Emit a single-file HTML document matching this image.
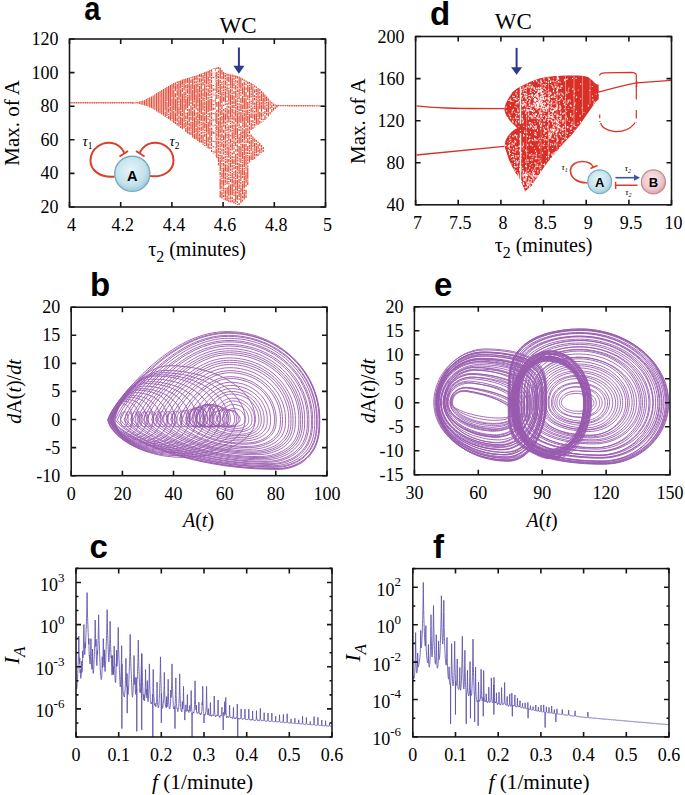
<!DOCTYPE html>
<html><head><meta charset="utf-8"><style>
html,body{margin:0;padding:0;background:#fff;}
body{width:685px;height:795px;overflow:hidden;}
svg{display:block;}
</style></head><body>
<svg width="685" height="795" viewBox="0 0 685 795">
<path d="M70.5 102.7 L134 102.7 M276 105.6 L324.5 105.9" stroke="#e0523e" stroke-width="1.4" fill="none" stroke-dasharray="1.3 0.5"/>
<path d="M132.50 102.1V103.4M134.22 102.5V103.5M135.94 102.0V103.5M137.66 102.0V103.5M139.38 101.5V104.0M141.10 101.0V104.5M142.82 100.5V105.0M144.54 100.0V105.5M146.26 99.0V106.0M147.98 98.0V106.5M149.70 97.5V107.5M151.42 96.5V108.0M153.14 95.5V109.0M154.86 94.5V110.0M156.58 93.0V111.5M158.30 92.0V112.5M160.02 91.0V113.5M161.74 90.0V114.5M163.46 89.0V115.5" stroke="#e0523e" stroke-width="1.15" fill="none"/>
<path d="M165.18 88.0V110.4M165.18 111.6V117.0M166.90 87.0V101.1M166.90 101.8V116.0M166.90 117.2V118.0M168.62 86.0V107.6M168.62 108.2V112.8M168.62 114.0V115.3M168.62 116.1V119.0M170.34 85.0V106.2M170.34 106.9V111.4M170.34 112.3V120.5M172.06 84.0V97.4M172.06 98.6V119.4M172.06 120.2V121.5M173.78 83.0V88.8M173.78 89.6V110.1M173.78 110.8V123.0M175.50 82.5V84.7M175.50 85.3V91.0M175.50 93.2V97.5M175.50 98.7V111.6M175.50 112.4V121.0M175.50 121.6V124.0M177.22 81.5V83.0M177.22 83.8V89.4M177.22 90.2V95.8M177.22 96.7V116.4M177.22 117.6V121.8M177.22 123.0V125.5M178.94 81.0V100.3M178.94 101.1V103.3M178.94 104.1V105.6M178.94 106.4V114.6M178.94 115.4V119.6M178.94 120.2V126.5M180.66 80.5V88.6M180.66 89.3V97.4M180.66 98.2V110.3M180.66 110.9V116.3M180.66 117.0V125.1M180.66 125.8V128.0M182.38 79.5V84.8M182.38 85.5V87.0M182.38 87.9V91.9M182.38 93.4V111.9M182.38 112.7V116.6M182.38 117.4V129.3M184.10 79.0V90.6M184.10 91.8V103.5M184.10 104.1V122.2M184.10 123.1V128.3M184.10 130.5V130.5M185.82 78.5V83.6M185.82 84.8V88.6M185.82 89.2V90.7M185.82 91.6V95.4M185.82 96.0V97.8M185.82 98.4V109.8M185.82 112.8V114.3M185.82 115.5V119.3M185.82 120.0V121.3M185.82 122.1V127.1M185.82 127.7V132.0M187.54 78.0V83.0M187.54 84.2V87.9M187.54 88.5V93.4M187.54 94.9V96.2M187.54 96.8V108.0M187.54 108.8V111.0M187.54 112.2V119.6M187.54 120.4V125.4M187.54 126.3V133.5M189.26 77.5V94.5M189.26 95.1V106.0M189.26 109.0V116.2M189.26 117.1V122.0M189.26 122.8V126.4M189.26 127.1V130.8M189.26 131.6V134.5M190.98 77.0V78.3M190.98 79.5V83.1M190.98 84.3V100.8M190.98 101.7V103.9M190.98 105.4V116.1M190.98 116.7V120.2M190.98 121.7V128.9M190.98 129.5V131.0M190.98 131.6V135.1M192.70 76.5V77.8M192.70 78.5V88.9M192.70 89.8V106.0M192.70 106.8V110.3M192.70 111.0V121.4M192.70 122.1V137.5M194.42 76.0V80.5M194.42 81.2V83.4M194.42 84.6V100.4M194.42 101.1V102.6M194.42 103.8V108.3M194.42 109.5V116.3M194.42 117.2V133.0M194.42 133.8V139.0M196.14 75.5V79.9M196.14 80.7V82.9M196.14 83.6V93.5M196.14 94.2V109.6M196.14 112.6V114.8M196.14 115.4V119.9M196.14 120.5V127.1M196.14 127.8V132.2M196.14 132.8V139.4M196.14 140.0V140.0M197.86 75.0V76.8M197.86 77.6V79.8M197.86 80.6V82.4M197.86 83.3V87.6M197.86 88.5V103.5M197.86 104.3V106.5M197.86 107.7V111.0M197.86 111.8V118.2M197.86 119.0V125.4M197.86 126.2V141.0M199.58 74.0V77.1M199.58 78.3V82.5M199.58 83.4V84.9M199.58 86.1V92.4M199.58 93.3V97.5M199.58 98.1V112.7M199.58 113.6V119.9M199.58 120.5V123.7M199.58 124.5V126.3M199.58 127.2V130.3M199.58 130.9V132.2M199.58 133.4V136.5M199.58 137.2V142.5M201.30 73.5V77.6M201.30 78.3V82.4M201.30 83.1V89.2M201.30 89.8V98.9M201.30 99.8V114.1M201.30 115.0V121.1M201.30 122.0V123.5M201.30 124.1V125.6M201.30 126.8V130.9M201.30 132.1V134.3M201.30 135.1V139.2M201.30 139.8V142.8M203.02 73.0V74.3M203.02 74.9V80.9M203.02 81.7V85.6M203.02 88.6V91.6M203.02 92.4V96.4M203.02 97.1V101.0M203.02 101.6V110.6M203.02 112.1V121.0M203.02 121.6V130.5M203.02 131.4V133.6M203.02 134.5V143.4M203.02 144.2V145.0M204.74 72.0V75.9M204.74 76.6V78.4M204.74 79.3V83.1M204.74 83.8V97.3M204.74 97.9V99.4M204.74 100.1V101.4M204.74 102.2V105.1M204.74 105.7V108.6M204.74 109.3V111.5M204.74 112.2V115.1M204.74 115.7V121.5M204.74 122.4V128.2M204.74 129.4V131.2M204.74 132.0V133.3M204.74 133.9V136.8M204.74 139.8V141.3M204.74 142.2V144.0M204.74 144.9V146.0M206.46 71.5V84.6M206.46 85.5V87.3M206.46 88.2V90.4M206.46 91.6V100.0M206.46 100.9V114.1M206.46 114.8V123.2M206.46 124.1V132.5M206.46 133.2V146.3M206.46 147.2V147.5M208.18 71.0V73.7M208.18 74.3V75.6M208.18 76.2V81.7M208.18 82.3V84.5M208.18 85.1V86.9M208.18 88.4V92.0M208.18 92.6V96.3M208.18 96.9V98.7M208.18 99.4V112.1M208.18 113.3V114.8M208.18 116.0V117.3M208.18 117.9V119.7M208.18 121.9V134.6M208.18 136.8V142.3M208.18 143.2V148.5M209.90 70.0V77.9M209.90 79.1V80.9M209.90 81.5V83.0M209.90 83.6V88.9M209.90 89.5V93.1M209.90 93.7V95.9M209.90 96.7V98.2M209.90 98.9V111.2M209.90 112.4V117.7M209.90 118.9V126.8M209.90 127.7V140.1M209.90 140.9V143.5M209.90 144.1V145.6M209.90 146.8V149.0M211.62 69.5V71.7M211.62 72.5V75.9M211.62 76.7V78.9M211.62 79.8V83.2M211.62 84.0V89.2M211.62 90.1V92.3M211.62 93.5V95.3M211.62 96.2V98.0M211.62 98.8V110.7M211.62 112.2V115.6M211.62 116.3V118.9M211.62 119.8V121.6M211.62 122.2V125.6M211.62 127.8V130.4M211.62 131.0V136.1M211.62 137.0V142.1M211.62 142.7V146.1M211.62 147.3V148.8M211.62 149.7V152.0M213.34 68.5V69.8M213.34 72.8V75.0M213.34 76.2V81.2M213.34 81.9V83.2M213.34 84.4V86.2M213.34 87.0V94.4M213.34 95.6V97.4M213.34 98.9V102.2M213.34 103.4V105.9M213.34 107.1V114.5M213.34 117.5V122.5M213.34 125.5V126.8M213.34 127.7V129.5M213.34 130.4V137.8M213.34 138.6V139.9M213.34 140.7V152.3M213.34 153.0V154.0M215.06 68.0V71.2M215.06 72.4V73.7M215.06 74.3V76.7M215.06 77.6V82.4M215.06 83.0V85.2M215.06 85.9V87.4M215.06 88.3V90.7M215.06 92.2V93.7M215.06 94.4V96.8M215.06 97.5V104.7M215.06 105.6V106.9M215.06 107.6V109.4M215.06 111.6V122.8M215.06 124.3V126.1M215.06 127.0V128.8M215.06 129.7V131.5M215.06 132.3V139.5M215.06 140.4V145.2M215.06 146.4V153.6M215.06 154.8V156.0M216.78 67.5V69.0M216.78 72.0V79.2M216.78 79.9V81.2M216.78 81.8V93.0M216.78 94.2V99.0M216.78 102.0V106.8M216.78 109.8V112.0M216.78 112.8V124.0M216.78 125.2V130.0M216.78 130.8V132.6M216.78 133.2V136.4M216.78 137.2V140.4M216.78 141.2V148.4M216.78 149.1V158.0M218.50 67.0V69.2M218.50 70.4V72.8M218.50 73.7V75.0M218.50 75.7V77.9M218.50 78.8V86.0M218.50 86.8V88.6M218.50 89.5V91.9M218.50 92.6V93.9M218.50 95.1V96.4M218.50 97.3V98.6M218.50 101.6V112.8M218.50 113.6V116.8M218.50 118.0V120.2M218.50 120.9V125.7M218.50 126.3V137.5M218.50 138.4V140.2M218.50 141.1V144.3M218.50 145.0V147.2M218.50 148.0V150.4M218.50 151.0V152.8M218.50 154.3V156.5M218.50 157.1V161.9M218.50 163.1V164.9M218.50 165.8V166.0M220.22 67.5V78.7M220.22 79.9V83.1M220.22 84.0V95.2M220.22 96.0V107.2M220.22 108.4V109.9M220.22 110.7V115.5M220.22 116.7V127.9M220.22 128.5V133.3M220.22 134.2V137.4M220.22 138.0V140.4M220.22 141.6V143.1M220.22 143.7V145.2M220.22 145.8V147.6M220.22 148.3V150.1M220.22 150.9V154.1M220.22 155.0V156.5M220.22 157.2V159.0M220.22 159.7V170.9M220.22 172.1V175.3M220.22 176.2V177.5M220.22 178.4V189.6M220.22 190.8V197.5M221.94 70.0V74.8M221.94 76.0V79.2M221.94 81.4V82.9M221.94 83.5V85.0M221.94 85.9V89.1M221.94 90.0V91.3M221.94 92.0V103.2M221.94 104.4V109.2M221.94 110.1V114.9M221.94 115.8V120.6M221.94 121.4V124.6M221.94 125.3V132.5M221.94 133.3V138.1M221.94 139.0V141.2M221.94 142.1V146.9M221.94 148.4V151.6M221.94 152.3V153.6M221.94 154.8V162.0M221.94 162.9V164.7M221.94 165.5V166.8M221.94 167.7V169.5M221.94 170.2V171.7M221.94 172.4V177.2M221.94 177.8V179.3M221.94 180.0V184.8M221.94 185.6V188.8M221.94 189.7V191.2M221.94 192.1V198.5M223.66 72.0V79.2M223.66 80.4V82.6M223.66 83.2V84.5M223.66 85.2V88.4M223.66 89.2V91.0M223.66 91.7V93.0M223.66 93.8V95.6M223.66 96.8V101.6M223.66 104.6V106.1M223.66 109.1V111.3M223.66 112.5V123.7M223.66 124.4V126.8M223.66 129.8V133.0M223.66 135.2V140.0M223.66 140.8V142.3M223.66 143.5V148.3M223.66 149.2V151.6M223.66 152.3V154.5M223.66 156.7V159.1M223.66 160.3V161.6M223.66 163.1V166.3M223.66 167.5V178.7M223.66 179.4V186.6M223.66 187.2V189.4M223.66 190.0V191.5M223.66 192.2V193.7M223.66 194.9V197.3M223.66 198.8V199.5M225.38 73.0V74.3M225.38 74.9V77.1M225.38 77.7V79.5M225.38 80.4V85.2M225.38 86.0V88.4M225.38 89.0V90.5M225.38 91.2V102.4M225.38 103.6V105.1M225.38 108.1V109.4M225.38 110.2V112.6M225.38 113.4V120.6M225.38 121.4V123.8M225.38 124.7V129.5M225.38 130.3V131.6M225.38 132.5V139.7M225.38 140.5V143.7M225.38 144.3V147.5M225.38 148.3V149.8M225.38 150.7V152.9M225.38 153.7V155.0M225.38 155.9V158.1M225.38 158.8V160.3M225.38 160.9V163.3M225.38 164.2V171.4M225.38 172.6V175.8M225.38 176.4V179.6M225.38 180.3V182.7M225.38 183.4V184.7M225.38 187.7V189.5M225.38 190.2V197.4M225.38 198.1V200.3M227.10 73.5V75.9M227.10 76.5V81.3M227.10 82.2V83.5M227.10 84.1V86.3M227.10 87.0V91.8M227.10 92.4V94.2M227.10 95.4V97.6M227.10 100.6V102.1M227.10 102.9V105.3M227.10 106.1V107.6M227.10 108.3V119.5M227.10 120.4V122.8M227.10 123.7V125.5M227.10 126.7V128.2M227.10 128.8V131.0M227.10 132.2V133.5M227.10 134.1V135.9M227.10 136.6V137.9M227.10 140.1V142.5M227.10 143.3V145.7M227.10 146.6V149.8M227.10 150.4V155.2M227.10 156.1V157.6M227.10 158.5V163.3M227.10 164.5V166.7M227.10 167.3V172.1M227.10 173.3V174.8M227.10 175.6V177.4M227.10 178.1V180.5M227.10 181.1V184.3M227.10 187.3V194.5M227.10 195.4V201.0M228.82 74.0V76.4M228.82 77.1V81.9M228.82 84.1V85.6M228.82 87.8V89.3M228.82 90.2V101.4M228.82 102.2V104.6M228.82 105.8V108.2M228.82 109.4V114.2M228.82 115.4V122.6M228.82 125.6V130.4M228.82 131.2V132.7M228.82 133.5V140.7M228.82 141.9V143.7M228.82 144.4V145.7M228.82 146.6V157.8M228.82 159.0V162.2M228.82 163.0V164.8M228.82 165.4V172.6M228.82 173.8V176.0M228.82 176.9V180.1M228.82 180.9V182.2M228.82 183.1V184.6M228.82 185.4V196.6M228.82 197.4V198.9M228.82 199.6V202.0M230.54 74.5V85.7M230.54 86.3V88.1M230.54 88.7V93.5M230.54 94.2V105.4M230.54 106.2V117.4M230.54 118.1V119.4M230.54 120.6V121.9M230.54 122.8V124.1M230.54 124.9V128.1M230.54 129.3V131.7M230.54 134.7V136.5M230.54 138.7V143.5M230.54 144.3V147.5M230.54 148.4V150.6M230.54 151.8V153.6M230.54 154.4V155.9M230.54 156.5V158.9M230.54 159.8V162.2M230.54 162.8V167.6M230.54 168.4V170.8M230.54 172.0V173.5M230.54 174.4V176.2M230.54 176.9V178.2M230.54 178.9V182.1M230.54 184.3V195.5M230.54 196.4V199.6M230.54 200.5V202.5M232.26 74.5V76.7M232.26 77.4V88.6M232.26 89.4V91.6M232.26 92.5V94.3M232.26 95.1V99.9M232.26 100.7V103.9M232.26 104.8V108.0M232.26 108.7V113.5M232.26 114.3V116.7M232.26 117.3V119.7M232.26 120.9V123.3M232.26 124.5V129.3M232.26 130.1V131.6M232.26 132.3V139.5M232.26 140.4V141.9M232.26 143.1V150.3M232.26 152.5V154.7M232.26 155.9V158.3M232.26 159.1V163.9M232.26 165.1V167.5M232.26 168.2V170.0M232.26 170.6V171.9M232.26 173.1V177.9M232.26 178.6V183.4M232.26 184.0V195.2M232.26 196.7V199.1M232.26 199.8V202.2M233.98 75.0V77.4M233.98 78.1V80.3M233.98 80.9V82.2M233.98 83.0V86.2M233.98 86.9V88.7M233.98 90.9V94.1M233.98 95.6V100.4M233.98 101.0V104.2M233.98 105.0V108.2M233.98 109.4V110.7M233.98 111.4V114.6M233.98 115.8V120.6M233.98 121.8V124.2M233.98 125.1V127.3M233.98 128.2V139.4M233.98 140.6V143.8M233.98 145.0V146.5M233.98 147.4V149.6M233.98 151.1V154.3M233.98 156.5V158.0M233.98 159.2V164.0M233.98 164.9V166.2M233.98 167.0V169.4M233.98 171.6V172.9M233.98 173.5V175.3M233.98 176.5V178.9M233.98 179.8V187.0M233.98 189.2V191.0M233.98 191.6V193.4M233.98 194.3V196.1M233.98 199.1V200.4M233.98 201.0V203.5M235.70 75.5V78.7M235.70 79.9V81.7M235.70 82.4V83.7M235.70 84.9V89.7M235.70 90.6V97.8M235.70 99.0V106.2M235.70 107.0V108.8M235.70 109.4V116.6M235.70 117.4V122.2M235.70 123.7V134.9M235.70 135.8V137.1M235.70 138.0V140.2M235.70 141.4V146.2M235.70 149.2V151.6M235.70 153.8V165.0M235.70 165.9V169.1M235.70 170.0V177.2M235.70 177.9V179.4M235.70 180.0V184.8M235.70 185.6V190.4M235.70 191.0V202.2M235.70 203.0V204.0M237.42 76.0V78.4M237.42 80.6V83.0M237.42 83.9V85.2M237.42 86.4V88.6M237.42 89.5V91.9M237.42 93.4V94.7M237.42 95.5V96.8M237.42 97.4V99.6M237.42 100.3V102.1M237.42 102.9V104.7M237.42 105.4V110.2M237.42 111.0V112.5M237.42 113.3V124.5M237.42 125.1V126.6M237.42 128.1V139.3M237.42 140.1V143.3M237.42 144.5V147.7M237.42 148.5V151.7M237.42 153.2V155.6M237.42 156.4V158.8M237.42 159.6V161.4M237.42 162.6V165.0M237.42 165.7V170.5M237.42 171.4V173.6M237.42 174.3V179.1M237.42 180.0V191.2M237.42 191.9V193.4M237.42 194.9V199.7M237.42 201.2V203.0M237.42 203.9V205.0M239.14 76.5V87.7M239.14 88.5V95.7M239.14 96.3V99.5M239.14 100.7V102.0M239.14 103.2V105.4M239.14 106.2V108.0M239.14 108.6V111.0M239.14 111.6V114.8M239.14 115.5V122.7M239.14 123.5V125.9M239.14 126.5V128.3M239.14 129.1V130.9M239.14 133.9V135.4M239.14 136.6V143.8M239.14 146.0V157.2M239.14 157.9V159.7M239.14 160.3V161.8M239.14 163.0V174.2M239.14 175.4V177.8M239.14 178.7V183.5M239.14 184.3V189.1M239.14 189.9V197.1M239.14 198.3V200.1M239.14 203.1V205.0M240.86 77.5V88.7M240.86 89.3V91.1M240.86 91.9V93.4M240.86 94.6V95.9M240.86 98.1V102.9M240.86 103.8V111.0M240.86 111.9V123.1M240.86 126.1V128.5M240.86 129.2V131.0M240.86 131.7V142.9M240.86 143.8V145.6M240.86 146.2V157.4M240.86 158.2V163.0M240.86 163.9V167.1M240.86 167.7V169.0M240.86 169.7V180.9M240.86 182.1V184.3M240.86 185.2V186.7M240.86 187.5V192.3M240.86 193.1V203.0M242.58 78.5V80.3M242.58 83.3V86.5M242.58 87.3V94.5M242.58 96.0V103.2M242.58 104.4V109.2M242.58 110.1V111.9M242.58 112.5V113.8M242.58 114.6V121.8M242.58 122.6V123.9M242.58 124.6V126.8M242.58 128.0V129.8M242.58 130.6V133.8M242.58 134.7V137.9M242.58 139.1V142.3M242.58 143.8V148.6M242.58 149.5V151.0M242.58 151.9V159.1M242.58 160.0V161.3M242.58 162.1V163.6M242.58 164.2V167.4M242.58 168.0V175.2M242.58 176.1V177.9M242.58 180.9V182.7M242.58 183.4V194.6M242.58 195.8V198.2M242.58 199.4V201.5M244.30 79.5V81.3M244.30 82.1V85.3M244.30 86.1V97.3M244.30 98.0V109.2M244.30 110.4V112.2M244.30 113.0V116.2M244.30 116.8V128.0M244.30 129.2V140.4M244.30 141.6V143.1M244.30 144.0V155.2M244.30 155.9V167.1M244.30 168.0V169.5M244.30 170.2V175.0M244.30 175.6V180.4M244.30 181.1V188.3M244.30 189.5V191.3M244.30 192.2V199.5M246.02 80.5V82.3M246.02 83.5V85.3M246.02 87.5V89.9M246.02 92.1V96.9M246.02 97.7V108.9M246.02 109.8V121.0M246.02 122.2V127.0M246.02 127.9V139.1M246.02 140.6V142.8M246.02 143.7V146.9M246.02 147.7V150.9M246.02 151.7V153.9M246.02 154.5V165.7M246.02 166.5V168.7M246.02 169.3V170.8M246.02 172.0V183.2M246.02 184.4V186.8M246.02 189.8V194.6M246.02 195.2V198.0M247.74 81.5V83.9M247.74 85.1V92.3M247.74 95.3V97.7M247.74 98.3V99.8M247.74 102.0V109.2M247.74 110.1V114.9M247.74 115.7V122.9M247.74 125.1V127.5M247.74 128.3V130.7M247.74 131.4V133.2M247.74 133.9V137.1M247.74 138.3V143.1M247.74 146.1V150.9M247.74 152.1V153.9M247.74 155.1V156.4M247.74 157.1V158.4M247.74 159.3V161.1M247.74 162.3V164.1M247.74 165.6V166.9M247.74 167.6V178.8M247.74 179.4V180.9M247.74 181.6V185.0M249.46 82.0V83.8M249.46 84.7V86.0M249.46 86.7V97.9M249.46 98.8V100.6M249.46 101.2V103.6M249.46 104.2V105.5M249.46 106.2V108.0M249.46 109.5V111.0M249.46 111.9V113.2M249.46 114.1V125.3M249.46 126.5V129.7M249.46 130.6V133.8M249.46 135.0V136.5M249.46 137.2V139.6M249.46 140.8V144.0M249.46 144.7V146.9M249.46 147.6V149.1M249.46 149.9V151.7M249.46 152.5V154.3M249.46 155.5V162.5M251.18 83.0V90.2M251.18 90.9V92.4M251.18 93.2V95.4M251.18 96.0V97.5M251.18 100.5V102.0M251.18 102.8V104.3M251.18 105.2V107.0M251.18 107.7V112.5M251.18 113.2V118.0M251.18 120.2V122.0M251.18 122.9V130.1M251.18 134.5V136.9M251.18 137.7V139.0M251.18 139.9V151.1M251.18 152.6V154.4M251.18 155.2V160.0M251.18 161.2V161.5M252.90 84.0V85.5M252.90 86.3V97.5M252.90 98.1V105.3M252.90 106.5V108.9M252.90 109.5V112.7M252.90 113.6V118.4M252.90 119.9V123.1M252.90 123.9V126.1M252.90 126.9V129.0M252.90 136.5V143.7M252.90 144.6V147.0M252.90 148.2V149.5M252.90 150.4V160.0M254.62 85.5V87.3M254.62 89.5V92.7M254.62 94.9V97.3M254.62 98.0V100.2M254.62 102.4V104.8M254.62 105.5V107.0M254.62 107.6V108.9M254.62 111.1V112.6M254.62 113.4V120.6M254.62 121.8V123.3M254.62 123.9V126.3M254.62 127.0V127.5M254.62 138.5V141.7M254.62 142.9V147.7M254.62 148.3V150.7M254.62 151.4V153.2M254.62 153.8V156.2M254.62 157.1V159.0M256.34 86.5V88.0M256.34 88.9V92.1M256.34 92.7V95.1M256.34 95.9V97.7M256.34 98.6V100.4M256.34 101.3V112.5M256.34 113.4V124.6M256.34 125.8V126.0M256.34 140.0V141.8M256.34 142.7V144.9M256.34 145.7V152.9M256.34 153.8V156.2M258.06 88.0V99.2M258.06 99.8V103.0M258.06 103.6V105.4M258.06 106.0V117.2M258.06 117.9V125.0M258.06 141.5V143.0M258.06 144.2V149.0M258.06 149.6V152.0M258.06 153.5V156.0M259.78 89.0V91.2M259.78 92.0V94.2M259.78 95.7V98.1M259.78 98.8V101.2M259.78 101.8V109.0M259.78 112.0V119.2M259.78 120.7V123.5M259.78 143.0V146.2M259.78 148.4V153.2M259.78 154.0V154.5M261.50 91.0V93.4M261.50 94.1V101.3M261.50 102.2V104.0M261.50 104.6V111.8M261.50 112.6V117.4M261.50 118.2V120.0M261.50 121.5V122.5M261.50 145.0V147.4M261.50 148.1V150.5M261.50 151.4V152.7M263.22 92.5V97.3M263.22 98.1V109.3M263.22 112.3V113.6M263.22 114.3V115.8M263.22 118.8V120.1M263.22 120.7V121.5M263.22 147.0V149.2M263.22 149.9V152.0M264.94 94.5V101.7M264.94 102.4V104.6M264.94 105.2V110.0M264.94 110.9V114.1M264.94 115.3V120.0M266.66 96.5V101.3M266.66 102.0V103.5M266.66 104.4V106.2M266.66 107.4V112.2M266.66 112.9V115.3M266.66 117.5V118.5M268.38 98.5V100.7M268.38 101.4V112.6M268.38 113.2V116.4M270.10 100.5V102.7M270.10 103.3V105.5M270.10 106.7V108.9M270.10 111.9V114.3M271.82 102.0V103.8M271.82 104.7V107.9M271.82 109.1V112.3M273.54 103.5V105.9M273.54 107.4V110.5M275.26 104.5V105.8M275.26 106.5V109.0M276.98 105.0V107.5" stroke="#e0523e" stroke-width="1.25" fill="none"/>
<path d="M212.6 69.0h2.4v2.5h-2.4zM212.6 72.7h2.4v4h-2.4zM212.2 77.9h3.2v7h-3.2zM212.4 86.1h2.8v2.5h-2.8zM212.6 90.8h2.4v3h-2.4zM212.6 95.4h2.4v5h-2.4zM212.6 101.6h2.4v2.5h-2.4zM212.4 105.3h2.8v2.5h-2.8zM212.4 110.0h2.8v3h-2.8zM212.4 114.2h2.8v5h-2.8zM212.6 120.4h2.4v4h-2.4zM212.6 126.6h2.4v5h-2.4zM212.2 133.8h3.2v7h-3.2zM212.2 142.0h3.2v4h-3.2zM212.2 147.2h3.2v4h-3.2zM212.2 153.4h3.2v2.5h-3.2zM212.6 157.5h2.4v3h-2.4z" fill="#fff" opacity="0.95"/>
<path d="M238.9 47.5V68" stroke="#2b3990" stroke-width="2" fill="none"/><path d="M233.4 65.8L244.4 65.8L238.9 73.8Z" fill="#2b3990"/>
<defs><radialGradient id="ga" cx="0.45" cy="0.4" r="0.6"><stop offset="0" stop-color="#e6f4f8"/><stop offset="0.7" stop-color="#c4e2ec"/><stop offset="1" stop-color="#9ccbdb"/></radialGradient>
<radialGradient id="gb" cx="0.45" cy="0.4" r="0.6"><stop offset="0" stop-color="#f8e8ea"/><stop offset="0.7" stop-color="#ecc8cc"/><stop offset="1" stop-color="#d8a2a8"/></radialGradient></defs>
<path d="M115 176.5 C100 178 90 170 90.5 160 C91 148 102 141.5 112 143 C118 144 122 148 124.5 153" stroke="#d9402b" stroke-width="2" fill="none"/>
<path d="M119.5 156.5 L128 151" stroke="#d9402b" stroke-width="2" fill="none"/>
<path d="M150 176 C164 178 174 170 173.5 160 C173 148 162 141.5 152 143 C146 144 142 148 139.5 153" stroke="#d9402b" stroke-width="2" fill="none"/>
<path d="M144.5 156.5 L136 151" stroke="#d9402b" stroke-width="2" fill="none"/>
<circle cx="132.3" cy="173.8" r="17.6" fill="url(#ga)" stroke="#78aebe" stroke-width="1.4"/>
<text x="132.3" y="180.6" font-family="Liberation Sans, sans-serif" font-weight="bold" font-size="14.5" text-anchor="middle">A</text>
<text x="82.5" y="145.5" font-family="Liberation Serif, serif" font-style="italic" font-size="14.5">τ<tspan dy="3" font-size="9.5" font-style="normal">1</tspan></text>
<text x="169.5" y="145.5" font-family="Liberation Serif, serif" font-style="italic" font-size="14.5">τ<tspan dy="3" font-size="9.5" font-style="normal">2</tspan></text>
<path d="M416.6 105.8 C430 107.5 445 108.2 470 108.5 L504 108.6" stroke="#da2f27" stroke-width="1.3" fill="none"/>
<path d="M416.6 155 L504 146.3" stroke="#da2f27" stroke-width="1.3" fill="none"/>
<path d="M598.5 92.2 C610 89 625 85 636.5 82.9 L671 80.4" stroke="#da2f27" stroke-width="1.3" fill="none"/>
<path d="M636.5 81 V87" stroke="#da2f27" stroke-width="1.6" fill="none"/>
<path d="M599.5 75.5 C600 73.5 602 73 605 72.9 L632 72.4 C635 72.6 636.5 74 636.4 76" stroke="#da2f27" stroke-width="1.2" fill="none"/>
<path d="M636.3 76 V81 M636.3 86 V99.5 M636.3 110 V118.5 M636.3 122 V122.5" stroke="#da2f27" stroke-width="1.2" fill="none"/>
<path d="M599.7 114.6 V118.3 M599.9 121 V122" stroke="#da2f27" stroke-width="1.2" fill="none"/>
<path d="M600.5 123 C602 128 606 130.5 614.8 131.6 C623 132 630 129 634.2 123.9 L635 122.5" stroke="#da2f27" stroke-width="1.2" fill="none"/>
<path d="M504.2 108.8 L506.0 103.0 L509.0 97.5 L512.6 92.0 L517.0 88.5 L523.6 84.9 L531.0 81.5 L539.3 78.6 L547.0 77.0 L555.0 76.0 L567.0 75.6 L578.6 75.5 L584.0 76.0 L588.0 77.0 L592.0 80.0 L594.3 82.6 L596.5 84.2 L598.6 84.5 L598.8 93.0 L598.6 99.5 L596.0 101.4 L588.0 113.0 L580.0 124.5 L572.0 134.5 L562.9 143.9 L555.0 153.5 L547.2 162.8 L539.0 174.5 L531.4 186.4 L525.2 191.5 L520.4 180.0 L516.0 174.0 L512.6 167.5 L509.0 160.0 L506.3 151.8 L504.5 146.5 L505.5 140.5 L507.9 136.0 L511.0 132.5 L514.2 129.7 L517.3 128.2 L514.0 125.0 L511.0 121.9 L508.5 119.0 L506.3 115.6 L505.0 112.5Z" fill="#da2f27"/>
<path d="M519.2 169.1h1.2v1.8h-1.2zM532.4 117.6h0.9v1.3h-0.9zM538.8 143.3h0.9v1h-0.9zM537.8 144.3h1v1.3h-1zM535.0 107.3h1.2v1.3h-1.2zM527.3 106.6h1v1.3h-1zM576.0 110.8h1v1.3h-1zM544.4 138.9h1.2v1h-1.2zM529.4 85.1h0.9v1.3h-0.9zM540.0 83.5h1.2v0.9h-1.2zM537.1 120.5h1v1.3h-1zM541.6 86.4h0.9v1h-0.9zM544.7 129.9h0.9v1h-0.9zM521.5 117.7h1.2v1.8h-1.2zM553.3 116.3h0.9v1h-0.9zM533.1 81.1h0.9v1h-0.9zM540.1 165.8h1v1h-1zM556.9 78.2h0.9v1.3h-0.9zM549.0 133.0h0.9v1.8h-0.9zM569.1 99.5h1.2v1h-1.2zM541.3 100.4h0.9v1.3h-0.9zM541.0 112.4h1v1.8h-1zM523.6 108.8h1v1.8h-1zM530.1 159.5h0.9v1.3h-0.9zM555.7 121.4h1v1.8h-1zM526.6 153.6h1v0.9h-1zM556.6 126.0h1v1h-1zM564.4 79.3h1.2v1.8h-1.2zM522.1 173.4h1v1h-1zM541.4 97.5h1v1.3h-1zM511.3 156.1h1v1h-1zM520.8 91.2h1.2v1.3h-1.2zM557.3 76.1h1.2v1.8h-1.2zM562.1 129.0h0.9v1.8h-0.9zM522.7 183.0h1.2v1.8h-1.2zM524.6 103.3h1.2v1.3h-1.2zM513.8 165.7h1.2v0.9h-1.2zM516.7 94.8h1v1.3h-1zM519.5 157.5h1.2v1.3h-1.2zM548.2 119.0h0.9v1.8h-0.9zM523.5 102.8h1.2v1.3h-1.2zM546.2 156.0h1v0.9h-1zM549.3 136.6h1.2v1.8h-1.2zM512.5 101.0h1v0.9h-1zM546.1 97.5h1v0.9h-1zM538.4 92.0h0.9v1h-0.9zM537.3 165.8h1.2v0.9h-1.2zM554.0 135.6h1.2v1.8h-1.2zM546.7 106.2h1.2v1.8h-1.2zM534.0 98.0h1.2v1.8h-1.2zM537.0 174.9h0.9v1.8h-0.9zM533.6 88.3h1.2v1h-1.2zM540.0 170.4h1v1.8h-1zM548.5 151.8h1.2v1h-1.2zM521.4 89.1h1v1.3h-1zM534.3 134.0h0.9v1.3h-0.9zM535.2 105.6h0.9v1.3h-0.9zM537.7 104.5h1.2v1.8h-1.2zM553.9 121.2h0.9v0.9h-0.9zM552.2 121.0h1.2v1.8h-1.2zM553.5 118.3h0.9v0.9h-0.9zM515.5 122.8h1.2v1.8h-1.2zM536.0 102.6h1v1.3h-1zM531.7 159.1h1v0.9h-1zM523.9 102.7h1.2v1.8h-1.2zM536.8 95.2h1.2v1.8h-1.2zM522.5 100.9h0.9v1.8h-0.9zM534.6 106.3h1v1.8h-1zM528.9 84.0h1.2v0.9h-1.2zM568.8 120.7h0.9v1.3h-0.9zM550.8 128.4h1v1h-1zM528.9 115.5h1v1.3h-1zM531.6 105.0h0.9v1.8h-0.9zM526.2 95.7h1.2v1.3h-1.2zM536.3 101.9h0.9v1.8h-0.9zM566.1 135.2h1v0.9h-1zM523.5 187.1h1v1h-1zM529.3 123.0h0.9v1h-0.9zM509.3 139.0h1v1.3h-1zM533.9 88.9h1v1h-1zM522.6 92.8h1.2v1h-1.2zM522.0 104.9h0.9v1.8h-0.9zM538.7 101.8h1.2v1.8h-1.2zM573.4 94.8h1.2v1h-1.2zM556.0 136.5h0.9v1h-0.9zM557.5 121.2h0.9v1h-0.9zM524.8 175.5h1v1.3h-1zM549.3 98.6h0.9v1.3h-0.9zM516.5 147.2h1v0.9h-1zM518.2 100.8h0.9v1.8h-0.9zM523.7 179.1h1.2v1.8h-1.2zM540.9 163.2h1v1.3h-1zM529.2 138.9h1v1.8h-1zM537.4 94.0h0.9v1h-0.9zM546.3 97.7h1v1h-1zM532.6 156.5h1v0.9h-1zM538.0 118.0h1.2v1.3h-1.2zM510.2 138.7h1.2v1h-1.2zM528.9 122.2h1.2v1.3h-1.2zM535.1 150.3h1v1.8h-1zM526.9 99.0h1.2v1.3h-1.2zM579.9 120.9h1.2v1.8h-1.2zM548.7 136.1h1.2v0.9h-1.2zM520.7 89.3h0.9v1h-0.9zM520.8 180.8h1.2v1.3h-1.2zM563.4 119.4h1v1h-1zM510.0 153.0h0.9v0.9h-0.9zM527.1 184.0h1v1.8h-1zM514.7 170.6h0.9v1.8h-0.9zM569.7 127.6h1.2v1h-1.2zM515.5 146.7h0.9v1.8h-0.9zM528.6 97.6h0.9v1.3h-0.9zM513.9 166.3h1.2v1h-1.2zM545.8 130.2h0.9v1.3h-0.9zM551.4 113.7h1v1.3h-1zM520.1 139.6h1v1h-1zM535.8 113.2h1.2v1.8h-1.2zM520.2 166.2h1v1.3h-1zM532.3 117.1h0.9v1h-0.9zM544.9 89.0h0.9v0.9h-0.9zM527.6 181.3h0.9v1.8h-0.9zM533.4 115.5h1v0.9h-1zM523.4 174.1h0.9v1.8h-0.9zM516.7 162.8h0.9v1.8h-0.9zM532.9 173.7h1.2v1.3h-1.2zM540.1 80.2h1.2v1.3h-1.2zM531.0 182.2h0.9v0.9h-0.9zM552.4 96.9h0.9v0.9h-0.9zM536.5 93.5h0.9v1.3h-0.9zM529.1 100.3h1.2v0.9h-1.2zM540.4 107.0h1v1.8h-1zM512.3 153.9h1.2v1h-1.2zM523.6 177.9h1v1.8h-1zM574.2 103.8h0.9v1.8h-0.9zM514.2 166.3h0.9v1h-0.9zM543.7 99.3h1v1.3h-1zM539.2 137.7h0.9v1h-0.9zM561.2 142.4h1.2v0.9h-1.2zM550.6 101.9h1.2v1.8h-1.2zM524.3 95.3h1.2v1.8h-1.2zM529.6 122.0h1.2v1.3h-1.2zM516.5 149.2h1v1h-1zM543.0 127.0h0.9v1.3h-0.9zM534.8 104.4h1.2v1h-1.2zM540.6 90.1h1.2v1.8h-1.2zM530.1 89.4h1.2v1.8h-1.2zM533.3 180.4h1v1h-1zM549.4 132.1h1.2v0.9h-1.2zM557.7 120.8h0.9v0.9h-0.9zM555.4 152.5h1.2v1h-1.2zM555.6 107.1h1v1.3h-1zM522.0 115.0h0.9v1.8h-0.9zM562.3 132.2h1v0.9h-1zM516.2 98.4h1.2v1.8h-1.2zM524.3 87.8h1.2v1.3h-1.2zM527.9 188.5h0.9v1.3h-0.9zM509.0 147.8h0.9v0.9h-0.9zM538.4 82.8h0.9v1h-0.9zM552.6 128.9h1.2v1.8h-1.2zM553.9 108.6h0.9v1.8h-0.9zM520.6 96.3h1.2v1.3h-1.2zM533.8 88.1h1.2v1.8h-1.2zM528.6 97.3h1.2v1.3h-1.2zM532.7 176.4h1v1h-1zM532.5 174.6h1.2v1.3h-1.2zM536.6 157.8h0.9v0.9h-0.9zM532.7 127.9h1v1h-1zM558.9 102.6h0.9v0.9h-0.9zM537.6 94.6h1v1.3h-1zM523.5 187.2h0.9v1h-0.9zM546.1 138.9h1.2v1.3h-1.2zM539.4 111.9h1.2v1h-1.2zM566.2 110.8h0.9v1.3h-0.9zM557.9 78.4h0.9v1.3h-0.9zM521.7 145.8h1.2v1.8h-1.2zM541.5 92.9h1.2v0.9h-1.2zM528.1 178.6h1v0.9h-1zM521.4 94.9h1.2v0.9h-1.2zM530.2 98.1h0.9v1h-0.9zM527.8 169.6h0.9v1.3h-0.9zM542.6 138.0h1.2v0.9h-1.2zM515.2 156.4h0.9v1.3h-0.9zM527.5 170.3h1v0.9h-1zM545.7 80.9h1.2v1.8h-1.2zM532.3 176.9h1v1.8h-1zM534.1 87.3h0.9v1.3h-0.9zM524.1 92.9h1v1.8h-1zM528.4 177.4h1v1.8h-1zM566.6 92.8h0.9v1.3h-0.9zM538.4 110.5h1v1h-1zM544.1 105.6h1.2v1h-1.2zM513.1 155.6h0.9v1.8h-0.9zM545.9 116.8h1.2v1.3h-1.2zM540.7 89.1h0.9v1.3h-0.9zM524.5 174.9h0.9v1.3h-0.9zM518.0 175.3h1.2v1h-1.2zM521.2 152.2h1v1.3h-1zM559.6 106.8h0.9v1.8h-0.9zM553.0 138.8h1.2v0.9h-1.2zM525.6 87.2h1v1.8h-1zM550.5 92.5h1v1h-1zM534.8 170.2h1.2v0.9h-1.2zM516.8 165.4h1v1.8h-1zM542.3 94.5h1v1h-1zM559.1 147.0h1v0.9h-1zM535.1 139.3h1v0.9h-1zM515.9 119.7h1v1h-1zM570.7 105.1h0.9v1.8h-0.9zM591.7 86.2h1.2v0.9h-1.2zM532.5 173.0h0.9v1.8h-0.9zM550.9 133.4h1.2v1.3h-1.2zM557.7 123.0h1v0.9h-1zM552.2 110.8h1.2v1.8h-1.2zM559.3 109.0h1.2v1.3h-1.2zM558.0 126.2h1v1.8h-1zM530.6 115.9h1v1h-1zM529.3 136.0h1v1.8h-1zM540.2 114.9h1.2v0.9h-1.2zM548.8 96.9h0.9v1h-0.9zM543.3 132.3h1.2v1.3h-1.2zM526.4 174.1h1.2v1.8h-1.2zM534.4 94.8h1.2v1.3h-1.2zM536.2 106.8h1.2v1.3h-1.2zM521.7 103.7h0.9v1.3h-0.9zM554.7 86.2h1v1.8h-1zM515.1 149.8h1.2v1h-1.2zM552.2 107.5h1.2v1h-1.2zM523.9 135.0h0.9v1.3h-0.9zM557.7 129.6h1.2v1h-1.2zM548.7 101.2h0.9v0.9h-0.9zM533.9 126.1h1.2v1.3h-1.2zM535.0 127.9h1v1.3h-1zM550.5 119.1h1v1.3h-1zM515.4 92.8h1v1.8h-1zM570.0 127.8h0.9v1.8h-0.9zM550.1 137.3h0.9v1.3h-0.9zM548.1 105.6h1.2v1.3h-1.2zM570.4 115.1h0.9v1.8h-0.9zM559.4 108.3h1.2v0.9h-1.2zM530.7 173.6h0.9v1h-0.9zM547.5 97.7h1.2v1.8h-1.2zM540.7 112.8h1.2v1h-1.2zM530.9 125.4h1v1.3h-1zM559.7 81.8h0.9v1.3h-0.9zM561.5 85.3h1v1.8h-1zM535.4 126.9h1v1.8h-1zM550.7 116.1h0.9v1.3h-0.9zM560.3 110.7h1.2v0.9h-1.2zM524.2 180.0h0.9v0.9h-0.9zM522.8 176.3h1v1.3h-1zM513.3 143.9h0.9v0.9h-0.9zM520.1 171.5h1v0.9h-1zM529.8 126.5h0.9v0.9h-0.9zM512.3 135.6h0.9v1.3h-0.9zM530.1 109.5h0.9v1h-0.9zM548.7 115.9h1.2v1.3h-1.2zM520.6 166.3h1.2v1h-1.2zM552.2 115.4h1.2v1h-1.2zM523.4 101.1h0.9v1.3h-0.9zM553.2 77.7h0.9v1h-0.9zM536.8 102.0h1.2v1.8h-1.2zM536.0 93.4h1v1.3h-1zM525.0 165.0h1v1.8h-1zM534.8 98.2h1.2v1.8h-1.2zM550.4 135.6h0.9v1h-0.9zM559.6 127.3h1.2v1.3h-1.2zM531.8 124.0h1v0.9h-1zM544.5 149.0h1v1.3h-1zM557.3 91.8h0.9v0.9h-0.9zM539.7 160.3h0.9v1.3h-0.9zM520.7 154.9h0.9v1.3h-0.9zM544.7 98.4h1v1.3h-1zM525.2 104.0h0.9v1.3h-0.9zM512.8 117.9h0.9v1.3h-0.9zM513.1 151.4h1v1h-1zM546.0 160.3h0.9v0.9h-0.9zM534.0 97.9h0.9v1.3h-0.9zM524.3 173.8h1v1h-1zM548.9 78.8h1.2v1.3h-1.2zM545.9 134.6h1v0.9h-1zM515.4 157.4h1.2v0.9h-1.2zM527.2 110.0h1.2v1h-1.2zM558.6 93.9h1v1.3h-1zM552.6 121.2h0.9v0.9h-0.9zM528.8 97.3h1.2v0.9h-1.2zM537.1 96.1h1.2v1.8h-1.2zM545.1 115.4h1.2v1.3h-1.2zM551.6 120.5h1v1h-1zM522.6 86.1h0.9v1.3h-0.9zM515.0 116.6h1.2v1.8h-1.2zM529.0 186.0h1v1h-1zM521.9 175.4h0.9v0.9h-0.9zM537.7 118.5h0.9v1h-0.9zM557.2 107.4h0.9v1.3h-0.9zM534.1 103.3h0.9v1.3h-0.9zM536.3 80.5h0.9v1.3h-0.9zM527.0 186.6h0.9v0.9h-0.9zM533.8 180.7h1v1h-1zM552.3 128.5h1v1.3h-1zM528.2 140.4h1.2v1.3h-1.2zM531.3 115.7h1v1.8h-1zM524.3 108.7h1v1.8h-1zM528.4 95.0h1.2v0.9h-1.2zM526.8 183.8h0.9v1.8h-0.9zM516.3 135.0h1.2v1.3h-1.2zM523.5 183.8h0.9v1h-0.9zM527.3 159.3h1.2v1.8h-1.2zM566.0 79.0h0.9v0.9h-0.9zM531.7 176.9h1v0.9h-1zM543.3 84.2h1.2v0.9h-1.2zM546.5 140.2h0.9v0.9h-0.9zM514.9 155.0h0.9v1.3h-0.9zM527.1 86.0h1v1.3h-1zM575.7 77.8h0.9v1.3h-0.9zM535.2 154.8h0.9v1h-0.9zM562.5 121.9h0.9v1.8h-0.9zM531.0 153.3h0.9v0.9h-0.9zM522.6 88.3h1v0.9h-1zM507.5 146.3h1.2v0.9h-1.2zM522.9 90.4h0.9v1.3h-0.9zM515.4 112.8h1.2v1.3h-1.2zM534.9 103.5h1.2v1.8h-1.2zM513.0 147.8h0.9v1.3h-0.9zM514.7 98.0h0.9v1.3h-0.9zM533.8 175.3h1v1.3h-1zM530.4 144.0h0.9v0.9h-0.9zM548.3 152.7h1.2v1.8h-1.2zM557.2 138.1h1v1h-1zM540.5 91.6h1.2v1h-1.2zM554.0 97.1h0.9v0.9h-0.9zM560.4 136.3h1.2v1h-1.2zM528.4 173.5h1.2v0.9h-1.2zM530.3 143.8h1.2v1.8h-1.2zM547.5 97.2h0.9v1.8h-0.9zM534.0 147.8h0.9v1h-0.9zM553.5 152.0h1.2v1.8h-1.2zM569.7 104.5h1v1.8h-1zM525.2 149.6h1.2v1.3h-1.2zM519.8 159.3h1v1.3h-1zM548.3 111.9h1.2v1.3h-1.2zM562.2 113.4h1.2v1h-1.2zM557.2 139.3h1.2v1.8h-1.2zM546.7 107.2h1v0.9h-1zM537.1 170.0h1v1.8h-1zM542.2 84.6h1v1h-1zM548.6 114.8h0.9v1.8h-0.9zM522.7 86.9h0.9v0.9h-0.9zM519.0 150.1h0.9v1.3h-0.9zM530.4 107.2h1.2v1.8h-1.2zM530.6 175.3h1.2v1.8h-1.2zM529.7 164.1h1v1.3h-1zM528.8 187.2h1v1.8h-1zM527.0 185.0h0.9v0.9h-0.9zM515.5 169.7h0.9v1h-0.9zM518.0 113.4h0.9v1.8h-0.9zM545.2 98.9h1v0.9h-1zM523.3 155.7h1.2v0.9h-1.2zM527.2 144.3h1v1.8h-1zM556.9 89.1h1.2v1.8h-1.2zM566.9 78.6h0.9v0.9h-0.9zM531.3 105.1h1v1.8h-1zM523.2 125.7h1.2v1h-1.2zM512.0 150.7h0.9v1.3h-0.9zM558.2 125.1h1v1.8h-1zM544.1 163.2h1v1.8h-1zM528.7 104.8h0.9v1.3h-0.9zM569.5 133.9h1v1h-1zM539.6 119.5h1.2v1h-1.2zM563.9 80.2h1.2v1h-1.2zM559.9 133.9h1v1.8h-1zM556.7 93.2h1.2v1.3h-1.2zM518.4 176.6h0.9v1.8h-0.9zM530.1 125.1h1.2v1.8h-1.2zM548.8 115.1h1.2v1h-1.2zM544.6 137.0h0.9v1.8h-0.9zM525.8 174.4h1.2v1.3h-1.2zM516.8 149.6h1v1h-1zM540.2 96.4h1v1h-1zM519.3 99.8h1.2v1.3h-1.2zM541.7 98.1h1v0.9h-1zM531.7 122.8h0.9v1.3h-0.9zM538.8 100.3h1.2v1h-1.2zM534.7 113.5h0.9v1.3h-0.9zM554.5 95.1h1v1h-1zM528.9 105.0h1v1h-1zM549.8 128.4h1v1.8h-1zM522.8 148.6h0.9v1h-0.9zM540.1 172.8h1.2v1.3h-1.2zM529.3 94.7h1v1.3h-1zM550.8 96.3h0.9v0.9h-0.9zM556.8 114.4h1.2v1.3h-1.2zM559.4 115.4h0.9v1.8h-0.9zM558.1 78.1h1v1.3h-1zM537.1 92.5h0.9v1.8h-0.9zM546.9 118.9h1v0.9h-1zM536.4 139.8h1.2v1.3h-1.2zM543.6 105.8h1v1.3h-1zM548.4 123.3h1.2v1.3h-1.2zM566.1 115.5h0.9v0.9h-0.9zM527.8 125.8h1.2v1.8h-1.2zM538.5 87.8h1.2v1.3h-1.2zM556.1 99.5h1.2v0.9h-1.2zM506.0 110.2h1.2v1.3h-1.2zM534.7 134.0h1v1.3h-1zM551.6 101.1h0.9v1.3h-0.9zM533.8 172.3h1v1.8h-1zM514.4 135.3h0.9v0.9h-0.9zM532.2 145.3h0.9v1h-0.9zM553.7 126.9h0.9v1.3h-0.9zM522.8 181.7h1.2v1.8h-1.2zM541.3 89.8h0.9v1.3h-0.9zM534.5 168.6h1v0.9h-1zM537.5 169.7h0.9v1.8h-0.9zM543.7 91.4h0.9v1.3h-0.9zM564.5 138.7h1v0.9h-1zM541.0 105.8h0.9v1.8h-0.9zM560.3 130.8h0.9v1.3h-0.9zM548.9 103.3h1.2v0.9h-1.2zM529.7 186.5h1.2v0.9h-1.2zM547.6 117.3h1v1h-1zM530.8 117.7h1.2v0.9h-1.2zM539.3 112.3h1.2v1.8h-1.2zM584.4 118.0h1v1h-1zM517.5 103.3h1v1h-1zM533.0 111.3h0.9v1h-0.9zM529.1 109.7h0.9v0.9h-0.9zM529.2 100.6h1v1.8h-1zM529.3 127.6h0.9v1h-0.9zM537.1 106.1h1.2v1.3h-1.2zM580.2 98.3h1v1.3h-1zM509.2 150.1h0.9v1.3h-0.9zM538.4 101.5h1v1h-1zM545.7 84.1h1.2v0.9h-1.2zM566.6 102.4h1.2v1h-1.2zM522.8 175.2h0.9v1.3h-0.9zM510.3 141.0h1v1h-1zM543.3 108.0h1v1h-1zM524.4 93.1h0.9v0.9h-0.9zM537.6 172.6h1v1h-1zM537.1 103.5h1.2v1.3h-1.2zM573.7 124.5h0.9v1.8h-0.9zM572.0 116.6h1v1h-1zM529.1 182.8h1.2v0.9h-1.2zM535.5 96.3h1.2v1h-1.2zM559.9 95.8h0.9v1h-0.9zM515.1 134.0h1v1.8h-1zM589.4 90.0h1v0.9h-1zM555.5 100.9h0.9v1.8h-0.9zM513.1 148.5h1v0.9h-1zM535.2 100.5h1v1.3h-1zM535.1 89.5h0.9v1.8h-0.9zM587.9 104.8h1.2v1.8h-1.2zM534.5 100.0h1v1.8h-1zM553.3 126.4h0.9v1h-0.9zM529.7 98.4h1.2v1h-1.2zM541.2 125.3h0.9v1h-0.9zM554.9 151.3h1v1.3h-1zM533.6 99.1h1.2v1.8h-1.2zM543.8 80.4h0.9v1h-0.9zM575.9 96.6h1.2v1.3h-1.2zM562.8 132.7h0.9v1h-0.9zM519.1 138.0h1v1.8h-1zM525.1 96.3h1v1h-1zM549.7 134.8h1.2v1.8h-1.2zM521.7 109.4h1v1.8h-1zM533.4 154.4h0.9v1.3h-0.9zM529.1 167.3h1.2v1.3h-1.2zM516.4 174.6h0.9v1.8h-0.9zM516.6 161.5h0.9v1.3h-0.9zM508.7 145.7h1v1.8h-1zM560.1 87.6h1.2v1.3h-1.2zM547.5 101.6h0.9v1.8h-0.9zM538.5 103.2h1.2v1h-1.2zM553.3 116.3h0.9v0.9h-0.9zM544.2 103.7h1v1.3h-1zM534.9 174.8h1v0.9h-1zM520.1 102.4h0.9v1.8h-0.9zM531.7 93.4h0.9v1.8h-0.9zM540.9 163.2h1.2v1h-1.2zM547.0 120.7h1v1.3h-1zM543.8 139.6h1.2v1h-1.2zM564.3 137.4h0.9v1.3h-0.9zM524.1 132.0h0.9v0.9h-0.9zM551.9 148.0h0.9v0.9h-0.9zM550.8 102.9h1v1h-1zM561.7 92.9h0.9v1.8h-0.9zM525.9 176.7h1.2v1h-1.2zM543.7 87.4h1.2v1.3h-1.2zM545.9 101.3h1.2v1h-1.2zM535.8 95.5h1v1.8h-1zM524.9 180.6h1.2v0.9h-1.2zM556.3 80.1h1v0.9h-1zM535.6 127.4h1.2v1.3h-1.2zM552.9 130.5h0.9v1.8h-0.9zM550.1 116.5h1.2v1h-1.2zM537.9 90.8h0.9v0.9h-0.9zM534.0 138.0h1v1.8h-1zM529.3 122.2h0.9v1.8h-0.9zM528.2 102.0h1v1.3h-1zM567.8 89.5h0.9v1h-0.9zM542.5 105.0h1.2v1h-1.2zM556.7 118.5h1.2v1h-1.2zM537.1 107.9h1v1.3h-1zM553.4 99.9h1.2v0.9h-1.2zM511.4 163.3h1v0.9h-1zM522.3 122.2h1v1.3h-1zM527.5 161.8h1.2v1h-1.2zM541.7 95.2h1.2v1.8h-1.2zM525.1 171.7h0.9v1.8h-0.9zM562.5 140.1h1.2v0.9h-1.2zM551.4 133.2h0.9v0.9h-0.9zM505.7 106.4h1.2v1.3h-1.2zM560.1 105.5h0.9v1.8h-0.9zM509.0 152.3h0.9v1.3h-0.9zM551.6 138.2h1.2v1.8h-1.2zM542.3 94.5h1v1.3h-1zM542.4 92.8h1.2v1.3h-1.2zM550.2 114.1h0.9v0.9h-0.9zM537.6 90.7h1v1h-1zM527.6 188.8h1.2v1.3h-1.2zM540.7 112.7h0.9v1h-0.9zM508.9 153.4h0.9v1.8h-0.9zM525.7 151.3h1.2v1h-1.2zM518.2 98.0h1v1h-1zM550.1 80.5h0.9v1.8h-0.9zM528.8 87.3h1v0.9h-1zM513.8 134.4h1v1h-1zM519.9 133.4h0.9v1.3h-0.9zM556.5 123.9h1v1.3h-1zM554.8 81.2h1.2v0.9h-1.2zM550.5 135.2h1.2v1.3h-1.2zM532.9 125.4h1.2v0.9h-1.2zM537.3 164.2h0.9v0.9h-0.9zM544.3 165.3h1v1.3h-1zM535.1 138.7h1.2v1.3h-1.2zM551.0 107.8h0.9v1h-0.9zM540.9 80.7h0.9v1.8h-0.9zM544.1 130.6h1v1h-1zM548.0 137.9h1.2v0.9h-1.2zM544.9 97.1h1v1.3h-1zM566.1 91.4h1v1.3h-1zM533.6 171.8h1v1h-1zM531.6 159.6h1v1.3h-1zM535.7 93.3h0.9v1.3h-0.9zM534.3 101.4h1v1h-1zM548.5 160.9h1v1.8h-1zM543.8 129.2h1.2v1.3h-1.2zM543.7 109.5h1v0.9h-1zM551.3 100.0h0.9v1.3h-0.9zM539.1 123.1h0.9v1.3h-0.9zM558.1 122.4h1v1.8h-1zM554.0 93.8h1.2v1.3h-1.2zM526.7 99.4h1v1.3h-1zM509.3 113.7h1v0.9h-1zM526.4 110.4h1v1.3h-1zM541.7 100.6h1v1.8h-1zM572.4 88.3h1v1.8h-1zM534.1 110.4h0.9v1.3h-0.9zM562.3 128.5h1.2v0.9h-1.2zM517.4 102.1h1v1h-1zM566.8 126.1h0.9v1.3h-0.9zM595.7 93.7h0.9v1h-0.9zM547.4 105.1h1.2v1.8h-1.2zM517.9 173.4h0.9v1.8h-0.9zM563.7 112.2h1v1.8h-1zM541.2 101.4h1v1h-1zM543.3 78.3h1.2v1.3h-1.2zM519.0 168.2h1v1h-1zM527.9 118.6h1.2v0.9h-1.2zM550.6 84.2h1v0.9h-1zM551.4 85.0h1.2v1h-1.2zM513.4 158.8h0.9v1h-0.9zM533.7 116.1h0.9v0.9h-0.9zM533.9 103.0h1v1.3h-1zM534.5 174.9h1v1h-1zM552.2 155.4h0.9v1.8h-0.9zM526.3 108.7h1.2v1.3h-1.2zM592.1 95.4h0.9v1.3h-0.9zM511.9 142.5h0.9v1.8h-0.9zM553.9 113.4h1.2v1.3h-1.2zM530.7 109.4h1v1.8h-1zM543.3 95.3h1v1.3h-1zM563.0 101.6h1v1.3h-1zM511.5 143.6h0.9v1h-0.9zM510.2 100.5h1.2v1.3h-1.2zM583.5 112.2h0.9v0.9h-0.9zM592.5 98.9h0.9v1.8h-0.9zM510.1 148.4h1.2v1h-1.2zM560.5 85.5h0.9v1.3h-0.9zM556.0 107.6h1v1.8h-1zM566.6 132.3h1.2v1.8h-1.2zM526.1 165.7h1v1.3h-1zM593.8 101.4h1.2v1.3h-1.2zM532.9 102.4h0.9v1.8h-0.9zM533.1 104.7h1v1.3h-1zM525.3 161.4h0.9v1.3h-0.9zM517.3 108.6h1v1.3h-1zM544.6 85.0h0.9v1.8h-0.9zM524.1 130.5h1v1.3h-1zM532.9 97.0h1.2v0.9h-1.2zM560.0 118.8h1.2v1h-1.2zM531.5 185.7h1.2v1h-1.2zM526.4 182.8h1v1.8h-1zM551.2 116.8h1.2v1.3h-1.2zM516.4 96.7h1v0.9h-1zM568.2 87.7h1.2v1h-1.2zM532.6 86.4h1v1.8h-1zM514.3 141.5h0.9v1.3h-0.9zM536.3 105.7h1.2v0.9h-1.2zM524.9 93.3h1.2v1.3h-1.2zM537.3 95.0h1.2v0.9h-1.2zM509.0 136.7h0.9v1.3h-0.9zM512.4 120.9h1.2v1.8h-1.2zM558.0 81.1h1.2v1.3h-1.2zM573.5 129.7h1.2v1h-1.2zM525.6 186.1h1v1.8h-1zM543.7 132.9h1v0.9h-1zM529.3 154.1h1.2v1.8h-1.2zM531.7 110.1h1v0.9h-1zM549.1 116.6h1v1h-1zM540.0 125.8h1.2v0.9h-1.2zM560.2 112.0h1v1.3h-1zM557.8 86.8h1.2v1.8h-1.2zM543.6 102.2h1.2v1.8h-1.2zM533.1 182.4h0.9v1.8h-0.9zM535.3 165.6h1v1.8h-1zM531.1 183.0h1v1h-1zM547.1 147.5h1v1.3h-1zM532.1 171.3h0.9v1.3h-0.9zM516.2 106.7h1.2v0.9h-1.2zM539.9 128.2h1.2v1.3h-1.2zM530.4 83.7h1v1h-1zM537.5 115.7h0.9v0.9h-0.9zM515.9 160.0h1v0.9h-1zM535.4 98.8h0.9v0.9h-0.9zM523.1 179.6h1.2v1h-1.2zM535.9 125.5h1v0.9h-1zM541.2 114.9h0.9v1.8h-0.9zM550.9 119.9h1.2v1.3h-1.2zM531.8 139.3h1v1h-1zM529.2 101.1h1.2v1h-1.2zM555.1 107.7h0.9v0.9h-0.9zM554.8 109.3h0.9v1.8h-0.9zM558.8 109.0h0.9v1h-0.9zM542.9 106.6h1v0.9h-1zM538.3 91.9h1v1h-1zM555.2 113.2h0.9v1.3h-0.9zM553.1 111.1h0.9v1.3h-0.9zM534.8 115.7h1.2v1.3h-1.2zM541.7 117.8h1.2v1.3h-1.2zM570.0 113.0h1.2v1.8h-1.2zM535.4 125.6h1v1.3h-1zM542.3 107.9h1.2v1.8h-1.2zM534.2 121.2h0.9v0.9h-0.9zM543.3 119.5h0.9v1.8h-0.9zM519.9 97.2h0.9v1h-0.9zM566.9 127.4h0.9v0.9h-0.9zM542.8 115.9h1v1h-1zM549.9 109.4h1.2v1.3h-1.2zM577.8 89.7h0.9v0.9h-0.9zM532.6 105.7h1v1h-1zM543.2 87.8h1v0.9h-1zM507.9 149.5h1v1.8h-1zM530.0 131.8h0.9v1.3h-0.9zM564.1 79.0h1v1.3h-1zM530.2 124.5h0.9v1h-0.9zM537.0 129.4h1v1.8h-1zM509.3 144.3h1v1.8h-1zM554.0 121.0h1v1.3h-1zM525.3 177.3h1.2v1h-1.2zM540.9 92.7h1.2v0.9h-1.2zM574.4 102.5h1.2v1h-1.2zM519.8 110.2h1.2v0.9h-1.2zM530.5 98.4h0.9v0.9h-0.9zM561.7 127.5h1v1.8h-1zM553.2 130.5h1.2v1.8h-1.2zM540.4 104.6h1.2v0.9h-1.2zM532.2 140.0h1.2v0.9h-1.2zM571.2 124.0h1.2v0.9h-1.2zM525.6 173.8h0.9v1.8h-0.9zM526.2 174.4h1.2v1.8h-1.2zM514.7 151.2h1v1.8h-1zM547.9 133.6h0.9v1.8h-0.9zM507.2 117.0h1v1.8h-1zM537.2 95.3h1.2v1h-1.2zM520.9 94.9h1.2v0.9h-1.2zM510.7 100.4h1.2v1.3h-1.2zM581.6 107.0h0.9v1.3h-0.9zM519.1 145.2h0.9v1.8h-0.9zM539.6 168.2h1.2v0.9h-1.2zM513.5 168.4h0.9v1.3h-0.9zM509.9 117.1h1.2v1h-1.2zM561.9 133.7h1.2v1.3h-1.2zM551.2 153.7h0.9v1.8h-0.9zM550.0 144.7h0.9v1h-0.9zM566.7 119.6h1v0.9h-1zM525.2 187.0h1.2v1.3h-1.2zM531.0 86.4h1.2v1.3h-1.2zM560.6 107.7h1v0.9h-1zM551.1 116.0h1.2v1.8h-1.2zM571.4 125.8h1v1h-1zM525.1 178.6h1.2v1.3h-1.2zM553.6 125.6h0.9v1h-0.9zM535.5 157.5h1.2v1.8h-1.2zM542.3 112.6h1.2v0.9h-1.2zM548.3 106.5h0.9v1.3h-0.9zM534.3 140.4h1.2v0.9h-1.2zM529.5 109.3h1.2v1.8h-1.2zM510.7 156.5h1.2v1.3h-1.2zM537.7 116.0h1v0.9h-1zM539.4 121.5h0.9v1.8h-0.9zM539.2 165.8h0.9v1.8h-0.9zM541.1 102.5h1v0.9h-1zM540.0 87.0h1.2v1.8h-1.2zM526.1 132.0h1.2v0.9h-1.2zM535.9 87.6h0.9v1.3h-0.9zM537.7 161.6h1v1h-1zM530.6 86.6h0.9v1.3h-0.9zM537.7 81.7h0.9v1h-0.9zM549.6 131.2h0.9v1.8h-0.9zM523.1 144.4h1v1.8h-1zM555.9 124.9h1v1.3h-1zM564.6 78.8h1v1.3h-1zM538.0 114.4h1v1h-1zM535.0 179.8h1v1h-1zM534.8 176.7h1.2v0.9h-1.2zM528.0 110.0h0.9v1.8h-0.9zM505.2 144.5h0.9v1.8h-0.9zM511.7 159.6h0.9v0.9h-0.9zM551.0 132.7h0.9v1.8h-0.9zM546.1 156.2h0.9v1.3h-0.9zM551.3 129.7h1v1.8h-1zM525.0 159.8h0.9v1h-0.9zM557.1 130.8h1.2v1.3h-1.2zM523.8 89.6h1v0.9h-1zM509.7 134.8h0.9v1h-0.9zM511.8 155.9h1.2v0.9h-1.2zM549.9 106.8h1.2v0.9h-1.2zM549.7 133.6h1.2v0.9h-1.2zM579.6 114.9h1v1.8h-1zM526.2 94.0h1.2v0.9h-1.2zM553.4 107.7h1.2v1.3h-1.2zM557.3 129.3h0.9v1.8h-0.9zM545.8 109.0h1.2v1h-1.2zM508.9 141.9h1.2v1.3h-1.2zM529.5 179.1h1v0.9h-1zM540.1 103.5h1v1.8h-1zM554.5 142.5h1v1.3h-1zM557.8 114.8h0.9v1.8h-0.9zM518.4 125.9h0.9v1h-0.9zM517.6 161.2h1v1.8h-1zM547.4 107.5h1v1.8h-1zM541.2 123.0h1v1.8h-1zM554.3 102.9h1.2v1.3h-1.2zM535.8 134.5h1v1.3h-1zM540.3 116.4h1v1h-1zM561.6 140.2h1.2v1.8h-1.2zM554.5 119.6h1v1.3h-1zM555.6 133.6h1.2v1.3h-1.2zM570.4 123.7h1.2v1h-1.2zM512.6 109.1h1.2v1.3h-1.2zM539.0 90.4h1.2v0.9h-1.2zM555.9 144.7h0.9v1h-0.9zM547.3 125.4h1v1h-1zM539.5 110.6h0.9v1.8h-0.9zM523.2 103.9h1.2v1.8h-1.2zM536.0 99.0h1v1.3h-1zM554.9 131.7h1v0.9h-1zM529.0 101.6h1.2v0.9h-1.2zM552.2 131.9h1v0.9h-1zM539.5 140.3h1v1.3h-1zM525.6 131.8h1.2v0.9h-1.2zM546.7 92.7h0.9v1h-0.9zM550.0 157.9h1.2v1h-1.2zM564.7 116.4h1.2v0.9h-1.2zM554.2 118.2h0.9v0.9h-0.9zM522.1 121.4h0.9v1.3h-0.9zM544.0 94.8h1.2v1h-1.2zM553.7 124.0h1v1.8h-1zM567.6 99.8h1.2v1.8h-1.2zM519.3 165.5h1.2v1.3h-1.2zM548.5 78.3h0.9v1.3h-0.9zM557.0 122.0h1v1h-1zM515.6 103.2h1.2v1.3h-1.2zM525.8 174.3h1v0.9h-1zM530.6 180.5h0.9v0.9h-0.9zM538.8 154.3h1v1h-1zM538.4 158.3h1.2v1.3h-1.2zM528.3 112.4h1v1.3h-1zM564.7 125.1h1.2v1.8h-1.2zM543.6 123.3h1.2v1.8h-1.2zM552.4 86.3h1v1.8h-1zM528.0 109.6h0.9v1.8h-0.9zM520.0 118.4h0.9v0.9h-0.9zM548.4 98.2h1.2v1.3h-1.2zM520.5 168.7h1.2v1h-1.2zM529.4 184.5h1.2v1.3h-1.2zM559.0 105.3h0.9v1.3h-0.9zM543.2 109.8h0.9v1.8h-0.9zM542.4 90.0h1v1h-1zM539.3 112.8h1v1.8h-1zM567.7 101.0h0.9v1.8h-0.9zM570.1 115.3h1.2v0.9h-1.2zM512.7 136.2h1v1h-1zM554.0 144.2h1v1h-1zM509.6 115.1h0.9v1.3h-0.9zM567.8 108.1h0.9v1h-0.9zM523.2 135.5h0.9v1.3h-0.9zM546.9 127.5h0.9v0.9h-0.9zM526.1 115.2h0.9v1.8h-0.9zM567.0 117.8h1v1.3h-1zM528.2 181.2h0.9v1.8h-0.9zM519.9 130.0h1.2v1h-1.2zM543.0 98.3h0.9v1.3h-0.9zM552.1 143.9h1.2v1.3h-1.2zM546.3 109.6h1v1.8h-1zM528.8 122.4h1v1.3h-1zM524.7 97.4h0.9v0.9h-0.9zM515.1 146.1h1v1.8h-1zM510.0 117.9h1.2v0.9h-1.2zM559.9 116.4h1.2v1h-1.2zM517.8 155.3h1.2v1.3h-1.2zM565.5 131.6h0.9v1h-0.9zM521.5 170.3h1v0.9h-1zM571.6 108.7h1v0.9h-1zM554.6 84.6h1v0.9h-1zM552.1 148.0h1v1h-1zM549.6 137.6h1.2v1h-1.2zM530.1 92.1h1.2v1h-1.2zM522.4 175.3h1.2v1h-1.2zM531.2 163.1h1v1h-1zM544.8 107.4h1.2v1.8h-1.2zM555.5 107.4h0.9v1.8h-0.9zM564.9 97.2h1.2v0.9h-1.2zM553.6 109.2h0.9v1.8h-0.9zM522.8 142.6h0.9v1.8h-0.9zM542.3 104.9h1.2v1.3h-1.2zM527.2 173.2h1.2v0.9h-1.2zM513.7 143.3h1v1h-1zM527.7 184.8h0.9v1.3h-0.9zM559.6 88.0h0.9v1h-0.9zM523.1 172.3h1v1h-1zM537.5 90.6h1.2v1.8h-1.2zM558.7 100.1h1v0.9h-1zM547.3 101.4h1v1.8h-1zM550.2 93.7h1v1h-1zM540.8 115.9h0.9v0.9h-0.9zM552.6 126.0h1v1.8h-1zM527.3 150.7h1v0.9h-1zM552.7 110.1h1.2v1.3h-1.2zM526.9 135.6h1v1.3h-1zM516.1 174.0h0.9v1.3h-0.9zM554.8 153.4h1.2v0.9h-1.2zM528.3 179.9h1v0.9h-1zM552.8 80.2h1.2v1.3h-1.2zM531.8 165.7h0.9v0.9h-0.9zM512.3 96.2h1.2v0.9h-1.2zM544.5 107.9h0.9v0.9h-0.9zM534.7 158.3h0.9v1h-0.9zM551.2 111.2h1.2v0.9h-1.2zM540.3 116.3h1v1.3h-1zM537.5 96.8h0.9v0.9h-0.9zM544.2 144.9h0.9v0.9h-0.9zM525.2 173.5h0.9v0.9h-0.9zM562.6 94.2h1.2v1.3h-1.2zM570.6 127.6h1v1.8h-1zM538.5 99.1h1v1h-1zM580.2 83.3h0.9v1.8h-0.9zM527.7 181.7h0.9v1.3h-0.9zM515.0 140.7h1.2v1.8h-1.2zM558.2 99.9h0.9v0.9h-0.9zM569.9 100.8h1v0.9h-1zM513.9 111.7h0.9v0.9h-0.9zM522.8 170.8h1.2v1.8h-1.2zM528.9 178.1h0.9v1.3h-0.9zM564.4 129.0h1.2v0.9h-1.2zM559.4 123.8h1.2v1.3h-1.2zM534.3 101.0h1.2v1.3h-1.2zM532.9 109.0h0.9v0.9h-0.9zM529.1 103.5h1.2v1.3h-1.2zM525.5 190.4h0.9v1h-0.9zM562.8 125.9h1.2v1.8h-1.2zM540.0 109.4h0.9v1h-0.9zM555.0 129.5h0.9v1h-0.9zM577.5 122.7h1v1.3h-1zM538.3 175.2h0.9v1.3h-0.9zM535.5 100.1h0.9v1.3h-0.9zM520.0 157.9h0.9v1.3h-0.9zM532.8 109.4h0.9v1h-0.9zM516.3 90.4h1v1.8h-1zM553.0 90.0h1v1.8h-1zM513.7 168.9h0.9v1.3h-0.9zM549.1 118.7h1v1h-1zM536.9 104.1h0.9v1.8h-0.9zM507.4 140.9h1v0.9h-1zM521.8 98.3h1v1.3h-1zM519.7 106.9h1.2v1.3h-1.2zM529.8 91.8h1.2v1h-1.2zM525.1 89.9h1.2v1.3h-1.2zM531.1 182.8h1.2v1.3h-1.2zM541.1 95.5h1v1h-1zM540.4 98.3h1.2v1.3h-1.2zM561.1 96.8h1.2v1.8h-1.2zM535.4 132.8h1v1h-1zM536.0 87.5h1.2v1.3h-1.2zM521.4 103.7h0.9v1.3h-0.9zM514.1 140.2h0.9v0.9h-0.9zM535.0 113.4h1v0.9h-1zM527.5 188.6h1.2v1h-1.2zM552.8 154.5h1v1h-1zM548.4 113.3h0.9v1.8h-0.9zM556.7 140.8h0.9v1.3h-0.9zM552.2 144.0h1v0.9h-1zM527.8 117.4h0.9v1h-0.9zM505.5 144.7h0.9v1.3h-0.9zM542.0 92.6h0.9v1.8h-0.9zM556.5 103.8h1v1.8h-1zM537.9 97.8h0.9v1h-0.9zM546.5 90.0h0.9v1h-0.9zM540.4 101.7h0.9v1.8h-0.9zM516.1 136.1h0.9v1.3h-0.9zM532.2 94.6h1v1.8h-1zM540.1 125.1h1v1.3h-1zM528.5 182.5h1.2v1.3h-1.2zM508.0 145.1h0.9v1h-0.9zM547.6 128.9h0.9v1.8h-0.9zM526.0 94.0h1v1h-1zM536.1 155.5h0.9v0.9h-0.9zM531.6 157.3h0.9v1h-0.9zM550.8 110.7h0.9v1h-0.9zM543.6 128.5h1v1.3h-1zM534.0 95.5h0.9v1.3h-0.9zM555.7 98.7h1.2v1.3h-1.2zM557.0 116.2h1v1h-1zM564.0 103.4h1v1.8h-1zM528.4 184.0h0.9v1h-0.9zM547.9 81.9h1v1h-1zM511.6 145.0h1v1.3h-1zM534.5 117.8h0.9v0.9h-0.9zM520.2 145.1h0.9v1h-0.9zM540.4 92.8h1.2v1.8h-1.2zM564.7 124.0h0.9v1.8h-0.9zM534.3 104.5h1v0.9h-1zM523.0 170.4h0.9v1.3h-0.9zM539.2 122.2h0.9v1h-0.9zM539.3 104.6h1v1h-1zM522.2 119.3h1v0.9h-1zM537.7 98.3h0.9v1.3h-0.9zM545.0 102.6h0.9v1.3h-0.9zM518.0 120.6h1.2v1.8h-1.2zM537.5 95.0h0.9v1h-0.9zM508.5 100.1h1.2v1h-1.2zM527.8 113.5h1.2v1.8h-1.2zM528.8 115.6h1v1.3h-1zM555.7 108.8h1v1.3h-1zM513.2 159.2h1.2v0.9h-1.2zM525.4 101.0h1v1h-1zM551.6 143.4h1v0.9h-1zM526.3 171.7h1v0.9h-1zM557.8 118.9h0.9v0.9h-0.9zM517.7 146.1h0.9v1h-0.9zM546.3 106.9h1v1.8h-1zM527.0 83.5h1v0.9h-1zM541.5 82.1h1v0.9h-1zM514.1 163.9h0.9v1h-0.9zM543.6 119.9h1v1.8h-1zM542.1 151.9h0.9v1.8h-0.9zM520.1 179.6h1.2v1.8h-1.2zM551.7 114.6h1.2v0.9h-1.2zM537.9 107.5h1v1h-1zM562.6 137.0h1v0.9h-1zM593.1 103.6h0.9v1h-0.9zM567.3 126.2h1.2v1.8h-1.2zM561.8 98.7h0.9v1h-0.9zM535.7 103.3h0.9v0.9h-0.9zM558.2 120.1h1.2v0.9h-1.2zM517.2 109.9h0.9v0.9h-0.9zM543.9 142.8h1v1.3h-1zM570.7 131.1h1v1h-1zM542.0 135.7h1v0.9h-1zM543.6 84.1h1v0.9h-1zM538.6 101.4h1.2v0.9h-1.2zM531.1 179.2h0.9v0.9h-0.9zM542.6 103.2h1.2v0.9h-1.2zM520.7 152.6h1.2v0.9h-1.2zM540.3 128.1h0.9v0.9h-0.9zM533.9 167.6h1v1h-1zM554.6 144.2h0.9v0.9h-0.9zM531.7 154.7h0.9v1h-0.9zM555.9 131.1h1.2v1.8h-1.2zM532.0 110.1h1v1.8h-1zM511.5 112.3h1.2v1h-1.2zM538.0 89.4h1v1h-1zM547.5 115.6h1v1h-1zM571.6 121.6h0.9v1.8h-0.9zM552.2 96.4h1.2v1.3h-1.2zM525.7 110.8h1.2v1h-1.2zM533.0 169.8h1v0.9h-1zM516.5 137.6h1v0.9h-1zM524.2 173.7h1.2v1.3h-1.2zM544.8 118.9h0.9v1.8h-0.9zM527.7 86.4h1v1h-1zM538.1 117.8h1v1.3h-1zM556.8 121.8h1.2v1h-1.2zM534.3 162.3h1.2v1.3h-1.2zM535.6 176.8h0.9v1h-0.9zM515.3 166.0h1v1.8h-1zM552.1 123.1h1v0.9h-1zM545.0 94.6h1v0.9h-1zM542.8 99.0h1v0.9h-1zM522.8 120.5h1v1.8h-1zM550.5 93.0h1v1.3h-1zM551.9 112.5h1v0.9h-1zM537.8 90.8h1.2v1.8h-1.2zM527.4 182.4h1v0.9h-1zM549.5 133.4h0.9v1.3h-0.9zM598.1 93.0h1.2v0.9h-1.2zM533.2 128.1h1.2v1.3h-1.2zM552.1 86.6h1.2v1.3h-1.2zM541.5 104.0h0.9v1.8h-0.9zM574.2 90.5h0.9v1.8h-0.9zM540.0 99.5h1v1.3h-1zM552.3 153.8h1.2v1.8h-1.2zM542.8 96.8h1.2v1.8h-1.2zM541.4 106.5h0.9v1.8h-0.9zM560.2 120.6h1v0.9h-1zM551.1 120.9h1v0.9h-1zM522.1 167.7h1.2v1.3h-1.2zM513.6 95.9h1.2v1.3h-1.2zM545.3 126.4h1v1.3h-1zM544.1 110.5h1.2v1h-1.2zM512.2 120.3h0.9v1.8h-0.9zM539.7 89.7h1.2v1.8h-1.2zM548.7 94.5h1.2v1.8h-1.2zM550.5 110.3h0.9v1.8h-0.9zM548.3 88.9h0.9v1.3h-0.9zM512.4 95.5h0.9v0.9h-0.9zM515.5 161.2h0.9v1.3h-0.9zM532.0 95.5h1v1h-1zM531.3 179.2h1v0.9h-1zM528.9 107.1h1v0.9h-1zM550.8 104.8h1v1.8h-1zM525.6 96.5h0.9v1.8h-0.9zM551.2 110.7h1.2v1.3h-1.2zM538.2 96.7h1.2v0.9h-1.2zM551.8 107.1h0.9v0.9h-0.9zM538.2 87.8h0.9v0.9h-0.9zM563.6 100.2h1.2v1.3h-1.2zM539.1 100.5h1.2v1h-1.2zM552.9 90.4h1.2v1.8h-1.2zM515.4 121.6h1v0.9h-1zM511.8 155.7h0.9v0.9h-0.9zM523.0 134.1h1v1.3h-1zM535.5 89.7h1.2v1.3h-1.2zM538.0 117.5h0.9v1.8h-0.9zM545.2 91.6h1.2v1h-1.2zM553.4 88.2h0.9v1.3h-0.9zM535.5 175.0h1.2v1.8h-1.2zM529.4 182.6h1v1h-1zM539.0 101.0h1.2v1.8h-1.2zM513.4 143.2h1.2v1.8h-1.2zM559.0 99.5h1.2v1.3h-1.2zM553.6 95.6h1v1.3h-1zM513.7 159.1h1.2v1.3h-1.2zM558.9 133.2h0.9v1.8h-0.9zM563.2 119.9h1.2v1.8h-1.2zM551.7 116.8h1v1.8h-1zM520.5 158.2h1.2v1h-1.2zM539.0 146.5h1.2v1.8h-1.2zM535.7 99.5h0.9v0.9h-0.9zM532.1 127.2h1v1.3h-1zM531.5 96.5h1v0.9h-1zM539.0 117.8h1v1h-1zM566.3 138.3h1v0.9h-1zM511.7 110.3h1.2v1.3h-1.2zM547.0 126.3h1.2v0.9h-1.2zM537.9 138.4h0.9v1h-0.9zM572.5 115.4h1v1h-1zM544.9 84.7h1v0.9h-1zM552.5 103.6h1.2v0.9h-1.2zM530.3 115.0h1.2v1.8h-1.2zM517.8 118.0h1v0.9h-1zM517.5 109.9h1.2v1.8h-1.2zM532.6 171.5h0.9v1.8h-0.9zM556.3 150.8h1.2v1.3h-1.2zM532.5 91.0h1v1h-1zM527.5 85.7h1v1h-1zM550.9 108.0h1v1h-1zM556.5 105.1h1.2v1.8h-1.2zM545.0 117.8h1v1h-1zM550.0 129.7h1.2v0.9h-1.2zM532.1 113.1h0.9v1h-0.9zM552.0 128.7h1.2v1.8h-1.2zM513.4 97.9h1v1.3h-1zM516.6 113.3h0.9v1.3h-0.9zM534.5 175.5h1.2v0.9h-1.2zM516.2 102.1h1.2v1h-1.2zM520.0 91.3h0.9v1h-0.9zM542.3 109.1h0.9v1.3h-0.9zM531.3 180.3h0.9v1h-0.9zM560.3 145.7h0.9v0.9h-0.9zM545.7 111.0h0.9v1h-0.9zM509.0 151.7h0.9v1h-0.9zM543.2 144.4h0.9v1.8h-0.9zM560.5 128.4h0.9v1.8h-0.9zM534.6 114.8h1v1.3h-1zM551.8 95.8h0.9v0.9h-0.9zM554.6 81.3h0.9v0.9h-0.9zM540.2 109.6h0.9v1h-0.9zM552.9 133.3h0.9v1h-0.9zM528.4 140.3h0.9v1.3h-0.9zM571.0 127.3h0.9v0.9h-0.9zM535.9 152.6h1v1.8h-1zM576.4 126.4h0.9v0.9h-0.9zM559.1 118.1h1.2v0.9h-1.2zM535.5 162.9h0.9v1.8h-0.9zM553.8 128.7h1.2v1.8h-1.2zM544.2 113.1h0.9v0.9h-0.9zM539.4 97.3h1v1.8h-1zM527.1 175.2h1.2v0.9h-1.2zM562.6 121.9h0.9v1.3h-0.9zM548.5 92.2h0.9v1.8h-0.9zM529.5 139.2h1v0.9h-1zM531.4 169.0h1v1.3h-1zM555.3 86.1h1v0.9h-1zM532.0 176.3h1.2v1.3h-1.2zM549.9 81.3h1.2v1.8h-1.2zM565.5 117.3h1.2v0.9h-1.2zM551.4 80.7h1v1h-1zM540.1 95.9h1v0.9h-1zM526.3 189.9h1.2v0.9h-1.2zM541.7 88.8h0.9v0.9h-0.9zM532.8 114.3h1.2v1.3h-1.2zM529.4 174.6h0.9v1.3h-0.9zM518.9 149.6h0.9v1h-0.9zM534.9 94.7h1.2v1h-1.2zM537.3 100.1h0.9v0.9h-0.9zM516.4 117.7h1.2v1.3h-1.2zM534.4 132.6h1.2v0.9h-1.2zM514.0 161.8h1.2v1.3h-1.2zM515.0 98.1h0.9v1.8h-0.9zM508.3 113.7h1v0.9h-1zM543.6 115.1h1v1h-1zM560.1 112.6h1.2v1.3h-1.2zM522.5 176.5h0.9v0.9h-0.9zM562.6 129.5h1v1.3h-1zM532.0 182.9h1.2v1.8h-1.2zM574.7 126.0h1.2v1h-1.2zM518.2 159.9h1.2v0.9h-1.2zM525.2 112.0h0.9v1.8h-0.9zM509.4 115.0h0.9v1h-0.9zM562.4 112.9h1v1.8h-1zM530.5 182.4h1v1h-1zM560.6 92.3h1v1.3h-1zM525.6 97.1h0.9v1.8h-0.9zM560.6 115.5h0.9v1.3h-0.9zM522.9 104.4h0.9v1.8h-0.9zM556.0 90.3h1v1h-1zM533.4 178.3h1v1.8h-1zM542.2 105.7h0.9v0.9h-0.9zM561.2 117.4h0.9v0.9h-0.9zM514.4 106.2h1.2v0.9h-1.2zM563.9 108.3h0.9v0.9h-0.9zM530.8 104.6h1v1.3h-1zM509.8 98.6h1v1.8h-1zM534.0 92.2h1v0.9h-1zM527.5 188.6h0.9v1.3h-0.9zM558.7 93.1h1v1.8h-1zM516.4 155.4h1.2v1h-1.2zM557.2 127.5h1.2v1h-1.2zM550.4 103.7h1v0.9h-1zM549.7 91.7h1.2v1.8h-1.2zM538.3 106.4h1.2v1.8h-1.2zM541.6 92.5h1v1.8h-1zM546.3 107.1h1v1.8h-1zM541.4 98.9h1.2v1h-1.2zM530.8 94.5h0.9v1.8h-0.9zM544.6 130.5h1.2v1.8h-1.2zM556.2 136.8h1.2v0.9h-1.2zM548.9 98.9h1v1.8h-1zM529.5 181.2h1v1h-1zM509.8 104.7h1.2v1.3h-1.2zM516.1 115.0h1v0.9h-1zM522.1 101.9h1v0.9h-1zM561.9 120.3h0.9v1.8h-0.9zM550.8 97.1h1.2v1h-1.2zM559.7 98.3h1.2v0.9h-1.2zM547.9 155.8h1.2v1.3h-1.2zM542.7 163.9h1.2v1h-1.2zM546.6 145.2h0.9v0.9h-0.9zM537.9 87.1h1.2v1.3h-1.2zM529.4 172.0h1v1.3h-1zM555.2 125.3h1.2v1h-1.2zM536.7 88.0h1v1.3h-1zM541.6 144.6h1v0.9h-1zM552.3 117.2h1v1.8h-1zM573.6 107.3h1v1.3h-1zM544.9 135.1h1v1h-1zM536.4 108.5h0.9v0.9h-0.9zM519.1 113.3h1.2v1h-1.2zM539.2 90.5h1v1.8h-1zM535.8 80.1h1.2v0.9h-1.2zM554.3 83.3h0.9v1.3h-0.9zM517.5 175.7h1.2v1.8h-1.2zM565.8 137.8h1v1.3h-1zM560.4 117.8h1v0.9h-1zM542.0 103.2h1v1.8h-1zM538.0 100.8h1v0.9h-1zM541.1 137.5h1v1h-1zM556.1 115.7h1.2v0.9h-1.2zM523.1 96.7h0.9v0.9h-0.9zM538.6 107.3h1.2v1h-1.2zM534.6 132.0h1.2v0.9h-1.2zM547.8 143.3h1.2v1h-1.2zM527.4 182.1h0.9v0.9h-0.9zM531.9 139.5h1v1.3h-1zM521.9 163.2h1.2v0.9h-1.2zM559.0 126.4h0.9v1.8h-0.9zM534.8 123.2h0.9v1h-0.9zM527.3 109.6h0.9v1.8h-0.9zM537.7 102.8h1.2v1.8h-1.2zM531.7 85.6h1.2v1h-1.2zM535.3 94.0h0.9v0.9h-0.9zM523.8 102.9h1.2v1.3h-1.2zM530.4 105.6h1.2v1h-1.2zM526.0 127.0h1v1h-1zM536.7 165.3h0.9v1.8h-0.9zM534.4 100.6h1v1h-1zM530.7 87.0h1v1.8h-1zM559.5 144.0h0.9v0.9h-0.9zM522.9 183.2h0.9v1.8h-0.9zM557.3 87.6h1.2v1.3h-1.2zM552.1 123.7h1v0.9h-1zM525.0 105.5h1v1.3h-1zM563.7 104.1h0.9v0.9h-0.9zM545.3 106.7h0.9v0.9h-0.9zM548.4 152.4h1.2v0.9h-1.2zM556.8 76.8h1.2v1.8h-1.2zM553.8 123.9h0.9v1h-0.9zM565.9 105.1h0.9v1h-0.9zM547.0 77.4h0.9v0.9h-0.9zM550.2 143.1h0.9v1.3h-0.9zM536.0 108.8h1v1h-1zM572.1 77.9h0.9v1h-0.9zM545.0 88.4h0.9v1.3h-0.9zM536.5 117.1h1.2v1.8h-1.2zM555.8 120.1h1v1.8h-1zM548.3 141.8h0.9v1h-0.9zM554.2 120.6h1v1h-1zM555.2 96.9h1v0.9h-1zM568.3 91.8h1v0.9h-1zM517.0 172.3h1v0.9h-1z" fill="#fff" opacity="0.95"/>
<path d="M520.5 87V124" stroke="#fff" stroke-width="1.4" opacity="0.95"/><path d="M520.5 133V189" stroke="#fff" stroke-width="1.4" opacity="0.95"/><path d="M526.5 84V185" stroke="#fff" stroke-width="0.8" opacity="0.35"/><path d="M541 79V172" stroke="#fff" stroke-width="0.8" opacity="0.4"/><path d="M548.5 77V160" stroke="#fff" stroke-width="0.8" opacity="0.45"/><path d="M557 76V150" stroke="#fff" stroke-width="0.8" opacity="0.5"/><path d="M565.5 76V138" stroke="#fff" stroke-width="0.8" opacity="0.55"/><path d="M574 76V127" stroke="#fff" stroke-width="0.8" opacity="0.55"/><path d="M582.5 76V115" stroke="#fff" stroke-width="0.8" opacity="0.5"/><path d="M590 79V104" stroke="#fff" stroke-width="0.8" opacity="0.45"/>
<path d="M516.6 47.9V68.5" stroke="#2b3990" stroke-width="2" fill="none"/><path d="M511.1 67.2L522.1 67.2L516.6 74.7Z" fill="#2b3990"/>
<path d="M588 182.7 C578 183.5 570.5 178 570.5 171 C570.5 165 576 161.5 582 161.5 C588 161.5 592 164 593.5 167.5" stroke="#d9402b" stroke-width="1.6" fill="none"/>
<path d="M590.5 168.5 L597.5 165.5" stroke="#d9402b" stroke-width="1.6" fill="none"/>
<circle cx="599.7" cy="181.7" r="11.9" fill="url(#ga)" stroke="#78aebe" stroke-width="1.2"/>
<circle cx="653.4" cy="181.9" r="12" fill="url(#gb)" stroke="#c08a90" stroke-width="1.2"/>
<text x="599.7" y="186.7" font-family="Liberation Sans, sans-serif" font-weight="bold" font-size="13" text-anchor="middle">A</text>
<text x="653.4" y="186.9" font-family="Liberation Sans, sans-serif" font-weight="bold" font-size="13" text-anchor="middle">B</text>
<path d="M615.4 177.7 H635" stroke="#3a55b0" stroke-width="1.6"/><path d="M634 174.6 L640 177.7 L634 180.8Z" fill="#3a55b0"/>
<path d="M637.5 185.2 H616 M615.6 181.7 V189" stroke="#d9402b" stroke-width="1.5"/>
<text x="561.5" y="170" font-family="Liberation Serif, serif" font-style="italic" font-size="9">τ<tspan dy="2" font-size="6">1</tspan></text>
<text x="624.7" y="170.5" font-family="Liberation Serif, serif" font-style="italic" font-size="9">τ<tspan dy="2" font-size="6">2</tspan></text>
<text x="625.3" y="194.5" font-family="Liberation Serif, serif" font-style="italic" font-size="9">τ<tspan dy="2" font-size="6">2</tspan></text>
<path d="M108.0 419.5 113.0 409.6 118.0 402.3 123.0 395.7 127.9 389.7 132.9 384.0 137.9 378.7 142.8 373.7 147.8 369.0 152.8 364.6 157.7 360.4 162.7 356.5 167.7 352.9 172.7 349.5 177.6 346.4 182.6 343.6 187.6 341.1 192.5 338.9 197.5 337.0 202.5 335.3 207.4 334.0 212.4 332.9 217.4 332.2 222.3 331.7 227.3 331.6 233.4 331.7 239.4 332.3 245.4 333.2 251.3 334.6 257.1 336.2 262.7 338.3 268.2 340.6 273.6 343.3 278.7 346.4 283.6 349.7 288.3 353.4 292.7 357.3 296.9 361.5 300.7 366.0 304.2 370.7 307.4 375.5 310.3 380.6 312.8 385.9 314.9 391.3 316.7 396.8 318.0 402.4 319.0 408.1 319.6 413.8 319.8 419.5 319.7 426.0 319.5 430.4 319.0 434.2 318.4 437.6 317.6 440.8 316.6 443.8 315.5 446.6 314.2 449.2 312.7 451.6 311.1 453.9 309.4 456.0 307.5 458.0 305.5 459.8 303.4 461.5 301.1 463.0 298.8 464.3 296.4 465.5 293.9 466.5 291.3 467.4 288.7 468.1 286.0 468.7 283.3 469.1 280.5 469.3 277.8 469.4 266.7 469.2 255.6 468.8 244.7 468.0 233.8 466.9 223.2 465.5 212.8 463.8 202.7 461.9 192.9 459.7 183.5 457.3 174.5 454.8 165.9 452.0 157.8 449.2 150.2 446.2 143.1 443.2 136.7 440.2 130.8 437.2 125.6 434.2 121.0 431.3 117.1 428.6 113.8 426.1 111.3 423.8 109.5 421.9 108.4 420.4 108.0 419.5 M110.3 419.5 115.2 409.7 120.1 402.4 125.0 396.0 129.9 390.0 134.8 384.4 139.7 379.2 144.6 374.2 149.5 369.6 154.4 365.2 159.3 361.1 164.2 357.2 169.1 353.6 174.0 350.3 178.9 347.3 183.8 344.5 188.7 342.0 193.6 339.8 198.5 337.9 203.4 336.3 208.3 335.0 213.2 333.9 218.1 333.2 223.0 332.7 227.9 332.6 233.8 332.8 239.8 333.3 245.7 334.3 251.5 335.6 257.3 337.2 262.9 339.2 268.3 341.6 273.6 344.2 278.7 347.2 283.5 350.6 288.2 354.2 292.5 358.1 296.6 362.2 300.4 366.6 303.9 371.2 307.1 376.1 309.9 381.1 312.4 386.3 314.5 391.6 316.2 397.0 317.6 402.6 318.6 408.2 319.1 413.8 319.3 419.5 319.2 425.9 319.0 430.2 318.5 434.0 317.9 437.4 317.1 440.6 316.1 443.5 315.0 446.3 313.7 448.8 312.3 451.3 310.7 453.5 308.9 455.6 307.0 457.5 305.0 459.3 302.9 461.0 300.7 462.5 298.3 463.8 295.9 465.0 293.4 466.0 290.8 466.9 288.2 467.6 285.5 468.1 282.8 468.5 280.1 468.8 277.3 468.8 266.4 468.7 255.5 468.2 244.7 467.4 234.1 466.3 223.6 465.0 213.4 463.3 203.4 461.4 193.8 459.3 184.5 456.9 175.6 454.4 167.2 451.7 159.2 448.8 151.7 445.9 144.8 442.9 138.4 439.9 132.7 437.0 127.5 434.0 123.0 431.2 119.1 428.5 116.0 426.0 113.5 423.8 111.7 421.9 110.6 420.4 110.3 419.5 M111.9 419.5 116.7 409.7 121.6 402.5 126.4 396.1 131.3 390.1 136.1 384.6 141.0 379.4 145.8 374.5 150.7 369.9 155.5 365.5 160.4 361.4 165.2 357.6 170.1 354.1 174.9 350.8 179.8 347.8 184.6 345.0 189.5 342.6 194.3 340.4 199.2 338.5 204.0 336.9 208.9 335.6 213.7 334.6 218.6 333.8 223.4 333.4 228.3 333.2 234.2 333.4 240.2 334.0 246.0 334.9 251.8 336.2 257.5 337.8 263.1 339.8 268.5 342.1 273.8 344.8 278.8 347.8 283.7 351.1 288.3 354.6 292.6 358.5 296.7 362.6 300.5 367.0 303.9 371.6 307.1 376.4 309.9 381.4 312.3 386.5 314.4 391.8 316.2 397.2 317.5 402.7 318.5 408.3 319.1 413.9 319.3 419.5 319.2 425.9 318.9 430.2 318.5 433.9 317.8 437.3 317.0 440.4 316.0 443.3 314.9 446.1 313.6 448.6 312.1 451.0 310.5 453.3 308.8 455.3 306.9 457.3 304.8 459.1 302.7 460.7 300.4 462.2 298.1 463.5 295.6 464.6 293.1 465.7 290.5 466.5 287.9 467.2 285.2 467.8 282.4 468.2 279.7 468.4 276.9 468.5 266.1 468.3 255.4 467.9 244.7 467.1 234.2 466.0 223.8 464.6 213.7 463.0 203.9 461.1 194.4 459.0 185.2 456.6 176.4 454.1 168.1 451.4 160.2 448.6 152.8 445.7 146.0 442.8 139.7 439.8 134.0 436.8 128.9 433.9 124.4 431.1 120.6 428.5 117.5 426.0 115.0 423.8 113.3 421.8 112.2 420.4 111.9 419.5 M115.3 419.5 120.0 409.9 124.8 402.9 129.5 396.6 134.2 390.8 138.9 385.4 143.6 380.3 148.3 375.5 153.0 371.0 157.7 366.8 162.5 362.8 167.2 359.1 171.9 355.6 176.6 352.4 181.3 349.5 186.0 346.8 190.7 344.4 195.4 342.3 200.2 340.5 204.9 338.9 209.6 337.6 214.3 336.6 219.0 335.9 223.7 335.5 228.4 335.3 234.2 335.5 240.0 336.1 245.8 337.0 251.4 338.2 257.0 339.8 262.4 341.7 267.7 344.0 272.8 346.6 277.8 349.5 282.5 352.7 287.0 356.2 291.2 360.0 295.2 364.0 298.9 368.3 302.3 372.8 305.3 377.4 308.1 382.3 310.5 387.3 312.5 392.5 314.2 397.7 315.5 403.1 316.5 408.5 317.1 414.0 317.2 419.5 317.2 425.7 316.9 429.9 316.4 433.6 315.8 436.9 315.0 439.9 314.0 442.8 312.9 445.4 311.6 447.9 310.2 450.3 308.6 452.5 306.8 454.5 304.9 456.4 302.9 458.1 300.8 459.7 298.6 461.1 296.2 462.4 293.8 463.6 291.3 464.6 288.7 465.4 286.1 466.1 283.4 466.6 280.7 467.0 277.9 467.2 275.2 467.3 264.7 467.2 254.3 466.7 244.0 465.9 233.8 464.9 223.8 463.6 214.0 462.0 204.5 460.1 195.3 458.0 186.4 455.8 177.9 453.3 169.8 450.7 162.2 447.9 155.0 445.1 148.4 442.2 142.3 439.3 136.8 436.4 131.8 433.6 127.5 430.8 123.8 428.2 120.8 425.8 118.4 423.7 116.7 421.8 115.7 420.3 115.3 419.5 M117.4 419.5 122.0 410.0 126.7 403.0 131.3 396.8 135.9 391.1 140.6 385.7 145.2 380.7 149.9 376.0 154.5 371.5 159.1 367.4 163.8 363.4 168.4 359.8 173.0 356.4 177.7 353.2 182.3 350.3 187.0 347.7 191.6 345.3 196.2 343.2 200.9 341.4 205.5 339.9 210.1 338.6 214.8 337.6 219.4 336.9 224.1 336.5 228.7 336.4 234.4 336.5 240.2 337.1 245.8 338.0 251.4 339.2 257.0 340.8 262.3 342.7 267.6 344.9 272.6 347.5 277.5 350.4 282.2 353.6 286.7 357.0 290.9 360.7 294.8 364.7 298.4 368.9 301.8 373.3 304.8 378.0 307.5 382.8 309.9 387.7 311.9 392.8 313.6 398.0 314.9 403.3 315.8 408.7 316.4 414.1 316.6 419.5 316.5 425.6 316.2 429.8 315.8 433.4 315.2 436.7 314.3 439.7 313.4 442.5 312.2 445.1 310.9 447.6 309.5 449.9 307.8 452.1 306.1 454.1 304.2 455.9 302.2 457.6 300.0 459.2 297.8 460.6 295.4 461.9 293.0 463.0 290.5 464.0 287.9 464.8 285.2 465.5 282.5 466.1 279.8 466.4 277.0 466.7 274.2 466.7 264.0 466.6 253.8 466.1 243.6 465.4 233.6 464.3 223.8 463.0 214.2 461.5 204.9 459.6 195.8 457.6 187.1 455.3 178.8 452.9 170.8 450.3 163.3 447.6 156.3 444.8 149.8 442.0 143.8 439.1 138.4 436.2 133.6 433.4 129.3 430.7 125.7 428.1 122.7 425.7 120.4 423.6 118.7 421.8 117.7 420.3 117.4 419.5 M120.6 419.5 125.1 410.1 129.6 403.3 134.1 397.2 138.6 391.6 143.1 386.4 147.6 381.5 152.1 376.9 156.6 372.6 161.2 368.5 165.7 364.7 170.2 361.1 174.7 357.8 179.2 354.7 183.7 351.9 188.2 349.3 192.7 347.0 197.2 345.0 201.7 343.2 206.3 341.7 210.8 340.5 215.3 339.5 219.8 338.8 224.3 338.4 228.8 338.3 234.4 338.5 240.0 339.0 245.6 339.8 251.1 341.1 256.4 342.6 261.7 344.5 266.8 346.7 271.8 349.2 276.6 352.0 281.2 355.1 285.5 358.4 289.6 362.1 293.5 366.0 297.0 370.1 300.3 374.4 303.3 378.9 305.9 383.6 308.3 388.4 310.2 393.4 311.9 398.5 313.1 403.7 314.1 408.9 314.6 414.2 314.8 419.5 314.7 425.5 314.4 429.6 314.0 433.1 313.4 436.3 312.6 439.2 311.6 442.0 310.4 444.6 309.1 447.0 307.7 449.2 306.1 451.3 304.3 453.3 302.4 455.1 300.4 456.8 298.3 458.3 296.0 459.7 293.7 461.0 291.3 462.1 288.7 463.0 286.2 463.8 283.5 464.5 280.8 465.0 278.1 465.4 275.3 465.6 272.6 465.7 262.6 465.5 252.7 465.1 242.9 464.4 233.2 463.3 223.7 462.1 214.4 460.5 205.3 458.7 196.6 456.7 188.1 454.5 180.0 452.1 172.3 449.6 165.1 447.0 158.3 444.2 152.0 441.4 146.2 438.6 140.9 435.8 136.2 433.1 132.1 430.5 128.6 427.9 125.7 425.6 123.5 423.5 121.9 421.7 120.9 420.3 120.6 419.5 M124.1 419.5 128.4 410.3 132.8 403.6 137.2 397.7 141.5 392.3 145.9 387.2 150.3 382.4 154.6 378.0 159.0 373.7 163.4 369.8 167.7 366.1 172.1 362.6 176.5 359.4 180.8 356.4 185.2 353.7 189.6 351.2 193.9 348.9 198.3 347.0 202.7 345.2 207.0 343.8 211.4 342.6 215.8 341.7 220.1 341.0 224.5 340.6 228.9 340.5 234.3 340.6 239.8 341.1 245.2 342.0 250.5 343.2 255.8 344.7 260.9 346.5 265.9 348.6 270.8 351.1 275.4 353.8 279.9 356.8 284.1 360.1 288.1 363.6 291.9 367.4 295.3 371.4 298.5 375.6 301.4 380.0 304.0 384.6 306.3 389.3 308.2 394.1 309.8 399.1 311.0 404.1 311.9 409.2 312.5 414.4 312.6 419.5 312.6 425.3 312.3 429.3 311.8 432.7 311.2 435.8 310.4 438.7 309.4 441.4 308.3 443.9 307.0 446.2 305.6 448.4 304.0 450.5 302.2 452.4 300.4 454.2 298.4 455.8 296.2 457.3 294.0 458.7 291.7 459.9 289.3 460.9 286.8 461.9 284.2 462.7 281.6 463.3 278.9 463.8 276.2 464.2 273.5 464.4 270.7 464.5 261.1 464.3 251.6 463.9 242.1 463.2 232.8 462.2 223.6 460.9 214.6 459.4 205.9 457.7 197.4 455.7 189.2 453.6 181.4 451.3 174.0 448.8 167.0 446.2 160.5 443.6 154.4 440.9 148.8 438.1 143.7 435.4 139.2 432.7 135.2 430.2 131.9 427.7 129.1 425.4 126.9 423.4 125.3 421.7 124.4 420.3 124.1 419.5 M126.5 419.5 130.8 410.4 135.1 403.8 139.3 398.0 143.6 392.7 147.9 387.7 152.2 383.0 156.4 378.6 160.7 374.5 165.0 370.6 169.2 366.9 173.5 363.5 177.8 360.4 182.0 357.4 186.3 354.8 190.6 352.3 194.9 350.2 199.1 348.2 203.4 346.5 207.7 345.1 211.9 343.9 216.2 343.0 220.5 342.4 224.7 342.0 229.0 341.9 234.4 342.0 239.8 342.5 245.1 343.3 250.4 344.5 255.5 346.0 260.6 347.8 265.5 349.9 270.3 352.3 274.9 354.9 279.2 357.9 283.4 361.1 287.4 364.6 291.0 368.3 294.5 372.2 297.6 376.4 300.5 380.7 303.0 385.2 305.2 389.8 307.1 394.6 308.7 399.4 309.9 404.4 310.8 409.4 311.3 414.5 311.5 419.5 311.4 425.2 311.2 429.1 310.7 432.5 310.1 435.6 309.3 438.4 308.3 441.0 307.2 443.5 305.9 445.8 304.4 447.9 302.8 450.0 301.1 451.8 299.2 453.6 297.2 455.2 295.0 456.7 292.8 458.0 290.5 459.2 288.0 460.2 285.5 461.1 282.9 461.9 280.3 462.6 277.6 463.1 274.9 463.4 272.2 463.6 269.4 463.7 260.1 463.5 250.8 463.1 241.5 462.4 232.4 461.5 223.5 460.2 214.7 458.7 206.2 457.0 198.0 455.1 190.0 453.0 182.4 450.7 175.2 448.3 168.4 445.8 162.0 443.2 156.1 440.5 150.6 437.8 145.7 435.1 141.3 432.5 137.4 430.0 134.1 427.6 131.4 425.3 129.3 423.3 127.8 421.6 126.8 420.3 126.5 419.5 M130.5 419.5 134.6 410.6 138.7 404.3 142.8 398.6 146.9 393.5 151.0 388.6 155.1 384.1 159.2 379.9 163.3 375.9 167.4 372.1 171.5 368.6 175.7 365.3 179.8 362.3 183.9 359.4 188.0 356.9 192.1 354.5 196.2 352.4 200.3 350.6 204.4 348.9 208.5 347.6 212.6 346.4 216.7 345.5 220.8 344.9 224.9 344.5 229.0 344.4 234.2 344.6 239.4 345.1 244.6 345.9 249.7 347.0 254.7 348.4 259.6 350.1 264.3 352.2 268.9 354.5 273.4 357.1 277.6 359.9 281.7 363.1 285.5 366.4 289.0 370.0 292.4 373.8 295.4 377.8 298.2 382.0 300.6 386.3 302.8 390.8 304.6 395.4 306.1 400.1 307.3 404.9 308.2 409.7 308.7 414.6 308.9 419.5 308.8 425.1 308.5 428.8 308.1 432.1 307.4 435.0 306.6 437.8 305.7 440.3 304.6 442.7 303.3 444.9 301.8 447.0 300.3 449.0 298.5 450.8 296.7 452.5 294.7 454.0 292.6 455.5 290.4 456.7 288.1 457.9 285.7 458.9 283.2 459.8 280.6 460.6 278.0 461.2 275.4 461.6 272.7 462.0 270.0 462.2 267.3 462.3 258.3 462.1 249.4 461.7 240.6 461.0 231.9 460.1 223.3 458.9 214.9 457.5 206.8 455.8 198.9 454.0 191.3 451.9 184.0 449.7 177.1 447.4 170.6 444.9 164.4 442.4 158.8 439.8 153.5 437.2 148.8 434.6 144.6 432.1 140.9 429.6 137.8 427.3 135.2 425.2 133.1 423.2 131.7 421.5 130.8 420.2 130.5 419.5 M133.2 419.5 137.2 410.8 141.2 404.5 145.2 399.0 149.2 393.9 153.2 389.2 157.2 384.8 161.2 380.6 165.2 376.7 169.2 373.1 173.2 369.6 177.2 366.4 181.2 363.4 185.2 360.7 189.2 358.2 193.2 355.9 197.2 353.8 201.2 352.0 205.2 350.4 209.2 349.1 213.1 348.0 217.1 347.1 221.1 346.5 225.1 346.2 229.1 346.0 234.2 346.2 239.3 346.7 244.4 347.4 249.4 348.5 254.3 349.9 259.1 351.6 263.8 353.6 268.3 355.9 272.6 358.4 276.8 361.2 280.8 364.3 284.5 367.6 288.0 371.1 291.2 374.8 294.2 378.7 296.9 382.8 299.3 387.0 301.5 391.4 303.3 395.9 304.8 400.5 305.9 405.2 306.8 409.9 307.3 414.7 307.4 419.5 307.3 424.9 307.1 428.6 306.6 431.8 306.0 434.7 305.2 437.4 304.3 439.9 303.1 442.2 301.8 444.4 300.4 446.5 298.8 448.4 297.1 450.1 295.2 451.8 293.2 453.3 291.1 454.7 288.9 456.0 286.6 457.1 284.2 458.1 281.7 459.0 279.2 459.7 276.6 460.3 273.9 460.8 271.2 461.1 268.5 461.3 265.8 461.4 257.1 461.2 248.5 460.8 239.9 460.2 231.5 459.2 223.2 458.1 215.1 456.7 207.2 455.1 199.5 453.2 192.2 451.2 185.1 449.1 178.4 446.8 172.1 444.4 166.1 441.9 160.6 439.4 155.6 436.9 151.0 434.3 146.9 431.8 143.3 429.4 140.3 427.2 137.8 425.0 135.8 423.1 134.4 421.5 133.5 420.2 133.2 419.5 M137.2 419.5 141.0 411.0 144.9 405.0 148.7 399.6 152.5 394.7 156.4 390.2 160.2 385.9 164.0 381.9 167.9 378.2 171.7 374.6 175.5 371.3 179.3 368.2 183.2 365.4 187.0 362.7 190.8 360.3 194.7 358.1 198.5 356.1 202.3 354.4 206.1 352.9 210.0 351.6 213.8 350.5 217.6 349.7 221.5 349.1 225.3 348.7 229.1 348.6 234.1 348.8 239.0 349.2 243.9 350.0 248.7 351.0 253.4 352.4 258.1 354.0 262.6 355.9 266.9 358.1 271.1 360.6 275.1 363.3 279.0 366.2 282.6 369.4 286.0 372.8 289.1 376.4 292.0 380.1 294.6 384.1 296.9 388.2 299.0 392.4 300.7 396.7 302.1 401.2 303.3 405.7 304.1 410.3 304.6 414.9 304.7 419.5 304.6 424.8 304.4 428.3 303.9 431.4 303.3 434.2 302.5 436.8 301.6 439.2 300.5 441.4 299.2 443.5 297.8 445.5 296.2 447.4 294.5 449.1 292.7 450.7 290.8 452.1 288.7 453.5 286.5 454.7 284.2 455.8 281.9 456.8 279.4 457.6 276.9 458.3 274.3 458.9 271.7 459.3 269.1 459.7 266.4 459.9 263.7 459.9 255.4 459.8 247.2 459.4 239.0 458.8 231.0 457.9 223.1 456.7 215.3 455.4 207.8 453.8 200.5 452.1 193.4 450.2 186.7 448.1 180.3 445.9 174.3 443.5 168.6 441.2 163.4 438.7 158.5 436.3 154.2 433.8 150.3 431.4 146.8 429.1 143.9 426.9 141.5 424.9 139.6 423.0 138.3 421.4 137.5 420.2 137.2 419.5 M140.7 419.5 144.4 411.2 148.1 405.3 151.8 400.1 155.4 395.4 159.1 391.0 162.8 386.9 166.5 383.0 170.2 379.4 173.9 375.9 177.6 372.8 181.2 369.8 184.9 367.0 188.6 364.4 192.3 362.1 196.0 360.0 199.7 358.1 203.4 356.4 207.1 354.9 210.7 353.7 214.4 352.7 218.1 351.9 221.8 351.3 225.5 351.0 229.2 350.8 234.0 351.0 238.7 351.4 243.5 352.2 248.2 353.2 252.8 354.5 257.2 356.1 261.6 357.9 265.8 360.0 269.9 362.4 273.8 365.0 277.5 367.9 281.0 371.0 284.3 374.2 287.4 377.7 290.2 381.4 292.7 385.2 295.0 389.2 296.9 393.2 298.6 397.5 300.0 401.8 301.1 406.1 301.9 410.6 302.4 415.0 302.5 419.5 302.4 424.6 302.2 428.0 301.7 431.0 301.1 433.7 300.4 436.2 299.4 438.6 298.3 440.8 297.1 442.8 295.7 444.7 294.1 446.5 292.4 448.2 290.6 449.7 288.7 451.1 286.6 452.4 284.5 453.6 282.2 454.7 279.9 455.6 277.5 456.4 275.0 457.1 272.4 457.7 269.8 458.1 267.2 458.4 264.6 458.6 261.9 458.7 254.0 458.6 246.1 458.2 238.3 457.6 230.5 456.7 222.9 455.6 215.5 454.3 208.3 452.8 201.3 451.1 194.6 449.2 188.1 447.2 182.0 445.1 176.2 442.8 170.8 440.5 165.7 438.1 161.1 435.7 156.9 433.4 153.2 431.0 149.9 428.8 147.1 426.7 144.8 424.7 143.0 422.9 141.7 421.4 141.0 420.2 140.7 419.5 M143.8 419.5 147.3 411.4 150.9 405.6 154.4 400.6 158.0 396.0 161.6 391.7 165.1 387.7 168.7 383.9 172.3 380.4 175.8 377.1 179.4 374.0 183.0 371.1 186.5 368.4 190.1 365.9 193.6 363.7 197.2 361.6 200.8 359.8 204.3 358.1 207.9 356.7 211.5 355.5 215.0 354.5 218.6 353.7 222.1 353.2 225.7 352.9 229.3 352.7 233.9 352.9 238.6 353.3 243.2 354.0 247.8 355.0 252.2 356.3 256.6 357.8 260.9 359.6 265.0 361.7 269.0 364.0 272.8 366.5 276.4 369.3 279.8 372.3 283.0 375.5 286.0 378.9 288.7 382.4 291.1 386.1 293.4 390.0 295.3 394.0 296.9 398.1 298.3 402.2 299.3 406.5 300.1 410.8 300.6 415.2 300.7 419.5 300.6 424.5 300.4 427.8 299.9 430.7 299.3 433.4 298.6 435.8 297.6 438.1 296.6 440.2 295.3 442.2 293.9 444.0 292.4 445.8 290.7 447.4 288.9 448.9 287.0 450.3 284.9 451.6 282.8 452.7 280.5 453.7 278.2 454.6 275.8 455.4 273.3 456.1 270.8 456.6 268.2 457.1 265.6 457.4 263.0 457.6 260.3 457.6 252.7 457.5 245.1 457.1 237.6 456.5 230.2 455.7 222.9 454.6 215.7 453.4 208.8 451.9 202.1 450.2 195.6 448.4 189.4 446.4 183.5 444.4 177.9 442.2 172.7 439.9 167.9 437.6 163.4 435.3 159.4 433.0 155.8 430.7 152.6 428.6 149.9 426.5 147.7 424.5 146.0 422.8 144.8 421.3 144.0 420.2 143.8 419.5 M146.8 419.5 150.2 411.5 153.7 405.9 157.1 401.0 160.6 396.5 164.0 392.4 167.4 388.5 170.9 384.8 174.3 381.4 177.8 378.2 181.2 375.2 184.6 372.4 188.1 369.8 191.5 367.4 195.0 365.2 198.4 363.2 201.8 361.4 205.3 359.8 208.7 358.5 212.2 357.3 215.6 356.3 219.1 355.6 222.5 355.1 225.9 354.7 229.4 354.6 233.9 354.8 238.5 355.2 242.9 355.9 247.4 356.8 251.7 358.1 256.0 359.6 260.1 361.3 264.2 363.3 268.0 365.6 271.7 368.0 275.2 370.7 278.6 373.6 281.7 376.7 284.6 380.0 287.2 383.5 289.6 387.1 291.8 390.8 293.6 394.7 295.3 398.7 296.6 402.7 297.6 406.9 298.4 411.1 298.8 415.3 298.9 419.5 298.9 424.3 298.6 427.6 298.2 430.4 297.6 433.0 296.8 435.3 295.9 437.6 294.8 439.6 293.6 441.6 292.2 443.4 290.7 445.1 289.0 446.6 287.2 448.1 285.3 449.4 283.3 450.7 281.1 451.8 278.9 452.8 276.6 453.7 274.2 454.4 271.7 455.1 269.2 455.6 266.7 456.0 264.1 456.3 261.5 456.5 258.8 456.6 251.5 456.5 244.2 456.1 237.0 455.5 229.8 454.7 222.8 453.7 216.0 452.4 209.3 451.0 202.8 449.4 196.6 447.6 190.6 445.7 185.0 443.7 179.6 441.6 174.6 439.4 169.9 437.1 165.7 434.9 161.8 432.6 158.3 430.4 155.3 428.3 152.7 426.3 150.6 424.4 148.9 422.7 147.7 421.3 147.0 420.2 146.8 419.5 M151.6 419.5 154.8 411.9 158.1 406.5 161.3 401.9 164.5 397.6 167.8 393.7 171.0 390.0 174.3 386.5 177.5 383.3 180.7 380.2 184.0 377.4 187.2 374.7 190.5 372.3 193.7 370.0 196.9 367.9 200.2 366.0 203.4 364.3 206.7 362.8 209.9 361.5 213.1 360.4 216.4 359.5 219.6 358.8 222.9 358.3 226.1 358.0 229.3 357.9 233.7 358.0 238.0 358.4 242.2 359.1 246.4 360.0 250.6 361.2 254.6 362.6 258.6 364.3 262.4 366.2 266.0 368.3 269.6 370.6 272.9 373.2 276.1 376.0 279.0 378.9 281.7 382.0 284.3 385.3 286.5 388.7 288.6 392.3 290.4 396.0 291.9 399.7 293.1 403.6 294.1 407.5 294.8 411.5 295.3 415.5 295.4 419.5 295.3 424.1 295.1 427.2 294.6 429.9 294.1 432.3 293.3 434.6 292.4 436.7 291.4 438.6 290.2 440.5 288.8 442.2 287.4 443.8 285.8 445.3 284.0 446.7 282.2 448.0 280.2 449.1 278.1 450.2 276.0 451.1 273.7 452.0 271.4 452.7 269.0 453.3 266.6 453.8 264.1 454.2 261.6 454.5 259.1 454.7 256.5 454.7 249.7 454.6 242.8 454.3 236.1 453.7 229.4 453.0 222.8 452.0 216.4 450.8 210.1 449.4 204.1 447.9 198.2 446.2 192.6 444.4 187.3 442.5 182.3 440.5 177.6 438.4 173.3 436.3 169.3 434.1 165.6 432.0 162.4 429.9 159.6 427.9 157.2 425.9 155.2 424.2 153.6 422.6 152.5 421.2 151.8 420.1 151.6 419.5 M155.2 419.5 158.3 412.1 161.4 407.0 164.5 402.5 167.6 398.4 170.7 394.6 173.8 391.0 176.9 387.7 180.0 384.6 183.0 381.7 186.1 378.9 189.2 376.4 192.3 374.0 195.4 371.8 198.5 369.9 201.6 368.1 204.7 366.4 207.8 365.0 210.9 363.8 214.0 362.7 217.1 361.8 220.2 361.2 223.2 360.7 226.3 360.4 229.4 360.3 233.6 360.4 237.7 360.8 241.8 361.4 245.9 362.3 249.9 363.4 253.8 364.8 257.5 366.4 261.2 368.2 264.8 370.3 268.1 372.5 271.3 375.0 274.4 377.6 277.2 380.5 279.9 383.5 282.3 386.6 284.5 389.9 286.5 393.3 288.2 396.9 289.6 400.5 290.8 404.2 291.8 408.0 292.5 411.8 292.9 415.7 293.0 419.5 292.9 423.9 292.7 426.9 292.3 429.5 291.7 431.8 291.0 434.0 290.1 436.0 289.1 437.9 287.9 439.7 286.6 441.3 285.1 442.9 283.5 444.3 281.8 445.7 280.0 446.9 278.1 448.0 276.0 449.0 273.9 449.9 271.7 450.8 269.4 451.5 267.1 452.1 264.7 452.5 262.3 452.9 259.8 453.2 257.3 453.4 254.8 453.4 248.3 453.3 241.8 453.0 235.4 452.4 229.1 451.7 222.8 450.7 216.7 449.6 210.8 448.3 205.0 446.8 199.5 445.2 194.2 443.5 189.2 441.6 184.4 439.7 179.9 437.7 175.8 435.6 172.0 433.6 168.6 431.5 165.5 429.5 162.8 427.6 160.5 425.7 158.6 424.0 157.1 422.5 156.1 421.1 155.4 420.1 155.2 419.5 M158.4 419.5 161.4 412.3 164.4 407.3 167.3 403.0 170.3 399.0 173.2 395.3 176.2 391.9 179.2 388.7 182.1 385.7 185.1 382.9 188.1 380.3 191.0 377.8 194.0 375.6 197.0 373.5 199.9 371.5 202.9 369.8 205.8 368.3 208.8 366.9 211.8 365.7 214.7 364.7 217.7 363.8 220.7 363.2 223.6 362.7 226.6 362.4 229.6 362.4 233.6 362.5 237.6 362.8 241.5 363.4 245.5 364.3 249.3 365.4 253.1 366.7 256.7 368.2 260.3 370.0 263.7 372.0 267.0 374.2 270.1 376.5 273.0 379.1 275.8 381.8 278.3 384.7 280.7 387.8 282.8 390.9 284.7 394.2 286.3 397.7 287.8 401.2 288.9 404.7 289.8 408.4 290.5 412.1 290.9 415.8 291.0 419.5 290.9 423.8 290.7 426.6 290.3 429.1 289.7 431.4 289.0 433.5 288.2 435.5 287.1 437.3 286.0 439.0 284.7 440.6 283.2 442.1 281.7 443.5 280.0 444.8 278.2 446.0 276.3 447.0 274.3 448.0 272.2 448.9 270.0 449.7 267.8 450.4 265.5 450.9 263.1 451.4 260.7 451.8 258.3 452.0 255.9 452.2 253.4 452.3 247.2 452.2 241.0 451.8 234.9 451.3 228.8 450.6 222.9 449.7 217.1 448.6 211.4 447.3 205.9 445.9 200.6 444.3 195.6 442.7 190.8 440.9 186.2 439.0 182.0 437.1 178.1 435.1 174.4 433.1 171.2 431.1 168.2 429.2 165.7 427.3 163.5 425.5 161.7 423.8 160.3 422.4 159.2 421.1 158.6 420.1 158.4 419.5 M161.8 419.5 164.7 412.5 167.5 407.7 170.3 403.5 173.1 399.7 176.0 396.2 178.8 392.9 181.6 389.8 184.5 386.9 187.3 384.3 190.1 381.7 192.9 379.4 195.8 377.2 198.6 375.2 201.4 373.4 204.2 371.7 207.1 370.2 209.9 368.9 212.7 367.8 215.6 366.8 218.4 366.0 221.2 365.4 224.0 364.9 226.9 364.7 229.7 364.6 233.6 364.7 237.4 365.0 241.2 365.6 245.0 366.4 248.7 367.5 252.3 368.8 255.8 370.2 259.3 371.9 262.6 373.8 265.7 375.9 268.7 378.2 271.5 380.7 274.2 383.3 276.6 386.1 278.9 389.0 280.9 392.1 282.7 395.2 284.3 398.5 285.7 401.9 286.8 405.3 287.7 408.8 288.3 412.4 288.7 415.9 288.8 419.5 288.8 423.6 288.5 426.4 288.1 428.8 287.6 431.0 286.9 433.0 286.0 434.8 285.0 436.6 283.9 438.3 282.6 439.8 281.2 441.2 279.7 442.6 278.0 443.8 276.3 444.9 274.4 446.0 272.4 446.9 270.4 447.8 268.2 448.5 266.0 449.2 263.8 449.8 261.5 450.2 259.1 450.6 256.7 450.8 254.3 451.0 251.9 451.0 246.0 450.9 240.1 450.6 234.3 450.1 228.6 449.4 223.0 448.5 217.4 447.5 212.1 446.3 206.9 444.9 201.9 443.4 197.1 441.8 192.5 440.1 188.2 438.3 184.2 436.4 180.4 434.5 177.0 432.6 173.9 430.7 171.1 428.8 168.7 427.0 166.6 425.3 164.9 423.7 163.6 422.2 162.6 421.0 162.0 420.1 161.8 419.5 M166.4 419.5 169.0 412.8 171.6 408.3 174.3 404.3 176.9 400.7 179.6 397.4 182.2 394.3 184.9 391.4 187.5 388.7 190.1 386.2 192.8 383.8 195.4 381.6 198.1 379.6 200.7 377.7 203.3 376.0 206.0 374.4 208.6 373.0 211.3 371.8 213.9 370.7 216.6 369.8 219.2 369.0 221.8 368.4 224.5 368.0 227.1 367.8 229.8 367.7 233.4 367.8 237.0 368.1 240.6 368.7 244.2 369.5 247.7 370.4 251.1 371.6 254.4 373.0 257.6 374.6 260.7 376.4 263.7 378.4 266.5 380.6 269.2 382.9 271.7 385.4 274.0 388.0 276.1 390.7 278.1 393.6 279.8 396.6 281.3 399.7 282.6 402.9 283.6 406.1 284.5 409.4 285.1 412.8 285.4 416.1 285.5 419.5 285.5 423.4 285.2 426.0 284.9 428.3 284.3 430.3 283.7 432.2 282.8 434.0 281.9 435.7 280.8 437.2 279.6 438.7 278.2 440.0 276.7 441.3 275.1 442.5 273.4 443.5 271.6 444.5 269.8 445.4 267.8 446.2 265.7 446.9 263.6 447.5 261.4 448.1 259.2 448.5 257.0 448.8 254.7 449.1 252.4 449.2 250.0 449.3 244.6 449.2 239.1 448.9 233.7 448.4 228.4 447.8 223.1 446.9 218.0 445.9 213.0 444.8 208.2 443.5 203.5 442.1 199.1 440.5 194.9 438.9 190.9 437.2 187.1 435.4 183.6 433.7 180.5 431.8 177.6 430.0 175.0 428.3 172.7 426.6 170.8 425.0 169.2 423.4 168.0 422.1 167.1 420.9 166.5 420.0 166.4 419.5 M170.6 419.5 173.1 413.2 175.6 408.9 178.0 405.1 180.5 401.7 183.0 398.6 185.4 395.7 187.9 393.0 190.4 390.4 192.9 388.0 195.3 385.8 197.8 383.7 200.3 381.8 202.7 380.0 205.2 378.4 207.7 376.9 210.1 375.6 212.6 374.5 215.1 373.5 217.5 372.6 220.0 371.9 222.5 371.3 224.9 371.0 227.4 370.7 229.9 370.6 233.3 370.7 236.7 371.1 240.1 371.6 243.5 372.3 246.8 373.2 250.0 374.4 253.1 375.7 256.2 377.2 259.1 378.9 261.9 380.7 264.6 382.8 267.1 385.0 269.4 387.3 271.6 389.8 273.6 392.4 275.4 395.1 277.0 397.9 278.5 400.8 279.7 403.8 280.7 406.9 281.5 410.0 282.0 413.2 282.4 416.3 282.5 419.5 282.4 423.2 282.2 425.6 281.8 427.8 281.3 429.7 280.7 431.5 279.9 433.2 278.9 434.8 277.9 436.2 276.7 437.6 275.4 438.9 274.0 440.1 272.5 441.2 270.8 442.2 269.1 443.1 267.3 444.0 265.4 444.7 263.4 445.4 261.4 446.0 259.3 446.5 257.2 446.9 255.0 447.2 252.8 447.4 250.6 447.6 248.3 447.6 243.3 447.5 238.2 447.2 233.2 446.8 228.2 446.2 223.4 445.4 218.6 444.5 214.0 443.4 209.5 442.2 205.2 440.8 201.0 439.4 197.1 437.8 193.4 436.2 189.9 434.6 186.7 432.9 183.7 431.2 181.0 429.5 178.7 427.8 176.6 426.2 174.8 424.6 173.3 423.2 172.1 422.0 171.3 420.9 170.8 420.0 170.6 419.5 M173.8 419.5 176.2 413.4 178.5 409.2 180.8 405.6 183.2 402.4 185.5 399.4 187.9 396.6 190.2 394.0 192.6 391.6 194.9 389.3 197.3 387.2 199.6 385.2 201.9 383.3 204.3 381.7 206.6 380.1 209.0 378.7 211.3 377.5 213.7 376.3 216.0 375.4 218.4 374.6 220.7 373.9 223.0 373.4 225.4 373.0 227.7 372.8 230.1 372.7 233.4 372.8 236.7 373.1 239.9 373.6 243.1 374.3 246.3 375.2 249.4 376.3 252.4 377.5 255.3 379.0 258.1 380.6 260.8 382.4 263.3 384.3 265.7 386.4 268.0 388.7 270.1 391.0 272.0 393.5 273.7 396.1 275.3 398.8 276.7 401.6 277.8 404.5 278.8 407.4 279.5 410.4 280.1 413.4 280.4 416.5 280.5 419.5 280.4 423.0 280.2 425.4 279.9 427.4 279.4 429.3 278.7 431.0 278.0 432.6 277.1 434.1 276.0 435.5 274.9 436.9 273.6 438.1 272.2 439.2 270.7 440.3 269.1 441.3 267.5 442.2 265.7 443.0 263.8 443.7 261.9 444.3 259.9 444.9 257.9 445.4 255.8 445.8 253.7 446.1 251.5 446.3 249.3 446.4 247.2 446.4 242.4 446.4 237.6 446.1 232.8 445.7 228.2 445.1 223.6 444.3 219.1 443.4 214.7 442.4 210.5 441.2 206.4 439.9 202.5 438.5 198.8 437.1 195.3 435.5 192.0 433.9 189.0 432.3 186.2 430.7 183.6 429.0 181.4 427.4 179.4 425.9 177.7 424.4 176.3 423.1 175.2 421.9 174.4 420.8 174.0 420.0 173.8 419.5 M179.3 419.5 181.5 413.8 183.6 410.0 185.7 406.7 187.8 403.8 189.9 401.0 192.1 398.5 194.2 396.1 196.3 393.9 198.4 391.8 200.5 389.9 202.6 388.1 204.8 386.4 206.9 384.9 209.0 383.4 211.1 382.2 213.2 381.0 215.4 380.0 217.5 379.1 219.6 378.4 221.7 377.8 223.8 377.3 225.9 377.0 228.1 376.8 230.2 376.7 233.2 376.8 236.2 377.1 239.2 377.5 242.1 378.2 245.0 379.0 247.8 380.0 250.5 381.1 253.2 382.4 255.7 383.9 258.2 385.6 260.5 387.3 262.7 389.3 264.8 391.3 266.7 393.5 268.4 395.7 270.0 398.1 271.4 400.6 272.7 403.1 273.7 405.8 274.6 408.4 275.3 411.2 275.8 413.9 276.1 416.7 276.2 419.5 276.1 422.7 275.9 424.9 275.6 426.8 275.1 428.5 274.5 430.1 273.8 431.5 273.0 432.9 272.0 434.2 270.9 435.4 269.8 436.5 268.5 437.6 267.1 438.5 265.6 439.4 264.0 440.3 262.4 441.0 260.7 441.7 258.9 442.3 257.0 442.8 255.1 443.2 253.2 443.6 251.2 443.8 249.2 444.0 247.2 444.2 245.2 444.2 240.9 444.1 236.6 443.9 232.3 443.5 228.1 442.9 224.0 442.3 220.0 441.4 216.1 440.5 212.3 439.4 208.6 438.2 205.1 437.0 201.8 435.6 198.6 434.2 195.7 432.7 192.9 431.2 190.4 429.7 188.2 428.3 186.1 426.8 184.4 425.4 182.8 424.0 181.6 422.8 180.6 421.7 179.9 420.7 179.5 419.9 179.3 419.5 M182.2 419.5 184.3 414.0 186.3 410.4 188.3 407.2 190.3 404.4 192.3 401.8 194.3 399.3 196.3 397.1 198.3 395.0 200.3 393.0 202.3 391.1 204.3 389.4 206.3 387.8 208.4 386.3 210.4 385.0 212.4 383.8 214.4 382.7 216.4 381.7 218.4 380.9 220.4 380.2 222.4 379.6 224.4 379.2 226.4 378.9 228.4 378.7 230.4 378.6 233.3 378.7 236.2 378.9 239.0 379.4 241.8 380.0 244.6 380.8 247.3 381.7 249.9 382.8 252.5 384.1 254.9 385.5 257.2 387.1 259.5 388.8 261.6 390.6 263.5 392.5 265.4 394.6 267.0 396.8 268.6 399.1 269.9 401.4 271.1 403.9 272.1 406.4 273.0 408.9 273.6 411.5 274.1 414.2 274.4 416.9 274.5 419.5 274.4 422.6 274.2 424.7 273.9 426.5 273.4 428.1 272.9 429.6 272.2 431.0 271.3 432.3 270.4 433.6 269.4 434.7 268.2 435.8 267.0 436.8 265.6 437.7 264.2 438.6 262.6 439.4 261.0 440.1 259.4 440.7 257.6 441.3 255.8 441.8 254.0 442.2 252.1 442.5 250.1 442.8 248.2 443.0 246.2 443.1 244.3 443.1 240.2 443.1 236.2 442.8 232.2 442.5 228.2 441.9 224.3 441.3 220.5 440.5 216.8 439.6 213.3 438.6 209.8 437.4 206.5 436.2 203.4 434.9 200.4 433.6 197.6 432.2 195.1 430.7 192.7 429.3 190.6 427.9 188.6 426.5 187.0 425.1 185.5 423.8 184.4 422.6 183.4 421.6 182.8 420.6 182.4 419.9 182.2 419.5 M187.3 419.5 189.1 414.5 190.9 411.1 192.7 408.3 194.5 405.7 196.3 403.3 198.2 401.1 200.0 399.0 201.8 397.1 203.6 395.3 205.4 393.6 207.2 392.1 209.0 390.6 210.8 389.3 212.6 388.1 214.4 387.0 216.2 386.0 218.0 385.1 219.8 384.4 221.6 383.7 223.4 383.2 225.2 382.8 227.0 382.5 228.8 382.3 230.6 382.3 233.3 382.3 235.9 382.6 238.4 383.0 241.0 383.5 243.5 384.2 245.9 385.1 248.3 386.1 250.6 387.3 252.8 388.5 255.0 390.0 257.0 391.5 258.9 393.2 260.7 395.0 262.3 396.8 263.8 398.8 265.2 400.9 266.5 403.1 267.5 405.3 268.5 407.6 269.2 409.9 269.8 412.3 270.2 414.7 270.5 417.1 270.6 419.5 270.5 422.3 270.3 424.2 270.0 425.9 269.6 427.3 269.1 428.7 268.5 430.0 267.7 431.2 266.8 432.3 265.9 433.4 264.8 434.4 263.6 435.3 262.4 436.1 261.1 436.9 259.7 437.6 258.2 438.3 256.6 438.9 255.0 439.4 253.3 439.8 251.6 440.2 249.9 440.5 248.1 440.7 246.3 440.9 244.5 441.0 242.7 441.1 239.0 441.0 235.4 440.8 231.9 440.4 228.3 440.0 224.9 439.4 221.5 438.6 218.2 437.8 215.0 436.9 211.9 435.9 209.0 434.7 206.2 433.6 203.5 432.3 201.1 431.1 198.8 429.8 196.6 428.4 194.7 427.1 193.0 425.9 191.5 424.6 190.3 423.5 189.2 422.4 188.4 421.4 187.8 420.5 187.4 419.9 187.3 419.5 M191.8 419.5 193.4 414.9 195.0 411.8 196.7 409.2 198.3 406.8 199.9 404.6 201.6 402.6 203.2 400.7 204.8 399.0 206.5 397.3 208.1 395.8 209.7 394.4 211.3 393.1 213.0 391.9 214.6 390.8 216.2 389.8 217.9 388.9 219.5 388.1 221.1 387.4 222.7 386.8 224.4 386.3 226.0 385.9 227.6 385.7 229.3 385.5 230.9 385.5 233.3 385.5 235.6 385.8 238.0 386.1 240.3 386.6 242.6 387.3 244.8 388.1 247.0 389.0 249.1 390.0 251.1 391.2 253.1 392.5 254.9 393.9 256.6 395.4 258.3 397.1 259.8 398.8 261.2 400.6 262.4 402.5 263.5 404.5 264.5 406.5 265.4 408.6 266.1 410.7 266.6 412.9 267.0 415.1 267.2 417.3 267.3 419.5 267.2 422.1 267.1 423.8 266.8 425.3 266.4 426.7 265.9 427.9 265.3 429.1 264.6 430.2 263.8 431.3 262.9 432.2 261.9 433.1 260.9 434.0 259.7 434.7 258.5 435.5 257.2 436.1 255.8 436.7 254.3 437.2 252.8 437.7 251.3 438.1 249.7 438.5 248.1 438.7 246.4 439.0 244.8 439.1 243.1 439.2 241.4 439.2 238.2 439.2 234.9 439.0 231.7 438.7 228.6 438.2 225.5 437.7 222.4 437.0 219.5 436.3 216.6 435.4 213.8 434.5 211.2 433.5 208.7 432.4 206.3 431.3 204.1 430.1 202.0 428.9 200.1 427.7 198.4 426.5 196.9 425.3 195.6 424.2 194.4 423.1 193.5 422.1 192.7 421.2 192.2 420.5 191.9 419.9 191.8 419.5 M196.1 419.5 197.6 415.2 199.0 412.5 200.5 410.1 202.0 407.9 203.4 405.9 204.9 404.1 206.3 402.4 207.8 400.8 209.3 399.3 210.7 397.9 212.2 396.6 213.6 395.5 215.1 394.4 216.6 393.4 218.0 392.5 219.5 391.6 221.0 390.9 222.4 390.3 223.9 389.8 225.3 389.4 226.8 389.0 228.3 388.8 229.7 388.6 231.2 388.6 233.3 388.7 235.5 388.9 237.6 389.2 239.7 389.6 241.8 390.2 243.8 390.9 245.8 391.8 247.7 392.7 249.5 393.8 251.2 395.0 252.9 396.3 254.5 397.7 256.0 399.1 257.3 400.7 258.6 402.3 259.7 404.1 260.7 405.8 261.6 407.7 262.4 409.6 263.0 411.5 263.5 413.5 263.9 415.5 264.1 417.5 264.1 419.5 264.1 421.9 263.9 423.4 263.7 424.8 263.3 426.0 262.9 427.2 262.3 428.3 261.7 429.3 260.9 430.2 260.1 431.1 259.2 431.9 258.2 432.7 257.2 433.4 256.0 434.0 254.8 434.6 253.5 435.2 252.2 435.6 250.8 436.1 249.4 436.4 247.9 436.8 246.5 437.0 244.9 437.2 243.4 437.4 241.8 437.5 240.3 437.5 237.4 437.4 234.5 437.3 231.7 437.0 228.8 436.6 226.1 436.1 223.4 435.5 220.7 434.8 218.2 434.0 215.7 433.1 213.4 432.2 211.2 431.2 209.1 430.2 207.1 429.1 205.2 428.1 203.6 427.0 202.0 425.9 200.7 424.8 199.5 423.8 198.5 422.8 197.6 421.9 197.0 421.1 196.5 420.4 196.2 419.8 196.1 419.5 M200.2 419.5 201.5 415.6 202.8 413.1 204.1 410.9 205.4 408.9 206.7 407.2 208.0 405.5 209.3 404.0 210.6 402.5 211.9 401.2 213.2 399.9 214.5 398.8 215.8 397.7 217.1 396.7 218.4 395.8 219.8 395.0 221.1 394.2 222.4 393.6 223.7 393.0 225.0 392.6 226.3 392.2 227.6 391.9 228.9 391.7 230.2 391.5 231.5 391.5 233.5 391.5 235.4 391.7 237.3 392.0 239.2 392.4 241.1 393.0 242.9 393.6 244.7 394.4 246.4 395.2 248.1 396.2 249.6 397.3 251.1 398.4 252.6 399.7 253.9 401.0 255.1 402.5 256.3 404.0 257.3 405.5 258.2 407.1 259.0 408.8 259.7 410.5 260.3 412.3 260.7 414.1 261.0 415.9 261.2 417.7 261.3 419.5 261.2 421.6 261.1 423.1 260.9 424.3 260.5 425.4 260.1 426.5 259.6 427.5 259.0 428.4 258.3 429.2 257.6 430.0 256.7 430.8 255.8 431.5 254.9 432.1 253.8 432.7 252.7 433.2 251.5 433.7 250.3 434.2 249.0 434.6 247.7 434.9 246.4 435.2 245.0 435.4 243.6 435.6 242.2 435.7 240.8 435.8 239.3 435.8 236.8 435.8 234.2 435.6 231.7 435.4 229.2 435.0 226.8 434.6 224.4 434.0 222.0 433.4 219.8 432.7 217.6 431.9 215.5 431.1 213.5 430.2 211.6 429.2 209.9 428.3 208.3 427.3 206.8 426.3 205.4 425.3 204.2 424.3 203.1 423.4 202.2 422.5 201.5 421.7 200.9 420.9 200.5 420.3 200.2 419.8 200.2 419.5 M203.8 419.5 204.9 415.9 206.1 413.6 207.3 411.6 208.4 409.9 209.6 408.2 210.8 406.7 212.0 405.3 213.1 404.0 214.3 402.8 215.5 401.7 216.6 400.6 217.8 399.6 219.0 398.7 220.2 397.9 221.3 397.2 222.5 396.5 223.7 395.9 224.8 395.4 226.0 395.0 227.2 394.7 228.4 394.4 229.5 394.2 230.7 394.1 231.9 394.0 233.6 394.1 235.4 394.3 237.1 394.5 238.9 394.9 240.6 395.4 242.2 396.0 243.8 396.7 245.4 397.5 246.9 398.3 248.3 399.3 249.7 400.4 251.0 401.5 252.2 402.7 253.3 404.0 254.3 405.4 255.2 406.8 256.1 408.3 256.8 409.8 257.4 411.3 257.9 412.9 258.3 414.6 258.6 416.2 258.8 417.9 258.9 419.5 258.8 421.5 258.7 422.8 258.5 423.9 258.2 424.9 257.8 425.9 257.3 426.8 256.8 427.6 256.2 428.4 255.5 429.1 254.7 429.8 253.8 430.4 252.9 431.0 252.0 431.5 251.0 432.0 249.9 432.5 248.8 432.9 247.6 433.2 246.4 433.5 245.1 433.8 243.9 434.0 242.6 434.2 241.3 434.3 240.0 434.4 238.6 434.4 236.4 434.3 234.1 434.2 231.8 434.0 229.6 433.6 227.4 433.2 225.3 432.7 223.2 432.1 221.2 431.5 219.3 430.8 217.4 430.0 215.6 429.2 214.0 428.4 212.4 427.5 211.0 426.6 209.6 425.7 208.4 424.8 207.3 423.9 206.4 423.0 205.6 422.2 204.9 421.5 204.4 420.8 204.0 420.2 203.8 419.8 203.8 419.5 M209.1 419.5 210.1 416.5 211.1 414.5 212.0 412.9 213.0 411.4 214.0 410.0 214.9 408.7 215.9 407.6 216.8 406.5 217.8 405.5 218.8 404.5 219.7 403.6 220.7 402.8 221.7 402.1 222.6 401.4 223.6 400.8 224.5 400.2 225.5 399.8 226.5 399.3 227.4 399.0 228.4 398.7 229.4 398.4 230.3 398.3 231.3 398.2 232.2 398.2 233.7 398.2 235.2 398.3 236.6 398.6 238.0 398.9 239.4 399.3 240.8 399.8 242.2 400.4 243.4 401.0 244.7 401.8 245.9 402.6 247.0 403.5 248.1 404.4 249.1 405.4 250.0 406.5 250.9 407.7 251.6 408.8 252.3 410.1 252.9 411.4 253.5 412.7 253.9 414.0 254.2 415.4 254.5 416.7 254.6 418.1 254.6 419.5 254.6 421.1 254.5 422.2 254.3 423.2 254.1 424.1 253.7 424.9 253.3 425.6 252.9 426.3 252.4 427.0 251.8 427.6 251.1 428.1 250.4 428.7 249.6 429.2 248.8 429.6 248.0 430.0 247.1 430.4 246.1 430.8 245.1 431.1 244.1 431.3 243.1 431.5 242.0 431.7 240.9 431.9 239.8 432.0 238.7 432.0 237.6 432.0 235.7 432.0 233.9 431.9 232.0 431.7 230.2 431.4 228.4 431.0 226.7 430.6 225.0 430.1 223.4 429.6 221.8 429.0 220.3 428.4 218.8 427.7 217.5 427.0 216.2 426.2 215.0 425.5 213.9 424.7 212.9 424.0 212.1 423.2 211.3 422.5 210.6 421.8 210.1 421.2 209.7 420.6 209.4 420.1 209.2 419.7 209.1 419.5 M213.0 419.5 213.8 416.8 214.6 415.1 215.4 413.7 216.3 412.4 217.1 411.2 217.9 410.1 218.7 409.1 219.5 408.2 220.4 407.3 221.2 406.5 222.0 405.7 222.8 405.0 223.6 404.4 224.5 403.8 225.3 403.3 226.1 402.8 226.9 402.4 227.8 402.0 228.6 401.7 229.4 401.4 230.2 401.2 231.0 401.1 231.9 401.0 232.7 401.0 233.9 401.0 235.2 401.1 236.4 401.3 237.7 401.6 238.9 402.0 240.1 402.4 241.2 402.9 242.3 403.5 243.4 404.1 244.4 404.8 245.4 405.6 246.3 406.4 247.2 407.3 248.0 408.2 248.7 409.2 249.4 410.3 250.0 411.3 250.5 412.4 250.9 413.6 251.3 414.7 251.6 415.9 251.8 417.1 251.9 418.3 252.0 419.5 251.9 420.9 251.8 421.9 251.7 422.7 251.5 423.5 251.2 424.2 250.8 424.8 250.4 425.4 250.0 426.0 249.5 426.5 248.9 427.0 248.3 427.5 247.6 427.9 246.9 428.3 246.1 428.7 245.3 429.0 244.5 429.3 243.6 429.6 242.7 429.8 241.8 430.0 240.9 430.1 239.9 430.3 239.0 430.3 238.0 430.4 237.0 430.4 235.5 430.4 233.9 430.3 232.3 430.1 230.8 429.9 229.3 429.6 227.8 429.2 226.4 428.8 225.0 428.3 223.7 427.8 222.4 427.2 221.2 426.6 220.0 426.0 218.9 425.4 217.9 424.7 217.0 424.0 216.2 423.4 215.5 422.7 214.8 422.1 214.3 421.5 213.8 421.0 213.4 420.5 213.2 420.0 213.0 419.7 213.0 419.5 M217.4 419.5 218.0 417.3 218.7 415.9 219.3 414.7 220.0 413.7 220.7 412.7 221.3 411.8 222.0 411.0 222.6 410.2 223.3 409.5 223.9 408.8 224.6 408.2 225.3 407.6 225.9 407.1 226.6 406.6 227.2 406.2 227.9 405.8 228.5 405.5 229.2 405.2 229.9 404.9 230.5 404.7 231.2 404.6 231.8 404.5 232.5 404.4 233.1 404.4 234.2 404.4 235.2 404.5 236.2 404.7 237.2 404.9 238.1 405.2 239.1 405.5 240.0 405.9 240.9 406.4 241.8 406.9 242.6 407.5 243.4 408.1 244.2 408.8 244.9 409.5 245.5 410.3 246.1 411.1 246.6 411.9 247.1 412.8 247.5 413.7 247.9 414.7 248.2 415.6 248.4 416.6 248.6 417.6 248.7 418.5 248.7 419.5 248.7 420.7 248.6 421.5 248.5 422.2 248.3 422.8 248.1 423.3 247.8 423.9 247.5 424.4 247.1 424.8 246.7 425.3 246.2 425.7 245.7 426.1 245.1 426.4 244.5 426.7 243.9 427.0 243.3 427.3 242.6 427.6 241.9 427.8 241.1 428.0 240.4 428.1 239.6 428.2 238.8 428.3 238.1 428.4 237.3 428.5 236.5 428.5 235.2 428.4 234.0 428.4 232.7 428.2 231.5 428.0 230.3 427.8 229.2 427.5 228.0 427.1 226.9 426.7 225.9 426.3 224.8 425.8 223.9 425.4 223.0 424.8 222.1 424.3 221.3 423.8 220.6 423.2 219.9 422.7 219.3 422.2 218.8 421.6 218.4 421.2 218.0 420.7 217.7 420.3 217.5 420.0 217.4 419.7 217.4 419.5 M222.3 419.5 222.8 417.9 223.3 416.8 223.7 416.0 224.2 415.2 224.7 414.5 225.1 413.8 225.6 413.2 226.1 412.6 226.6 412.1 227.0 411.6 227.5 411.1 228.0 410.7 228.4 410.3 228.9 410.0 229.4 409.7 229.9 409.4 230.3 409.1 230.8 408.9 231.3 408.7 231.7 408.6 232.2 408.4 232.7 408.4 233.2 408.3 233.6 408.3 234.4 408.3 235.1 408.4 235.8 408.5 236.6 408.7 237.3 408.9 238.0 409.1 238.6 409.5 239.3 409.8 239.9 410.2 240.5 410.6 241.1 411.1 241.6 411.6 242.1 412.1 242.6 412.7 243.0 413.3 243.4 413.9 243.8 414.6 244.1 415.2 244.3 415.9 244.6 416.6 244.7 417.3 244.9 418.1 244.9 418.8 244.9 419.5 244.9 420.4 244.9 421.0 244.8 421.5 244.6 422.0 244.5 422.4 244.3 422.8 244.0 423.1 243.7 423.5 243.4 423.8 243.1 424.1 242.7 424.4 242.3 424.7 241.9 424.9 241.4 425.1 240.9 425.3 240.4 425.5 239.9 425.7 239.4 425.8 238.8 425.9 238.2 426.0 237.7 426.1 237.1 426.2 236.5 426.2 235.9 426.2 235.0 426.2 234.1 426.1 233.2 426.0 232.4 425.9 231.5 425.7 230.7 425.5 229.9 425.2 229.1 424.9 228.4 424.6 227.6 424.2 226.9 423.9 226.3 423.5 225.7 423.1 225.1 422.7 224.6 422.3 224.1 421.9 223.7 421.5 223.4 421.1 223.0 420.7 222.8 420.4 222.6 420.1 222.4 419.8 222.3 419.6 222.3 419.5 M108.1 419.5 110.7 413.5 113.3 409.0 115.8 405.0 118.4 401.3 121.0 397.8 123.6 394.6 126.1 391.5 128.7 388.6 131.3 385.9 133.9 383.4 136.5 381.0 139.0 378.8 141.6 376.7 144.2 374.8 146.8 373.1 149.3 371.6 151.9 370.2 154.5 369.0 157.1 368.0 159.7 367.2 162.2 366.5 164.8 366.1 167.4 365.8 170.0 365.7 175.5 365.8 181.1 366.2 186.6 366.8 192.1 367.6 197.4 368.6 202.6 369.8 207.7 371.3 212.7 372.9 217.4 374.8 222.0 376.8 226.3 379.1 230.4 381.5 234.2 384.1 237.7 386.8 241.0 389.6 243.9 392.6 246.6 395.7 248.9 398.9 250.8 402.2 252.5 405.6 253.7 409.0 254.6 412.5 255.2 416.0 255.4 419.5 255.2 422.0 254.7 424.5 254.0 426.9 252.9 429.3 251.5 431.7 249.8 434.0 247.8 436.2 245.5 438.4 243.0 440.5 240.2 442.5 237.1 444.4 233.8 446.2 230.3 447.9 226.6 449.5 222.7 450.9 218.6 452.2 214.3 453.4 209.9 454.4 205.4 455.3 200.8 456.0 196.1 456.5 191.4 456.9 186.6 457.2 181.7 457.3 176.9 457.2 172.1 456.9 167.4 456.4 162.7 455.7 158.1 454.8 153.6 453.7 149.2 452.5 144.9 451.1 140.8 449.5 136.9 447.8 133.2 445.9 129.7 444.0 126.4 441.9 123.3 439.8 120.5 437.6 118.0 435.4 115.7 433.1 113.7 430.9 112.0 428.7 110.6 426.5 109.5 424.4 108.7 422.5 108.3 420.8 108.1 419.5 M107.8 419.5 110.2 414.0 112.6 409.9 115.0 406.3 117.4 402.9 119.8 399.7 122.2 396.8 124.6 394.0 127.0 391.3 129.4 388.9 131.8 386.5 134.2 384.4 136.6 382.3 139.0 380.5 141.4 378.7 143.9 377.2 146.3 375.8 148.7 374.5 151.1 373.5 153.5 372.5 155.9 371.8 158.3 371.2 160.7 370.8 163.1 370.5 165.5 370.5 170.7 370.6 175.9 370.9 181.1 371.4 186.1 372.1 191.1 373.1 196.0 374.2 200.8 375.5 205.4 377.0 209.8 378.7 214.1 380.6 218.1 382.6 221.9 384.8 225.5 387.2 228.8 389.7 231.8 392.3 234.6 395.0 237.0 397.8 239.2 400.8 241.0 403.8 242.5 406.8 243.7 410.0 244.6 413.1 245.1 416.3 245.3 419.5 245.1 421.9 244.7 424.2 243.9 426.6 242.9 428.9 241.6 431.1 240.0 433.3 238.2 435.5 236.0 437.6 233.7 439.6 231.0 441.5 228.2 443.3 225.1 445.0 221.8 446.7 218.4 448.2 214.7 449.5 210.9 450.8 206.9 451.9 202.8 452.9 198.6 453.7 194.3 454.4 189.9 454.9 185.5 455.3 181.0 455.5 176.5 455.6 172.0 455.5 167.5 455.2 163.1 454.7 158.7 454.1 154.4 453.2 150.2 452.2 146.1 451.0 142.1 449.7 138.3 448.2 134.7 446.5 131.2 444.8 127.9 442.9 124.8 441.0 122.0 438.9 119.3 436.8 117.0 434.7 114.9 432.5 113.0 430.4 111.4 428.3 110.1 426.2 109.1 424.2 108.4 422.4 107.9 420.7 107.8 419.5 M108.2 419.5 110.4 414.3 112.6 410.4 114.9 406.9 117.1 403.7 119.4 400.7 121.6 397.8 123.9 395.2 126.1 392.7 128.4 390.3 130.6 388.1 132.9 386.0 135.1 384.1 137.4 382.3 139.6 380.7 141.8 379.2 144.1 377.8 146.3 376.6 148.6 375.6 150.8 374.7 153.1 374.0 155.3 373.5 157.6 373.1 159.8 372.8 162.1 372.7 166.9 372.8 171.8 373.1 176.6 373.6 181.3 374.3 186.0 375.2 190.5 376.3 195.0 377.6 199.3 379.0 203.4 380.6 207.4 382.4 211.1 384.4 214.7 386.4 218.0 388.7 221.1 391.1 223.9 393.5 226.5 396.1 228.8 398.8 230.8 401.6 232.5 404.5 233.9 407.4 235.1 410.4 235.8 413.4 236.3 416.5 236.5 419.5 236.3 421.8 235.9 424.1 235.2 426.3 234.3 428.5 233.1 430.7 231.6 432.8 229.9 434.8 227.9 436.8 225.7 438.8 223.2 440.6 220.6 442.4 217.7 444.0 214.6 445.6 211.4 447.0 208.0 448.3 204.4 449.5 200.7 450.6 196.9 451.5 192.9 452.3 188.9 453.0 184.8 453.5 180.7 453.9 176.5 454.1 172.3 454.2 168.1 454.1 163.9 453.8 159.8 453.3 155.7 452.7 151.7 451.9 147.8 450.9 143.9 449.8 140.2 448.5 136.7 447.0 133.3 445.5 130.0 443.8 127.0 442.0 124.1 440.1 121.4 438.2 119.0 436.1 116.8 434.1 114.8 432.0 113.0 430.0 111.6 427.9 110.3 425.9 109.4 424.0 108.7 422.2 108.3 420.7 108.2 419.5 M108.8 419.5 110.9 414.5 113.0 410.7 115.1 407.4 117.1 404.3 119.2 401.5 121.3 398.7 123.4 396.2 125.5 393.8 127.6 391.5 129.7 389.4 131.8 387.4 133.9 385.6 135.9 383.9 138.0 382.3 140.1 380.9 142.2 379.6 144.3 378.4 146.4 377.5 148.5 376.6 150.6 375.9 152.7 375.4 154.7 375.0 156.8 374.8 158.9 374.7 163.4 374.8 168.0 375.1 172.4 375.6 176.8 376.2 181.2 377.1 185.4 378.1 189.5 379.3 193.5 380.7 197.4 382.3 201.1 384.0 204.6 385.8 207.9 387.8 211.0 390.0 213.9 392.2 216.5 394.6 218.9 397.1 221.0 399.7 222.9 402.4 224.5 405.1 225.8 407.9 226.8 410.8 227.6 413.7 228.0 416.6 228.2 419.5 228.0 421.7 227.6 423.9 227.0 426.0 226.1 428.1 225.0 430.2 223.6 432.2 222.0 434.2 220.2 436.1 218.1 438.0 215.8 439.8 213.3 441.4 210.7 443.0 207.8 444.5 204.8 445.9 201.6 447.2 198.3 448.3 194.9 449.3 191.3 450.2 187.7 451.0 183.9 451.6 180.1 452.1 176.3 452.5 172.4 452.7 168.5 452.8 164.6 452.7 160.7 452.4 156.8 452.0 153.0 451.3 149.3 450.6 145.6 449.6 142.1 448.5 138.6 447.3 135.3 445.9 132.1 444.4 129.1 442.8 126.3 441.1 123.6 439.3 121.1 437.4 118.8 435.5 116.8 433.5 114.9 431.5 113.3 429.5 112.0 427.6 110.8 425.7 109.9 423.8 109.3 422.1 108.9 420.6 108.8 419.5 M109.9 419.5 111.8 414.6 113.8 411.0 115.7 407.8 117.6 404.8 119.6 402.0 121.5 399.4 123.4 396.9 125.3 394.6 127.3 392.4 129.2 390.3 131.1 388.4 133.1 386.6 135.0 385.0 136.9 383.4 138.8 382.1 140.8 380.8 142.7 379.7 144.6 378.8 146.6 377.9 148.5 377.3 150.4 376.8 152.3 376.4 154.3 376.2 156.2 376.1 160.4 376.2 164.5 376.5 168.7 376.9 172.7 377.6 176.7 378.4 180.7 379.4 184.5 380.6 188.2 381.9 191.7 383.4 195.1 385.1 198.3 386.9 201.4 388.8 204.3 390.9 206.9 393.1 209.3 395.4 211.6 397.8 213.5 400.3 215.3 402.9 216.7 405.6 217.9 408.3 218.9 411.1 219.6 413.9 220.0 416.7 220.1 419.5 220.0 421.6 219.6 423.7 219.1 425.8 218.2 427.8 217.2 429.8 215.9 431.7 214.4 433.6 212.7 435.5 210.8 437.3 208.7 438.9 206.4 440.6 204.0 442.1 201.3 443.5 198.6 444.8 195.6 446.1 192.6 447.2 189.4 448.1 186.1 449.0 182.7 449.7 179.3 450.3 175.8 450.8 172.2 451.2 168.6 451.4 165.0 451.4 161.4 451.3 157.8 451.1 154.3 450.7 150.8 450.1 147.3 449.3 143.9 448.4 140.6 447.4 137.5 446.2 134.4 444.9 131.5 443.4 128.7 441.9 126.0 440.2 123.6 438.5 121.3 436.7 119.2 434.8 117.3 432.9 115.6 431.0 114.1 429.1 112.8 427.3 111.8 425.4 111.0 423.7 110.4 422.0 110.0 420.6 109.9 419.5 M109.9 419.5 111.7 415.0 113.5 411.6 115.3 408.6 117.1 405.8 118.9 403.2 120.7 400.8 122.5 398.5 124.3 396.3 126.0 394.2 127.8 392.3 129.6 390.5 131.4 388.9 133.2 387.3 135.0 385.9 136.8 384.6 138.6 383.5 140.4 382.4 142.2 381.5 144.0 380.8 145.7 380.2 147.5 379.7 149.3 379.3 151.1 379.1 152.9 379.1 156.8 379.2 160.7 379.4 164.5 379.8 168.3 380.4 172.0 381.2 175.6 382.1 179.2 383.2 182.6 384.5 185.9 385.9 189.0 387.4 192.1 389.1 194.9 390.9 197.5 392.9 200.0 394.9 202.3 397.0 204.3 399.3 206.2 401.6 207.8 404.0 209.1 406.5 210.3 409.1 211.1 411.6 211.8 414.3 212.1 416.9 212.3 419.5 212.2 421.5 211.8 423.5 211.3 425.5 210.5 427.4 209.6 429.3 208.4 431.2 207.0 433.0 205.4 434.7 203.6 436.4 201.7 438.1 199.6 439.6 197.3 441.0 194.8 442.4 192.3 443.7 189.5 444.8 186.7 445.9 183.7 446.8 180.7 447.6 177.5 448.3 174.3 448.9 171.1 449.4 167.8 449.7 164.4 449.9 161.1 450.0 157.8 449.9 154.4 449.6 151.1 449.2 147.9 448.7 144.6 447.9 141.5 447.1 138.5 446.1 135.5 444.9 132.7 443.7 129.9 442.3 127.4 440.8 124.9 439.3 122.6 437.6 120.5 435.9 118.5 434.1 116.8 432.3 115.2 430.5 113.8 428.7 112.6 426.9 111.7 425.1 110.9 423.5 110.4 421.9 110.0 420.5 109.9 419.5 M110.1 419.5 111.8 415.3 113.5 412.1 115.1 409.3 116.8 406.7 118.4 404.3 120.1 402.0 121.7 399.8 123.4 397.8 125.0 395.9 126.7 394.1 128.3 392.4 130.0 390.8 131.6 389.4 133.3 388.1 134.9 386.9 136.6 385.8 138.2 384.8 139.9 384.0 141.5 383.3 143.2 382.7 144.9 382.3 146.5 381.9 148.2 381.7 149.8 381.7 153.4 381.8 157.0 382.0 160.5 382.4 164.0 383.0 167.4 383.7 170.8 384.6 174.0 385.6 177.2 386.8 180.2 388.1 183.2 389.5 185.9 391.1 188.5 392.8 191.0 394.6 193.3 396.5 195.4 398.5 197.2 400.6 198.9 402.8 200.4 405.0 201.7 407.4 202.7 409.7 203.5 412.1 204.1 414.6 204.5 417.1 204.6 419.5 204.5 421.4 204.2 423.3 203.7 425.2 203.0 427.0 202.1 428.8 201.0 430.6 199.7 432.3 198.3 434.0 196.6 435.6 194.8 437.2 192.9 438.6 190.8 440.0 188.5 441.3 186.1 442.5 183.6 443.6 181.0 444.6 178.3 445.5 175.4 446.3 172.5 447.0 169.6 447.5 166.6 447.9 163.5 448.3 160.5 448.4 157.4 448.5 154.3 448.4 151.2 448.2 148.2 447.8 145.1 447.3 142.2 446.6 139.3 445.8 136.5 444.8 133.8 443.7 131.1 442.5 128.6 441.2 126.2 439.8 124.0 438.3 121.9 436.7 119.9 435.1 118.1 433.4 116.5 431.7 115.0 430.0 113.7 428.3 112.7 426.5 111.8 424.9 111.1 423.3 110.6 421.8 110.2 420.5 110.1 419.5 M111.0 419.5 112.5 415.5 114.0 412.5 115.5 409.8 117.0 407.3 118.5 405.0 120.0 402.9 121.5 400.8 123.0 398.9 124.5 397.1 126.0 395.4 127.5 393.8 129.0 392.3 130.5 390.9 132.1 389.6 133.6 388.5 135.1 387.5 136.6 386.6 138.1 385.8 139.6 385.1 141.1 384.5 142.6 384.1 144.1 383.8 145.6 383.6 147.1 383.6 150.4 383.6 153.6 383.9 156.8 384.3 160.0 384.8 163.2 385.5 166.2 386.3 169.2 387.3 172.1 388.4 174.8 389.6 177.5 391.0 180.0 392.5 182.4 394.1 184.6 395.8 186.7 397.6 188.6 399.6 190.3 401.5 191.9 403.6 193.2 405.8 194.4 408.0 195.3 410.2 196.1 412.5 196.6 414.8 196.9 417.2 197.0 419.5 196.9 421.3 196.7 423.1 196.2 424.9 195.6 426.7 194.7 428.4 193.8 430.1 192.6 431.7 191.3 433.3 189.8 434.9 188.1 436.3 186.3 437.7 184.4 439.0 182.4 440.3 180.2 441.4 177.9 442.5 175.5 443.4 173.0 444.3 170.5 445.0 167.8 445.7 165.1 446.2 162.4 446.6 159.6 446.9 156.8 447.1 154.0 447.1 151.2 447.0 148.4 446.8 145.6 446.5 142.9 446.0 140.2 445.3 137.5 444.5 135.0 443.6 132.5 442.6 130.1 441.4 127.8 440.2 125.6 438.8 123.6 437.4 121.6 435.9 119.9 434.4 118.2 432.8 116.7 431.1 115.4 429.5 114.2 427.8 113.2 426.2 112.4 424.6 111.8 423.1 111.3 421.7 111.1 420.4 111.0 419.5 M111.2 419.5 112.5 415.8 113.9 413.0 115.3 410.5 116.7 408.2 118.0 406.1 119.4 404.0 120.8 402.1 122.1 400.3 123.5 398.7 124.9 397.1 126.3 395.6 127.6 394.2 129.0 392.9 130.4 391.8 131.7 390.7 133.1 389.8 134.5 388.9 135.9 388.2 137.2 387.6 138.6 387.0 140.0 386.6 141.4 386.4 142.7 386.2 144.1 386.1 147.1 386.2 150.0 386.4 153.0 386.8 155.9 387.3 158.7 387.9 161.5 388.7 164.2 389.6 166.8 390.6 169.4 391.8 171.8 393.0 174.1 394.4 176.3 395.9 178.3 397.5 180.2 399.2 181.9 401.0 183.5 402.8 184.9 404.8 186.1 406.8 187.2 408.8 188.0 410.9 188.7 413.0 189.2 415.2 189.5 417.3 189.6 419.5 189.5 421.2 189.2 422.9 188.8 424.6 188.2 426.3 187.5 427.9 186.6 429.5 185.5 431.1 184.3 432.6 183.0 434.0 181.5 435.4 179.8 436.7 178.1 438.0 176.2 439.2 174.2 440.2 172.2 441.2 170.0 442.1 167.7 442.9 165.4 443.7 163.0 444.3 160.5 444.8 158.0 445.1 155.5 445.4 152.9 445.6 150.4 445.6 147.8 445.6 145.3 445.4 142.7 445.0 140.2 444.5 137.8 443.9 135.4 443.2 133.0 442.3 130.8 441.3 128.6 440.3 126.5 439.1 124.5 437.8 122.6 436.5 120.9 435.0 119.3 433.6 117.8 432.1 116.4 430.5 115.2 428.9 114.1 427.4 113.2 425.9 112.5 424.4 111.9 422.9 111.5 421.6 111.2 420.4 111.2 419.5 M111.3 419.5 112.6 416.1 113.8 413.5 115.0 411.2 116.3 409.1 117.5 407.1 118.8 405.2 120.0 403.5 121.3 401.8 122.5 400.3 123.7 398.8 125.0 397.4 126.2 396.1 127.5 395.0 128.7 393.9 129.9 392.9 131.2 392.0 132.4 391.3 133.7 390.6 134.9 390.0 136.1 389.5 137.4 389.2 138.6 388.9 139.9 388.7 141.1 388.7 143.8 388.7 146.5 388.9 149.1 389.3 151.7 389.7 154.3 390.3 156.8 391.0 159.3 391.9 161.7 392.8 163.9 393.9 166.1 395.1 168.2 396.3 170.2 397.7 172.0 399.2 173.7 400.8 175.3 402.4 176.7 404.1 178.0 405.9 179.1 407.7 180.0 409.6 180.8 411.5 181.4 413.5 181.9 415.5 182.1 417.5 182.2 419.5 182.1 421.1 181.9 422.7 181.5 424.3 181.0 425.9 180.3 427.4 179.5 428.9 178.6 430.4 177.5 431.8 176.2 433.2 174.9 434.5 173.4 435.8 171.8 436.9 170.1 438.0 168.4 439.1 166.5 440.0 164.5 440.8 162.5 441.6 160.3 442.3 158.2 442.8 155.9 443.3 153.7 443.7 151.4 443.9 149.1 444.1 146.8 444.1 144.5 444.1 142.1 443.9 139.9 443.5 137.6 443.1 135.4 442.5 133.2 441.8 131.1 441.0 129.0 440.1 127.1 439.1 125.2 438.0 123.4 436.8 121.7 435.5 120.1 434.2 118.7 432.8 117.3 431.3 116.1 429.9 115.0 428.4 114.0 426.9 113.2 425.5 112.5 424.1 112.0 422.7 111.6 421.5 111.4 420.3 111.3 419.5 M112.5 419.5 113.6 416.2 114.7 413.8 115.8 411.6 116.9 409.6 117.9 407.7 119.0 406.0 120.1 404.3 121.2 402.7 122.3 401.2 123.4 399.8 124.5 398.5 125.6 397.3 126.7 396.2 127.8 395.2 128.9 394.3 130.0 393.4 131.1 392.7 132.2 392.0 133.3 391.5 134.3 391.0 135.4 390.7 136.5 390.4 137.6 390.3 138.7 390.2 141.1 390.3 143.4 390.5 145.8 390.8 148.1 391.2 150.4 391.8 152.6 392.5 154.7 393.3 156.8 394.2 158.8 395.2 160.8 396.3 162.6 397.5 164.3 398.8 166.0 400.2 167.5 401.7 168.8 403.3 170.1 404.9 171.2 406.6 172.2 408.3 173.0 410.1 173.7 412.0 174.2 413.8 174.6 415.7 174.9 417.6 174.9 419.5 174.9 421.1 174.7 422.6 174.3 424.1 173.9 425.5 173.3 427.0 172.6 428.4 171.7 429.8 170.8 431.2 169.7 432.4 168.5 433.7 167.2 434.9 165.8 436.0 164.3 437.0 162.7 438.0 161.1 438.9 159.3 439.7 157.5 440.4 155.7 441.0 153.8 441.5 151.8 442.0 149.8 442.3 147.8 442.6 145.8 442.7 143.7 442.8 141.7 442.7 139.6 442.5 137.6 442.2 135.6 441.8 133.7 441.2 131.8 440.6 129.9 439.8 128.1 439.0 126.4 438.0 124.7 436.9 123.1 435.8 121.6 434.6 120.2 433.3 118.9 432.0 117.7 430.7 116.7 429.3 115.7 427.9 114.9 426.5 114.1 425.2 113.5 423.8 113.1 422.5 112.8 421.4 112.6 420.3 112.5 419.5 M112.7 419.5 113.7 416.5 114.7 414.3 115.6 412.3 116.6 410.4 117.5 408.7 118.5 407.1 119.5 405.5 120.4 404.1 121.4 402.7 122.4 401.5 123.3 400.3 124.3 399.2 125.3 398.1 126.2 397.2 127.2 396.4 128.1 395.6 129.1 394.9 130.1 394.3 131.0 393.8 132.0 393.4 133.0 393.1 133.9 392.8 134.9 392.7 135.8 392.7 137.9 392.7 140.0 392.9 142.1 393.2 144.1 393.6 146.1 394.1 148.0 394.7 149.9 395.4 151.8 396.3 153.6 397.2 155.3 398.2 156.9 399.3 158.4 400.5 159.8 401.8 161.1 403.2 162.4 404.6 163.5 406.1 164.4 407.6 165.3 409.3 166.0 410.9 166.7 412.6 167.1 414.3 167.5 416.0 167.7 417.8 167.7 419.5 167.7 421.0 167.5 422.4 167.2 423.8 166.8 425.2 166.3 426.5 165.6 427.8 164.9 429.1 164.1 430.4 163.1 431.6 162.1 432.8 160.9 433.8 159.7 434.9 158.4 435.9 157.0 436.8 155.5 437.6 154.0 438.3 152.4 439.0 150.8 439.6 149.1 440.1 147.4 440.5 145.6 440.8 143.8 441.1 142.0 441.2 140.2 441.2 138.4 441.2 136.6 441.0 134.9 440.7 133.1 440.3 131.4 439.8 129.7 439.2 128.1 438.5 126.5 437.7 125.0 436.8 123.5 435.8 122.1 434.7 120.8 433.6 119.6 432.4 118.4 431.2 117.4 429.9 116.4 428.7 115.6 427.4 114.8 426.1 114.2 424.8 113.7 423.5 113.3 422.3 113.0 421.2 112.8 420.3 112.7 419.5 M112.4 419.5 113.3 416.8 114.1 414.8 115.0 413.0 115.8 411.4 116.7 409.8 117.5 408.4 118.3 407.0 119.2 405.7 120.0 404.5 120.9 403.4 121.7 402.3 122.6 401.3 123.4 400.4 124.2 399.6 125.1 398.8 125.9 398.1 126.8 397.5 127.6 397.0 128.5 396.5 129.3 396.2 130.1 395.9 131.0 395.7 131.8 395.5 132.7 395.5 134.5 395.6 136.3 395.7 138.1 396.0 139.9 396.3 141.6 396.8 143.4 397.3 145.0 398.0 146.6 398.7 148.2 399.6 149.7 400.5 151.1 401.5 152.4 402.5 153.7 403.7 154.8 404.9 155.9 406.2 156.9 407.5 157.7 408.9 158.5 410.3 159.1 411.8 159.6 413.3 160.1 414.8 160.4 416.4 160.5 418.0 160.6 419.5 160.5 420.8 160.4 422.1 160.1 423.4 159.8 424.7 159.3 426.0 158.8 427.2 158.1 428.4 157.4 429.6 156.5 430.7 155.6 431.7 154.6 432.8 153.5 433.7 152.4 434.6 151.2 435.4 149.9 436.2 148.6 436.9 147.2 437.5 145.7 438.1 144.3 438.5 142.8 438.9 141.2 439.2 139.7 439.4 138.1 439.5 136.5 439.6 134.9 439.5 133.4 439.4 131.8 439.1 130.3 438.7 128.8 438.3 127.3 437.7 125.9 437.0 124.5 436.3 123.1 435.4 121.9 434.5 120.6 433.6 119.5 432.5 118.4 431.4 117.4 430.3 116.5 429.1 115.7 428.0 114.9 426.8 114.3 425.6 113.7 424.4 113.3 423.2 112.9 422.1 112.6 421.1 112.5 420.2 112.4 419.5 M113.3 419.5 114.0 417.0 114.8 415.2 115.5 413.5 116.2 412.0 116.9 410.6 117.6 409.2 118.3 408.0 119.0 406.8 119.7 405.7 120.4 404.6 121.1 403.6 121.8 402.7 122.5 401.9 123.2 401.1 123.9 400.4 124.6 399.7 125.3 399.2 126.0 398.7 126.7 398.3 127.4 397.9 128.1 397.7 128.8 397.5 129.5 397.4 130.2 397.3 131.7 397.4 133.3 397.5 134.8 397.7 136.3 398.1 137.7 398.5 139.1 399.0 140.5 399.6 141.9 400.3 143.2 401.1 144.4 401.9 145.6 402.8 146.7 403.8 147.7 404.9 148.7 406.0 149.6 407.2 150.4 408.4 151.1 409.7 151.7 411.0 152.3 412.4 152.7 413.8 153.1 415.2 153.3 416.6 153.5 418.1 153.5 419.5 153.5 420.7 153.3 422.0 153.1 423.2 152.8 424.3 152.5 425.5 152.0 426.6 151.4 427.7 150.8 428.8 150.1 429.9 149.4 430.8 148.5 431.8 147.6 432.7 146.7 433.5 145.7 434.3 144.6 435.0 143.5 435.6 142.3 436.2 141.1 436.7 139.9 437.1 138.6 437.5 137.4 437.7 136.1 437.9 134.7 438.1 133.4 438.1 132.1 438.1 130.8 437.9 129.5 437.7 128.2 437.3 127.0 436.9 125.7 436.4 124.5 435.7 123.4 435.0 122.3 434.3 121.2 433.4 120.2 432.5 119.2 431.6 118.3 430.6 117.5 429.5 116.7 428.4 116.0 427.3 115.4 426.2 114.9 425.1 114.4 424.0 114.0 423.0 113.7 421.9 113.5 421.0 113.4 420.1 113.3 419.5 M113.7 419.5 114.2 417.3 114.8 415.6 115.4 414.1 116.0 412.8 116.5 411.5 117.1 410.3 117.7 409.2 118.3 408.1 118.8 407.1 119.4 406.1 120.0 405.3 120.6 404.4 121.1 403.7 121.7 403.0 122.3 402.3 122.9 401.8 123.4 401.3 124.0 400.8 124.6 400.5 125.2 400.2 125.7 399.9 126.3 399.7 126.9 399.6 127.5 399.6 128.7 399.7 129.9 399.8 131.2 400.0 132.4 400.3 133.6 400.7 134.7 401.1 135.9 401.7 137.0 402.3 138.0 403.0 139.0 403.7 140.0 404.6 140.9 405.4 141.8 406.4 142.6 407.4 143.3 408.5 143.9 409.6 144.5 410.7 145.0 411.9 145.5 413.1 145.8 414.4 146.1 415.6 146.3 416.9 146.5 418.2 146.5 419.5 146.5 420.6 146.4 421.7 146.2 422.8 145.9 423.9 145.6 425.0 145.2 426.0 144.8 427.0 144.3 428.0 143.7 428.9 143.1 429.8 142.4 430.7 141.7 431.5 140.9 432.3 140.1 433.0 139.2 433.6 138.3 434.2 137.3 434.7 136.4 435.2 135.4 435.6 134.3 435.9 133.3 436.2 132.2 436.3 131.2 436.4 130.1 436.5 129.0 436.4 127.9 436.3 126.9 436.1 125.8 435.8 124.8 435.4 123.8 434.9 122.8 434.3 121.9 433.7 121.0 433.0 120.1 432.2 119.3 431.4 118.5 430.5 117.7 429.6 117.1 428.6 116.4 427.7 115.9 426.7 115.4 425.6 114.9 424.6 114.5 423.6 114.2 422.7 114.0 421.7 113.8 420.9 113.7 420.1 113.7 419.5 M114.6 419.5 115.0 417.5 115.5 416.0 115.9 414.7 116.4 413.4 116.8 412.3 117.2 411.2 117.7 410.1 118.1 409.2 118.5 408.3 119.0 407.4 119.4 406.6 119.8 405.9 120.3 405.2 120.7 404.5 121.1 404.0 121.6 403.4 122.0 403.0 122.5 402.6 122.9 402.3 123.3 402.0 123.8 401.8 124.2 401.6 124.6 401.5 125.1 401.5 126.0 401.5 127.0 401.6 127.9 401.8 128.8 402.1 129.7 402.4 130.6 402.9 131.5 403.3 132.3 403.9 133.1 404.5 133.9 405.2 134.6 406.0 135.3 406.8 135.9 407.6 136.5 408.5 137.1 409.5 137.6 410.5 138.0 411.6 138.4 412.6 138.8 413.7 139.0 414.9 139.2 416.0 139.4 417.2 139.5 418.4 139.5 419.5 139.5 420.5 139.4 421.5 139.3 422.5 139.1 423.5 138.9 424.5 138.6 425.4 138.2 426.3 137.9 427.2 137.4 428.1 136.9 428.9 136.4 429.7 135.9 430.4 135.3 431.1 134.6 431.7 134.0 432.3 133.3 432.9 132.6 433.3 131.8 433.8 131.1 434.1 130.3 434.4 129.5 434.6 128.7 434.8 127.9 434.9 127.1 434.9 126.2 434.9 125.4 434.8 124.6 434.6 123.8 434.3 123.1 433.9 122.3 433.5 121.6 433.0 120.8 432.4 120.1 431.8 119.5 431.1 118.8 430.3 118.3 429.5 117.7 428.7 117.2 427.8 116.7 426.9 116.3 426.0 115.9 425.1 115.6 424.2 115.3 423.3 115.0 422.4 114.8 421.5 114.7 420.7 114.6 420.0 114.6 419.5 M114.8 419.5 115.1 417.8 115.4 416.5 115.7 415.3 116.0 414.2 116.3 413.2 116.7 412.3 117.0 411.4 117.3 410.6 117.6 409.8 117.9 409.0 118.2 408.3 118.5 407.7 118.8 407.1 119.1 406.6 119.5 406.1 119.8 405.6 120.1 405.2 120.4 404.9 120.7 404.6 121.0 404.3 121.3 404.2 121.6 404.0 122.0 403.9 122.3 403.9 122.9 403.9 123.6 404.1 124.3 404.2 124.9 404.4 125.6 404.7 126.2 405.1 126.8 405.5 127.4 406.0 128.0 406.5 128.6 407.1 129.1 407.8 129.6 408.5 130.0 409.2 130.5 410.0 130.9 410.9 131.2 411.7 131.5 412.6 131.8 413.6 132.0 414.5 132.2 415.5 132.4 416.5 132.5 417.5 132.6 418.5 132.6 419.5 132.6 420.4 132.5 421.3 132.4 422.2 132.3 423.1 132.1 423.9 131.9 424.7 131.7 425.6 131.4 426.3 131.1 427.1 130.8 427.8 130.4 428.5 130.0 429.2 129.6 429.8 129.1 430.3 128.6 430.9 128.1 431.3 127.6 431.7 127.1 432.1 126.5 432.4 126.0 432.7 125.4 432.9 124.8 433.0 124.3 433.1 123.7 433.1 123.1 433.1 122.5 433.0 121.9 432.8 121.4 432.6 120.8 432.2 120.3 431.9 119.7 431.4 119.2 430.9 118.7 430.3 118.3 429.7 117.8 429.1 117.4 428.4 117.0 427.6 116.6 426.9 116.3 426.1 116.0 425.3 115.7 424.4 115.5 423.6 115.3 422.8 115.1 422.0 115.0 421.3 114.9 420.6 114.8 420.0 114.8 419.5 M120.6 419.5 120.6 418.3 120.7 417.1 121.0 416.0 121.3 414.9 121.7 414.0 122.1 413.2 122.6 412.5 123.2 412.1 123.8 411.8 124.4 411.7 125.0 411.8 125.6 412.1 126.1 412.5 126.6 413.2 127.1 414.0 127.5 414.9 127.8 416.0 128.0 417.1 128.1 418.3 128.2 419.5 128.1 420.7 128.0 421.8 127.8 422.8 127.5 423.8 127.1 424.7 126.6 425.4 126.1 426.0 125.6 426.5 125.0 426.7 124.4 426.8 123.8 426.7 123.2 426.5 122.6 426.0 122.1 425.4 121.7 424.7 121.3 423.8 121.0 422.8 120.7 421.8 120.6 420.7 120.6 419.5 M125.2 419.5 125.3 418.3 125.4 417.1 125.6 416.0 125.9 414.9 126.2 414.0 126.6 413.2 127.1 412.5 127.6 412.1 128.1 411.8 128.6 411.7 129.1 411.8 129.7 412.1 130.1 412.5 130.6 413.2 131.0 414.0 131.3 414.9 131.6 416.0 131.8 417.1 131.9 418.3 132.0 419.5 131.9 420.7 131.8 421.8 131.6 422.8 131.3 423.8 131.0 424.7 130.6 425.4 130.1 426.0 129.7 426.5 129.1 426.7 128.6 426.8 128.1 426.7 127.6 426.5 127.1 426.0 126.6 425.4 126.2 424.7 125.9 423.8 125.6 422.8 125.4 421.8 125.3 420.7 125.2 419.5 M131.7 419.5 131.7 418.3 131.8 417.1 132.0 416.0 132.3 414.9 132.6 414.0 133.0 413.2 133.4 412.5 133.9 412.1 134.4 411.8 134.9 411.7 135.4 411.8 135.9 412.1 136.4 412.5 136.8 413.2 137.2 414.0 137.5 414.9 137.8 416.0 138.0 417.1 138.1 418.3 138.2 419.5 138.1 420.7 138.0 421.8 137.8 422.8 137.5 423.8 137.2 424.7 136.8 425.4 136.4 426.0 135.9 426.5 135.4 426.7 134.9 426.8 134.4 426.7 133.9 426.5 133.4 426.0 133.0 425.4 132.6 424.7 132.3 423.8 132.0 422.8 131.8 421.8 131.7 420.7 131.7 419.5 M135.6 419.5 135.7 418.3 135.8 417.1 136.0 416.0 136.3 414.9 136.6 414.0 137.0 413.2 137.4 412.5 137.9 412.1 138.4 411.8 138.9 411.7 139.4 411.8 139.9 412.1 140.4 412.5 140.8 413.2 141.2 414.0 141.5 414.9 141.8 416.0 142.0 417.1 142.1 418.3 142.2 419.5 142.1 420.7 142.0 421.8 141.8 422.8 141.5 423.8 141.2 424.7 140.8 425.4 140.4 426.0 139.9 426.5 139.4 426.7 138.9 426.8 138.4 426.7 137.9 426.5 137.4 426.0 137.0 425.4 136.6 424.7 136.3 423.8 136.0 422.8 135.8 421.8 135.7 420.7 135.6 419.5 M139.9 419.5 140.0 418.3 140.1 417.1 140.4 416.0 140.7 414.9 141.1 414.0 141.6 413.2 142.2 412.5 142.8 412.1 143.4 411.8 144.0 411.7 144.7 411.8 145.3 412.1 145.9 412.5 146.5 413.2 147.0 414.0 147.4 414.9 147.7 416.0 148.0 417.1 148.1 418.3 148.2 419.5 148.1 420.7 148.0 421.8 147.7 422.8 147.4 423.8 147.0 424.7 146.5 425.4 145.9 426.0 145.3 426.5 144.7 426.7 144.0 426.8 143.4 426.7 142.8 426.5 142.2 426.0 141.6 425.4 141.1 424.7 140.7 423.8 140.4 422.8 140.1 421.8 140.0 420.7 139.9 419.5 M144.1 419.5 144.1 418.3 144.3 417.1 144.6 416.0 144.9 414.9 145.4 414.0 145.9 413.2 146.5 412.5 147.1 412.1 147.8 411.8 148.5 411.7 149.1 411.8 149.8 412.1 150.4 412.5 151.0 413.2 151.6 414.0 152.0 414.9 152.4 416.0 152.6 417.1 152.8 418.3 152.8 419.5 152.8 420.7 152.6 421.8 152.4 422.8 152.0 423.8 151.6 424.7 151.0 425.4 150.4 426.0 149.8 426.5 149.1 426.7 148.5 426.8 147.8 426.7 147.1 426.5 146.5 426.0 145.9 425.4 145.4 424.7 144.9 423.8 144.6 422.8 144.3 421.8 144.1 420.7 144.1 419.5 M148.1 419.5 148.2 418.3 148.4 417.1 148.6 416.0 149.0 414.9 149.4 414.0 149.9 413.2 150.5 412.5 151.1 412.1 151.8 411.8 152.5 411.7 153.1 411.8 153.8 412.1 154.4 412.5 155.0 413.2 155.5 414.0 156.0 414.9 156.3 416.0 156.6 417.1 156.7 418.3 156.8 419.5 156.7 420.7 156.6 421.8 156.3 422.8 156.0 423.8 155.5 424.7 155.0 425.4 154.4 426.0 153.8 426.5 153.1 426.7 152.5 426.8 151.8 426.7 151.1 426.5 150.5 426.0 149.9 425.4 149.4 424.7 149.0 423.8 148.6 422.8 148.4 421.8 148.2 420.7 148.1 419.5 M153.5 419.5 153.6 418.3 153.7 417.1 154.0 416.0 154.3 414.9 154.8 414.0 155.3 413.2 155.9 412.5 156.5 412.1 157.2 411.8 157.9 411.7 158.5 411.8 159.2 412.1 159.8 412.5 160.4 413.2 160.9 414.0 161.4 414.9 161.7 416.0 162.0 417.1 162.1 418.3 162.2 419.5 162.1 420.7 162.0 421.8 161.7 422.8 161.4 423.8 160.9 424.7 160.4 425.4 159.8 426.0 159.2 426.5 158.5 426.7 157.9 426.8 157.2 426.7 156.5 426.5 155.9 426.0 155.3 425.4 154.8 424.7 154.3 423.8 154.0 422.8 153.7 421.8 153.6 420.7 153.5 419.5 M157.4 419.5 157.5 418.3 157.7 417.1 158.0 416.0 158.3 414.9 158.8 414.0 159.4 413.2 160.0 412.5 160.7 412.0 161.4 411.8 162.2 411.7 162.9 411.8 163.6 412.0 164.3 412.5 165.0 413.2 165.5 414.0 166.0 414.9 166.4 416.0 166.7 417.1 166.9 418.3 166.9 419.5 166.9 420.7 166.7 421.8 166.4 422.8 166.0 423.8 165.5 424.7 165.0 425.4 164.3 426.0 163.6 426.5 162.9 426.7 162.2 426.8 161.4 426.7 160.7 426.5 160.0 426.0 159.4 425.4 158.8 424.7 158.3 423.8 158.0 422.8 157.7 421.8 157.5 420.7 157.4 419.5 M163.6 419.5 163.7 418.3 163.8 417.1 164.1 415.9 164.5 414.9 164.9 413.9 165.5 413.1 166.1 412.5 166.7 412.0 167.4 411.7 168.1 411.6 168.8 411.7 169.5 412.0 170.1 412.5 170.7 413.1 171.3 413.9 171.7 414.9 172.1 415.9 172.4 417.1 172.5 418.3 172.6 419.5 172.5 420.7 172.4 421.8 172.1 422.8 171.7 423.8 171.3 424.7 170.7 425.4 170.1 426.0 169.5 426.5 168.8 426.7 168.1 426.8 167.4 426.7 166.7 426.5 166.1 426.0 165.5 425.4 164.9 424.7 164.5 423.8 164.1 422.8 163.8 421.8 163.7 420.7 163.6 419.5 M167.8 419.5 167.9 418.3 168.0 417.1 168.3 415.9 168.6 414.9 169.1 413.9 169.6 413.1 170.1 412.4 170.7 412.0 171.4 411.7 172.0 411.6 172.7 411.7 173.4 412.0 174.0 412.4 174.5 413.1 175.0 413.9 175.5 414.9 175.8 415.9 176.1 417.1 176.2 418.3 176.3 419.5 176.2 420.7 176.1 421.8 175.8 422.8 175.5 423.8 175.0 424.7 174.5 425.4 174.0 426.0 173.4 426.5 172.7 426.7 172.0 426.8 171.4 426.7 170.7 426.5 170.1 426.0 169.6 425.4 169.1 424.7 168.6 423.8 168.3 422.8 168.0 421.8 167.9 420.7 167.8 419.5 M171.9 419.5 171.9 418.3 172.1 417.0 172.4 415.8 172.8 414.8 173.3 413.8 173.9 413.0 174.6 412.3 175.3 411.8 176.0 411.5 176.8 411.4 177.6 411.5 178.3 411.8 179.1 412.3 179.7 413.0 180.3 413.8 180.8 414.8 181.2 415.8 181.5 417.0 181.7 418.3 181.8 419.5 181.7 420.7 181.5 421.8 181.2 422.8 180.8 423.8 180.3 424.7 179.7 425.4 179.1 426.0 178.3 426.5 177.6 426.7 176.8 426.8 176.0 426.7 175.3 426.5 174.6 426.0 173.9 425.4 173.3 424.7 172.8 423.8 172.4 422.8 172.1 421.8 171.9 420.7 171.9 419.5 M177.0 419.5 177.0 418.2 177.2 416.9 177.5 415.6 178.0 414.5 178.5 413.5 179.1 412.6 179.8 411.9 180.6 411.4 181.4 411.0 182.2 410.9 183.1 411.0 183.9 411.4 184.6 411.9 185.3 412.6 185.9 413.5 186.5 414.5 186.9 415.6 187.2 416.9 187.4 418.2 187.5 419.5 187.4 420.7 187.2 421.8 186.9 422.8 186.5 423.8 185.9 424.7 185.3 425.4 184.6 426.0 183.9 426.5 183.1 426.7 182.2 426.8 181.4 426.7 180.6 426.5 179.8 426.0 179.1 425.4 178.5 424.7 178.0 423.8 177.5 422.8 177.2 421.8 177.0 420.7 177.0 419.5 M180.1 419.5 180.2 418.1 180.4 416.7 180.7 415.4 181.1 414.2 181.6 413.1 182.2 412.2 182.8 411.5 183.6 410.9 184.3 410.6 185.1 410.5 185.9 410.6 186.6 410.9 187.3 411.5 188.0 412.2 188.6 413.1 189.1 414.2 189.5 415.4 189.8 416.7 190.0 418.1 190.0 419.5 190.0 420.7 189.8 421.8 189.5 422.8 189.1 423.8 188.6 424.7 188.0 425.4 187.3 426.0 186.6 426.5 185.9 426.7 185.1 426.8 184.3 426.7 183.6 426.5 182.8 426.0 182.2 425.4 181.6 424.7 181.1 423.8 180.7 422.8 180.4 421.8 180.2 420.7 180.1 419.5 M186.0 419.5 186.1 417.9 186.3 416.3 186.6 414.8 186.9 413.5 187.4 412.2 188.0 411.2 188.6 410.3 189.3 409.7 190.0 409.3 190.7 409.2 191.5 409.3 192.2 409.7 192.9 410.3 193.5 411.2 194.1 412.2 194.6 413.5 194.9 414.8 195.2 416.3 195.4 417.9 195.5 419.5 195.4 420.7 195.2 421.8 194.9 422.8 194.6 423.8 194.1 424.7 193.5 425.4 192.9 426.0 192.2 426.5 191.5 426.7 190.7 426.8 190.0 426.7 189.3 426.5 188.6 426.0 188.0 425.4 187.4 424.7 186.9 423.8 186.6 422.8 186.3 421.8 186.1 420.7 186.0 419.5 M189.9 419.5 190.0 417.7 190.1 415.9 190.4 414.2 190.9 412.7 191.4 411.3 192.0 410.1 192.6 409.1 193.3 408.4 194.1 408.0 194.9 407.9 195.7 408.0 196.4 408.4 197.2 409.1 197.8 410.1 198.4 411.3 198.9 412.7 199.3 414.2 199.6 415.9 199.8 417.7 199.9 419.5 199.8 420.7 199.6 421.8 199.3 422.8 198.9 423.8 198.4 424.7 197.8 425.4 197.2 426.0 196.4 426.5 195.7 426.7 194.9 426.8 194.1 426.7 193.3 426.5 192.6 426.0 192.0 425.4 191.4 424.7 190.9 423.8 190.4 422.8 190.1 421.8 190.0 420.7 189.9 419.5 M193.7 419.5 193.7 417.5 193.9 415.5 194.2 413.6 194.6 411.9 195.1 410.3 195.7 409.0 196.4 408.0 197.1 407.2 197.9 406.7 198.7 406.5 199.5 406.7 200.2 407.2 201.0 408.0 201.6 409.0 202.2 410.3 202.7 411.9 203.1 413.6 203.4 415.5 203.6 417.5 203.7 419.5 203.6 420.7 203.4 421.8 203.1 422.8 202.7 423.8 202.2 424.7 201.6 425.4 201.0 426.0 200.2 426.5 199.5 426.7 198.7 426.8 197.9 426.7 197.1 426.5 196.4 426.0 195.7 425.4 195.1 424.7 194.6 423.8 194.2 422.8 193.9 421.8 193.7 420.7 193.7 419.5 M199.8 419.5 199.9 417.2 200.1 415.0 200.4 412.8 200.8 410.9 201.3 409.1 201.9 407.6 202.6 406.4 203.4 405.5 204.2 405.0 205.0 404.8 205.8 405.0 206.6 405.5 207.4 406.4 208.1 407.6 208.7 409.1 209.2 410.9 209.7 412.8 210.0 415.0 210.2 417.2 210.2 419.5 210.2 420.7 210.0 421.8 209.7 422.8 209.2 423.8 208.7 424.7 208.1 425.4 207.4 426.0 206.6 426.5 205.8 426.7 205.0 426.8 204.2 426.7 203.4 426.5 202.6 426.0 201.9 425.4 201.3 424.7 200.8 423.8 200.4 422.8 200.1 421.8 199.9 420.7 199.8 419.5 M202.7 419.5 202.8 417.2 203.0 414.9 203.3 412.7 203.8 410.6 204.4 408.8 205.1 407.3 205.8 406.0 206.6 405.1 207.5 404.6 208.4 404.4 209.2 404.6 210.1 405.1 210.9 406.0 211.7 407.3 212.3 408.8 212.9 410.6 213.4 412.7 213.7 414.9 213.9 417.2 214.0 419.5 213.9 420.7 213.7 421.8 213.4 422.8 212.9 423.8 212.3 424.7 211.7 425.4 210.9 426.0 210.1 426.5 209.2 426.7 208.4 426.8 207.5 426.7 206.6 426.5 205.8 426.0 205.1 425.4 204.4 424.7 203.8 423.8 203.3 422.8 203.0 421.8 202.8 420.7 202.7 419.5 M209.2 419.5 209.3 417.3 209.5 415.0 209.8 412.9 210.2 411.0 210.8 409.2 211.4 407.8 212.2 406.6 212.9 405.7 213.8 405.2 214.6 405.0 215.5 405.2 216.3 405.7 217.1 406.6 217.8 407.8 218.5 409.2 219.0 411.0 219.5 412.9 219.8 415.0 220.0 417.3 220.1 419.5 220.0 420.7 219.8 421.8 219.5 422.8 219.0 423.8 218.5 424.7 217.8 425.4 217.1 426.0 216.3 426.5 215.5 426.7 214.6 426.8 213.8 426.7 212.9 426.5 212.2 426.0 211.4 425.4 210.8 424.7 210.2 423.8 209.8 422.8 209.5 421.8 209.3 420.7 209.2 419.5 M212.2 419.5 212.2 417.4 212.5 415.3 212.8 413.4 213.3 411.6 213.9 409.9 214.7 408.6 215.5 407.4 216.3 406.6 217.3 406.1 218.2 406.0 219.2 406.1 220.1 406.6 221.0 407.4 221.8 408.6 222.5 409.9 223.1 411.6 223.6 413.4 224.0 415.3 224.2 417.4 224.3 419.5 224.2 420.7 224.0 421.8 223.6 422.8 223.1 423.8 222.5 424.7 221.8 425.4 221.0 426.0 220.1 426.5 219.2 426.7 218.2 426.8 217.3 426.7 216.3 426.5 215.5 426.0 214.7 425.4 213.9 424.7 213.3 423.8 212.8 422.8 212.5 421.8 212.2 420.7 212.2 419.5 M217.5 419.5 217.6 417.7 217.9 415.9 218.2 414.3 218.8 412.7 219.4 411.3 220.2 410.2 221.1 409.2 222.0 408.5 223.0 408.1 224.0 407.9 225.0 408.1 226.0 408.5 226.9 409.2 227.8 410.2 228.6 411.3 229.2 412.7 229.7 414.3 230.1 415.9 230.4 417.7 230.4 419.5 230.4 420.7 230.1 421.8 229.7 422.8 229.2 423.8 228.6 424.7 227.8 425.4 226.9 426.0 226.0 426.5 225.0 426.7 224.0 426.8 223.0 426.7 222.0 426.5 221.1 426.0 220.2 425.4 219.4 424.7 218.8 423.8 218.2 422.8 217.9 421.8 217.6 420.7 217.5 419.5 M222.6 419.5 222.7 417.9 222.9 416.4 223.2 414.9 223.7 413.6 224.3 412.4 225.1 411.3 225.9 410.5 226.7 409.9 227.7 409.5 228.6 409.4 229.6 409.5 230.5 409.9 231.4 410.5 232.2 411.3 232.9 412.4 233.5 413.6 234.0 414.9 234.4 416.4 234.6 417.9 234.6 419.5 234.6 420.7 234.4 421.8 234.0 422.8 233.5 423.8 232.9 424.7 232.2 425.4 231.4 426.0 230.5 426.5 229.6 426.7 228.6 426.8 227.7 426.7 226.7 426.5 225.9 426.0 225.1 425.4 224.3 424.7 223.7 423.8 223.2 422.8 222.9 421.8 222.7 420.7 222.6 419.5 M225.9 419.5 226.0 418.1 226.2 416.7 226.6 415.3 227.1 414.1 227.7 413.0 228.5 412.0 229.3 411.2 230.2 410.7 231.2 410.3 232.1 410.2 233.1 410.3 234.1 410.7 235.0 411.2 235.8 412.0 236.6 413.0 237.2 414.1 237.7 415.3 238.1 416.7 238.3 418.1 238.4 419.5 238.3 420.7 238.1 421.8 237.7 422.8 237.2 423.8 236.6 424.7 235.8 425.4 235.0 426.0 234.1 426.5 233.1 426.7 232.1 426.8 231.2 426.7 230.2 426.5 229.3 426.0 228.5 425.4 227.7 424.7 227.1 423.8 226.6 422.8 226.2 421.8 226.0 420.7 225.9 419.5 M210.0 419.5 210.2 418.3 210.5 417.0 211.2 415.8 212.0 414.7 213.1 413.7 214.4 412.7 215.9 411.9 217.5 411.2 219.3 410.6 221.2 410.2 223.1 410.0 225.1 409.9 227.0 410.0 228.9 410.2 230.8 410.6 232.6 411.2 234.2 411.9 235.7 412.7 237.0 413.7 238.1 414.7 238.9 415.8 239.6 417.0 240.0 418.3 240.1 419.5 240.0 420.5 239.6 421.4 238.9 422.3 238.1 423.2 237.0 424.0 235.7 424.7 234.2 425.3 232.6 425.9 230.8 426.3 228.9 426.6 227.0 426.8 225.1 426.8 223.1 426.8 221.2 426.6 219.3 426.3 217.5 425.9 215.9 425.3 214.4 424.7 213.1 424.0 212.0 423.2 211.2 422.3 210.5 421.4 210.2 420.5 210.0 419.5 M186.0 419.5 186.1 418.2 186.3 416.8 186.7 415.6 187.2 414.3 187.9 413.2 188.7 412.2 189.6 411.3 190.5 410.5 191.6 409.9 192.7 409.5 193.9 409.2 195.0 409.1 196.2 409.2 197.4 409.5 198.5 409.9 199.6 410.5 200.5 411.3 201.4 412.2 202.2 413.2 202.9 414.3 203.4 415.6 203.8 416.8 204.0 418.2 204.1 419.5 204.0 420.5 203.8 421.4 203.4 422.3 202.9 423.2 202.2 424.0 201.4 424.7 200.5 425.3 199.6 425.9 198.5 426.3 197.4 426.6 196.2 426.8 195.0 426.8 193.9 426.8 192.7 426.6 191.6 426.3 190.5 425.9 189.6 425.3 188.7 424.7 187.9 424.0 187.2 423.2 186.7 422.3 186.3 421.4 186.1 420.5 186.0 419.5 M188.9 419.5 189.0 418.0 189.2 416.4 189.6 414.9 190.2 413.5 190.9 412.2 191.7 411.0 192.6 410.0 193.6 409.1 194.7 408.4 195.9 407.9 197.1 407.6 198.4 407.5 199.6 407.6 200.8 407.9 202.0 408.4 203.1 409.1 204.1 410.0 205.1 411.0 205.9 412.2 206.6 413.5 207.1 414.9 207.5 416.4 207.7 418.0 207.8 419.5 207.7 420.5 207.5 421.4 207.1 422.3 206.6 423.2 205.9 424.0 205.1 424.7 204.1 425.3 203.1 425.9 202.0 426.3 200.8 426.6 199.6 426.8 198.4 426.8 197.1 426.8 195.9 426.6 194.7 426.3 193.6 425.9 192.6 425.3 191.7 424.7 190.9 424.0 190.2 423.2 189.6 422.3 189.2 421.4 189.0 420.5 188.9 419.5 M196.5 419.5 196.6 417.6 196.9 415.6 197.4 413.7 198.2 412.0 199.0 410.3 200.1 408.8 201.3 407.5 202.6 406.4 204.0 405.5 205.6 404.9 207.1 404.5 208.7 404.4 210.3 404.5 211.9 404.9 213.4 405.5 214.8 406.4 216.1 407.5 217.3 408.8 218.4 410.3 219.3 412.0 220.0 413.7 220.5 415.6 220.8 417.6 220.9 419.5 220.8 420.5 220.5 421.4 220.0 422.3 219.3 423.2 218.4 424.0 217.3 424.7 216.1 425.3 214.8 425.9 213.4 426.3 211.9 426.6 210.3 426.8 208.7 426.8 207.1 426.8 205.6 426.6 204.0 426.3 202.6 425.9 201.3 425.3 200.1 424.7 199.0 424.0 198.2 423.2 197.4 422.3 196.9 421.4 196.6 420.5 196.5 419.5 M191.9 419.5 192.0 417.9 192.2 416.3 192.5 414.7 192.9 413.2 193.5 411.8 194.2 410.6 194.9 409.5 195.8 408.6 196.7 407.8 197.6 407.3 198.6 407.0 199.6 406.9 200.6 407.0 201.6 407.3 202.6 407.8 203.5 408.6 204.3 409.5 205.1 410.6 205.7 411.8 206.3 413.2 206.7 414.7 207.1 416.3 207.3 417.9 207.3 419.5 207.3 420.5 207.1 421.4 206.7 422.3 206.3 423.2 205.7 424.0 205.1 424.7 204.3 425.3 203.5 425.9 202.6 426.3 201.6 426.6 200.6 426.8 199.6 426.8 198.6 426.8 197.6 426.6 196.7 426.3 195.8 425.9 194.9 425.3 194.2 424.7 193.5 424.0 192.9 423.2 192.5 422.3 192.2 421.4 192.0 420.5 191.9 419.5 M195.5 419.5 195.6 417.6 195.9 415.7 196.3 413.9 196.9 412.1 197.7 410.5 198.6 409.0 199.6 407.8 200.8 406.7 202.0 405.8 203.3 405.2 204.6 404.8 206.0 404.7 207.4 404.8 208.7 405.2 210.0 405.8 211.3 406.7 212.4 407.8 213.4 409.0 214.4 410.5 215.1 412.1 215.7 413.9 216.2 415.7 216.4 417.6 216.5 419.5 216.4 420.5 216.2 421.4 215.7 422.3 215.1 423.2 214.4 424.0 213.4 424.7 212.4 425.3 211.3 425.9 210.0 426.3 208.7 426.6 207.4 426.8 206.0 426.8 204.6 426.8 203.3 426.6 202.0 426.3 200.8 425.9 199.6 425.3 198.6 424.7 197.7 424.0 196.9 423.2 196.3 422.3 195.9 421.4 195.6 420.5 195.5 419.5 M197.1 419.5 197.2 417.6 197.6 415.7 198.2 413.8 199.1 412.1 200.2 410.4 201.4 409.0 202.9 407.7 204.6 406.6 206.3 405.7 208.2 405.1 210.1 404.7 212.0 404.6 214.0 404.7 215.9 405.1 217.8 405.7 219.5 406.6 221.2 407.7 222.6 409.0 223.9 410.4 225.0 412.1 225.9 413.8 226.5 415.7 226.9 417.6 227.0 419.5 226.9 420.5 226.5 421.4 225.9 422.3 225.0 423.2 223.9 424.0 222.6 424.7 221.2 425.3 219.5 425.9 217.8 426.3 215.9 426.6 214.0 426.8 212.0 426.8 210.1 426.8 208.2 426.6 206.3 426.3 204.6 425.9 202.9 425.3 201.4 424.7 200.2 424.0 199.1 423.2 198.2 422.3 197.6 421.4 197.2 420.5 197.1 419.5 M205.5 419.5 205.6 417.8 205.9 416.0 206.4 414.4 207.1 412.8 207.9 411.3 208.9 410.0 210.0 408.8 211.3 407.8 212.7 407.1 214.1 406.5 215.6 406.2 217.1 406.0 218.6 406.2 220.1 406.5 221.6 407.1 222.9 407.8 224.2 408.8 225.4 410.0 226.4 411.3 227.2 412.8 227.9 414.4 228.4 416.0 228.7 417.8 228.8 419.5 228.7 420.5 228.4 421.4 227.9 422.3 227.2 423.2 226.4 424.0 225.4 424.7 224.2 425.3 222.9 425.9 221.6 426.3 220.1 426.6 218.6 426.8 217.1 426.8 215.6 426.8 214.1 426.6 212.7 426.3 211.3 425.9 210.0 425.3 208.9 424.7 207.9 424.0 207.1 423.2 206.4 422.3 205.9 421.4 205.6 420.5 205.5 419.5" stroke="#975aae" stroke-width="0.9" fill="none"/>
<path d="M508.1 402.8 508.2 384.2 508.7 376.5 509.5 370.6 510.5 365.7 511.9 361.5 513.6 357.7 515.5 354.3 517.8 351.3 520.3 348.5 523.0 345.9 526.0 343.6 529.3 341.5 532.7 339.6 536.4 337.9 540.2 336.3 544.2 335.0 548.4 333.8 552.7 332.7 557.1 331.9 561.7 331.2 566.3 330.6 570.9 330.2 575.6 330.0 580.4 329.9 586.2 330.1 591.9 330.5 597.6 331.3 603.3 332.4 608.8 333.8 614.2 335.5 619.5 337.4 624.6 339.7 629.5 342.2 634.2 345.0 638.7 348.0 642.9 351.3 646.8 354.7 650.5 358.4 653.9 362.3 656.9 366.4 659.6 370.6 662.0 374.9 664.1 379.4 665.8 383.9 667.1 388.6 668.0 393.3 668.6 398.0 668.8 402.8 668.6 406.8 668.2 410.8 667.5 414.8 666.5 418.7 665.3 422.6 663.8 426.3 662.0 430.0 660.0 433.5 657.7 436.9 655.2 440.2 652.5 443.3 649.6 446.3 646.5 449.0 643.2 451.5 639.7 453.9 636.1 456.0 632.3 457.9 628.4 459.6 624.4 461.0 620.3 462.2 616.1 463.1 611.9 463.7 607.6 464.1 603.3 464.2 597.1 464.2 590.9 464.0 584.8 463.7 578.7 463.2 572.7 462.6 566.9 461.9 561.2 461.0 555.7 460.0 550.4 458.8 545.3 457.5 540.5 456.1 536.0 454.5 531.7 452.7 527.8 450.7 524.1 448.6 520.8 446.3 517.9 443.7 515.3 440.8 513.1 437.6 511.3 434.1 509.9 429.9 508.9 425.0 508.3 418.5 508.1 402.8 M508.8 402.8 509.0 384.0 509.5 376.2 510.2 370.3 511.3 365.4 512.6 361.0 514.3 357.2 516.2 353.8 518.4 350.7 520.8 347.8 523.5 345.3 526.5 342.9 529.7 340.8 533.1 338.8 536.7 337.1 540.5 335.5 544.4 334.1 548.5 332.9 552.8 331.9 557.1 331.0 561.6 330.3 566.1 329.7 570.7 329.3 575.3 329.1 580.0 329.0 585.8 329.1 591.5 329.6 597.2 330.4 602.8 331.5 608.3 332.9 613.7 334.6 619.0 336.6 624.1 338.9 629.0 341.4 633.6 344.2 638.1 347.3 642.3 350.6 646.3 354.1 649.9 357.9 653.3 361.8 656.3 365.9 659.0 370.2 661.4 374.6 663.5 379.1 665.1 383.7 666.4 388.4 667.4 393.2 667.9 398.0 668.1 402.8 668.0 406.8 667.6 410.7 666.9 414.7 665.9 418.6 664.7 422.4 663.2 426.1 661.4 429.7 659.4 433.2 657.2 436.6 654.7 439.9 652.0 442.9 649.1 445.8 646.0 448.6 642.8 451.1 639.3 453.4 635.7 455.5 632.0 457.4 628.1 459.0 624.1 460.4 620.1 461.6 615.9 462.5 611.7 463.2 607.5 463.5 603.3 463.7 597.1 463.6 591.0 463.4 584.9 463.1 578.8 462.6 572.9 462.0 567.1 461.3 561.5 460.4 556.1 459.4 550.8 458.3 545.8 457.0 541.0 455.6 536.5 454.0 532.3 452.2 528.4 450.3 524.8 448.1 521.5 445.8 518.6 443.2 516.0 440.4 513.9 437.2 512.1 433.7 510.7 429.6 509.7 424.7 509.0 418.3 508.8 402.8 M509.0 402.8 509.2 384.2 509.6 376.4 510.4 370.5 511.4 365.5 512.8 361.2 514.4 357.4 516.4 353.9 518.6 350.8 521.0 348.0 523.8 345.4 526.7 343.0 529.9 340.8 533.3 338.9 536.9 337.1 540.7 335.6 544.7 334.2 548.8 332.9 553.1 331.9 557.5 331.0 561.9 330.3 566.5 329.7 571.1 329.3 575.8 329.1 580.4 329.0 586.1 329.1 591.7 329.6 597.3 330.4 602.8 331.5 608.3 332.9 613.6 334.6 618.7 336.6 623.7 338.9 628.5 341.4 633.1 344.2 637.5 347.3 641.6 350.6 645.5 354.1 649.1 357.9 652.4 361.8 655.4 365.9 658.1 370.1 660.4 374.5 662.4 379.1 664.0 383.7 665.3 388.4 666.2 393.2 666.8 398.0 667.0 402.8 666.9 406.7 666.4 410.6 665.8 414.5 664.8 418.3 663.6 422.0 662.1 425.7 660.4 429.2 658.5 432.7 656.3 436.0 653.8 439.2 651.2 442.2 648.3 445.0 645.3 447.7 642.1 450.2 638.7 452.5 635.2 454.5 631.5 456.4 627.7 458.0 623.8 459.3 619.8 460.5 615.8 461.4 611.6 462.0 607.5 462.4 603.3 462.5 597.2 462.5 591.0 462.3 584.9 461.9 578.9 461.5 573.0 460.9 567.2 460.2 561.6 459.3 556.2 458.3 550.9 457.2 545.9 455.9 541.1 454.5 536.6 452.9 532.4 451.2 528.5 449.3 524.9 447.2 521.6 444.9 518.7 442.3 516.2 439.5 514.0 436.4 512.2 432.9 510.8 428.9 509.8 424.1 509.2 417.8 509.0 402.8 M509.3 402.8 509.4 384.7 509.9 377.1 510.6 371.2 511.7 366.3 513.1 362.0 514.7 358.2 516.7 354.8 518.9 351.7 521.4 348.9 524.1 346.3 527.1 343.9 530.3 341.8 533.7 339.9 537.3 338.1 541.1 336.5 545.1 335.1 549.3 333.9 553.5 332.9 557.9 332.0 562.4 331.3 567.0 330.7 571.6 330.3 576.3 330.1 581.0 330.0 586.6 330.1 592.2 330.6 597.8 331.4 603.3 332.5 608.7 333.9 613.9 335.5 619.1 337.5 624.0 339.7 628.8 342.3 633.4 345.0 637.7 348.1 641.8 351.3 645.7 354.8 649.3 358.5 652.5 362.3 655.5 366.4 658.2 370.6 660.5 374.9 662.5 379.4 664.1 384.0 665.4 388.6 666.3 393.3 666.9 398.0 667.0 402.8 666.9 406.8 666.5 410.8 665.8 414.7 664.9 418.6 663.7 422.4 662.2 426.2 660.5 429.8 658.5 433.3 656.3 436.7 653.9 440.0 651.2 443.0 648.4 446.0 645.3 448.7 642.1 451.2 638.7 453.6 635.2 455.7 631.5 457.5 627.7 459.2 623.8 460.6 619.8 461.8 615.7 462.7 611.6 463.3 607.4 463.7 603.3 463.8 597.1 463.8 591.0 463.6 584.9 463.2 578.9 462.8 573.1 462.2 567.3 461.4 561.7 460.5 556.3 459.5 551.0 458.4 546.0 457.0 541.3 455.6 536.8 453.9 532.6 452.1 528.7 450.2 525.1 448.0 521.9 445.6 519.0 443.0 516.4 440.2 514.3 437.0 512.5 433.4 511.1 429.3 510.1 424.4 509.5 418.0 509.3 402.8 M509.4 402.8 509.5 385.1 510.0 377.5 510.7 371.7 511.8 366.8 513.1 362.6 514.7 358.8 516.7 355.4 518.8 352.2 521.3 349.4 524.0 346.8 526.9 344.5 530.1 342.3 533.5 340.4 537.0 338.6 540.8 337.1 544.7 335.7 548.8 334.4 553.0 333.4 557.4 332.5 561.8 331.8 566.3 331.2 570.9 330.8 575.5 330.6 580.1 330.5 585.8 330.6 591.4 331.1 596.9 331.9 602.4 333.0 607.8 334.3 613.0 336.0 618.2 337.9 623.1 340.2 627.9 342.7 632.5 345.4 636.8 348.4 640.9 351.7 644.8 355.1 648.4 358.8 651.6 362.6 654.6 366.6 657.3 370.8 659.6 375.1 661.6 379.6 663.2 384.1 664.5 388.7 665.4 393.4 665.9 398.1 666.1 402.8 666.0 406.6 665.6 410.4 664.9 414.2 664.0 418.0 662.8 421.6 661.3 425.2 659.6 428.7 657.7 432.1 655.5 435.3 653.1 438.4 650.5 441.4 647.6 444.2 644.6 446.8 641.4 449.3 638.1 451.5 634.6 453.5 630.9 455.3 627.2 456.9 623.3 458.2 619.4 459.4 615.3 460.2 611.3 460.8 607.2 461.2 603.0 461.3 596.9 461.3 590.8 461.1 584.8 460.8 578.8 460.3 572.9 459.7 567.2 459.0 561.6 458.1 556.2 457.2 551.0 456.0 546.0 454.8 541.3 453.3 536.8 451.8 532.6 450.0 528.7 448.1 525.1 446.0 521.9 443.7 519.0 441.2 516.5 438.5 514.3 435.4 512.6 431.9 511.2 428.0 510.2 423.3 509.6 417.1 509.4 402.8 M510.3 402.8 510.4 385.9 510.9 378.5 511.6 372.9 512.6 368.1 514.0 363.9 515.6 360.2 517.5 356.9 519.6 353.8 522.0 351.1 524.7 348.5 527.6 346.2 530.7 344.1 534.0 342.2 537.5 340.5 541.2 338.9 545.1 337.6 549.1 336.4 553.3 335.3 557.6 334.4 561.9 333.7 566.4 333.2 570.9 332.8 575.4 332.5 580.0 332.5 585.6 332.6 591.1 333.1 596.6 333.8 602.0 334.9 607.4 336.2 612.6 337.8 617.7 339.7 622.6 341.9 627.4 344.3 631.9 347.0 636.2 349.9 640.3 353.1 644.1 356.4 647.6 360.0 650.9 363.7 653.8 367.6 656.5 371.7 658.8 375.9 660.7 380.2 662.3 384.6 663.6 389.1 664.5 393.6 665.1 398.2 665.2 402.8 665.1 406.7 664.7 410.7 664.0 414.5 663.1 418.4 661.9 422.1 660.5 425.8 658.8 429.4 656.8 432.9 654.7 436.2 652.3 439.4 649.7 442.5 646.8 445.3 643.8 448.0 640.7 450.5 637.3 452.8 633.8 454.9 630.2 456.8 626.5 458.4 622.6 459.8 618.7 460.9 614.7 461.8 610.6 462.5 606.5 462.8 602.4 463.0 596.4 462.9 590.4 462.7 584.4 462.4 578.6 461.9 572.8 461.3 567.1 460.5 561.7 459.6 556.3 458.6 551.2 457.4 546.3 456.1 541.7 454.6 537.3 453.0 533.1 451.2 529.3 449.2 525.8 447.0 522.6 444.7 519.8 442.1 517.3 439.2 515.2 436.0 513.4 432.5 512.0 428.4 511.1 423.5 510.5 417.3 510.3 402.8 M511.8 402.8 512.0 386.4 512.4 379.1 513.1 373.5 514.1 368.8 515.4 364.6 517.0 360.9 518.8 357.6 520.9 354.5 523.3 351.8 525.8 349.2 528.7 346.9 531.7 344.8 534.9 342.9 538.4 341.2 542.0 339.6 545.8 338.2 549.7 337.0 553.7 336.0 557.9 335.1 562.1 334.4 566.5 333.8 570.9 333.4 575.3 333.2 579.7 333.1 585.2 333.3 590.7 333.7 596.1 334.4 601.5 335.5 606.7 336.8 611.9 338.4 616.9 340.3 621.7 342.4 626.4 344.9 630.9 347.5 635.1 350.4 639.1 353.5 642.9 356.9 646.4 360.4 649.6 364.1 652.5 368.0 655.1 372.0 657.4 376.1 659.3 380.4 660.9 384.8 662.1 389.2 663.0 393.7 663.6 398.2 663.8 402.8 663.6 406.6 663.2 410.4 662.6 414.1 661.7 417.8 660.5 421.5 659.0 425.0 657.4 428.5 655.5 431.8 653.3 435.1 651.0 438.2 648.4 441.1 645.6 443.9 642.7 446.5 639.5 448.9 636.2 451.1 632.8 453.1 629.2 454.9 625.5 456.5 621.7 457.8 617.9 458.9 613.9 459.8 609.9 460.4 605.9 460.8 601.8 460.9 595.9 460.8 590.1 460.6 584.3 460.3 578.5 459.8 572.9 459.2 567.4 458.5 562.0 457.6 556.8 456.6 551.8 455.5 547.0 454.2 542.5 452.7 538.2 451.1 534.2 449.4 530.4 447.5 527.0 445.3 523.9 443.0 521.1 440.5 518.7 437.7 516.6 434.6 514.9 431.2 513.5 427.2 512.6 422.5 512.0 416.5 511.8 402.8 M512.7 402.8 512.8 386.8 513.3 379.6 514.0 374.0 515.0 369.3 516.2 365.2 517.8 361.5 519.6 358.1 521.7 355.1 524.0 352.3 526.5 349.7 529.3 347.4 532.3 345.3 535.5 343.4 538.9 341.6 542.5 340.0 546.2 338.7 550.1 337.4 554.1 336.4 558.2 335.5 562.4 334.8 566.6 334.2 571.0 333.8 575.3 333.6 579.7 333.5 585.1 333.6 590.5 334.1 595.8 334.8 601.0 335.9 606.2 337.2 611.2 338.8 616.2 340.6 620.9 342.8 625.5 345.2 629.9 347.8 634.0 350.7 638.0 353.8 641.7 357.1 645.1 360.6 648.2 364.3 651.1 368.1 653.6 372.1 655.8 376.3 657.7 380.5 659.3 384.9 660.5 389.3 661.4 393.8 661.9 398.3 662.1 402.8 662.0 406.6 661.6 410.5 661.0 414.2 660.1 418.0 658.9 421.6 657.5 425.2 655.9 428.7 654.1 432.1 652.0 435.4 649.7 438.5 647.2 441.5 644.5 444.3 641.7 446.9 638.6 449.3 635.5 451.6 632.1 453.6 628.7 455.4 625.1 457.0 621.4 458.3 617.7 459.4 613.8 460.3 610.0 460.9 606.1 461.3 602.1 461.4 596.3 461.4 590.5 461.2 584.7 460.8 579.0 460.4 573.4 459.7 567.9 459.0 562.6 458.1 557.4 457.1 552.4 455.9 547.7 454.6 543.2 453.1 538.9 451.5 534.9 449.7 531.2 447.7 527.8 445.5 524.7 443.2 521.9 440.6 519.5 437.8 517.4 434.6 515.7 431.1 514.4 427.1 513.5 422.4 512.9 416.3 512.7 402.8 M512.7 402.8 512.8 387.8 513.3 380.9 514.0 375.5 515.0 370.9 516.2 366.9 517.8 363.3 519.6 360.1 521.6 357.1 524.0 354.4 526.5 351.9 529.3 349.6 532.3 347.6 535.5 345.7 538.8 344.0 542.4 342.5 546.1 341.1 550.0 339.9 553.9 338.9 558.0 338.0 562.2 337.3 566.5 336.8 570.8 336.4 575.1 336.1 579.5 336.1 584.9 336.2 590.2 336.6 595.5 337.3 600.7 338.3 605.8 339.6 610.8 341.1 615.7 342.9 620.4 345.0 625.0 347.3 629.4 349.8 633.5 352.6 637.4 355.6 641.1 358.8 644.5 362.2 647.6 365.7 650.4 369.4 652.9 373.3 655.1 377.3 657.0 381.3 658.6 385.5 659.8 389.8 660.7 394.1 661.2 398.4 661.4 402.8 661.3 406.4 660.9 410.0 660.2 413.6 659.3 417.1 658.2 420.6 656.8 424.0 655.2 427.3 653.3 430.5 651.2 433.6 648.9 436.5 646.4 439.3 643.7 442.0 640.8 444.5 637.7 446.8 634.5 448.9 631.2 450.8 627.7 452.5 624.1 454.0 620.4 455.3 616.6 456.3 612.8 457.2 608.9 457.8 604.9 458.1 601.0 458.2 595.2 458.2 589.5 458.0 583.8 457.6 578.1 457.2 572.6 456.6 567.2 455.9 561.9 455.0 556.8 454.0 551.9 452.9 547.2 451.6 542.8 450.2 538.5 448.7 534.6 446.9 530.9 445.1 527.6 443.0 524.5 440.8 521.8 438.3 519.4 435.6 517.4 432.6 515.7 429.3 514.4 425.5 513.4 421.0 512.9 415.3 512.7 402.8 M514.0 402.8 514.2 388.2 514.6 381.3 515.3 375.9 516.3 371.4 517.6 367.4 519.1 363.8 520.9 360.5 522.9 357.5 525.2 354.8 527.8 352.3 530.5 350.0 533.5 347.9 536.7 346.0 540.1 344.3 543.6 342.7 547.3 341.4 551.2 340.1 555.1 339.1 559.2 338.2 563.4 337.5 567.6 337.0 571.9 336.6 576.3 336.3 580.6 336.2 585.8 336.4 590.9 336.8 596.1 337.5 601.1 338.5 606.1 339.8 610.9 341.3 615.7 343.1 620.2 345.2 624.6 347.5 628.8 350.0 632.9 352.8 636.6 355.7 640.2 358.9 643.5 362.3 646.5 365.8 649.2 369.5 651.7 373.4 653.8 377.3 655.6 381.4 657.2 385.6 658.3 389.8 659.2 394.1 659.7 398.4 659.9 402.8 659.7 406.4 659.4 409.9 658.7 413.4 657.9 416.9 656.7 420.3 655.4 423.7 653.8 426.9 652.0 430.1 650.0 433.1 647.8 436.0 645.3 438.7 642.7 441.4 639.9 443.8 637.0 446.1 633.8 448.1 630.6 450.0 627.2 451.7 623.7 453.2 620.1 454.4 616.5 455.5 612.7 456.3 609.0 456.9 605.1 457.2 601.3 457.3 595.6 457.3 589.9 457.1 584.3 456.7 578.7 456.3 573.3 455.7 567.9 455.0 562.7 454.1 557.7 453.1 552.8 452.0 548.2 450.7 543.8 449.3 539.6 447.8 535.7 446.1 532.1 444.2 528.7 442.1 525.7 439.9 523.0 437.5 520.7 434.8 518.7 431.8 517.0 428.5 515.7 424.8 514.8 420.4 514.2 414.8 514.0 402.8 M515.1 402.8 515.3 388.7 515.7 381.9 516.4 376.6 517.3 372.1 518.6 368.1 520.0 364.5 521.8 361.2 523.8 358.3 526.0 355.5 528.5 353.0 531.1 350.7 534.0 348.6 537.1 346.7 540.3 345.0 543.8 343.4 547.4 342.1 551.1 340.8 554.9 339.8 558.9 338.9 562.9 338.2 567.0 337.6 571.2 337.2 575.4 337.0 579.6 336.9 584.8 337.1 590.0 337.5 595.1 338.2 600.2 339.2 605.1 340.4 610.0 341.9 614.8 343.7 619.4 345.7 623.8 348.0 628.0 350.5 632.0 353.3 635.8 356.2 639.4 359.4 642.7 362.7 645.7 366.2 648.5 369.9 650.9 373.7 653.1 377.6 654.9 381.6 656.4 385.7 657.6 389.9 658.5 394.2 659.0 398.5 659.1 402.8 659.0 406.4 658.6 410.0 658.0 413.5 657.1 417.0 656.0 420.4 654.7 423.8 653.1 427.1 651.2 430.2 649.2 433.3 646.9 436.2 644.5 439.0 641.8 441.6 639.0 444.1 636.0 446.3 632.9 448.4 629.6 450.3 626.2 452.0 622.7 453.5 619.1 454.8 615.4 455.8 611.6 456.6 607.8 457.2 603.9 457.6 600.1 457.7 594.5 457.6 589.0 457.4 583.5 457.1 578.1 456.6 572.8 456.0 567.6 455.3 562.5 454.4 557.6 453.4 552.9 452.2 548.4 450.9 544.1 449.5 540.0 447.9 536.2 446.2 532.7 444.3 529.5 442.2 526.5 439.9 523.9 437.4 521.6 434.7 519.6 431.7 518.0 428.4 516.8 424.6 515.9 420.2 515.3 414.6 515.1 402.8 M516.2 402.8 516.4 389.5 516.8 383.1 517.4 377.9 518.4 373.6 519.6 369.7 521.0 366.2 522.8 363.0 524.7 360.1 526.9 357.4 529.3 355.0 531.9 352.7 534.7 350.7 537.8 348.8 541.0 347.1 544.3 345.6 547.8 344.2 551.5 343.0 555.3 342.0 559.1 341.1 563.1 340.4 567.1 339.9 571.2 339.5 575.3 339.3 579.5 339.2 584.6 339.3 589.7 339.7 594.7 340.4 599.7 341.3 604.6 342.6 609.4 344.0 614.1 345.7 618.6 347.7 622.9 349.9 627.1 352.3 631.0 355.0 634.8 357.8 638.3 360.9 641.5 364.1 644.5 367.5 647.2 371.0 649.6 374.7 651.7 378.5 653.5 382.4 655.0 386.3 656.2 390.4 657.0 394.5 657.5 398.6 657.7 402.8 657.6 406.2 657.2 409.7 656.6 413.1 655.8 416.4 654.7 419.7 653.4 422.9 651.8 426.1 650.1 429.1 648.1 432.0 645.9 434.8 643.6 437.5 641.0 440.0 638.3 442.3 635.4 444.5 632.4 446.5 629.2 448.3 626.0 450.0 622.6 451.4 619.1 452.6 615.5 453.6 611.9 454.4 608.2 454.9 604.5 455.3 600.8 455.4 595.2 455.3 589.7 455.1 584.3 454.8 578.9 454.3 573.6 453.8 568.4 453.0 563.4 452.2 558.5 451.2 553.8 450.1 549.3 448.8 545.0 447.4 541.0 445.9 537.2 444.2 533.7 442.3 530.5 440.3 527.6 438.1 525.0 435.7 522.7 433.1 520.7 430.2 519.1 427.0 517.9 423.4 517.0 419.1 516.4 413.8 516.2 402.8 M517.5 402.8 517.6 390.2 518.0 383.9 518.7 378.9 519.6 374.6 520.8 370.8 522.3 367.4 524.0 364.2 525.9 361.4 528.1 358.7 530.5 356.3 533.1 354.1 535.9 352.0 538.9 350.2 542.1 348.5 545.4 347.0 548.9 345.6 552.6 344.5 556.3 343.4 560.2 342.6 564.1 341.9 568.1 341.3 572.2 340.9 576.3 340.7 580.4 340.6 585.3 340.7 590.2 341.1 595.1 341.8 599.9 342.7 604.6 343.9 609.2 345.3 613.7 347.0 618.0 348.9 622.2 351.1 626.2 353.5 630.0 356.0 633.6 358.8 637.0 361.8 640.1 364.9 643.0 368.3 645.6 371.7 647.9 375.3 649.9 379.0 651.6 382.8 653.1 386.7 654.2 390.7 655.0 394.7 655.5 398.7 655.6 402.8 655.5 406.2 655.2 409.6 654.6 413.0 653.7 416.3 652.6 419.6 651.3 422.8 649.8 425.9 648.1 428.9 646.1 431.8 643.9 434.6 641.6 437.2 639.1 439.7 636.4 442.1 633.5 444.2 630.5 446.2 627.3 448.0 624.1 449.6 620.7 451.0 617.2 452.2 613.7 453.2 610.1 454.0 606.4 454.6 602.7 454.9 599.0 455.0 593.7 454.9 588.4 454.7 583.1 454.4 577.9 454.0 572.8 453.4 567.8 452.6 563.0 451.8 558.2 450.8 553.7 449.7 549.4 448.4 545.3 447.0 541.4 445.4 537.7 443.7 534.3 441.8 531.2 439.8 528.4 437.6 525.9 435.2 523.7 432.6 521.8 429.7 520.2 426.5 519.0 422.9 518.2 418.7 517.6 413.4 517.5 402.8 M518.6 402.8 518.7 390.5 519.1 384.3 519.8 379.3 520.7 375.0 521.8 371.1 523.3 367.6 524.9 364.5 526.8 361.6 528.9 358.9 531.2 356.4 533.8 354.2 536.5 352.1 539.5 350.2 542.6 348.5 545.8 347.0 549.2 345.6 552.7 344.4 556.4 343.3 560.1 342.5 564.0 341.7 567.9 341.2 571.8 340.8 575.8 340.5 579.8 340.5 584.6 340.6 589.4 341.0 594.2 341.7 598.9 342.6 603.5 343.8 608.0 345.2 612.3 346.9 616.6 348.8 620.7 351.0 624.6 353.3 628.3 355.9 631.8 358.7 635.1 361.7 638.1 364.9 641.0 368.2 643.5 371.6 645.8 375.2 647.7 378.9 649.4 382.8 650.8 386.7 651.9 390.6 652.7 394.7 653.2 398.7 653.3 402.8 653.2 406.2 652.9 409.7 652.3 413.0 651.5 416.4 650.4 419.7 649.2 422.9 647.7 426.0 646.0 429.1 644.2 432.0 642.1 434.8 639.8 437.4 637.4 439.9 634.8 442.3 632.0 444.5 629.1 446.5 626.1 448.3 623.0 449.9 619.7 451.3 616.4 452.5 613.0 453.5 609.5 454.3 606.0 454.9 602.4 455.2 598.9 455.3 593.6 455.2 588.4 455.0 583.2 454.7 578.1 454.2 573.1 453.6 568.1 452.9 563.4 452.0 558.7 451.0 554.3 449.8 550.0 448.5 545.9 447.1 542.1 445.5 538.5 443.8 535.2 441.9 532.1 439.8 529.3 437.5 526.9 435.1 524.7 432.4 522.9 429.5 521.3 426.3 520.1 422.6 519.3 418.4 518.8 413.1 518.6 402.8 M519.7 402.8 519.8 391.4 520.2 385.4 520.8 380.6 521.7 376.5 522.9 372.8 524.2 369.4 525.9 366.4 527.7 363.5 529.8 361.0 532.1 358.6 534.5 356.4 537.2 354.4 540.1 352.5 543.1 350.8 546.3 349.3 549.6 348.0 553.1 346.8 556.6 345.8 560.3 344.9 564.1 344.2 567.9 343.7 571.7 343.3 575.6 343.1 579.6 343.0 584.4 343.1 589.1 343.5 593.8 344.1 598.5 345.0 603.1 346.2 607.6 347.5 612.0 349.2 616.2 351.0 620.2 353.1 624.1 355.4 627.8 357.8 631.3 360.5 634.6 363.4 637.7 366.4 640.5 369.6 643.0 372.9 645.2 376.3 647.2 379.9 648.9 383.6 650.3 387.3 651.4 391.1 652.2 395.0 652.6 398.9 652.8 402.8 652.7 406.0 652.3 409.2 651.7 412.3 650.9 415.5 649.9 418.5 648.7 421.5 647.2 424.4 645.5 427.3 643.7 430.0 641.6 432.6 639.3 435.0 636.9 437.4 634.3 439.6 631.6 441.6 628.7 443.5 625.7 445.2 622.6 446.7 619.3 448.0 616.0 449.1 612.6 450.0 609.1 450.8 605.6 451.3 602.1 451.6 598.6 451.7 593.4 451.6 588.3 451.4 583.2 451.1 578.2 450.7 573.2 450.1 568.4 449.4 563.7 448.6 559.1 447.6 554.7 446.5 550.5 445.3 546.6 443.9 542.8 442.4 539.3 440.8 536.0 439.0 533.0 437.0 530.2 434.9 527.8 432.6 525.7 430.1 523.9 427.3 522.4 424.3 521.2 420.9 520.4 417.0 519.8 412.1 519.7 402.8 M521.2 402.8 521.3 392.0 521.7 386.3 522.3 381.6 523.2 377.5 524.3 373.9 525.6 370.6 527.2 367.6 529.0 364.8 531.0 362.2 533.2 359.9 535.6 357.7 538.2 355.7 541.0 353.9 543.9 352.2 547.0 350.7 550.3 349.4 553.6 348.2 557.1 347.2 560.6 346.4 564.3 345.7 568.0 345.1 571.7 344.7 575.5 344.5 579.3 344.4 583.9 344.5 588.5 344.9 593.1 345.5 597.6 346.4 602.0 347.5 606.4 348.9 610.6 350.4 614.7 352.2 618.6 354.3 622.4 356.5 625.9 358.9 629.3 361.5 632.5 364.3 635.4 367.3 638.1 370.4 640.6 373.6 642.8 377.0 644.7 380.5 646.3 384.0 647.6 387.7 648.7 391.4 649.4 395.2 649.9 399.0 650.0 402.8 649.9 406.0 649.6 409.1 649.0 412.3 648.3 415.4 647.3 418.4 646.1 421.4 644.7 424.3 643.0 427.1 641.2 429.8 639.2 432.4 637.1 434.8 634.7 437.1 632.2 439.3 629.6 441.3 626.8 443.2 623.9 444.9 620.9 446.4 617.8 447.7 614.6 448.8 611.3 449.7 608.0 450.4 604.6 451.0 601.2 451.3 597.8 451.4 592.8 451.3 587.8 451.1 582.9 450.8 578.0 450.3 573.2 449.8 568.5 449.0 563.9 448.2 559.5 447.2 555.2 446.1 551.2 444.9 547.3 443.5 543.6 442.0 540.2 440.3 537.0 438.5 534.1 436.6 531.5 434.4 529.1 432.1 527.0 429.6 525.3 426.9 523.8 423.8 522.7 420.5 521.9 416.6 521.4 411.8 521.2 402.8 M521.6 402.8 521.7 392.8 522.1 387.4 522.7 382.9 523.6 379.0 524.7 375.5 526.0 372.3 527.6 369.4 529.4 366.7 531.4 364.2 533.6 362.0 536.0 359.8 538.6 357.9 541.3 356.1 544.3 354.5 547.4 353.1 550.6 351.8 553.9 350.6 557.4 349.6 560.9 348.8 564.6 348.1 568.3 347.6 572.0 347.2 575.8 347.0 579.6 346.9 584.1 347.0 588.6 347.4 593.1 348.0 597.5 348.8 601.9 349.9 606.1 351.2 610.3 352.7 614.3 354.4 618.1 356.3 621.8 358.5 625.3 360.8 628.6 363.3 631.7 366.0 634.6 368.8 637.3 371.8 639.7 374.9 641.8 378.1 643.7 381.4 645.3 384.8 646.6 388.3 647.6 391.9 648.4 395.5 648.8 399.1 649.0 402.8 648.8 406.0 648.5 409.1 648.0 412.3 647.2 415.4 646.2 418.4 645.0 421.4 643.6 424.3 641.9 427.1 640.1 429.8 638.1 432.4 636.0 434.9 633.6 437.2 631.1 439.4 628.5 441.4 625.7 443.2 622.8 444.9 619.8 446.4 616.7 447.7 613.5 448.8 610.2 449.8 606.9 450.5 603.5 451.0 600.1 451.3 596.6 451.4 591.7 451.4 586.8 451.2 582.0 450.8 577.2 450.4 572.5 449.8 567.9 449.1 563.4 448.2 559.1 447.2 554.9 446.1 551.0 444.8 547.2 443.4 543.6 441.9 540.2 440.2 537.1 438.3 534.2 436.4 531.6 434.2 529.3 431.9 527.3 429.3 525.6 426.5 524.1 423.5 523.0 420.1 522.2 416.2 521.7 411.5 521.6 402.8 M523.8 402.8 524.0 393.1 524.3 387.7 524.9 383.2 525.7 379.3 526.8 375.8 528.1 372.6 529.6 369.7 531.3 367.0 533.2 364.4 535.3 362.1 537.6 360.0 540.1 358.0 542.7 356.2 545.5 354.5 548.5 353.1 551.6 351.7 554.8 350.6 558.1 349.6 561.5 348.7 565.0 348.0 568.5 347.5 572.1 347.1 575.7 346.9 579.3 346.8 583.7 346.9 588.1 347.3 592.4 347.9 596.7 348.7 600.9 349.8 605.0 351.1 609.0 352.6 612.9 354.3 616.6 356.2 620.2 358.4 623.5 360.7 626.7 363.2 629.7 365.9 632.5 368.7 635.1 371.7 637.4 374.8 639.5 378.0 641.3 381.4 642.8 384.8 644.1 388.3 645.1 391.9 645.8 395.5 646.3 399.1 646.4 402.8 646.3 405.8 646.0 408.8 645.4 411.8 644.7 414.8 643.8 417.7 642.6 420.5 641.3 423.3 639.8 426.0 638.1 428.5 636.2 431.0 634.1 433.3 631.9 435.5 629.5 437.6 627.0 439.5 624.4 441.3 621.7 442.9 618.8 444.3 615.9 445.6 612.8 446.6 609.7 447.5 606.6 448.2 603.4 448.7 600.2 449.0 596.9 449.1 592.1 449.0 587.4 448.8 582.7 448.5 578.0 448.1 573.4 447.5 569.0 446.8 564.6 446.0 560.4 445.0 556.3 443.9 552.4 442.7 548.7 441.3 545.2 439.8 542.0 438.2 538.9 436.4 536.2 434.5 533.6 432.4 531.4 430.2 529.4 427.7 527.7 425.1 526.3 422.2 525.2 419.0 524.5 415.3 524.0 410.8 523.8 402.8 M524.5 402.8 524.6 393.9 524.9 388.8 525.5 384.5 526.4 380.8 527.4 377.4 528.7 374.3 530.2 371.5 531.9 368.9 533.8 366.5 535.9 364.2 538.2 362.1 540.7 360.2 543.3 358.5 546.1 356.9 549.1 355.4 552.1 354.2 555.3 353.0 558.6 352.0 562.0 351.2 565.5 350.5 569.0 350.0 572.6 349.6 576.2 349.4 579.8 349.3 584.0 349.4 588.3 349.8 592.4 350.4 596.6 351.2 600.6 352.2 604.6 353.4 608.5 354.8 612.2 356.5 615.8 358.3 619.3 360.4 622.5 362.6 625.6 365.0 628.5 367.5 631.2 370.3 633.7 373.1 635.9 376.1 637.9 379.2 639.7 382.3 641.2 385.6 642.4 389.0 643.4 392.4 644.1 395.8 644.5 399.3 644.6 402.8 644.5 405.7 644.2 408.6 643.7 411.5 643.0 414.4 642.1 417.2 641.0 419.9 639.7 422.6 638.2 425.2 636.5 427.7 634.7 430.1 632.7 432.3 630.5 434.5 628.2 436.5 625.8 438.3 623.2 440.1 620.5 441.6 617.7 443.0 614.9 444.2 611.9 445.2 608.9 446.1 605.8 446.7 602.7 447.2 599.6 447.5 596.4 447.6 591.7 447.5 587.0 447.4 582.4 447.0 577.8 446.6 573.3 446.0 568.9 445.3 564.6 444.5 560.4 443.6 556.4 442.5 552.6 441.3 549.0 440.0 545.5 438.5 542.3 436.9 539.3 435.1 536.6 433.3 534.1 431.2 531.9 429.0 529.9 426.6 528.3 424.1 526.9 421.2 525.9 418.1 525.1 414.6 524.6 410.3 524.5 402.8 M526.4 402.8 526.6 394.3 526.9 389.2 527.4 385.1 528.2 381.4 529.2 378.0 530.4 374.9 531.8 372.1 533.4 369.5 535.2 367.0 537.2 364.8 539.4 362.7 541.7 360.8 544.2 359.0 546.9 357.4 549.7 355.9 552.6 354.6 555.6 353.5 558.7 352.5 561.9 351.7 565.2 351.0 568.5 350.4 571.9 350.1 575.3 349.8 578.7 349.8 582.8 349.9 587.0 350.2 591.1 350.8 595.2 351.6 599.2 352.6 603.1 353.8 606.9 355.2 610.6 356.9 614.1 358.7 617.5 360.7 620.8 362.9 623.8 365.3 626.7 367.8 629.3 370.5 631.7 373.3 633.9 376.3 635.9 379.3 637.6 382.5 639.1 385.8 640.3 389.1 641.3 392.5 641.9 395.9 642.4 399.3 642.5 402.8 642.4 405.8 642.1 408.7 641.6 411.6 640.9 414.5 640.0 417.3 638.9 420.1 637.6 422.8 636.1 425.4 634.4 427.9 632.6 430.3 630.6 432.6 628.5 434.7 626.2 436.8 623.8 438.6 621.3 440.4 618.6 441.9 615.8 443.3 613.0 444.5 610.1 445.6 607.1 446.4 604.0 447.1 600.9 447.6 597.8 447.9 594.7 448.0 590.2 447.9 585.8 447.7 581.4 447.4 577.0 446.9 572.8 446.4 568.6 445.6 564.5 444.8 560.6 443.8 556.8 442.7 553.1 441.5 549.7 440.1 546.4 438.6 543.4 437.0 540.5 435.2 537.9 433.3 535.6 431.2 533.5 429.0 531.6 426.5 530.1 423.9 528.8 421.1 527.8 417.9 527.0 414.3 526.6 410.1 526.4 402.8 M527.3 402.8 527.4 394.8 527.7 389.9 528.3 385.9 529.0 382.3 530.0 379.0 531.2 376.0 532.6 373.2 534.3 370.6 536.1 368.2 538.1 366.0 540.2 363.9 542.6 362.0 545.1 360.3 547.7 358.7 550.5 357.2 553.4 355.9 556.4 354.8 559.5 353.8 562.7 353.0 566.0 352.3 569.3 351.8 572.7 351.4 576.1 351.2 579.5 351.1 583.6 351.2 587.6 351.5 591.5 352.1 595.4 352.9 599.3 353.8 603.0 355.0 606.7 356.4 610.2 358.0 613.6 359.8 616.9 361.8 620.0 363.9 622.9 366.2 625.7 368.7 628.2 371.3 630.6 374.1 632.7 377.0 634.6 379.9 636.2 383.0 637.6 386.2 638.8 389.4 639.7 392.7 640.4 396.1 640.8 399.4 640.9 402.8 640.8 405.5 640.5 408.2 640.0 410.8 639.3 413.4 638.4 416.0 637.3 418.5 636.1 421.0 634.6 423.4 633.0 425.7 631.2 427.8 629.2 429.9 627.2 431.9 624.9 433.7 622.5 435.4 620.0 437.0 617.4 438.4 614.7 439.7 611.9 440.8 609.0 441.8 606.1 442.5 603.1 443.1 600.1 443.6 597.0 443.8 594.0 443.9 589.6 443.9 585.3 443.7 580.9 443.4 576.7 443.0 572.5 442.4 568.4 441.8 564.5 441.0 560.6 440.1 556.9 439.1 553.4 437.9 550.0 436.6 546.8 435.3 543.8 433.7 541.0 432.1 538.5 430.3 536.2 428.4 534.1 426.4 532.3 424.1 530.8 421.7 529.5 419.1 528.5 416.3 527.8 413.0 527.4 409.2 527.3 402.8 M528.8 402.8 528.9 395.5 529.2 391.0 529.7 387.2 530.5 383.8 531.4 380.7 532.6 377.8 533.9 375.2 535.5 372.7 537.2 370.4 539.1 368.3 541.2 366.3 543.4 364.5 545.8 362.8 548.3 361.3 551.0 359.9 553.8 358.6 556.6 357.5 559.6 356.6 562.7 355.8 565.8 355.1 569.0 354.6 572.2 354.3 575.4 354.0 578.7 354.0 582.7 354.1 586.6 354.4 590.5 354.9 594.4 355.6 598.2 356.6 601.9 357.7 605.5 359.0 609.0 360.5 612.4 362.2 615.6 364.1 618.6 366.1 621.5 368.3 624.2 370.6 626.8 373.1 629.1 375.7 631.2 378.4 633.0 381.2 634.7 384.1 636.1 387.1 637.2 390.2 638.1 393.3 638.7 396.4 639.1 399.6 639.3 402.8 639.2 405.4 638.9 408.0 638.4 410.6 637.7 413.1 636.8 415.6 635.8 418.1 634.6 420.5 633.2 422.8 631.6 425.0 629.8 427.1 628.0 429.1 625.9 431.0 623.7 432.8 621.4 434.5 619.0 436.0 616.5 437.4 613.8 438.6 611.1 439.7 608.3 440.6 605.5 441.4 602.6 442.0 599.6 442.4 596.7 442.6 593.7 442.7 589.4 442.7 585.2 442.5 581.0 442.2 576.9 441.8 572.8 441.2 568.8 440.6 565.0 439.8 561.2 438.9 557.6 437.9 554.2 436.8 550.9 435.5 547.8 434.1 544.9 432.7 542.2 431.0 539.7 429.3 537.5 427.4 535.5 425.4 533.7 423.2 532.2 420.9 531.0 418.4 530.0 415.6 529.3 412.4 528.9 408.8 528.8 402.8 M530.8 402.8 530.9 396.3 531.2 392.1 531.7 388.6 532.4 385.4 533.3 382.5 534.4 379.8 535.7 377.4 537.1 375.0 538.8 372.9 540.6 370.9 542.6 369.0 544.7 367.3 546.9 365.7 549.3 364.2 551.9 362.9 554.5 361.7 557.3 360.7 560.1 359.8 563.0 359.1 566.0 358.4 569.0 357.9 572.1 357.6 575.2 357.4 578.3 357.3 582.1 357.4 585.9 357.7 589.7 358.2 593.4 358.9 597.0 359.7 600.6 360.8 604.1 362.0 607.4 363.4 610.7 365.0 613.8 366.7 616.7 368.6 619.5 370.6 622.1 372.8 624.5 375.1 626.8 377.5 628.8 380.1 630.6 382.7 632.2 385.4 633.5 388.2 634.6 391.0 635.5 393.9 636.1 396.9 636.5 399.8 636.6 402.8 636.5 405.3 636.2 407.8 635.8 410.3 635.1 412.7 634.3 415.1 633.3 417.4 632.1 419.7 630.8 421.9 629.3 424.0 627.7 426.1 625.9 428.0 623.9 429.8 621.9 431.5 619.7 433.1 617.4 434.6 615.0 435.9 612.5 437.1 609.9 438.1 607.3 439.0 604.6 439.7 601.8 440.3 599.0 440.7 596.2 440.9 593.4 441.0 589.3 441.0 585.2 440.8 581.2 440.5 577.2 440.1 573.3 439.6 569.4 438.9 565.7 438.2 562.1 437.3 558.6 436.3 555.3 435.2 552.1 434.0 549.1 432.7 546.3 431.2 543.7 429.6 541.3 428.0 539.2 426.1 537.2 424.2 535.5 422.1 534.1 419.8 532.9 417.4 532.0 414.7 531.3 411.8 530.9 408.3 530.8 402.8 M532.2 402.8 532.3 396.5 532.6 392.4 533.1 388.9 533.8 385.7 534.7 382.8 535.7 380.1 537.0 377.6 538.4 375.3 540.0 373.1 541.8 371.0 543.8 369.1 545.9 367.4 548.1 365.8 550.4 364.3 552.9 363.0 555.5 361.8 558.2 360.7 561.0 359.8 563.9 359.0 566.8 358.4 569.8 357.9 572.8 357.5 575.8 357.3 578.9 357.2 582.5 357.3 586.1 357.6 589.7 358.1 593.2 358.8 596.7 359.7 600.0 360.7 603.3 361.9 606.5 363.4 609.6 364.9 612.5 366.7 615.3 368.6 618.0 370.6 620.5 372.8 622.8 375.1 624.9 377.5 626.8 380.0 628.5 382.7 630.0 385.4 631.3 388.2 632.3 391.0 633.1 393.9 633.7 396.9 634.1 399.8 634.2 402.8 634.1 405.2 633.8 407.6 633.4 410.0 632.8 412.4 632.0 414.7 631.0 417.0 629.9 419.2 628.7 421.3 627.2 423.4 625.7 425.3 623.9 427.2 622.1 429.0 620.1 430.6 618.0 432.2 615.8 433.6 613.5 434.9 611.2 436.0 608.7 437.0 606.2 437.8 603.6 438.5 600.9 439.1 598.3 439.5 595.6 439.7 592.9 439.8 588.9 439.8 585.0 439.6 581.0 439.3 577.2 438.9 573.4 438.4 569.7 437.7 566.0 437.0 562.5 436.1 559.2 435.2 555.9 434.1 552.9 432.9 550.0 431.6 547.2 430.1 544.7 428.6 542.4 426.9 540.3 425.2 538.4 423.3 536.8 421.2 535.4 419.0 534.2 416.7 533.3 414.1 532.7 411.2 532.3 407.9 532.2 402.8 M534.1 402.8 534.2 397.0 534.5 393.1 535.0 389.7 535.6 386.7 536.5 383.8 537.5 381.2 538.7 378.8 540.1 376.5 541.6 374.4 543.3 372.4 545.2 370.5 547.2 368.8 549.3 367.2 551.6 365.8 554.0 364.5 556.5 363.3 559.0 362.2 561.7 361.3 564.5 360.6 567.3 360.0 570.1 359.5 573.0 359.1 575.9 358.9 578.8 358.8 582.3 358.9 585.8 359.2 589.2 359.7 592.6 360.3 596.0 361.2 599.2 362.2 602.4 363.4 605.5 364.7 608.4 366.2 611.3 367.9 613.9 369.7 616.5 371.7 618.9 373.8 621.1 376.0 623.1 378.4 625.0 380.8 626.6 383.4 628.0 386.0 629.3 388.7 630.3 391.4 631.1 394.2 631.6 397.1 632.0 399.9 632.1 402.8 632.0 405.1 631.7 407.4 631.3 409.7 630.7 411.9 629.9 414.1 629.0 416.2 627.9 418.3 626.6 420.4 625.2 422.3 623.6 424.2 621.9 426.0 620.1 427.6 618.1 429.2 616.1 430.7 613.9 432.0 611.6 433.2 609.2 434.3 606.8 435.2 604.3 436.1 601.7 436.7 599.1 437.2 596.5 437.6 593.8 437.8 591.1 437.9 587.4 437.9 583.7 437.7 580.0 437.4 576.4 437.0 572.8 436.5 569.3 435.9 565.9 435.2 562.6 434.4 559.4 433.4 556.4 432.4 553.5 431.2 550.8 430.0 548.3 428.6 545.9 427.1 543.7 425.5 541.7 423.8 540.0 422.0 538.4 420.0 537.1 417.9 536.0 415.7 535.2 413.3 534.6 410.6 534.2 407.4 534.1 402.8 M535.5 402.8 535.6 397.6 535.8 394.0 536.3 390.8 536.9 388.0 537.7 385.3 538.7 382.8 539.9 380.5 541.2 378.4 542.6 376.3 544.3 374.4 546.0 372.7 547.9 371.0 549.9 369.5 552.1 368.2 554.4 366.9 556.7 365.8 559.2 364.8 561.7 363.9 564.3 363.2 566.9 362.6 569.7 362.1 572.4 361.8 575.2 361.6 577.9 361.5 581.3 361.6 584.6 361.9 588.0 362.3 591.2 362.9 594.4 363.7 597.6 364.7 600.6 365.8 603.6 367.0 606.5 368.5 609.2 370.0 611.8 371.8 614.2 373.6 616.5 375.6 618.7 377.7 620.6 379.9 622.4 382.2 624.0 384.5 625.4 387.0 626.6 389.5 627.5 392.1 628.3 394.7 628.8 397.4 629.2 400.1 629.3 402.8 629.2 405.0 629.0 407.2 628.6 409.4 628.0 411.6 627.3 413.7 626.4 415.8 625.4 417.9 624.2 419.8 622.9 421.7 621.4 423.5 619.8 425.2 618.1 426.9 616.3 428.4 614.4 429.8 612.4 431.1 610.2 432.3 608.0 433.3 605.8 434.2 603.4 435.0 601.1 435.7 598.6 436.2 596.2 436.5 593.7 436.8 591.2 436.8 587.6 436.8 583.9 436.6 580.3 436.3 576.8 436.0 573.3 435.5 569.9 434.9 566.6 434.1 563.3 433.3 560.3 432.4 557.3 431.4 554.5 430.2 551.8 429.0 549.3 427.6 547.0 426.2 544.9 424.6 543.0 422.9 541.2 421.2 539.7 419.3 538.4 417.2 537.4 415.0 536.6 412.7 536.0 410.1 535.6 407.1 535.5 402.8 M536.5 402.8 536.6 398.1 536.8 394.7 537.3 391.8 537.9 389.1 538.7 386.7 539.6 384.3 540.7 382.1 542.0 380.1 543.4 378.2 545.0 376.4 546.7 374.7 548.6 373.1 550.6 371.7 552.7 370.4 554.8 369.2 557.1 368.1 559.5 367.1 562.0 366.3 564.5 365.6 567.1 365.0 569.7 364.6 572.4 364.3 575.1 364.1 577.8 364.0 581.1 364.1 584.3 364.3 587.5 364.8 590.7 365.3 593.8 366.1 596.8 367.0 599.8 368.0 602.7 369.2 605.4 370.6 608.1 372.0 610.6 373.6 613.0 375.4 615.2 377.2 617.3 379.2 619.2 381.3 620.9 383.4 622.4 385.6 623.8 388.0 624.9 390.3 625.9 392.8 626.6 395.2 627.1 397.7 627.5 400.3 627.6 402.8 627.5 404.9 627.2 407.0 626.8 409.1 626.3 411.2 625.6 413.2 624.7 415.2 623.7 417.1 622.5 418.9 621.2 420.7 619.8 422.5 618.2 424.1 616.5 425.6 614.7 427.1 612.8 428.4 610.8 429.6 608.7 430.8 606.6 431.8 604.3 432.6 602.0 433.4 599.7 434.0 597.3 434.5 594.8 434.8 592.4 435.0 589.9 435.1 586.4 435.0 582.9 434.9 579.5 434.6 576.1 434.2 572.7 433.7 569.5 433.2 566.3 432.5 563.2 431.7 560.2 430.8 557.4 429.8 554.7 428.7 552.1 427.5 549.7 426.2 547.5 424.8 545.5 423.3 543.6 421.7 542.0 420.0 540.6 418.2 539.3 416.2 538.3 414.2 537.5 411.9 536.9 409.5 536.6 406.7 536.5 402.8 M538.8 402.8 538.9 398.5 539.1 395.4 539.5 392.6 540.1 390.1 540.9 387.7 541.8 385.5 542.9 383.4 544.1 381.4 545.5 379.5 547.0 377.8 548.7 376.2 550.5 374.7 552.4 373.3 554.4 372.0 556.5 370.8 558.7 369.8 561.0 368.9 563.4 368.1 565.8 367.4 568.3 366.8 570.9 366.4 573.5 366.1 576.0 365.9 578.7 365.8 581.7 365.9 584.8 366.1 587.8 366.5 590.8 367.1 593.8 367.8 596.6 368.6 599.5 369.6 602.2 370.8 604.8 372.1 607.3 373.5 609.7 375.0 611.9 376.7 614.0 378.4 616.0 380.3 617.7 382.3 619.4 384.3 620.8 386.4 622.1 388.7 623.2 390.9 624.1 393.2 624.8 395.6 625.3 398.0 625.6 400.4 625.7 402.8 625.6 405.0 625.4 407.1 625.0 409.2 624.4 411.3 623.7 413.4 622.9 415.4 621.9 417.4 620.7 419.3 619.4 421.1 618.0 422.9 616.5 424.6 614.8 426.1 613.1 427.6 611.2 429.0 609.2 430.2 607.2 431.4 605.0 432.4 602.8 433.3 600.5 434.0 598.2 434.7 595.9 435.2 593.5 435.5 591.1 435.7 588.6 435.8 585.4 435.7 582.1 435.6 578.9 435.3 575.7 434.9 572.6 434.4 569.6 433.8 566.6 433.1 563.7 432.3 560.9 431.3 558.3 430.3 555.8 429.2 553.4 427.9 551.1 426.6 549.1 425.1 547.2 423.6 545.5 421.9 543.9 420.2 542.6 418.3 541.4 416.3 540.5 414.2 539.7 411.9 539.2 409.4 538.9 406.6 538.8 402.8 M541.0 402.8 541.1 398.9 541.3 396.0 541.7 393.4 542.3 391.0 543.0 388.8 543.8 386.7 544.8 384.7 546.0 382.8 547.2 381.1 548.7 379.4 550.2 377.9 551.8 376.4 553.6 375.1 555.5 373.9 557.5 372.7 559.5 371.7 561.6 370.9 563.8 370.1 566.1 369.4 568.4 368.9 570.8 368.5 573.2 368.2 575.6 368.0 578.0 367.9 580.9 368.0 583.8 368.2 586.7 368.6 589.6 369.1 592.4 369.8 595.1 370.6 597.8 371.5 600.4 372.6 602.9 373.8 605.2 375.1 607.5 376.6 609.6 378.2 611.6 379.8 613.5 381.6 615.2 383.4 616.7 385.4 618.1 387.4 619.3 389.5 620.4 391.6 621.2 393.8 621.9 396.0 622.4 398.2 622.6 400.5 622.7 402.8 622.7 404.7 622.4 406.5 622.1 408.4 621.6 410.2 620.9 412.0 620.2 413.8 619.2 415.5 618.2 417.1 617.0 418.7 615.8 420.2 614.3 421.7 612.8 423.1 611.2 424.3 609.5 425.5 607.7 426.6 605.8 427.6 603.9 428.5 601.9 429.3 599.8 429.9 597.7 430.5 595.5 430.9 593.4 431.2 591.2 431.4 588.9 431.5 585.8 431.4 582.7 431.3 579.6 431.0 576.5 430.7 573.5 430.2 570.6 429.7 567.7 429.1 565.0 428.3 562.3 427.5 559.8 426.6 557.3 425.6 555.1 424.5 552.9 423.3 550.9 422.0 549.1 420.7 547.4 419.2 546.0 417.7 544.7 416.0 543.6 414.3 542.6 412.5 541.9 410.5 541.4 408.4 541.1 406.0 541.0 402.8 M542.4 402.8 542.5 399.4 542.7 396.8 543.1 394.4 543.7 392.2 544.3 390.2 545.1 388.2 546.1 386.4 547.2 384.6 548.4 383.0 549.8 381.4 551.2 380.0 552.8 378.6 554.5 377.4 556.3 376.3 558.2 375.2 560.2 374.3 562.2 373.4 564.3 372.7 566.5 372.1 568.7 371.6 571.0 371.2 573.2 370.9 575.5 370.8 577.9 370.7 580.7 370.8 583.4 371.0 586.2 371.3 588.9 371.8 591.6 372.4 594.2 373.1 596.7 374.0 599.2 375.0 601.6 376.1 603.8 377.3 606.0 378.7 608.0 380.1 609.9 381.6 611.7 383.3 613.3 385.0 614.8 386.7 616.1 388.6 617.3 390.5 618.2 392.5 619.1 394.5 619.7 396.5 620.1 398.6 620.4 400.7 620.5 402.8 620.4 404.6 620.2 406.3 619.9 408.1 619.4 409.8 618.8 411.5 618.0 413.2 617.1 414.8 616.1 416.3 615.0 417.8 613.8 419.3 612.4 420.6 610.9 421.9 609.4 423.1 607.7 424.3 606.0 425.3 604.2 426.2 602.3 427.1 600.4 427.8 598.4 428.4 596.3 428.9 594.2 429.3 592.1 429.6 590.0 429.8 587.9 429.9 584.9 429.8 581.9 429.7 579.0 429.4 576.1 429.1 573.3 428.7 570.5 428.2 567.8 427.5 565.2 426.8 562.6 426.1 560.2 425.2 557.9 424.2 555.7 423.2 553.7 422.0 551.8 420.8 550.1 419.5 548.5 418.1 547.1 416.7 545.9 415.1 544.9 413.5 544.0 411.7 543.3 409.9 542.8 407.9 542.5 405.7 542.4 402.8 M544.3 402.8 544.4 399.7 544.6 397.3 544.9 395.0 545.4 393.0 546.1 391.0 546.8 389.2 547.7 387.4 548.8 385.7 549.9 384.2 551.2 382.7 552.6 381.3 554.1 380.0 555.6 378.8 557.3 377.7 559.1 376.7 561.0 375.8 562.9 375.0 564.9 374.3 566.9 373.7 569.0 373.2 571.1 372.8 573.3 372.5 575.4 372.4 577.6 372.3 580.2 372.4 582.9 372.6 585.5 372.9 588.0 373.3 590.6 373.9 593.0 374.6 595.4 375.4 597.7 376.4 600.0 377.4 602.1 378.6 604.2 379.9 606.1 381.2 607.9 382.7 609.6 384.2 611.1 385.9 612.5 387.6 613.7 389.3 614.8 391.1 615.7 393.0 616.5 394.9 617.1 396.9 617.5 398.8 617.8 400.8 617.9 402.8 617.8 404.6 617.6 406.3 617.3 408.0 616.8 409.7 616.2 411.4 615.5 413.0 614.6 414.6 613.6 416.2 612.5 417.7 611.3 419.1 610.0 420.4 608.6 421.7 607.1 422.9 605.5 424.0 603.8 425.1 602.0 426.0 600.2 426.8 598.3 427.5 596.4 428.1 594.4 428.7 592.3 429.0 590.3 429.3 588.2 429.5 586.2 429.6 583.4 429.5 580.7 429.4 578.0 429.1 575.3 428.8 572.7 428.4 570.1 427.8 567.6 427.2 565.2 426.5 562.9 425.7 560.7 424.8 558.6 423.9 556.6 422.8 554.7 421.7 552.9 420.5 551.4 419.2 549.9 417.8 548.6 416.3 547.5 414.8 546.5 413.1 545.7 411.4 545.1 409.6 544.7 407.7 544.4 405.5 544.3 402.8 M545.7 402.8 545.8 400.1 546.0 398.0 546.3 396.0 546.8 394.1 547.4 392.3 548.2 390.7 549.0 389.1 550.0 387.6 551.1 386.1 552.4 384.8 553.7 383.5 555.2 382.3 556.7 381.2 558.3 380.2 560.1 379.3 561.8 378.4 563.7 377.7 565.6 377.0 567.6 376.5 569.6 376.0 571.7 375.7 573.8 375.4 575.9 375.3 578.0 375.2 580.5 375.3 582.9 375.5 585.3 375.8 587.7 376.2 590.1 376.7 592.4 377.3 594.6 378.1 596.8 378.9 598.9 379.9 600.9 380.9 602.8 382.1 604.6 383.3 606.3 384.6 607.8 386.0 609.2 387.5 610.5 389.0 611.7 390.6 612.7 392.3 613.6 393.9 614.3 395.7 614.9 397.4 615.3 399.2 615.5 401.0 615.6 402.8 615.5 404.4 615.3 406.1 615.0 407.7 614.6 409.3 614.0 410.9 613.3 412.4 612.5 413.9 611.6 415.3 610.6 416.7 609.5 418.1 608.3 419.3 607.0 420.5 605.6 421.6 604.1 422.7 602.5 423.6 600.9 424.5 599.2 425.3 597.4 426.0 595.6 426.5 593.8 427.0 591.9 427.4 590.0 427.6 588.1 427.8 586.1 427.9 583.5 427.8 580.9 427.7 578.3 427.5 575.7 427.1 573.1 426.7 570.7 426.2 568.3 425.6 565.9 425.0 563.7 424.2 561.5 423.4 559.5 422.4 557.5 421.4 555.7 420.4 554.1 419.2 552.5 418.0 551.1 416.7 549.9 415.3 548.8 413.8 547.8 412.3 547.1 410.7 546.5 409.0 546.0 407.2 545.8 405.2 545.7 402.8 M548.2 402.8 548.2 400.4 548.4 398.3 548.7 396.4 549.2 394.7 549.7 393.0 550.4 391.4 551.1 389.8 552.0 388.4 553.0 387.0 554.1 385.7 555.3 384.4 556.6 383.3 557.9 382.2 559.4 381.2 560.9 380.3 562.5 379.5 564.1 378.8 565.8 378.2 567.6 377.6 569.4 377.2 571.2 376.8 573.0 376.6 574.9 376.5 576.8 376.4 579.1 376.5 581.5 376.6 583.8 376.9 586.1 377.3 588.3 377.8 590.5 378.4 592.7 379.1 594.7 379.9 596.7 380.9 598.7 381.9 600.5 383.0 602.2 384.1 603.8 385.4 605.3 386.7 606.7 388.1 607.9 389.6 609.0 391.1 610.0 392.7 610.8 394.3 611.5 396.0 612.0 397.7 612.4 399.4 612.6 401.1 612.7 402.8 612.7 404.3 612.5 405.8 612.2 407.2 611.8 408.7 611.3 410.1 610.6 411.5 609.9 412.8 609.0 414.1 608.1 415.4 607.0 416.6 605.9 417.7 604.7 418.8 603.3 419.8 602.0 420.8 600.5 421.6 599.0 422.4 597.4 423.1 595.7 423.7 594.0 424.2 592.3 424.7 590.6 425.0 588.8 425.2 587.0 425.4 585.2 425.4 582.8 425.4 580.4 425.3 578.0 425.1 575.6 424.8 573.3 424.4 571.0 423.9 568.8 423.4 566.7 422.8 564.6 422.1 562.7 421.3 560.8 420.5 559.0 419.5 557.4 418.5 555.8 417.5 554.4 416.4 553.1 415.2 552.0 413.9 551.0 412.6 550.1 411.2 549.4 409.8 548.9 408.2 548.5 406.6 548.3 404.9 548.2 402.8 M549.0 402.8 549.1 400.7 549.3 398.8 549.6 397.1 550.0 395.5 550.5 394.0 551.1 392.5 551.9 391.1 552.7 389.8 553.7 388.5 554.8 387.3 555.9 386.1 557.2 385.0 558.5 384.0 559.9 383.1 561.4 382.3 562.9 381.5 564.5 380.9 566.2 380.3 567.9 379.8 569.6 379.4 571.4 379.0 573.2 378.8 575.0 378.7 576.8 378.6 579.0 378.7 581.1 378.8 583.2 379.1 585.3 379.5 587.3 379.9 589.3 380.5 591.3 381.1 593.2 381.9 595.0 382.7 596.7 383.6 598.4 384.6 600.0 385.7 601.4 386.9 602.8 388.1 604.0 389.4 605.1 390.7 606.2 392.1 607.0 393.6 607.8 395.0 608.4 396.5 608.9 398.1 609.3 399.6 609.5 401.2 609.5 402.8 609.5 404.2 609.3 405.5 609.0 406.8 608.6 408.2 608.2 409.4 607.6 410.7 606.8 411.9 606.0 413.1 605.1 414.3 604.2 415.4 603.1 416.4 601.9 417.4 600.7 418.3 599.4 419.2 598.0 420.0 596.5 420.7 595.0 421.3 593.5 421.9 591.9 422.4 590.3 422.8 588.6 423.1 586.9 423.3 585.2 423.4 583.5 423.5 581.3 423.4 579.0 423.3 576.8 423.1 574.6 422.8 572.4 422.5 570.3 422.1 568.3 421.6 566.3 421.0 564.4 420.3 562.5 419.6 560.8 418.8 559.1 418.0 557.6 417.1 556.1 416.1 554.8 415.1 553.6 414.0 552.6 412.8 551.6 411.6 550.8 410.3 550.2 409.0 549.7 407.6 549.3 406.2 549.1 404.6 549.0 402.8 M551.4 402.8 551.5 401.1 551.6 399.6 551.9 398.2 552.3 396.9 552.8 395.6 553.4 394.3 554.1 393.2 554.9 392.0 555.8 390.9 556.7 389.9 557.8 389.0 559.0 388.0 560.2 387.2 561.5 386.4 562.8 385.7 564.3 385.1 565.8 384.5 567.3 384.0 568.9 383.6 570.5 383.2 572.1 383.0 573.8 382.8 575.4 382.6 577.1 382.6 579.1 382.6 581.1 382.8 583.1 383.0 585.0 383.3 586.9 383.7 588.8 384.1 590.6 384.7 592.4 385.3 594.1 386.0 595.7 386.8 597.2 387.6 598.7 388.5 600.0 389.5 601.3 390.5 602.5 391.6 603.5 392.7 604.5 393.9 605.3 395.1 606.0 396.3 606.6 397.6 607.0 398.9 607.4 400.2 607.6 401.5 607.6 402.8 607.6 404.1 607.4 405.4 607.1 406.7 606.8 408.0 606.3 409.2 605.7 410.5 605.1 411.7 604.3 412.8 603.5 413.9 602.5 415.0 601.5 416.0 600.4 417.0 599.2 417.9 598.0 418.7 596.7 419.5 595.3 420.2 593.9 420.8 592.4 421.3 590.9 421.8 589.3 422.2 587.8 422.5 586.2 422.7 584.6 422.8 583.0 422.9 580.9 422.8 578.8 422.7 576.8 422.5 574.8 422.2 572.8 421.9 570.9 421.5 569.0 421.0 567.2 420.4 565.4 419.8 563.8 419.1 562.2 418.3 560.7 417.4 559.3 416.5 557.9 415.6 556.7 414.6 555.7 413.5 554.7 412.4 553.8 411.2 553.1 410.0 552.5 408.7 552.0 407.4 551.7 406.0 551.5 404.5 551.4 402.8 M552.8 402.8 552.8 401.2 553.0 399.8 553.2 398.5 553.6 397.2 554.1 396.0 554.6 394.8 555.3 393.6 556.1 392.5 556.9 391.5 557.9 390.5 558.9 389.5 560.0 388.7 561.2 387.8 562.4 387.1 563.8 386.4 565.1 385.7 566.6 385.2 568.0 384.7 569.5 384.3 571.1 383.9 572.7 383.6 574.3 383.5 575.9 383.3 577.5 383.3 579.3 383.3 581.1 383.5 582.9 383.7 584.7 384.0 586.4 384.3 588.1 384.8 589.7 385.3 591.3 385.9 592.9 386.6 594.3 387.3 595.7 388.1 597.1 389.0 598.3 389.9 599.4 390.9 600.5 392.0 601.5 393.1 602.3 394.2 603.1 395.3 603.7 396.5 604.2 397.8 604.6 399.0 604.9 400.3 605.1 401.5 605.2 402.8 605.1 404.0 605.0 405.2 604.7 406.4 604.4 407.5 604.0 408.7 603.5 409.8 602.9 410.9 602.2 412.0 601.4 413.0 600.6 414.0 599.6 414.9 598.6 415.8 597.6 416.6 596.4 417.3 595.3 418.0 594.0 418.7 592.7 419.2 591.4 419.7 590.0 420.2 588.6 420.5 587.2 420.8 585.8 421.0 584.3 421.1 582.9 421.1 580.9 421.1 578.9 421.0 577.0 420.8 575.1 420.5 573.2 420.2 571.3 419.8 569.5 419.4 567.8 418.8 566.1 418.2 564.5 417.6 563.0 416.9 561.6 416.1 560.2 415.3 559.0 414.4 557.8 413.4 556.8 412.5 555.9 411.4 555.1 410.3 554.4 409.2 553.8 408.0 553.3 406.8 553.0 405.6 552.8 404.3 552.8 402.8 M554.8 402.8 554.9 401.6 555.0 400.4 555.3 399.4 555.6 398.3 556.0 397.3 556.5 396.3 557.1 395.3 557.8 394.4 558.5 393.6 559.3 392.7 560.2 391.9 561.2 391.2 562.2 390.5 563.3 389.9 564.5 389.3 565.7 388.7 567.0 388.3 568.3 387.9 569.6 387.5 570.9 387.2 572.3 387.0 573.7 386.8 575.1 386.7 576.6 386.7 578.2 386.7 579.9 386.8 581.6 387.0 583.2 387.2 584.8 387.6 586.4 387.9 587.9 388.4 589.4 388.9 590.8 389.4 592.1 390.0 593.4 390.7 594.7 391.4 595.8 392.2 596.9 393.0 597.8 393.9 598.7 394.7 599.5 395.7 600.2 396.6 600.8 397.6 601.3 398.6 601.7 399.7 601.9 400.7 602.1 401.7 602.2 402.8 602.1 403.8 602.0 404.7 601.8 405.7 601.4 406.6 601.0 407.5 600.5 408.4 600.0 409.3 599.3 410.1 598.6 410.9 597.8 411.7 596.9 412.5 595.9 413.2 594.9 413.8 593.8 414.4 592.7 415.0 591.5 415.5 590.3 415.9 589.0 416.3 587.7 416.7 586.4 417.0 585.1 417.2 583.7 417.3 582.3 417.4 580.9 417.5 579.2 417.4 577.5 417.3 575.8 417.2 574.2 417.0 572.5 416.7 570.9 416.4 569.4 416.0 567.9 415.6 566.4 415.1 565.0 414.6 563.7 414.0 562.5 413.4 561.3 412.7 560.2 412.0 559.2 411.2 558.3 410.4 557.5 409.6 556.8 408.7 556.2 407.8 555.7 406.9 555.3 405.9 555.1 404.9 554.9 403.9 554.8 402.8 M556.8 402.8 556.9 401.7 557.0 400.6 557.2 399.5 557.5 398.5 557.9 397.5 558.3 396.6 558.8 395.6 559.4 394.7 560.1 393.9 560.8 393.0 561.6 392.3 562.5 391.5 563.4 390.8 564.4 390.2 565.4 389.6 566.5 389.1 567.6 388.6 568.7 388.2 569.9 387.9 571.1 387.6 572.4 387.3 573.6 387.2 574.9 387.1 576.1 387.1 577.7 387.1 579.2 387.2 580.7 387.4 582.2 387.6 583.7 387.9 585.1 388.3 586.5 388.7 587.9 389.2 589.2 389.7 590.4 390.3 591.6 391.0 592.7 391.7 593.8 392.4 594.8 393.2 595.7 394.1 596.5 394.9 597.2 395.8 597.8 396.8 598.4 397.7 598.8 398.7 599.2 399.7 599.4 400.7 599.6 401.8 599.6 402.8 599.6 403.7 599.5 404.7 599.2 405.6 599.0 406.5 598.6 407.4 598.1 408.2 597.6 409.1 597.0 409.9 596.3 410.7 595.6 411.5 594.8 412.2 593.9 412.9 593.0 413.5 592.0 414.1 591.0 414.6 589.9 415.1 588.8 415.6 587.6 415.9 586.4 416.3 585.2 416.5 584.0 416.8 582.7 416.9 581.5 417.0 580.2 417.0 578.7 417.0 577.1 416.9 575.6 416.8 574.1 416.6 572.7 416.3 571.2 416.0 569.9 415.6 568.5 415.2 567.2 414.7 566.0 414.2 564.8 413.6 563.7 413.0 562.6 412.3 561.7 411.6 560.8 410.9 560.0 410.1 559.2 409.3 558.6 408.4 558.1 407.6 557.6 406.7 557.3 405.8 557.0 404.8 556.9 403.8 556.8 402.8 M559.3 402.8 559.3 402.0 559.4 401.2 559.6 400.4 559.9 399.7 560.2 399.0 560.6 398.2 561.1 397.6 561.6 396.9 562.2 396.2 562.8 395.6 563.6 395.0 564.3 394.5 565.1 394.0 566.0 393.5 566.9 393.1 567.9 392.7 568.9 392.3 569.9 392.0 570.9 391.7 572.0 391.5 573.1 391.3 574.2 391.2 575.3 391.1 576.5 391.1 577.8 391.1 579.1 391.2 580.4 391.3 581.6 391.5 582.9 391.7 584.1 392.0 585.3 392.3 586.4 392.7 587.5 393.1 588.6 393.5 589.6 394.0 590.5 394.5 591.4 395.1 592.2 395.7 593.0 396.3 593.7 397.0 594.3 397.6 594.8 398.3 595.3 399.0 595.7 399.8 596.0 400.5 596.2 401.3 596.3 402.0 596.4 402.8 596.3 403.5 596.2 404.2 596.0 404.9 595.8 405.6 595.4 406.3 595.0 407.0 594.6 407.6 594.0 408.2 593.4 408.8 592.8 409.4 592.1 410.0 591.3 410.5 590.5 411.0 589.6 411.4 588.7 411.8 587.7 412.2 586.7 412.6 585.7 412.9 584.6 413.1 583.5 413.3 582.4 413.5 581.3 413.6 580.2 413.7 579.0 413.7 577.8 413.7 576.5 413.6 575.2 413.5 573.9 413.3 572.7 413.1 571.5 412.9 570.3 412.6 569.2 412.2 568.1 411.9 567.0 411.5 566.0 411.0 565.1 410.5 564.2 410.0 563.4 409.5 562.6 408.9 561.9 408.3 561.3 407.7 560.8 407.0 560.3 406.4 560.0 405.7 559.7 405.0 559.5 404.3 559.3 403.5 559.3 402.8 M561.4 402.8 561.4 402.2 561.5 401.6 561.7 401.0 561.9 400.4 562.2 399.8 562.5 399.2 562.9 398.6 563.3 398.1 563.8 397.6 564.4 397.1 565.0 396.6 565.6 396.1 566.3 395.7 567.1 395.3 567.8 395.0 568.6 394.6 569.5 394.3 570.3 394.1 571.2 393.9 572.1 393.7 573.1 393.6 574.0 393.5 574.9 393.4 575.9 393.4 577.1 393.4 578.2 393.5 579.4 393.6 580.6 393.7 581.7 393.9 582.8 394.1 583.9 394.3 584.9 394.6 585.9 395.0 586.8 395.3 587.8 395.7 588.6 396.1 589.4 396.6 590.2 397.1 590.9 397.6 591.5 398.1 592.0 398.6 592.5 399.2 592.9 399.8 593.3 400.4 593.5 401.0 593.7 401.6 593.8 402.2 593.9 402.8 593.9 403.4 593.7 403.9 593.6 404.4 593.3 405.0 593.0 405.5 592.7 406.0 592.2 406.5 591.7 407.0 591.2 407.5 590.6 407.9 589.9 408.4 589.2 408.8 588.4 409.2 587.6 409.5 586.7 409.8 585.8 410.1 584.9 410.4 584.0 410.6 583.0 410.8 582.0 411.0 580.9 411.1 579.9 411.2 578.9 411.2 577.8 411.3 576.7 411.2 575.7 411.2 574.6 411.1 573.6 411.0 572.5 410.8 571.5 410.6 570.5 410.4 569.6 410.1 568.7 409.8 567.8 409.5 567.0 409.2 566.2 408.8 565.5 408.4 564.8 407.9 564.2 407.5 563.6 407.0 563.1 406.5 562.6 406.0 562.3 405.5 562.0 405.0 561.7 404.4 561.5 403.9 561.4 403.4 561.4 402.8 M516.9 402.8 516.9 399.9 517.1 397.0 517.5 394.1 517.9 391.3 518.5 388.5 519.2 385.8 520.1 383.2 521.0 380.6 522.1 378.1 523.3 375.8 524.6 373.5 526.0 371.4 527.5 369.4 529.1 367.6 530.7 365.9 532.5 364.3 534.3 363.0 536.1 361.8 538.0 360.7 540.0 359.9 542.0 359.2 544.0 358.8 546.0 358.5 548.1 358.4 550.4 358.5 552.7 358.8 555.0 359.2 557.3 359.9 559.5 360.7 561.7 361.8 563.8 363.0 565.8 364.3 567.8 365.9 569.7 367.6 571.5 369.4 573.2 371.4 574.8 373.5 576.3 375.8 577.6 378.1 578.8 380.6 579.9 383.2 580.9 385.8 581.7 388.5 582.4 391.3 582.9 394.1 583.3 397.0 583.5 399.9 583.6 402.8 583.5 406.4 583.3 410.0 582.9 413.5 582.5 417.1 581.8 420.5 581.0 423.9 580.1 427.2 579.1 430.3 578.0 433.4 576.7 436.3 575.3 439.1 573.8 441.7 572.2 444.2 570.5 446.5 568.8 448.6 566.9 450.5 565.0 452.2 563.0 453.7 560.9 455.0 558.9 456.0 556.7 456.8 554.6 457.4 552.4 457.8 550.2 457.9 548.0 457.8 545.9 457.4 543.7 456.8 541.6 456.0 539.5 455.0 537.5 453.7 535.5 452.2 533.5 450.5 531.7 448.6 529.9 446.5 528.2 444.2 526.6 441.7 525.1 439.1 523.7 436.3 522.5 433.4 521.3 430.3 520.3 427.2 519.4 423.9 518.6 420.5 518.0 417.1 517.5 413.5 517.1 410.0 516.9 406.4 516.9 402.8 M515.2 402.8 515.3 400.0 515.5 397.3 515.8 394.5 516.3 391.8 516.9 389.2 517.7 386.6 518.6 384.1 519.6 381.6 520.7 379.3 522.0 377.0 523.3 374.9 524.8 372.8 526.4 370.9 528.0 369.2 529.8 367.6 531.6 366.1 533.5 364.8 535.4 363.6 537.4 362.7 539.5 361.9 541.6 361.2 543.7 360.8 545.8 360.5 548.0 360.4 550.4 360.5 552.8 360.8 555.2 361.2 557.5 361.9 559.9 362.7 562.1 363.6 564.3 364.8 566.5 366.1 568.5 367.6 570.5 369.2 572.4 370.9 574.1 372.8 575.8 374.9 577.3 377.0 578.7 379.3 580.0 381.6 581.2 384.1 582.2 386.6 583.0 389.2 583.7 391.8 584.3 394.5 584.7 397.3 584.9 400.0 585.0 402.8 584.9 406.0 584.7 409.2 584.3 412.4 583.8 415.5 583.1 418.5 582.3 421.5 581.4 424.5 580.3 427.3 579.1 430.0 577.8 432.6 576.3 435.1 574.8 437.4 573.1 439.6 571.3 441.7 569.5 443.5 567.5 445.2 565.5 446.7 563.4 448.1 561.3 449.2 559.1 450.1 556.9 450.8 554.6 451.4 552.4 451.7 550.1 451.8 547.8 451.7 545.5 451.4 543.3 450.8 541.1 450.1 538.9 449.2 536.7 448.1 534.7 446.7 532.6 445.2 530.7 443.5 528.8 441.7 527.1 439.6 525.4 437.4 523.9 435.1 522.4 432.6 521.1 430.0 519.9 427.3 518.8 424.5 517.8 421.5 517.0 418.5 516.4 415.5 515.9 412.4 515.5 409.2 515.3 406.0 515.2 402.8 M512.6 402.8 512.7 399.4 512.9 396.0 513.3 392.6 513.8 389.3 514.5 386.1 515.4 382.9 516.4 379.8 517.5 376.8 518.8 373.9 520.1 371.1 521.7 368.5 523.3 366.0 525.0 363.7 526.9 361.5 528.8 359.5 530.9 357.7 533.0 356.1 535.1 354.7 537.4 353.5 539.7 352.5 542.0 351.7 544.4 351.2 546.7 350.8 549.1 350.7 551.8 350.8 554.4 351.2 557.1 351.7 559.7 352.5 562.2 353.5 564.7 354.7 567.2 356.1 569.5 357.7 571.8 359.5 574.0 361.5 576.0 363.7 578.0 366.0 579.8 368.5 581.5 371.1 583.0 373.9 584.4 376.8 585.7 379.8 586.8 382.9 587.7 386.1 588.5 389.3 589.1 392.6 589.6 396.0 589.8 399.4 589.9 402.8 589.8 406.4 589.6 409.9 589.2 413.4 588.6 416.9 587.9 420.3 587.0 423.6 585.9 426.9 584.7 430.0 583.4 433.0 581.9 435.9 580.3 438.7 578.6 441.3 576.7 443.7 574.8 445.9 572.7 448.0 570.6 449.9 568.4 451.6 566.0 453.0 563.7 454.3 561.3 455.3 558.8 456.1 556.3 456.7 553.8 457.1 551.3 457.2 548.7 457.1 546.2 456.7 543.7 456.1 541.2 455.3 538.8 454.3 536.5 453.0 534.2 451.6 531.9 449.9 529.8 448.0 527.7 445.9 525.8 443.7 523.9 441.3 522.2 438.7 520.6 435.9 519.1 433.0 517.8 430.0 516.6 426.9 515.5 423.6 514.6 420.3 513.9 416.9 513.3 413.4 512.9 409.9 512.7 406.4 512.6 402.8 M517.7 402.8 517.8 399.5 518.0 396.1 518.4 392.8 518.9 389.6 519.6 386.4 520.3 383.3 521.3 380.2 522.3 377.3 523.5 374.5 524.9 371.7 526.3 369.2 527.8 366.7 529.5 364.4 531.2 362.3 533.1 360.4 535.0 358.6 537.0 357.0 539.0 355.7 541.1 354.5 543.3 353.5 545.5 352.8 547.7 352.2 550.0 351.9 552.2 351.8 554.8 351.9 557.3 352.2 559.8 352.8 562.3 353.5 564.7 354.5 567.1 355.7 569.4 357.0 571.6 358.6 573.8 360.4 575.9 362.3 577.8 364.4 579.7 366.7 581.4 369.2 583.0 371.7 584.5 374.5 585.8 377.3 587.0 380.2 588.1 383.3 589.0 386.4 589.7 389.6 590.3 392.8 590.7 396.1 590.9 399.5 591.0 402.8 590.9 406.4 590.7 410.1 590.3 413.7 589.8 417.2 589.1 420.7 588.2 424.2 587.2 427.5 586.1 430.7 584.8 433.8 583.5 436.8 581.9 439.6 580.3 442.3 578.5 444.7 576.7 447.1 574.7 449.2 572.7 451.1 570.6 452.8 568.4 454.3 566.2 455.6 563.9 456.7 561.5 457.5 559.2 458.1 556.8 458.5 554.4 458.6 552.0 458.5 549.6 458.1 547.2 457.5 544.9 456.7 542.6 455.6 540.3 454.3 538.2 452.8 536.0 451.1 534.0 449.2 532.1 447.1 530.2 444.7 528.5 442.3 526.8 439.6 525.3 436.8 523.9 433.8 522.6 430.7 521.5 427.5 520.5 424.2 519.7 420.7 519.0 417.2 518.4 413.7 518.0 410.1 517.8 406.4 517.7 402.8 M518.3 402.8 518.3 399.8 518.5 396.9 518.9 394.0 519.3 391.1 519.9 388.3 520.6 385.5 521.4 382.8 522.4 380.2 523.5 377.7 524.6 375.3 525.9 373.1 527.3 370.9 528.7 368.9 530.3 367.0 531.9 365.3 533.6 363.7 535.4 362.3 537.2 361.1 539.1 360.1 541.0 359.2 543.0 358.6 545.0 358.1 547.0 357.8 549.0 357.7 551.2 357.8 553.5 358.1 555.8 358.6 558.0 359.2 560.2 360.1 562.3 361.1 564.4 362.3 566.4 363.7 568.4 365.3 570.2 367.0 572.0 368.9 573.7 370.9 575.2 373.1 576.7 375.3 578.0 377.7 579.2 380.2 580.3 382.8 581.2 385.5 582.0 388.3 582.7 391.1 583.2 394.0 583.6 396.9 583.8 399.8 583.9 402.8 583.8 406.0 583.6 409.2 583.3 412.3 582.8 415.4 582.2 418.5 581.4 421.4 580.5 424.3 579.5 427.1 578.4 429.9 577.1 432.4 575.8 434.9 574.3 437.2 572.7 439.4 571.1 441.4 569.3 443.3 567.5 445.0 565.6 446.5 563.6 447.8 561.6 448.9 559.6 449.8 557.5 450.6 555.4 451.1 553.2 451.4 551.1 451.5 548.9 451.4 546.8 451.1 544.7 450.6 542.6 449.8 540.5 448.9 538.5 447.8 536.6 446.5 534.7 445.0 532.9 443.3 531.1 441.4 529.5 439.4 527.9 437.2 526.4 434.9 525.1 432.4 523.8 429.9 522.7 427.1 521.7 424.3 520.8 421.4 520.0 418.5 519.4 415.4 518.9 412.3 518.6 409.2 518.4 406.0 518.3 402.8 M515.2 402.8 515.3 399.8 515.5 396.9 515.8 393.9 516.3 391.0 517.0 388.2 517.8 385.4 518.7 382.7 519.7 380.1 520.9 377.6 522.2 375.1 523.6 372.9 525.1 370.7 526.7 368.6 528.5 366.8 530.3 365.0 532.1 363.5 534.1 362.1 536.1 360.8 538.2 359.8 540.3 358.9 542.5 358.2 544.7 357.8 546.9 357.5 549.1 357.4 551.6 357.5 554.1 357.8 556.6 358.2 559.0 358.9 561.4 359.8 563.7 360.8 566.0 362.1 568.2 363.5 570.3 365.0 572.3 366.8 574.3 368.6 576.1 370.7 577.8 372.9 579.4 375.1 580.9 377.6 582.2 380.1 583.3 382.7 584.4 385.4 585.3 388.2 586.0 391.0 586.6 393.9 587.0 396.9 587.2 399.8 587.3 402.8 587.2 406.4 587.0 410.0 586.6 413.5 586.1 417.0 585.4 420.5 584.5 423.8 583.6 427.1 582.5 430.3 581.2 433.3 579.8 436.2 578.3 439.0 576.7 441.6 575.0 444.1 573.2 446.4 571.3 448.5 569.3 450.4 567.2 452.1 565.0 453.5 562.8 454.8 560.6 455.8 558.3 456.7 555.9 457.2 553.6 457.6 551.2 457.7 548.9 457.6 546.5 457.2 544.2 456.7 541.9 455.8 539.6 454.8 537.4 453.5 535.3 452.1 533.2 450.4 531.2 448.5 529.3 446.4 527.5 444.1 525.7 441.6 524.1 439.0 522.6 436.2 521.3 433.3 520.0 430.3 518.9 427.1 517.9 423.8 517.1 420.5 516.4 417.0 515.9 413.5 515.5 410.0 515.3 406.4 515.2 402.8 M513.4 402.8 513.5 399.9 513.7 397.0 514.1 394.1 514.6 391.2 515.2 388.4 516.0 385.7 516.9 383.0 517.9 380.5 519.1 378.0 520.4 375.6 521.8 373.3 523.3 371.2 524.9 369.2 526.6 367.4 528.4 365.7 530.2 364.1 532.2 362.7 534.2 361.5 536.2 360.5 538.3 359.6 540.5 359.0 542.6 358.5 544.8 358.2 547.0 358.1 549.5 358.2 552.0 358.5 554.4 359.0 556.8 359.6 559.2 360.5 561.5 361.5 563.8 362.7 566.0 364.1 568.1 365.7 570.1 367.4 572.0 369.2 573.8 371.2 575.5 373.3 577.1 375.6 578.5 378.0 579.8 380.5 581.0 383.0 582.0 385.7 582.9 388.4 583.6 391.2 584.1 394.1 584.6 397.0 584.8 399.9 584.9 402.8 584.8 406.1 584.6 409.5 584.2 412.7 583.7 416.0 583.0 419.2 582.2 422.3 581.2 425.3 580.1 428.3 578.9 431.1 577.5 433.8 576.0 436.4 574.4 438.8 572.7 441.1 570.9 443.2 569.0 445.2 567.0 446.9 565.0 448.5 562.8 449.9 560.6 451.1 558.4 452.0 556.1 452.8 553.8 453.3 551.5 453.6 549.2 453.8 546.8 453.6 544.5 453.3 542.2 452.8 539.9 452.0 537.7 451.1 535.5 449.9 533.4 448.5 531.3 446.9 529.3 445.2 527.4 443.2 525.6 441.1 523.9 438.8 522.3 436.4 520.8 433.8 519.5 431.1 518.2 428.3 517.1 425.3 516.2 422.3 515.3 419.2 514.7 416.0 514.1 412.7 513.7 409.5 513.5 406.1 513.4 402.8 M515.2 402.8 515.3 399.8 515.5 396.7 515.9 393.7 516.4 390.8 517.1 387.9 517.8 385.0 518.8 382.3 519.8 379.6 521.0 377.0 522.3 374.6 523.7 372.2 525.3 370.0 526.9 367.9 528.6 366.0 530.4 364.2 532.3 362.6 534.3 361.2 536.4 359.9 538.5 358.9 540.6 358.0 542.8 357.3 545.0 356.8 547.2 356.5 549.5 356.4 552.0 356.5 554.5 356.8 557.0 357.3 559.4 358.0 561.8 358.9 564.2 359.9 566.5 361.2 568.7 362.6 570.8 364.2 572.9 366.0 574.8 367.9 576.7 370.0 578.4 372.2 580.0 374.6 581.5 377.0 582.8 379.6 584.0 382.3 585.0 385.0 585.9 387.9 586.6 390.8 587.2 393.7 587.6 396.7 587.9 399.8 587.9 402.8 587.9 405.9 587.6 409.1 587.2 412.2 586.7 415.2 586.0 418.2 585.2 421.2 584.2 424.1 583.1 426.8 581.8 429.5 580.4 432.0 578.9 434.5 577.3 436.8 575.6 438.9 573.7 440.9 571.8 442.8 569.8 444.4 567.7 445.9 565.5 447.2 563.3 448.3 561.0 449.2 558.7 449.9 556.3 450.4 554.0 450.7 551.6 450.8 549.2 450.7 546.8 450.4 544.5 449.9 542.2 449.2 539.9 448.3 537.7 447.2 535.5 445.9 533.4 444.4 531.4 442.8 529.5 440.9 527.6 438.9 525.9 436.8 524.3 434.5 522.7 432.0 521.4 429.5 520.1 426.8 519.0 424.1 518.0 421.2 517.2 418.2 516.5 415.2 515.9 412.2 515.5 409.1 515.3 405.9 515.2 402.8 M513.5 402.8 513.5 400.0 513.8 397.1 514.1 394.3 514.6 391.5 515.3 388.8 516.1 386.1 517.0 383.5 518.0 381.0 519.2 378.6 520.5 376.3 521.9 374.1 523.4 372.0 525.1 370.0 526.8 368.2 528.6 366.6 530.5 365.1 532.5 363.7 534.5 362.6 536.6 361.6 538.7 360.7 540.9 360.1 543.1 359.6 545.3 359.3 547.5 359.2 550.0 359.3 552.5 359.6 555.0 360.1 557.5 360.7 559.9 361.6 562.2 362.6 564.5 363.7 566.7 365.1 568.8 366.6 570.9 368.2 572.8 370.0 574.6 372.0 576.4 374.1 577.9 376.3 579.4 378.6 580.7 381.0 581.9 383.5 582.9 386.1 583.8 388.8 584.6 391.5 585.1 394.3 585.5 397.1 585.8 400.0 585.9 402.8 585.8 406.2 585.6 409.6 585.2 412.9 584.6 416.2 583.9 419.5 583.1 422.6 582.1 425.7 581.0 428.7 579.8 431.6 578.4 434.3 576.9 437.0 575.3 439.4 573.5 441.8 571.7 443.9 569.8 445.9 567.8 447.7 565.7 449.3 563.5 450.7 561.3 451.9 559.0 452.9 556.7 453.6 554.4 454.2 552.0 454.5 549.7 454.6 547.3 454.5 544.9 454.2 542.6 453.6 540.3 452.9 538.0 451.9 535.8 450.7 533.7 449.3 531.6 447.7 529.6 445.9 527.6 443.9 525.8 441.8 524.1 439.4 522.4 437.0 520.9 434.3 519.6 431.6 518.3 428.7 517.2 425.7 516.2 422.6 515.4 419.5 514.7 416.2 514.2 412.9 513.8 409.6 513.5 406.2 513.5 402.8 M511.6 402.8 511.7 399.6 512.0 396.4 512.3 393.3 512.9 390.2 513.6 387.1 514.4 384.2 515.4 381.3 516.6 378.4 517.8 375.7 519.2 373.1 520.7 370.7 522.4 368.4 524.1 366.2 526.0 364.2 527.9 362.3 530.0 360.6 532.1 359.1 534.3 357.8 536.5 356.7 538.8 355.7 541.1 355.0 543.5 354.5 545.9 354.2 548.3 354.1 550.9 354.2 553.6 354.5 556.2 355.0 558.9 355.7 561.4 356.7 563.9 357.8 566.4 359.1 568.7 360.6 571.0 362.3 573.2 364.2 575.2 366.2 577.2 368.4 579.0 370.7 580.7 373.1 582.3 375.7 583.7 378.4 584.9 381.3 586.0 384.2 587.0 387.1 587.8 390.2 588.4 393.3 588.8 396.4 589.1 399.6 589.2 402.8 589.1 405.9 588.8 409.0 588.4 412.1 587.8 415.1 587.1 418.1 586.2 421.0 585.2 423.8 584.0 426.6 582.6 429.2 581.1 431.7 579.5 434.1 577.8 436.4 576.0 438.5 574.0 440.5 571.9 442.3 569.8 444.0 567.5 445.4 565.2 446.7 562.9 447.8 560.4 448.7 558.0 449.4 555.5 449.9 552.9 450.2 550.4 450.3 547.9 450.2 545.3 449.9 542.8 449.4 540.4 448.7 537.9 447.8 535.6 446.7 533.3 445.4 531.0 444.0 528.9 442.3 526.8 440.5 524.8 438.5 523.0 436.4 521.3 434.1 519.7 431.7 518.2 429.2 516.8 426.6 515.6 423.8 514.6 421.0 513.7 418.1 513.0 415.1 512.4 412.1 512.0 409.0 511.7 405.9 511.6 402.8 M515.4 402.8 515.4 399.8 515.6 396.7 516.0 393.7 516.5 390.8 517.1 387.9 517.9 385.0 518.8 382.2 519.8 379.6 521.0 377.0 522.2 374.5 523.6 372.2 525.1 369.9 526.7 367.9 528.3 365.9 530.1 364.2 532.0 362.5 533.9 361.1 535.8 359.9 537.9 358.8 540.0 357.9 542.1 357.2 544.2 356.7 546.4 356.4 548.5 356.3 551.0 356.4 553.4 356.7 555.8 357.2 558.2 357.9 560.6 358.8 562.9 359.9 565.1 361.1 567.3 362.5 569.3 364.2 571.3 365.9 573.2 367.9 575.0 369.9 576.7 372.2 578.2 374.5 579.7 377.0 581.0 379.6 582.1 382.2 583.1 385.0 584.0 387.9 584.7 390.8 585.3 393.7 585.7 396.7 585.9 399.8 586.0 402.8 585.9 406.2 585.7 409.7 585.3 413.0 584.8 416.4 584.1 419.7 583.3 422.9 582.3 426.0 581.2 429.0 580.0 432.0 578.7 434.8 577.2 437.4 575.6 439.9 573.9 442.3 572.2 444.4 570.3 446.4 568.3 448.3 566.3 449.9 564.2 451.3 562.0 452.5 559.8 453.5 557.6 454.3 555.3 454.8 553.0 455.2 550.7 455.3 548.4 455.2 546.1 454.8 543.8 454.3 541.5 453.5 539.3 452.5 537.2 451.3 535.1 449.9 533.0 448.3 531.1 446.4 529.2 444.4 527.4 442.3 525.7 439.9 524.1 437.4 522.7 434.8 521.3 432.0 520.1 429.0 519.0 426.0 518.1 422.9 517.2 419.7 516.6 416.4 516.0 413.0 515.7 409.7 515.4 406.2 515.4 402.8 M516.5 402.8 516.6 399.6 516.8 396.3 517.2 393.1 517.7 390.0 518.4 386.9 519.2 383.9 520.1 380.9 521.2 378.0 522.4 375.3 523.7 372.7 525.2 370.2 526.8 367.8 528.4 365.6 530.2 363.5 532.0 361.6 534.0 359.9 536.0 358.4 538.1 357.1 540.2 355.9 542.4 355.0 544.6 354.2 546.9 353.7 549.2 353.4 551.4 353.3 554.0 353.4 556.6 353.7 559.1 354.2 561.6 355.0 564.0 355.9 566.4 357.1 568.8 358.4 571.0 359.9 573.2 361.6 575.3 363.5 577.3 365.6 579.1 367.8 580.9 370.2 582.5 372.7 584.0 375.3 585.4 378.0 586.6 380.9 587.6 383.9 588.5 386.9 589.3 390.0 589.9 393.1 590.3 396.3 590.5 399.6 590.6 402.8 590.5 406.0 590.3 409.1 589.9 412.2 589.4 415.3 588.7 418.3 587.8 421.3 586.8 424.2 585.7 427.0 584.4 429.6 583.0 432.2 581.4 434.7 579.8 437.0 578.0 439.1 576.1 441.1 574.2 443.0 572.1 444.6 570.0 446.1 567.8 447.4 565.5 448.5 563.2 449.5 560.8 450.2 558.4 450.7 556.0 451.0 553.6 451.1 551.2 451.0 548.7 450.7 546.3 450.2 544.0 449.5 541.7 448.5 539.4 447.4 537.2 446.1 535.1 444.6 533.0 443.0 531.0 441.1 529.1 439.1 527.4 437.0 525.7 434.7 524.2 432.2 522.8 429.6 521.5 427.0 520.3 424.2 519.3 421.3 518.5 418.3 517.8 415.3 517.2 412.2 516.8 409.1 516.6 406.0 516.5 402.8 M514.7 402.8 514.7 400.1 514.9 397.3 515.3 394.6 515.8 391.9 516.4 389.3 517.2 386.7 518.1 384.2 519.1 381.8 520.3 379.5 521.6 377.3 523.0 375.1 524.5 373.1 526.1 371.3 527.8 369.5 529.6 367.9 531.4 366.5 533.3 365.2 535.3 364.0 537.4 363.1 539.5 362.3 541.6 361.6 543.8 361.2 546.0 360.9 548.2 360.8 550.6 360.9 553.1 361.2 555.5 361.6 558.0 362.3 560.3 363.1 562.6 364.0 564.9 365.2 567.1 366.5 569.2 367.9 571.2 369.5 573.1 371.3 574.9 373.1 576.6 375.1 578.1 377.3 579.6 379.5 580.9 381.8 582.1 384.2 583.1 386.7 583.9 389.3 584.7 391.9 585.2 394.6 585.6 397.3 585.9 400.1 586.0 402.8 585.9 406.2 585.6 409.6 585.3 412.9 584.7 416.2 584.1 419.5 583.2 422.7 582.3 425.8 581.2 428.8 579.9 431.6 578.6 434.4 577.1 437.0 575.5 439.5 573.8 441.8 572.0 444.0 570.1 446.0 568.1 447.8 566.1 449.4 563.9 450.8 561.8 452.0 559.5 452.9 557.3 453.7 555.0 454.3 552.6 454.6 550.3 454.7 548.0 454.6 545.7 454.3 543.3 453.7 541.1 452.9 538.8 452.0 536.7 450.8 534.5 449.4 532.5 447.8 530.5 446.0 528.6 444.0 526.8 441.8 525.1 439.5 523.5 437.0 522.0 434.4 520.7 431.6 519.4 428.8 518.3 425.8 517.4 422.7 516.5 419.5 515.9 416.2 515.3 412.9 515.0 409.6 514.7 406.2 514.7 402.8 M514.0 402.8 514.1 399.8 514.4 396.9 514.7 394.0 515.3 391.1 516.0 388.3 516.8 385.5 517.8 382.8 518.9 380.2 520.1 377.7 521.5 375.3 523.0 373.0 524.6 370.9 526.3 368.8 528.2 367.0 530.1 365.2 532.1 363.7 534.2 362.3 536.3 361.1 538.5 360.0 540.8 359.2 543.1 358.5 545.4 358.0 547.8 357.7 550.1 357.6 552.8 357.7 555.4 358.0 558.0 358.5 560.6 359.2 563.1 360.0 565.6 361.1 568.0 362.3 570.3 363.7 572.6 365.2 574.7 367.0 576.7 368.8 578.7 370.9 580.5 373.0 582.1 375.3 583.7 377.7 585.1 380.2 586.3 382.8 587.4 385.5 588.3 388.3 589.1 391.1 589.7 394.0 590.1 396.9 590.4 399.8 590.5 402.8 590.4 406.4 590.2 410.0 589.7 413.5 589.2 417.0 588.5 420.4 587.6 423.8 586.5 427.1 585.4 430.2 584.0 433.3 582.6 436.2 581.0 439.0 579.3 441.6 577.5 444.1 575.5 446.3 573.5 448.4 571.4 450.3 569.2 452.0 566.9 453.5 564.5 454.8 562.2 455.8 559.7 456.6 557.3 457.2 554.8 457.6 552.3 457.7 549.8 457.6 547.3 457.2 544.8 456.6 542.4 455.8 540.0 454.8 537.6 453.5 535.4 452.0 533.2 450.3 531.0 448.4 529.0 446.3 527.1 444.1 525.2 441.6 523.5 439.0 521.9 436.2 520.5 433.3 519.2 430.2 518.0 427.1 517.0 423.8 516.1 420.4 515.3 417.0 514.8 413.5 514.4 410.0 514.1 406.4 514.0 402.8 M514.4 402.8 514.5 399.6 514.7 396.4 515.0 393.2 515.5 390.0 516.1 386.9 516.9 383.9 517.8 381.0 518.8 378.1 519.9 375.4 521.2 372.8 522.5 370.3 524.0 367.9 525.5 365.7 527.2 363.7 528.9 361.8 530.7 360.1 532.6 358.6 534.6 357.2 536.6 356.1 538.6 355.2 540.7 354.4 542.8 353.9 544.9 353.6 547.0 353.5 549.5 353.6 551.9 353.9 554.2 354.4 556.6 355.2 558.9 356.1 561.2 357.2 563.4 358.6 565.5 360.1 567.5 361.8 569.5 363.7 571.4 365.7 573.1 367.9 574.8 370.3 576.3 372.8 577.7 375.4 579.0 378.1 580.1 381.0 581.1 383.9 582.0 386.9 582.7 390.0 583.2 393.2 583.6 396.4 583.9 399.6 583.9 402.8 583.9 406.0 583.6 409.2 583.3 412.4 582.8 415.5 582.1 418.6 581.3 421.6 580.4 424.5 579.3 427.3 578.1 430.1 576.8 432.7 575.3 435.2 573.8 437.5 572.1 439.7 570.3 441.7 568.5 443.6 566.6 445.3 564.6 446.8 562.5 448.1 560.4 449.3 558.2 450.2 556.0 450.9 553.7 451.5 551.5 451.8 549.2 451.9 546.9 451.8 544.6 451.5 542.4 450.9 540.2 450.2 538.0 449.3 535.9 448.1 533.8 446.8 531.8 445.3 529.9 443.6 528.0 441.7 526.3 439.7 524.6 437.5 523.0 435.2 521.6 432.7 520.3 430.1 519.1 427.3 518.0 424.5 517.1 421.6 516.3 418.6 515.6 415.5 515.1 412.4 514.7 409.2 514.5 406.0 514.4 402.8 M514.6 402.8 514.7 400.1 514.9 397.3 515.2 394.6 515.7 392.0 516.3 389.3 517.1 386.8 517.9 384.3 518.9 381.9 520.0 379.5 521.3 377.3 522.6 375.2 524.1 373.2 525.6 371.3 527.3 369.6 529.0 368.0 530.8 366.5 532.7 365.2 534.6 364.1 536.6 363.1 538.6 362.4 540.7 361.7 542.8 361.3 544.9 361.0 547.0 360.9 549.4 361.0 551.8 361.3 554.2 361.7 556.5 362.4 558.8 363.1 561.1 364.1 563.2 365.2 565.4 366.5 567.4 368.0 569.3 369.6 571.2 371.3 573.0 373.2 574.6 375.2 576.1 377.3 577.5 379.5 578.8 381.9 579.9 384.3 580.9 386.8 581.8 389.3 582.5 392.0 583.0 394.6 583.4 397.3 583.6 400.1 583.7 402.8 583.6 406.4 583.4 410.1 583.0 413.7 582.5 417.2 581.9 420.7 581.1 424.2 580.1 427.5 579.1 430.7 577.9 433.8 576.6 436.8 575.1 439.6 573.6 442.3 571.9 444.8 570.2 447.1 568.3 449.2 566.4 451.1 564.4 452.9 562.4 454.4 560.3 455.6 558.1 456.7 555.9 457.5 553.7 458.1 551.4 458.5 549.1 458.6 546.9 458.5 544.6 458.1 542.4 457.5 540.2 456.7 538.0 455.6 535.9 454.4 533.9 452.9 531.9 451.1 529.9 449.2 528.1 447.1 526.4 444.8 524.7 442.3 523.2 439.6 521.7 436.8 520.4 433.8 519.2 430.7 518.1 427.5 517.2 424.2 516.4 420.7 515.8 417.2 515.2 413.7 514.9 410.1 514.7 406.4 514.6 402.8 M510.4 402.8 510.5 400.0 510.7 397.1 511.1 394.3 511.6 391.5 512.2 388.8 513.0 386.2 514.0 383.6 515.1 381.1 516.3 378.6 517.6 376.3 519.0 374.1 520.6 372.1 522.3 370.1 524.0 368.3 525.9 366.6 527.8 365.1 529.8 363.8 531.9 362.6 534.0 361.6 536.2 360.8 538.5 360.2 540.7 359.7 543.0 359.4 545.3 359.3 547.8 359.4 550.4 359.7 552.9 360.2 555.4 360.8 557.8 361.6 560.2 362.6 562.6 363.8 564.8 365.1 567.0 366.6 569.1 368.3 571.0 370.1 572.9 372.1 574.7 374.1 576.3 376.3 577.8 378.6 579.1 381.1 580.3 383.6 581.4 386.2 582.3 388.8 583.0 391.5 583.6 394.3 584.0 397.1 584.3 400.0 584.4 402.8 584.3 405.9 584.1 408.9 583.7 412.0 583.1 415.0 582.4 417.9 581.6 420.8 580.6 423.6 579.4 426.3 578.1 429.0 576.7 431.5 575.2 433.9 573.5 436.1 571.8 438.2 569.9 440.2 567.9 442.0 565.9 443.6 563.7 445.0 561.5 446.3 559.3 447.4 557.0 448.3 554.6 449.0 552.2 449.5 549.8 449.8 547.4 449.9 545.0 449.8 542.6 449.5 540.2 449.0 537.8 448.3 535.5 447.4 533.2 446.3 531.0 445.0 528.9 443.6 526.8 442.0 524.9 440.2 523.0 438.2 521.2 436.1 519.6 433.9 518.0 431.5 516.6 429.0 515.4 426.3 514.2 423.6 513.2 420.8 512.4 417.9 511.7 415.0 511.1 412.0 510.7 408.9 510.5 405.9 510.4 402.8 M517.1 402.8 517.1 399.6 517.4 396.5 517.7 393.3 518.3 390.2 518.9 387.2 519.7 384.2 520.7 381.3 521.8 378.5 523.0 375.8 524.3 373.2 525.8 370.7 527.3 368.4 529.0 366.2 530.8 364.2 532.7 362.4 534.6 360.7 536.6 359.2 538.7 357.9 540.9 356.8 543.1 355.8 545.3 355.1 547.6 354.6 549.9 354.3 552.2 354.2 554.8 354.3 557.3 354.6 559.9 355.1 562.4 355.8 564.8 356.8 567.3 357.9 569.6 359.2 571.9 360.7 574.1 362.4 576.2 364.2 578.2 366.2 580.0 368.4 581.8 370.7 583.4 373.2 584.9 375.8 586.3 378.5 587.5 381.3 588.6 384.2 589.5 387.2 590.2 390.2 590.8 393.3 591.2 396.5 591.5 399.6 591.6 402.8 591.5 406.1 591.3 409.4 590.9 412.6 590.3 415.8 589.6 419.0 588.7 422.0 587.7 425.0 586.6 427.9 585.3 430.7 583.9 433.4 582.3 435.9 580.7 438.3 578.9 440.6 577.0 442.7 575.0 444.6 572.9 446.3 570.8 447.9 568.6 449.2 566.3 450.4 564.0 451.3 561.6 452.1 559.2 452.6 556.8 452.9 554.3 453.1 551.9 452.9 549.5 452.6 547.0 452.1 544.7 451.3 542.3 450.4 540.1 449.2 537.8 447.9 535.7 446.3 533.6 444.6 531.6 442.7 529.8 440.6 528.0 438.3 526.3 435.9 524.8 433.4 523.3 430.7 522.0 427.9 520.9 425.0 519.9 422.0 519.0 419.0 518.3 415.8 517.8 412.6 517.4 409.4 517.1 406.1 517.1 402.8 M517.6 402.8 517.7 400.0 517.9 397.2 518.2 394.4 518.7 391.6 519.3 388.9 520.1 386.3 521.0 383.7 522.0 381.2 523.1 378.8 524.4 376.5 525.7 374.3 527.2 372.3 528.8 370.3 530.4 368.5 532.2 366.9 534.0 365.4 535.9 364.1 537.8 362.9 539.8 361.9 541.9 361.1 544.0 360.4 546.1 360.0 548.2 359.7 550.4 359.6 552.8 359.7 555.2 360.0 557.6 360.4 560.0 361.1 562.3 361.9 564.5 362.9 566.8 364.1 568.9 365.4 571.0 366.9 572.9 368.5 574.8 370.3 576.6 372.3 578.2 374.3 579.8 376.5 581.2 378.8 582.4 381.2 583.6 383.7 584.6 386.3 585.4 388.9 586.1 391.6 586.7 394.4 587.1 397.2 587.3 400.0 587.4 402.8 587.3 406.3 587.1 409.8 586.7 413.2 586.2 416.6 585.6 420.0 584.8 423.2 583.8 426.4 582.7 429.5 581.5 432.5 580.2 435.3 578.7 438.0 577.2 440.5 575.5 442.9 573.8 445.1 571.9 447.2 570.0 449.0 567.9 450.7 565.9 452.1 563.7 453.3 561.5 454.4 559.3 455.1 557.1 455.7 554.8 456.1 552.5 456.2 550.2 456.1 548.0 455.7 545.7 455.1 543.5 454.4 541.3 453.3 539.2 452.1 537.1 450.7 535.1 449.0 533.1 447.2 531.3 445.1 529.5 442.9 527.8 440.5 526.3 438.0 524.8 435.3 523.5 432.5 522.3 429.5 521.2 426.4 520.3 423.2 519.5 420.0 518.8 416.6 518.3 413.2 517.9 409.8 517.7 406.3 517.6 402.8 M513.1 402.8 513.2 399.8 513.4 396.9 513.7 394.0 514.3 391.1 514.9 388.3 515.7 385.5 516.6 382.8 517.7 380.2 518.8 377.7 520.1 375.3 521.5 373.0 523.1 370.9 524.7 368.9 526.4 367.0 528.2 365.3 530.1 363.7 532.1 362.3 534.1 361.1 536.2 360.1 538.3 359.2 540.5 358.5 542.7 358.0 544.9 357.8 547.1 357.7 549.6 357.8 552.1 358.0 554.6 358.5 557.0 359.2 559.4 360.1 561.8 361.1 564.0 362.3 566.3 363.7 568.4 365.3 570.4 367.0 572.4 368.9 574.2 370.9 575.9 373.0 577.5 375.3 578.9 377.7 580.3 380.2 581.4 382.8 582.5 385.5 583.4 388.3 584.1 391.1 584.7 394.0 585.1 396.9 585.3 399.8 585.4 402.8 585.3 406.1 585.1 409.3 584.7 412.6 584.2 415.8 583.5 418.9 582.6 422.0 581.7 425.0 580.6 427.9 579.3 430.7 577.9 433.3 576.4 435.9 574.8 438.3 573.1 440.5 571.3 442.6 569.3 444.5 567.3 446.2 565.2 447.8 563.1 449.1 560.9 450.3 558.6 451.2 556.3 452.0 554.0 452.5 551.6 452.8 549.2 452.9 546.9 452.8 544.5 452.5 542.2 452.0 539.9 451.2 537.6 450.3 535.4 449.1 533.3 447.8 531.2 446.2 529.2 444.5 527.2 442.6 525.4 440.5 523.7 438.3 522.1 435.9 520.6 433.3 519.2 430.7 517.9 427.9 516.8 425.0 515.8 422.0 515.0 418.9 514.3 415.8 513.8 412.6 513.4 409.3 513.2 406.1 513.1 402.8 M511.6 402.8 511.7 399.5 511.9 396.2 512.3 392.9 512.8 389.6 513.5 386.4 514.3 383.3 515.3 380.3 516.4 377.3 517.7 374.5 519.1 371.8 520.6 369.2 522.2 366.8 523.9 364.5 525.8 362.4 527.7 360.5 529.7 358.7 531.8 357.1 534.0 355.7 536.2 354.6 538.4 353.6 540.8 352.8 543.1 352.3 545.5 352.0 547.8 351.9 550.5 352.0 553.1 352.3 555.7 352.8 558.3 353.6 560.8 354.6 563.3 355.7 565.7 357.1 568.1 358.7 570.3 360.5 572.5 362.4 574.5 364.5 576.5 366.8 578.3 369.2 579.9 371.8 581.5 374.5 582.9 377.3 584.1 380.3 585.2 383.3 586.2 386.4 586.9 389.6 587.5 392.9 588.0 396.2 588.2 399.5 588.3 402.8 588.2 406.2 588.0 409.6 587.6 413.0 587.0 416.3 586.3 419.5 585.4 422.7 584.4 425.8 583.2 428.9 581.8 431.7 580.4 434.5 578.8 437.2 577.1 439.6 575.2 442.0 573.3 444.1 571.3 446.1 569.1 447.9 566.9 449.5 564.6 450.9 562.3 452.1 559.9 453.1 557.4 453.9 555.0 454.5 552.5 454.8 550.0 454.9 547.4 454.8 544.9 454.5 542.5 453.9 540.0 453.1 537.6 452.1 535.3 450.9 533.0 449.5 530.8 447.9 528.6 446.1 526.6 444.1 524.7 442.0 522.8 439.6 521.1 437.2 519.5 434.5 518.1 431.7 516.7 428.9 515.5 425.8 514.5 422.7 513.6 419.5 512.9 416.3 512.3 413.0 511.9 409.6 511.7 406.2 511.6 402.8 M510.1 402.8 510.2 400.1 510.4 397.3 510.8 394.6 511.4 391.9 512.1 389.3 513.0 386.7 514.0 384.2 515.1 381.8 516.4 379.5 517.8 377.2 519.4 375.1 521.0 373.1 522.8 371.2 524.7 369.5 526.7 367.9 528.8 366.5 530.9 365.2 533.1 364.0 535.4 363.1 537.7 362.3 540.1 361.6 542.5 361.2 545.0 360.9 547.4 360.8 550.1 360.9 552.8 361.2 555.5 361.6 558.1 362.3 560.7 363.1 563.3 364.0 565.8 365.2 568.2 366.5 570.5 367.9 572.7 369.5 574.8 371.2 576.8 373.1 578.6 375.1 580.3 377.2 581.9 379.5 583.4 381.8 584.6 384.2 585.8 386.7 586.7 389.3 587.5 391.9 588.1 394.6 588.6 397.3 588.8 400.1 588.9 402.8 588.8 406.1 588.6 409.5 588.2 412.8 587.6 416.0 586.8 419.2 585.9 422.4 584.9 425.4 583.6 428.4 582.3 431.2 580.8 433.9 579.1 436.5 577.4 439.0 575.5 441.2 573.5 443.4 571.4 445.3 569.2 447.1 566.9 448.7 564.6 450.0 562.2 451.2 559.7 452.2 557.2 453.0 554.7 453.5 552.1 453.8 549.5 453.9 546.9 453.8 544.4 453.5 541.8 453.0 539.3 452.2 536.9 451.2 534.4 450.0 532.1 448.7 529.8 447.1 527.6 445.3 525.5 443.4 523.5 441.2 521.7 439.0 519.9 436.5 518.3 433.9 516.8 431.2 515.4 428.4 514.2 425.4 513.1 422.4 512.2 419.2 511.5 416.0 510.9 412.8 510.5 409.5 510.2 406.1 510.1 402.8 M517.4 402.8 517.5 399.4 517.7 396.1 518.1 392.8 518.6 389.5 519.2 386.3 520.0 383.1 520.9 380.1 521.9 377.1 523.1 374.3 524.4 371.5 525.8 368.9 527.3 366.5 528.9 364.2 530.6 362.1 532.3 360.1 534.2 358.3 536.1 356.7 538.2 355.4 540.2 354.2 542.3 353.2 544.5 352.4 546.6 351.9 548.8 351.6 551.0 351.4 553.5 351.6 556.0 351.9 558.4 352.4 560.8 353.2 563.2 354.2 565.5 355.4 567.8 356.7 569.9 358.3 572.0 360.1 574.1 362.1 576.0 364.2 577.8 366.5 579.5 368.9 581.0 371.5 582.5 374.3 583.8 377.1 585.0 380.1 586.0 383.1 586.9 386.3 587.6 389.5 588.1 392.8 588.5 396.1 588.8 399.4 588.9 402.8 588.8 406.3 588.6 409.9 588.2 413.3 587.6 416.8 587.0 420.2 586.1 423.5 585.2 426.7 584.1 429.8 582.8 432.8 581.5 435.7 580.0 438.4 578.4 441.0 576.7 443.4 574.9 445.7 573.0 447.7 571.0 449.6 568.9 451.3 566.8 452.7 564.6 454.0 562.4 455.0 560.1 455.8 557.8 456.4 555.5 456.7 553.1 456.8 550.8 456.7 548.5 456.4 546.2 455.8 543.9 455.0 541.7 454.0 539.5 452.7 537.3 451.3 535.3 449.6 533.3 447.7 531.4 445.7 529.6 443.4 527.9 441.0 526.3 438.4 524.8 435.7 523.4 432.8 522.2 429.8 521.1 426.7 520.1 423.5 519.3 420.2 518.6 416.8 518.1 413.3 517.7 409.9 517.5 406.3 517.4 402.8 M512.4 402.8 512.4 399.8 512.7 396.7 513.0 393.7 513.5 390.8 514.2 387.8 514.9 385.0 515.9 382.2 516.9 379.5 518.1 377.0 519.4 374.5 520.8 372.1 522.3 369.9 523.9 367.8 525.6 365.9 527.4 364.1 529.3 362.5 531.2 361.1 533.3 359.8 535.3 358.7 537.4 357.9 539.6 357.2 541.8 356.7 544.0 356.4 546.2 356.3 548.7 356.4 551.2 356.7 553.6 357.2 556.1 357.9 558.5 358.7 560.8 359.8 563.1 361.1 565.3 362.5 567.4 364.1 569.4 365.9 571.3 367.8 573.2 369.9 574.9 372.1 576.4 374.5 577.9 377.0 579.2 379.5 580.4 382.2 581.4 385.0 582.3 387.8 583.0 390.8 583.6 393.7 584.0 396.7 584.2 399.8 584.3 402.8 584.2 406.3 584.0 409.8 583.6 413.2 583.1 416.6 582.4 419.9 581.6 423.2 580.6 426.4 579.5 429.4 578.3 432.4 576.9 435.2 575.4 437.9 573.8 440.5 572.1 442.8 570.2 445.1 568.3 447.1 566.3 448.9 564.3 450.6 562.1 452.0 559.9 453.2 557.7 454.2 555.4 455.0 553.0 455.6 550.7 455.9 548.3 456.1 546.0 455.9 543.6 455.6 541.3 455.0 539.0 454.2 536.8 453.2 534.6 452.0 532.4 450.6 530.4 448.9 528.4 447.1 526.4 445.1 524.6 442.8 522.9 440.5 521.3 437.9 519.8 435.2 518.4 432.4 517.2 429.4 516.1 426.4 515.1 423.2 514.3 419.9 513.6 416.6 513.1 413.2 512.7 409.8 512.4 406.3 512.4 402.8 M512.0 402.8 512.1 399.6 512.3 396.3 512.7 393.1 513.2 389.9 513.9 386.8 514.7 383.8 515.6 380.8 516.7 378.0 517.9 375.2 519.2 372.6 520.7 370.1 522.2 367.7 523.9 365.5 525.6 363.4 527.5 361.5 529.4 359.8 531.4 358.3 533.5 356.9 535.6 355.8 537.8 354.8 540.0 354.1 542.3 353.6 544.6 353.2 546.8 353.1 549.4 353.2 551.9 353.6 554.5 354.1 557.0 354.8 559.4 355.8 561.8 356.9 564.1 358.3 566.4 359.8 568.5 361.5 570.6 363.4 572.6 365.5 574.5 367.7 576.2 370.1 577.8 372.6 579.3 375.2 580.7 378.0 581.9 380.8 582.9 383.8 583.8 386.8 584.6 389.9 585.2 393.1 585.6 396.3 585.8 399.6 585.9 402.8 585.8 406.1 585.6 409.3 585.2 412.5 584.7 415.7 584.0 418.8 583.1 421.8 582.1 424.8 581.0 427.7 579.7 430.4 578.3 433.1 576.7 435.6 575.1 438.0 573.3 440.2 571.5 442.3 569.5 444.2 567.4 445.9 565.3 447.4 563.1 448.8 560.8 449.9 558.5 450.9 556.2 451.6 553.8 452.1 551.4 452.4 549.0 452.6 546.5 452.4 544.1 452.1 541.8 451.6 539.4 450.9 537.1 449.9 534.8 448.8 532.6 447.4 530.5 445.9 528.4 444.2 526.5 442.3 524.6 440.2 522.8 438.0 521.2 435.6 519.6 433.1 518.2 430.4 517.0 427.7 515.8 424.8 514.8 421.8 514.0 418.8 513.3 415.7 512.7 412.5 512.3 409.3 512.1 406.1 512.0 402.8 M515.2 402.8 515.2 399.4 515.4 396.1 515.8 392.7 516.3 389.5 517.0 386.2 517.8 383.1 518.7 380.0 519.7 377.0 520.9 374.1 522.2 371.4 523.6 368.8 525.2 366.3 526.8 364.0 528.5 361.9 530.3 359.9 532.2 358.1 534.2 356.5 536.2 355.2 538.3 354.0 540.5 353.0 542.7 352.2 544.9 351.7 547.1 351.3 549.3 351.2 551.8 351.3 554.3 351.7 556.8 352.2 559.3 353.0 561.7 354.0 564.0 355.2 566.3 356.5 568.5 358.1 570.7 359.9 572.7 361.9 574.7 364.0 576.5 366.3 578.2 368.8 579.8 371.4 581.3 374.1 582.6 377.0 583.8 380.0 584.8 383.1 585.7 386.2 586.4 389.5 587.0 392.7 587.4 396.1 587.7 399.4 587.7 402.8 587.7 405.8 587.4 408.9 587.0 411.8 586.5 414.8 585.8 417.7 585.0 420.5 584.0 423.3 582.9 426.0 581.6 428.6 580.2 431.0 578.7 433.4 577.1 435.6 575.4 437.7 573.5 439.6 571.6 441.3 569.6 442.9 567.5 444.4 565.3 445.6 563.1 446.7 560.8 447.6 558.5 448.3 556.2 448.8 553.8 449.1 551.4 449.2 549.1 449.1 546.7 448.8 544.4 448.3 542.1 447.6 539.8 446.7 537.6 445.6 535.4 444.4 533.3 442.9 531.3 441.3 529.4 439.6 527.5 437.7 525.8 435.6 524.2 433.4 522.7 431.0 521.3 428.6 520.0 426.0 518.9 423.3 517.9 420.5 517.1 417.7 516.4 414.8 515.9 411.8 515.5 408.9 515.2 405.8 515.2 402.8 M433.8 402.8 433.9 399.3 434.3 395.9 434.8 392.5 435.6 389.1 436.6 385.8 437.8 382.6 439.2 379.4 440.7 376.4 442.5 373.5 444.5 370.6 446.6 368.0 448.9 365.5 451.4 363.1 454.0 360.9 456.8 358.9 459.6 357.1 462.6 355.4 465.7 354.0 468.8 352.8 472.1 351.8 475.3 351.0 478.7 350.4 482.0 350.1 485.4 350.0 489.3 350.0 493.2 350.2 497.1 350.4 500.9 350.8 504.7 351.3 508.4 351.8 512.0 352.5 515.4 353.3 518.8 354.2 521.9 355.2 525.0 356.3 527.8 357.6 530.5 359.0 533.0 360.6 535.3 362.3 537.4 364.1 539.2 366.2 540.9 368.5 542.2 371.1 543.4 374.1 544.3 377.5 544.9 381.7 545.3 387.3 545.4 402.8 545.3 406.5 545.1 410.2 544.7 413.9 544.1 417.5 543.4 421.1 542.5 424.6 541.5 428.0 540.3 431.2 539.0 434.4 537.5 437.4 535.9 440.3 534.2 443.0 532.4 445.6 530.5 447.9 528.4 450.1 526.3 452.1 524.1 453.8 521.8 455.4 519.5 456.7 517.1 457.8 514.6 458.6 512.2 459.2 509.7 459.6 507.2 459.7 502.4 459.6 497.6 459.2 492.9 458.6 488.2 457.8 483.6 456.7 479.1 455.4 474.7 453.8 470.5 452.1 466.4 450.1 462.5 447.9 458.8 445.6 455.3 443.0 452.0 440.3 449.0 437.4 446.2 434.4 443.7 431.2 441.4 428.0 439.4 424.6 437.7 421.1 436.3 417.5 435.2 413.9 434.5 410.2 434.0 406.5 433.8 402.8 M434.8 402.8 434.9 399.5 435.3 396.3 435.8 393.0 436.6 389.8 437.5 386.7 438.7 383.6 440.1 380.7 441.6 377.8 443.4 375.0 445.3 372.3 447.4 369.8 449.7 367.4 452.1 365.2 454.7 363.1 457.4 361.2 460.2 359.5 463.2 357.9 466.2 356.6 469.3 355.4 472.5 354.5 475.7 353.7 479.0 353.2 482.3 352.9 485.6 352.8 489.6 352.8 493.5 352.9 497.3 353.2 501.1 353.5 504.9 354.0 508.6 354.5 512.1 355.2 515.6 355.9 518.9 356.8 522.1 357.7 525.1 358.8 528.0 360.0 530.7 361.3 533.2 362.8 535.5 364.4 537.5 366.2 539.4 368.2 541.0 370.4 542.4 372.8 543.5 375.6 544.4 378.9 545.0 382.9 545.4 388.2 545.6 402.8 545.5 406.6 545.2 410.4 544.8 414.1 544.3 417.8 543.6 421.4 542.7 425.0 541.7 428.4 540.6 431.8 539.3 435.0 537.9 438.1 536.4 441.0 534.7 443.8 532.9 446.3 531.1 448.8 529.1 451.0 527.0 453.0 524.9 454.7 522.7 456.3 520.4 457.6 518.1 458.7 515.7 459.6 513.3 460.2 510.9 460.6 508.5 460.7 503.7 460.6 498.9 460.2 494.1 459.6 489.4 458.7 484.8 457.6 480.3 456.3 475.9 454.7 471.7 453.0 467.6 451.0 463.6 448.7 459.9 446.3 456.4 443.8 453.1 441.0 450.0 438.1 447.2 435.0 444.7 431.8 442.4 428.4 440.4 425.0 438.7 421.4 437.3 417.8 436.2 414.1 435.4 410.4 435.0 406.6 434.8 402.8 M435.7 402.8 435.8 399.3 436.2 395.8 436.7 392.3 437.4 388.9 438.4 385.5 439.5 382.2 440.9 379.0 442.4 375.9 444.2 372.9 446.1 370.0 448.1 367.3 450.4 364.7 452.8 362.3 455.3 360.0 458.0 358.0 460.7 356.1 463.6 354.5 466.6 353.0 469.7 351.8 472.8 350.7 476.0 349.9 479.2 349.4 482.5 349.0 485.7 348.9 489.7 349.0 493.7 349.1 497.6 349.4 501.5 349.8 505.3 350.2 509.0 350.8 512.7 351.5 516.2 352.3 519.6 353.3 522.8 354.3 525.9 355.5 528.8 356.8 531.5 358.2 534.0 359.8 536.4 361.6 538.5 363.5 540.3 365.7 542.0 368.0 543.4 370.7 544.5 373.7 545.4 377.2 546.1 381.5 546.5 387.3 546.6 402.8 546.5 406.4 546.3 410.1 545.9 413.6 545.3 417.2 544.6 420.6 543.7 424.0 542.6 427.3 541.4 430.5 540.1 433.6 538.6 436.6 537.0 439.4 535.3 442.0 533.4 444.5 531.4 446.8 529.4 448.9 527.2 450.8 525.0 452.6 522.7 454.1 520.3 455.3 517.9 456.4 515.4 457.2 512.9 457.8 510.4 458.2 507.8 458.3 503.1 458.2 498.4 457.8 493.8 457.2 489.2 456.4 484.6 455.3 480.2 454.0 475.9 452.5 471.8 450.8 467.8 448.9 463.9 446.8 460.3 444.5 456.8 442.0 453.6 439.4 450.6 436.6 447.9 433.6 445.4 430.5 443.2 427.3 441.2 424.0 439.6 420.6 438.2 417.2 437.1 413.6 436.3 410.0 435.9 406.4 435.7 402.8 M435.8 402.8 435.9 399.5 436.2 396.2 436.7 392.9 437.5 389.7 438.4 386.5 439.5 383.4 440.8 380.3 442.3 377.4 443.9 374.6 445.8 371.9 447.8 369.3 449.9 366.9 452.2 364.6 454.7 362.5 457.2 360.6 459.9 358.8 462.7 357.3 465.6 355.9 468.5 354.7 471.5 353.8 474.6 353.0 477.7 352.5 480.9 352.1 484.0 352.0 488.1 352.1 492.1 352.2 496.1 352.5 500.1 352.8 504.0 353.3 507.8 353.9 511.5 354.5 515.0 355.3 518.5 356.2 521.8 357.2 524.9 358.3 527.9 359.5 530.7 360.9 533.2 362.4 535.6 364.1 537.8 366.0 539.7 368.0 541.3 370.2 542.8 372.8 544.0 375.6 544.9 379.0 545.5 383.0 545.9 388.4 546.1 402.8 546.0 406.6 545.8 410.4 545.4 414.1 544.8 417.8 544.1 421.4 543.2 425.0 542.2 428.4 541.1 431.8 539.8 435.0 538.4 438.0 536.8 441.0 535.1 443.7 533.4 446.3 531.5 448.7 529.5 450.9 527.4 452.9 525.3 454.7 523.0 456.3 520.8 457.6 518.4 458.7 516.0 459.6 513.6 460.2 511.2 460.5 508.8 460.7 504.0 460.5 499.2 460.2 494.5 459.5 489.9 458.7 485.3 457.6 480.8 456.2 476.5 454.7 472.3 452.9 468.2 450.9 464.4 448.7 460.7 446.3 457.2 443.7 453.9 440.9 450.9 438.0 448.1 434.9 445.6 431.7 443.3 428.4 441.4 424.9 439.7 421.4 438.3 417.8 437.2 414.1 436.4 410.3 436.0 406.6 435.8 402.8 M436.3 402.8 436.4 399.7 436.7 396.5 437.2 393.4 438.0 390.3 438.9 387.3 440.0 384.4 441.3 381.5 442.9 378.7 444.5 376.1 446.4 373.5 448.4 371.1 450.6 368.8 453.0 366.6 455.4 364.6 458.1 362.8 460.8 361.1 463.6 359.6 466.5 358.3 469.5 357.2 472.6 356.3 475.7 355.6 478.9 355.1 482.0 354.8 485.2 354.7 489.2 354.7 493.0 354.9 496.9 355.1 500.7 355.5 504.4 355.9 508.1 356.4 511.7 357.1 515.1 357.8 518.4 358.7 521.6 359.6 524.6 360.7 527.5 361.9 530.1 363.2 532.6 364.7 534.9 366.3 537.0 368.0 538.8 370.0 540.4 372.1 541.8 374.6 542.9 377.3 543.8 380.5 544.5 384.3 544.8 389.4 545.0 402.9 544.9 406.7 544.7 410.5 544.3 414.3 543.7 418.0 543.0 421.7 542.2 425.2 541.2 428.7 540.1 432.1 538.8 435.4 537.4 438.5 535.9 441.4 534.2 444.2 532.5 446.8 530.6 449.3 528.7 451.5 526.6 453.5 524.5 455.3 522.3 456.9 520.1 458.2 517.8 459.3 515.4 460.2 513.1 460.8 510.7 461.2 508.3 461.3 503.6 461.2 498.9 460.8 494.2 460.2 489.6 459.3 485.1 458.2 480.7 456.9 476.4 455.3 472.3 453.5 468.3 451.5 464.5 449.2 460.8 446.8 457.4 444.2 454.2 441.4 451.2 438.4 448.4 435.3 445.9 432.1 443.7 428.7 441.8 425.2 440.1 421.6 438.8 417.9 437.7 414.2 436.9 410.4 436.5 406.6 436.3 402.8 M436.7 402.8 436.8 399.5 437.1 396.2 437.6 393.0 438.2 389.8 439.1 386.7 440.2 383.6 441.4 380.6 442.9 377.7 444.5 374.9 446.2 372.2 448.2 369.7 450.2 367.3 452.5 365.1 454.8 363.0 457.3 361.1 459.8 359.3 462.5 357.8 465.3 356.4 468.1 355.3 471.0 354.3 474.0 353.6 477.0 353.1 480.0 352.7 483.0 352.6 487.1 352.7 491.2 352.8 495.3 353.1 499.3 353.5 503.3 353.9 507.1 354.5 510.9 355.2 514.5 356.0 518.0 356.9 521.4 357.9 524.5 359.0 527.6 360.3 530.4 361.7 533.0 363.2 535.4 364.9 537.6 366.8 539.5 368.8 541.2 371.1 542.7 373.6 543.9 376.5 544.8 379.8 545.5 383.8 545.9 389.2 546.0 402.9 545.9 406.7 545.7 410.4 545.3 414.1 544.7 417.7 543.9 421.3 543.0 424.8 542.0 428.2 540.8 431.5 539.4 434.7 538.0 437.8 536.3 440.7 534.6 443.4 532.7 446.0 530.8 448.3 528.7 450.5 526.5 452.5 524.3 454.3 522.0 455.8 519.6 457.1 517.1 458.2 514.6 459.1 512.1 459.7 509.6 460.0 507.0 460.2 502.4 460.0 497.9 459.7 493.3 459.0 488.8 458.2 484.4 457.1 480.1 455.8 475.9 454.2 471.9 452.5 467.9 450.5 464.2 448.3 460.6 445.9 457.3 443.3 454.1 440.6 451.2 437.7 448.5 434.6 446.1 431.5 443.9 428.1 442.0 424.7 440.4 421.2 439.1 417.6 438.0 414.0 437.3 410.3 436.8 406.5 436.7 402.8 M436.9 402.8 437.0 399.7 437.3 396.7 437.8 393.6 438.5 390.7 439.4 387.7 440.4 384.9 441.7 382.1 443.1 379.4 444.7 376.7 446.4 374.3 448.3 371.9 450.3 369.6 452.5 367.6 454.8 365.6 457.3 363.8 459.8 362.2 462.5 360.8 465.2 359.5 468.0 358.4 470.9 357.5 473.8 356.8 476.7 356.3 479.7 356.1 482.7 356.0 486.8 356.0 490.9 356.2 494.9 356.4 498.9 356.8 502.8 357.2 506.7 357.8 510.4 358.4 514.0 359.2 517.5 360.0 520.8 361.0 524.0 362.1 527.0 363.3 529.8 364.6 532.4 366.0 534.8 367.6 536.9 369.4 538.9 371.3 540.5 373.5 542.0 375.8 543.2 378.5 544.1 381.7 544.8 385.4 545.2 390.4 545.3 403.0 545.2 406.5 545.0 410.0 544.6 413.5 544.0 416.9 543.3 420.3 542.4 423.6 541.3 426.8 540.1 429.9 538.8 432.9 537.3 435.7 535.7 438.5 534.0 441.0 532.2 443.4 530.2 445.7 528.2 447.7 526.0 449.6 523.8 451.2 521.5 452.7 519.2 453.9 516.8 455.0 514.3 455.8 511.8 456.3 509.3 456.7 506.8 456.8 502.2 456.7 497.7 456.3 493.2 455.7 488.7 454.9 484.3 453.9 480.1 452.6 475.9 451.2 471.9 449.5 468.0 447.6 464.3 445.6 460.7 443.3 457.4 440.9 454.3 438.4 451.4 435.6 448.7 432.8 446.3 429.8 444.1 426.6 442.3 423.4 440.6 420.1 439.3 416.7 438.3 413.3 437.5 409.8 437.1 406.3 436.9 402.8 M436.9 402.8 437.0 399.7 437.3 396.7 437.7 393.7 438.4 390.7 439.3 387.8 440.3 384.9 441.6 382.1 443.0 379.5 444.6 376.9 446.3 374.4 448.2 372.0 450.3 369.8 452.5 367.7 454.8 365.8 457.2 364.0 459.8 362.4 462.4 361.0 465.1 359.7 468.0 358.6 470.8 357.7 473.7 357.1 476.7 356.6 479.7 356.3 482.7 356.2 486.6 356.2 490.6 356.4 494.5 356.6 498.4 357.0 502.2 357.5 505.9 358.0 509.5 358.7 513.0 359.4 516.4 360.3 519.6 361.3 522.7 362.4 525.6 363.6 528.3 364.9 530.8 366.4 533.1 368.0 535.2 369.8 537.1 371.7 538.7 373.9 540.1 376.3 541.3 379.0 542.2 382.1 542.8 385.9 543.2 390.8 543.4 403.0 543.3 406.6 543.0 410.1 542.6 413.6 542.0 417.1 541.3 420.5 540.4 423.8 539.4 427.0 538.2 430.2 536.9 433.2 535.4 436.1 533.8 438.8 532.1 441.4 530.3 443.8 528.3 446.1 526.3 448.1 524.2 450.0 522.0 451.7 519.7 453.1 517.3 454.4 514.9 455.4 512.5 456.2 510.0 456.8 507.5 457.1 505.0 457.2 500.5 457.1 496.1 456.8 491.7 456.2 487.4 455.3 483.1 454.3 478.9 453.0 474.9 451.6 470.9 449.9 467.1 448.0 463.5 445.9 460.1 443.7 456.8 441.2 453.8 438.6 450.9 435.9 448.3 433.0 446.0 430.0 443.9 426.8 442.0 423.6 440.5 420.3 439.2 416.9 438.2 413.4 437.4 409.9 437.0 406.4 436.9 402.8 M437.0 402.8 437.1 399.5 437.4 396.2 437.9 392.9 438.6 389.6 439.5 386.5 440.5 383.3 441.8 380.3 443.2 377.4 444.7 374.6 446.5 371.9 448.4 369.3 450.4 366.9 452.6 364.6 454.9 362.5 457.4 360.6 459.9 358.8 462.6 357.3 465.3 355.9 468.1 354.7 470.9 353.8 473.9 353.0 476.8 352.5 479.8 352.2 482.8 352.1 486.7 352.1 490.5 352.3 494.4 352.6 498.1 353.0 501.9 353.5 505.5 354.1 509.0 354.8 512.5 355.7 515.8 356.7 518.9 357.7 521.9 359.0 524.7 360.3 527.4 361.8 529.9 363.4 532.1 365.2 534.2 367.1 536.0 369.3 537.6 371.7 539.0 374.3 540.1 377.3 541.0 380.7 541.6 384.8 542.0 390.1 542.1 403.1 542.0 406.5 541.8 409.9 541.4 413.2 540.9 416.5 540.1 419.8 539.3 423.0 538.3 426.1 537.1 429.1 535.9 431.9 534.4 434.7 532.9 437.3 531.2 439.8 529.4 442.1 527.6 444.3 525.6 446.3 523.5 448.0 521.4 449.6 519.2 451.0 516.9 452.2 514.5 453.2 512.2 454.0 509.8 454.5 507.3 454.8 504.9 455.0 500.5 454.8 496.0 454.5 491.7 453.9 487.3 453.1 483.1 452.1 478.9 450.9 474.9 449.5 471.0 447.9 467.2 446.1 463.6 444.1 460.2 441.9 456.9 439.6 453.9 437.1 451.1 434.5 448.5 431.7 446.1 428.8 444.0 425.8 442.2 422.7 440.6 419.5 439.3 416.3 438.3 412.9 437.6 409.6 437.2 406.2 437.0 402.8 M436.8 402.8 436.9 399.6 437.2 396.5 437.7 393.4 438.4 390.3 439.2 387.2 440.3 384.3 441.5 381.4 442.9 378.6 444.4 375.9 446.1 373.3 448.0 370.9 450.0 368.6 452.1 366.4 454.4 364.4 456.8 362.6 459.3 360.9 461.9 359.4 464.6 358.1 467.3 357.0 470.2 356.1 473.0 355.4 475.9 354.9 478.9 354.6 481.8 354.5 485.8 354.6 489.8 354.8 493.7 355.0 497.6 355.4 501.4 355.9 505.1 356.5 508.8 357.2 512.3 358.1 515.7 359.0 518.9 360.1 522.0 361.2 524.9 362.5 527.6 364.0 530.1 365.6 532.5 367.3 534.6 369.2 536.5 371.2 538.1 373.5 539.5 376.1 540.7 378.9 541.6 382.2 542.2 386.1 542.6 391.2 542.7 403.2 542.7 406.8 542.4 410.4 542.0 413.9 541.5 417.5 540.8 420.9 539.9 424.3 538.9 427.6 537.8 430.7 536.5 433.8 535.0 436.7 533.5 439.5 531.8 442.1 530.1 444.6 528.2 446.9 526.2 449.0 524.1 450.9 522.0 452.5 519.7 454.0 517.5 455.3 515.1 456.3 512.8 457.1 510.4 457.7 507.9 458.1 505.5 458.2 501.0 458.0 496.5 457.7 492.1 457.1 487.7 456.2 483.4 455.2 479.2 453.9 475.1 452.4 471.2 450.7 467.3 448.7 463.7 446.6 460.2 444.3 456.9 441.8 453.9 439.2 451.0 436.4 448.4 433.5 446.0 430.4 443.9 427.2 442.1 423.9 440.5 420.5 439.2 417.1 438.2 413.6 437.4 410.0 437.0 406.4 436.8 402.8 M437.7 402.8 437.8 399.9 438.1 397.0 438.6 394.1 439.3 391.2 440.1 388.4 441.2 385.7 442.4 383.0 443.8 380.5 445.4 378.0 447.1 375.6 449.0 373.4 451.1 371.2 453.2 369.2 455.5 367.4 458.0 365.7 460.5 364.2 463.1 362.8 465.8 361.6 468.6 360.6 471.5 359.8 474.4 359.1 477.3 358.6 480.3 358.4 483.3 358.3 487.1 358.4 490.9 358.5 494.7 358.8 498.4 359.2 502.1 359.6 505.6 360.2 509.1 360.9 512.5 361.7 515.8 362.5 518.9 363.5 521.8 364.7 524.6 365.9 527.2 367.2 529.6 368.7 531.9 370.3 533.9 372.1 535.7 374.0 537.3 376.2 538.6 378.5 539.7 381.2 540.6 384.2 541.2 387.8 541.6 392.5 541.7 403.3 541.6 406.7 541.4 410.0 541.0 413.4 540.5 416.6 539.8 419.9 539.0 423.0 538.0 426.1 536.9 429.1 535.7 431.9 534.3 434.7 532.9 437.3 531.3 439.7 529.5 442.0 527.7 444.2 525.8 446.1 523.9 447.9 521.8 449.5 519.7 450.9 517.5 452.0 515.2 453.0 513.0 453.8 510.6 454.3 508.3 454.6 506.0 454.7 501.5 454.6 497.1 454.2 492.7 453.7 488.3 452.9 484.0 451.9 479.9 450.7 475.8 449.3 471.9 447.7 468.1 445.9 464.4 443.9 461.0 441.7 457.7 439.4 454.7 436.9 451.8 434.3 449.2 431.5 446.9 428.6 444.8 425.7 442.9 422.6 441.3 419.4 440.1 416.2 439.0 412.9 438.3 409.5 437.9 406.2 437.7 402.8 M436.8 402.8 436.9 399.9 437.2 397.0 437.7 394.2 438.3 391.4 439.2 388.6 440.2 385.9 441.4 383.3 442.8 380.8 444.4 378.3 446.1 376.0 448.0 373.8 450.0 371.7 452.1 369.7 454.4 367.9 456.8 366.2 459.3 364.7 461.9 363.4 464.6 362.2 467.3 361.2 470.1 360.4 473.0 359.8 475.9 359.3 478.8 359.0 481.8 359.0 485.7 359.0 489.7 359.2 493.6 359.5 497.4 359.9 501.2 360.3 504.9 360.9 508.5 361.6 512.0 362.4 515.4 363.3 518.6 364.3 521.6 365.4 524.5 366.6 527.2 368.0 529.7 369.5 532.1 371.1 534.1 372.9 536.0 374.8 537.6 376.9 539.0 379.3 540.2 381.9 541.1 384.9 541.7 388.5 542.1 393.1 542.2 403.4 542.2 406.6 541.9 409.8 541.5 412.9 541.0 416.1 540.2 419.1 539.4 422.1 538.4 425.0 537.2 427.8 535.9 430.5 534.5 433.1 532.9 435.6 531.2 437.9 529.4 440.1 527.5 442.1 525.5 444.0 523.4 445.6 521.3 447.1 519.0 448.4 516.7 449.6 514.4 450.5 512.0 451.2 509.5 451.7 507.1 452.0 504.6 452.1 500.2 452.0 495.8 451.6 491.4 451.1 487.1 450.3 482.8 449.4 478.7 448.2 474.6 446.9 470.7 445.3 466.9 443.6 463.3 441.7 459.9 439.7 456.7 437.5 453.6 435.1 450.8 432.6 448.2 430.0 445.9 427.3 443.8 424.5 442.0 421.5 440.4 418.5 439.1 415.5 438.1 412.3 437.4 409.2 436.9 406.0 436.8 402.8 M438.9 402.8 439.0 399.9 439.3 397.1 439.7 394.3 440.4 391.5 441.2 388.8 442.2 386.1 443.3 383.5 444.6 381.0 446.1 378.6 447.7 376.3 449.5 374.1 451.4 372.0 453.4 370.0 455.6 368.2 457.8 366.6 460.2 365.1 462.6 363.8 465.2 362.6 467.8 361.6 470.5 360.8 473.2 360.2 475.9 359.7 478.7 359.5 481.5 359.4 485.4 359.5 489.2 359.7 493.1 360.0 496.9 360.3 500.6 360.8 504.2 361.4 507.8 362.1 511.2 362.9 514.5 363.8 517.7 364.8 520.7 366.0 523.5 367.2 526.2 368.6 528.6 370.1 530.9 371.7 533.0 373.5 534.8 375.5 536.4 377.6 537.8 379.9 538.9 382.6 539.8 385.6 540.4 389.1 540.8 393.6 540.9 403.5 540.9 406.8 540.6 410.0 540.2 413.2 539.7 416.3 539.0 419.4 538.2 422.4 537.2 425.3 536.1 428.2 534.9 430.9 533.5 433.5 532.0 436.0 530.4 438.3 528.7 440.5 526.8 442.6 524.9 444.4 522.9 446.1 520.8 447.6 518.7 448.9 516.5 450.1 514.2 451.0 511.9 451.7 509.6 452.2 507.3 452.5 504.9 452.6 500.6 452.5 496.3 452.1 492.0 451.6 487.8 450.8 483.7 449.8 479.7 448.7 475.7 447.3 471.9 445.8 468.2 444.0 464.7 442.1 461.4 440.0 458.2 437.8 455.3 435.4 452.5 432.9 450.0 430.3 447.8 427.5 445.7 424.7 443.9 421.7 442.4 418.7 441.2 415.6 440.2 412.4 439.5 409.2 439.1 406.0 438.9 402.8 M436.9 402.8 437.0 400.1 437.2 397.4 437.7 394.7 438.4 392.0 439.2 389.4 440.2 386.9 441.3 384.4 442.7 382.0 444.2 379.7 445.8 377.5 447.6 375.4 449.6 373.4 451.6 371.6 453.8 369.8 456.1 368.3 458.6 366.9 461.1 365.6 463.6 364.5 466.3 363.5 469.0 362.8 471.8 362.2 474.6 361.8 477.4 361.5 480.2 361.5 484.1 361.5 488.0 361.7 491.9 362.0 495.7 362.4 499.4 362.9 503.1 363.4 506.7 364.1 510.1 364.9 513.4 365.8 516.6 366.8 519.6 367.9 522.5 369.1 525.1 370.5 527.6 371.9 529.9 373.5 532.0 375.2 533.8 377.1 535.4 379.2 536.8 381.5 537.9 384.0 538.8 386.9 539.5 390.2 539.8 394.5 540.0 403.7 539.9 407.0 539.7 410.4 539.3 413.7 538.7 416.9 538.0 420.1 537.1 423.2 536.1 426.3 535.0 429.2 533.7 432.1 532.3 434.8 530.7 437.3 529.1 439.8 527.3 442.0 525.4 444.2 523.4 446.1 521.3 447.8 519.2 449.4 517.0 450.8 514.7 451.9 512.4 452.9 510.0 453.6 507.6 454.1 505.2 454.4 502.7 454.5 498.4 454.4 494.1 454.0 489.9 453.4 485.7 452.6 481.6 451.6 477.5 450.4 473.6 449.0 469.8 447.4 466.1 445.6 462.6 443.6 459.3 441.5 456.2 439.1 453.2 436.7 450.5 434.1 448.0 431.3 445.7 428.5 443.7 425.5 441.9 422.4 440.4 419.3 439.1 416.1 438.1 412.8 437.4 409.5 437.0 406.1 436.9 402.8 M437.8 402.8 437.9 400.0 438.1 397.2 438.6 394.4 439.2 391.6 440.0 388.9 440.9 386.3 442.1 383.8 443.3 381.3 444.8 378.9 446.4 376.6 448.1 374.4 449.9 372.4 451.9 370.5 454.0 368.7 456.2 367.1 458.6 365.6 461.0 364.3 463.4 363.2 466.0 362.2 468.6 361.4 471.2 360.8 473.9 360.4 476.6 360.1 479.3 360.1 483.2 360.2 487.0 360.4 490.8 360.7 494.6 361.1 498.2 361.6 501.8 362.2 505.4 362.9 508.7 363.8 512.0 364.7 515.1 365.8 518.1 366.9 520.9 368.2 523.6 369.6 526.0 371.2 528.3 372.8 530.3 374.7 532.1 376.6 533.7 378.8 535.0 381.2 536.2 383.8 537.0 386.8 537.7 390.3 538.0 394.7 538.2 403.9 538.1 406.9 537.9 409.9 537.5 412.9 536.9 415.9 536.3 418.8 535.4 421.6 534.5 424.4 533.3 427.0 532.1 429.6 530.7 432.1 529.2 434.4 527.6 436.6 525.9 438.6 524.1 440.6 522.2 442.3 520.2 443.9 518.1 445.3 515.9 446.5 513.7 447.6 511.5 448.4 509.2 449.1 506.8 449.6 504.5 449.8 502.1 449.9 497.9 449.8 493.7 449.4 489.6 448.9 485.5 448.2 481.5 447.2 477.5 446.1 473.7 444.8 470.0 443.4 466.4 441.7 463.0 439.9 459.7 438.0 456.6 435.8 453.7 433.6 451.1 431.2 448.6 428.7 446.4 426.1 444.4 423.4 442.7 420.6 441.2 417.8 440.0 414.8 439.0 411.9 438.3 408.9 437.9 405.8 437.8 402.8 M438.1 402.8 438.2 399.9 438.5 396.9 438.9 394.0 439.6 391.2 440.4 388.4 441.4 385.6 442.5 383.0 443.8 380.4 445.3 377.9 446.9 375.5 448.6 373.3 450.5 371.2 452.6 369.2 454.7 367.3 456.9 365.6 459.3 364.1 461.7 362.8 464.3 361.6 466.9 360.6 469.5 359.8 472.2 359.1 474.9 358.7 477.7 358.4 480.5 358.4 484.2 358.5 488.0 358.7 491.7 359.0 495.4 359.4 499.0 360.0 502.5 360.7 505.9 361.4 509.2 362.3 512.4 363.3 515.5 364.4 518.4 365.7 521.1 367.1 523.7 368.6 526.1 370.2 528.3 372.0 530.3 373.9 532.1 376.0 533.6 378.2 534.9 380.7 536.0 383.5 536.9 386.6 537.5 390.3 537.9 394.8 538.0 404.0 537.9 407.0 537.7 410.0 537.3 413.0 536.8 415.9 536.1 418.7 535.3 421.5 534.3 424.3 533.2 426.9 532.0 429.4 530.6 431.9 529.2 434.2 527.6 436.3 525.9 438.4 524.1 440.2 522.2 442.0 520.2 443.5 518.1 444.9 516.0 446.1 513.8 447.2 511.6 448.0 509.3 448.7 507.0 449.1 504.7 449.4 502.4 449.5 498.2 449.3 494.0 449.0 489.8 448.4 485.7 447.7 481.7 446.8 477.8 445.7 474.0 444.4 470.3 442.9 466.7 441.3 463.3 439.5 460.0 437.6 456.9 435.5 454.1 433.2 451.4 430.9 449.0 428.4 446.7 425.8 444.8 423.2 443.0 420.4 441.5 417.6 440.3 414.7 439.4 411.8 438.7 408.8 438.3 405.8 438.1 402.8 M440.5 402.8 440.5 400.3 440.8 397.7 441.2 395.2 441.8 392.8 442.5 390.4 443.4 388.0 444.5 385.7 445.7 383.5 447.1 381.3 448.6 379.3 450.2 377.4 452.0 375.5 453.9 373.8 455.8 372.3 457.9 370.8 460.1 369.5 462.4 368.3 464.7 367.3 467.1 366.5 469.6 365.8 472.1 365.2 474.7 364.8 477.2 364.6 479.8 364.6 483.6 364.7 487.4 364.9 491.2 365.2 494.9 365.6 498.5 366.1 502.1 366.7 505.6 367.4 509.0 368.2 512.2 369.1 515.3 370.1 518.3 371.2 521.0 372.4 523.6 373.7 526.1 375.2 528.3 376.7 530.3 378.4 532.1 380.3 533.7 382.2 535.0 384.4 536.1 386.8 537.0 389.5 537.6 392.7 538.0 396.6 538.1 404.2 538.0 407.0 537.8 409.8 537.4 412.6 536.8 415.4 536.1 418.0 535.3 420.7 534.3 423.2 533.1 425.7 531.8 428.1 530.4 430.3 528.8 432.5 527.2 434.5 525.4 436.4 523.5 438.2 521.5 439.8 519.4 441.3 517.2 442.6 515.0 443.7 512.7 444.7 510.4 445.4 508.0 446.0 505.6 446.5 503.1 446.7 500.7 446.8 496.7 446.6 492.8 446.3 488.9 445.8 485.1 445.1 481.3 444.2 477.6 443.1 474.0 441.9 470.6 440.6 467.2 439.0 464.0 437.3 461.0 435.5 458.1 433.5 455.4 431.4 452.9 429.2 450.6 426.9 448.5 424.5 446.7 421.9 445.0 419.4 443.6 416.7 442.5 414.0 441.6 411.2 441.0 408.4 440.6 405.6 440.5 402.8 M438.6 402.8 438.7 400.1 439.0 397.4 439.4 394.7 440.0 392.0 440.8 389.4 441.8 386.9 442.9 384.4 444.2 382.0 445.6 379.7 447.2 377.5 448.9 375.5 450.8 373.5 452.7 371.7 454.8 370.0 457.0 368.4 459.3 367.0 461.7 365.8 464.2 364.7 466.7 363.8 469.3 363.0 472.0 362.4 474.6 362.0 477.3 361.8 480.0 361.8 483.7 361.9 487.4 362.1 491.0 362.4 494.6 362.9 498.1 363.4 501.6 364.1 504.9 364.9 508.2 365.7 511.3 366.7 514.3 367.8 517.1 369.0 519.8 370.4 522.3 371.8 524.7 373.4 526.8 375.1 528.8 376.9 530.5 378.9 532.0 381.1 533.3 383.5 534.4 386.1 535.2 389.0 535.8 392.3 536.2 396.5 536.3 404.4 536.2 407.4 536.0 410.4 535.6 413.3 535.1 416.2 534.4 419.1 533.6 421.9 532.6 424.6 531.5 427.2 530.3 429.7 529.0 432.1 527.5 434.4 525.9 436.5 524.2 438.6 522.4 440.4 520.6 442.1 518.6 443.7 516.6 445.0 514.4 446.2 512.3 447.3 510.1 448.1 507.8 448.7 505.5 449.2 503.2 449.4 500.9 449.5 496.8 449.3 492.8 449.0 488.8 448.4 484.8 447.7 480.9 446.7 477.1 445.6 473.4 444.3 469.8 442.9 466.3 441.2 463.0 439.4 459.8 437.5 456.9 435.4 454.1 433.2 451.5 430.8 449.1 428.3 447.0 425.8 445.0 423.1 443.4 420.3 441.9 417.5 440.7 414.7 439.8 411.7 439.1 408.8 438.8 405.8 438.6 402.8 M439.2 402.8 439.3 400.1 439.6 397.5 440.0 394.9 440.6 392.3 441.3 389.8 442.3 387.3 443.3 384.9 444.6 382.6 446.0 380.3 447.5 378.2 449.1 376.2 450.9 374.2 452.8 372.5 454.9 370.8 457.0 369.3 459.2 367.9 461.5 366.7 463.9 365.7 466.4 364.8 468.9 364.0 471.4 363.5 474.0 363.1 476.6 362.9 479.2 362.9 483.0 363.0 486.7 363.2 490.5 363.6 494.1 364.0 497.8 364.6 501.3 365.2 504.7 366.0 508.1 366.9 511.3 367.9 514.3 369.0 517.2 370.2 520.0 371.5 522.6 373.0 525.0 374.5 527.2 376.2 529.2 378.1 531.0 380.0 532.5 382.2 533.8 384.5 534.9 387.1 535.8 389.9 536.4 393.2 536.8 397.2 536.9 404.7 536.8 407.5 536.6 410.3 536.2 413.2 535.6 415.9 534.9 418.6 534.0 421.3 533.0 423.9 531.8 426.4 530.5 428.8 529.1 431.1 527.5 433.2 525.8 435.3 524.0 437.2 522.1 439.0 520.0 440.6 517.9 442.1 515.8 443.4 513.5 444.5 511.2 445.5 508.8 446.3 506.4 446.9 503.9 447.3 501.5 447.5 499.0 447.6 495.1 447.4 491.2 447.0 487.3 446.5 483.5 445.8 479.8 444.9 476.1 443.8 472.6 442.6 469.1 441.1 465.8 439.6 462.6 437.9 459.6 436.0 456.7 434.0 454.1 431.8 451.6 429.6 449.3 427.2 447.2 424.8 445.4 422.2 443.8 419.6 442.4 416.9 441.3 414.1 440.4 411.3 439.7 408.5 439.4 405.7 439.2 402.8 M440.8 402.8 440.9 400.3 441.1 397.9 441.5 395.5 442.1 393.1 442.8 390.7 443.7 388.4 444.8 386.2 445.9 384.1 447.3 382.0 448.7 380.0 450.3 378.2 452.0 376.4 453.8 374.8 455.8 373.2 457.8 371.9 459.9 370.6 462.1 369.5 464.4 368.5 466.8 367.7 469.2 367.0 471.6 366.5 474.1 366.2 476.6 366.0 479.1 366.0 482.7 366.1 486.4 366.3 490.0 366.7 493.6 367.1 497.1 367.7 500.6 368.3 503.9 369.0 507.2 369.9 510.3 370.8 513.3 371.9 516.1 373.1 518.8 374.3 521.3 375.7 523.7 377.2 525.8 378.8 527.8 380.5 529.5 382.4 531.0 384.4 532.3 386.5 533.4 388.9 534.2 391.6 534.8 394.6 535.2 398.3 535.3 404.9 535.2 407.6 535.0 410.2 534.6 412.9 534.1 415.5 533.4 418.0 532.6 420.5 531.7 423.0 530.6 425.3 529.4 427.6 528.1 429.7 526.6 431.8 525.1 433.7 523.4 435.5 521.7 437.2 519.8 438.7 517.9 440.0 515.9 441.3 513.8 442.3 511.6 443.2 509.5 444.0 507.2 444.5 505.0 444.9 502.7 445.1 500.4 445.2 496.5 445.0 492.7 444.6 488.8 444.1 485.0 443.4 481.3 442.6 477.6 441.5 474.1 440.3 470.6 439.0 467.3 437.5 464.1 435.9 461.1 434.1 458.3 432.2 455.6 430.2 453.1 428.1 450.9 425.8 448.8 423.5 447.0 421.1 445.4 418.6 444.0 416.1 442.8 413.5 442.0 410.8 441.3 408.2 440.9 405.5 440.8 402.8 M441.3 402.8 441.4 400.5 441.6 398.3 442.0 396.0 442.6 393.9 443.3 391.7 444.2 389.6 445.2 387.5 446.3 385.6 447.6 383.7 449.0 381.9 450.6 380.2 452.3 378.5 454.0 377.0 455.9 375.6 457.9 374.4 460.0 373.2 462.1 372.2 464.4 371.3 466.7 370.6 469.0 370.0 471.4 369.5 473.8 369.2 476.2 369.0 478.7 369.0 482.4 369.2 486.0 369.4 489.7 369.7 493.3 370.2 496.8 370.7 500.3 371.3 503.6 372.0 506.9 372.8 510.0 373.8 513.1 374.8 515.9 375.9 518.6 377.1 521.1 378.3 523.5 379.7 525.6 381.3 527.6 382.9 529.3 384.6 530.9 386.5 532.2 388.5 533.2 390.7 534.1 393.2 534.7 395.9 535.0 399.3 535.2 405.2 535.1 407.8 534.8 410.4 534.4 413.0 533.9 415.6 533.2 418.1 532.3 420.5 531.4 422.9 530.2 425.2 528.9 427.4 527.5 429.5 526.0 431.5 524.3 433.4 522.6 435.2 520.7 436.8 518.8 438.3 516.7 439.6 514.6 440.8 512.4 441.8 510.1 442.7 507.8 443.4 505.5 444.0 503.1 444.3 500.7 444.5 498.3 444.6 494.5 444.4 490.8 444.0 487.1 443.5 483.5 442.8 480.0 442.0 476.5 440.9 473.1 439.8 469.8 438.4 466.6 437.0 463.6 435.4 460.7 433.6 458.0 431.7 455.5 429.7 453.1 427.6 450.9 425.4 449.0 423.2 447.2 420.8 445.7 418.3 444.3 415.8 443.3 413.3 442.4 410.7 441.8 408.1 441.4 405.4 441.3 402.8 M441.2 402.8 441.3 400.4 441.6 398.0 441.9 395.7 442.5 393.4 443.2 391.1 444.0 388.9 445.0 386.8 446.2 384.7 447.4 382.7 448.8 380.8 450.3 379.0 452.0 377.3 453.7 375.7 455.6 374.3 457.5 372.9 459.6 371.7 461.7 370.7 463.9 369.7 466.1 369.0 468.4 368.3 470.7 367.9 473.1 367.5 475.5 367.4 477.9 367.4 481.5 367.5 485.2 367.8 488.8 368.1 492.3 368.6 495.8 369.2 499.2 369.8 502.5 370.6 505.8 371.5 508.9 372.5 511.8 373.5 514.6 374.7 517.3 376.0 519.8 377.4 522.1 378.9 524.2 380.5 526.2 382.2 527.9 384.1 529.4 386.1 530.7 388.2 531.7 390.6 532.6 393.1 533.2 396.0 533.5 399.5 533.6 405.4 533.5 408.1 533.3 410.8 532.9 413.5 532.4 416.1 531.7 418.7 530.8 421.2 529.9 423.6 528.7 426.0 527.5 428.3 526.1 430.4 524.5 432.5 522.9 434.4 521.2 436.2 519.3 437.9 517.4 439.4 515.3 440.8 513.2 442.0 511.0 443.0 508.8 443.9 506.5 444.6 504.2 445.2 501.8 445.6 499.4 445.8 497.0 445.8 493.4 445.6 489.7 445.2 486.1 444.7 482.6 444.0 479.1 443.1 475.7 442.0 472.3 440.8 469.1 439.5 466.0 437.9 463.1 436.3 460.2 434.5 457.6 432.5 455.1 430.5 452.8 428.3 450.6 426.1 448.7 423.7 447.0 421.3 445.5 418.8 444.2 416.2 443.1 413.6 442.3 410.9 441.7 408.2 441.4 405.5 441.2 402.8 M443.1 402.8 443.2 400.6 443.4 398.4 443.8 396.3 444.3 394.2 444.9 392.1 445.7 390.0 446.6 388.1 447.7 386.2 448.8 384.3 450.1 382.6 451.5 380.9 453.1 379.4 454.7 377.9 456.4 376.6 458.2 375.4 460.1 374.3 462.0 373.3 464.1 372.5 466.1 371.8 468.3 371.2 470.4 370.8 472.6 370.5 474.8 370.3 477.0 370.4 480.6 370.5 484.1 370.8 487.6 371.1 491.1 371.6 494.5 372.2 497.8 372.8 501.1 373.5 504.2 374.4 507.2 375.3 510.1 376.4 512.9 377.5 515.5 378.7 517.9 380.0 520.2 381.4 522.2 382.9 524.1 384.6 525.8 386.3 527.3 388.2 528.5 390.2 529.6 392.3 530.4 394.7 530.9 397.3 531.3 400.5 531.4 405.7 531.3 408.0 531.1 410.3 530.7 412.6 530.2 414.8 529.6 417.0 528.8 419.1 527.9 421.2 526.8 423.2 525.6 425.1 524.3 427.0 522.9 428.7 521.4 430.4 519.7 431.9 518.0 433.3 516.2 434.6 514.3 435.7 512.3 436.8 510.3 437.6 508.2 438.4 506.0 439.0 503.8 439.4 501.6 439.7 499.4 439.9 497.2 439.9 493.6 439.7 490.1 439.4 486.6 438.9 483.2 438.2 479.8 437.4 476.5 436.5 473.3 435.5 470.1 434.3 467.1 433.0 464.3 431.5 461.5 430.0 459.0 428.3 456.5 426.5 454.3 424.7 452.2 422.7 450.4 420.7 448.7 418.6 447.2 416.4 446.0 414.2 445.0 412.0 444.2 409.7 443.6 407.4 443.2 405.1 443.1 402.8 M444.0 402.8 444.1 400.4 444.3 398.0 444.6 395.7 445.1 393.4 445.7 391.1 446.4 388.9 447.3 386.7 448.3 384.6 449.3 382.7 450.6 380.7 451.9 378.9 453.3 377.2 454.8 375.7 456.4 374.2 458.1 372.9 459.9 371.7 461.7 370.6 463.6 369.7 465.6 368.9 467.5 368.3 469.6 367.8 471.6 367.5 473.7 367.4 475.8 367.4 479.3 367.5 482.9 367.8 486.4 368.3 489.9 368.8 493.3 369.4 496.6 370.1 499.9 370.9 503.0 371.9 506.0 372.9 508.9 374.1 511.7 375.3 514.3 376.7 516.7 378.1 519.0 379.7 521.0 381.4 522.9 383.2 524.6 385.1 526.1 387.2 527.3 389.3 528.4 391.7 529.2 394.3 529.7 397.2 530.1 400.6 530.2 406.0 530.1 408.5 529.9 411.0 529.6 413.4 529.1 415.8 528.4 418.2 527.7 420.5 526.8 422.7 525.8 424.9 524.6 427.0 523.3 429.0 522.0 430.8 520.5 432.6 518.9 434.2 517.2 435.8 515.4 437.2 513.6 438.4 511.6 439.5 509.7 440.5 507.6 441.3 505.5 441.9 503.4 442.4 501.3 442.7 499.1 442.9 496.9 442.9 493.5 442.7 490.0 442.3 486.6 441.8 483.2 441.1 479.9 440.2 476.7 439.2 473.5 438.1 470.5 436.8 467.5 435.4 464.7 433.8 462.0 432.1 459.5 430.3 457.1 428.4 454.9 426.4 452.9 424.3 451.1 422.1 449.5 419.9 448.0 417.5 446.8 415.2 445.8 412.7 445.0 410.3 444.4 407.8 444.1 405.3 444.0 402.8 M443.7 402.8 443.8 400.8 444.0 398.9 444.3 397.0 444.8 395.1 445.4 393.2 446.1 391.4 447.0 389.6 448.0 387.9 449.1 386.3 450.3 384.8 451.6 383.3 453.0 381.9 454.5 380.6 456.1 379.5 457.7 378.4 459.5 377.4 461.3 376.6 463.2 375.8 465.1 375.2 467.1 374.7 469.1 374.4 471.1 374.1 473.2 374.0 475.2 374.0 478.8 374.2 482.4 374.5 485.9 374.9 489.4 375.3 492.8 375.9 496.1 376.5 499.4 377.3 502.5 378.1 505.6 379.0 508.5 380.0 511.2 381.1 513.8 382.2 516.3 383.5 518.6 384.8 520.6 386.2 522.5 387.7 524.2 389.3 525.7 391.0 526.9 392.9 528.0 394.8 528.8 397.0 529.4 399.3 529.7 402.1 529.8 406.3 529.8 408.8 529.5 411.2 529.2 413.6 528.7 416.0 528.0 418.3 527.2 420.6 526.3 422.8 525.2 424.9 524.1 426.9 522.7 428.9 521.3 430.7 519.8 432.4 518.1 434.0 516.4 435.5 514.6 436.9 512.7 438.1 510.7 439.2 508.6 440.1 506.5 440.9 504.4 441.5 502.2 442.0 500.0 442.3 497.7 442.4 495.5 442.4 492.1 442.2 488.7 441.8 485.4 441.3 482.1 440.6 478.9 439.7 475.7 438.7 472.6 437.6 469.6 436.3 466.7 434.9 464.0 433.4 461.4 431.7 458.9 429.9 456.6 428.0 454.4 426.1 452.5 424.0 450.7 421.8 449.1 419.6 447.7 417.3 446.5 415.0 445.5 412.6 444.7 410.2 444.2 407.7 443.9 405.3 443.7 402.8 M445.1 402.8 445.2 400.6 445.4 398.3 445.7 396.1 446.2 393.9 446.8 391.8 447.5 389.7 448.3 387.7 449.3 385.8 450.3 383.9 451.5 382.2 452.8 380.5 454.2 378.9 455.7 377.4 457.2 376.1 458.9 374.8 460.6 373.7 462.4 372.7 464.2 371.9 466.1 371.2 468.0 370.6 470.0 370.2 472.0 369.9 474.0 369.8 476.0 369.8 479.4 370.1 482.8 370.4 486.2 370.8 489.5 371.3 492.8 372.0 496.0 372.7 499.1 373.6 502.1 374.5 505.0 375.5 507.7 376.7 510.4 377.9 512.9 379.3 515.2 380.7 517.4 382.3 519.3 383.9 521.1 385.6 522.7 387.5 524.2 389.5 525.4 391.6 526.3 393.8 527.1 396.2 527.7 398.9 528.0 402.0 528.1 406.7 528.0 408.8 527.8 410.9 527.5 412.9 527.0 415.0 526.3 417.0 525.5 418.9 524.6 420.8 523.5 422.6 522.3 424.3 521.0 426.0 519.6 427.5 518.1 429.0 516.4 430.4 514.7 431.6 512.9 432.8 511.0 433.8 509.0 434.7 506.9 435.5 504.8 436.1 502.7 436.6 500.5 437.0 498.3 437.2 496.0 437.3 493.8 437.3 490.6 437.1 487.4 436.7 484.3 436.2 481.2 435.6 478.2 434.9 475.2 434.0 472.3 433.0 469.5 431.9 466.8 430.6 464.2 429.3 461.7 427.8 459.4 426.3 457.2 424.6 455.2 422.9 453.3 421.1 451.7 419.2 450.2 417.3 448.8 415.3 447.7 413.3 446.8 411.2 446.1 409.1 445.6 407.0 445.2 404.9 445.1 402.8 M443.2 402.8 443.3 400.8 443.5 398.8 443.8 396.8 444.3 394.9 444.8 393.0 445.5 391.1 446.3 389.3 447.3 387.6 448.3 385.9 449.4 384.3 450.7 382.8 452.0 381.4 453.5 380.1 455.0 378.9 456.6 377.8 458.3 376.8 460.0 376.0 461.8 375.2 463.6 374.6 465.5 374.1 467.4 373.8 469.4 373.5 471.3 373.4 473.3 373.5 476.8 373.7 480.3 374.0 483.8 374.4 487.2 375.0 490.6 375.6 493.9 376.3 497.1 377.1 500.2 378.0 503.2 379.0 506.1 380.0 508.8 381.2 511.4 382.4 513.8 383.8 516.0 385.2 518.1 386.7 519.9 388.3 521.6 390.0 523.0 391.8 524.3 393.7 525.3 395.7 526.1 397.9 526.7 400.3 527.0 403.0 527.1 407.0 527.1 409.1 526.9 411.1 526.5 413.1 526.0 415.1 525.4 417.0 524.7 418.9 523.8 420.7 522.8 422.4 521.6 424.1 520.4 425.7 519.0 427.2 517.6 428.6 516.0 430.0 514.4 431.2 512.6 432.3 510.8 433.3 508.9 434.1 507.0 434.9 505.0 435.5 502.9 436.0 500.9 436.3 498.8 436.6 496.6 436.7 494.5 436.6 491.1 436.4 487.8 436.0 484.5 435.5 481.2 434.9 478.0 434.1 474.9 433.2 471.8 432.2 468.9 431.1 466.0 429.9 463.3 428.6 460.7 427.2 458.2 425.6 456.0 424.0 453.8 422.3 451.9 420.6 450.1 418.8 448.5 416.9 447.1 414.9 446.0 413.0 445.0 411.0 444.2 408.9 443.7 406.9 443.3 404.8 443.2 402.8 M444.5 402.8 444.6 401.0 444.7 399.2 445.1 397.5 445.5 395.8 446.1 394.1 446.8 392.5 447.6 390.9 448.6 389.3 449.6 387.9 450.8 386.5 452.0 385.2 453.4 383.9 454.8 382.8 456.4 381.8 458.0 380.8 459.7 379.9 461.4 379.2 463.2 378.6 465.1 378.0 467.0 377.6 468.9 377.3 470.9 377.1 472.9 377.1 474.8 377.1 478.3 377.4 481.8 377.7 485.2 378.1 488.6 378.6 491.9 379.2 495.1 379.9 498.3 380.6 501.3 381.4 504.3 382.4 507.1 383.4 509.8 384.4 512.3 385.6 514.7 386.8 516.9 388.1 518.9 389.5 520.7 390.9 522.3 392.5 523.8 394.1 525.0 395.8 526.0 397.6 526.8 399.5 527.4 401.7 527.7 404.0 527.8 407.4 527.7 409.5 527.5 411.5 527.1 413.5 526.6 415.5 526.0 417.4 525.2 419.2 524.3 421.1 523.2 422.8 522.0 424.5 520.7 426.1 519.3 427.6 517.7 429.0 516.1 430.3 514.4 431.5 512.5 432.6 510.6 433.6 508.7 434.4 506.6 435.2 504.5 435.8 502.4 436.2 500.2 436.6 497.9 436.8 495.7 436.9 493.5 436.8 490.3 436.6 487.1 436.2 483.9 435.7 480.8 435.0 477.7 434.3 474.7 433.4 471.8 432.4 469.0 431.3 466.3 430.0 463.6 428.7 461.2 427.3 458.8 425.7 456.6 424.1 454.6 422.4 452.7 420.6 451.0 418.8 449.5 416.9 448.2 415.0 447.1 413.0 446.2 411.0 445.4 409.0 444.9 406.9 444.6 404.9 444.5 402.8 M444.7 402.8 444.8 400.8 445.0 398.9 445.3 397.0 445.7 395.1 446.3 393.2 446.9 391.4 447.7 389.7 448.6 388.0 449.6 386.4 450.7 384.8 451.9 383.4 453.2 382.0 454.6 380.8 456.1 379.6 457.6 378.5 459.2 377.6 460.9 376.8 462.6 376.1 464.4 375.5 466.2 375.0 468.0 374.7 469.9 374.5 471.8 374.4 473.7 374.5 477.0 374.7 480.4 375.1 483.7 375.5 486.9 376.1 490.1 376.8 493.3 377.5 496.3 378.4 499.3 379.3 502.2 380.3 504.9 381.4 507.5 382.6 509.9 383.9 512.2 385.3 514.4 386.7 516.3 388.3 518.1 389.9 519.7 391.6 521.1 393.4 522.2 395.3 523.2 397.3 524.0 399.4 524.5 401.7 524.8 404.3 525.0 407.8 524.9 409.7 524.7 411.7 524.3 413.6 523.9 415.4 523.2 417.2 522.5 419.0 521.6 420.7 520.6 422.4 519.5 423.9 518.2 425.4 516.9 426.9 515.5 428.2 513.9 429.4 512.3 430.5 510.5 431.6 508.7 432.5 506.9 433.3 504.9 434.0 502.9 434.5 500.9 435.0 498.8 435.3 496.7 435.5 494.6 435.5 492.5 435.4 489.4 435.2 486.3 434.8 483.2 434.3 480.1 433.7 477.1 432.9 474.2 432.0 471.4 431.1 468.6 430.0 466.0 428.8 463.4 427.5 461.0 426.1 458.7 424.6 456.6 423.1 454.6 421.5 452.8 419.8 451.1 418.0 449.7 416.2 448.4 414.4 447.3 412.5 446.4 410.6 445.7 408.6 445.1 406.7 444.8 404.7 444.7 402.8 M446.2 402.8 446.2 401.0 446.4 399.2 446.7 397.5 447.1 395.8 447.6 394.1 448.2 392.4 448.9 390.9 449.8 389.3 450.7 387.9 451.7 386.5 452.8 385.2 454.0 383.9 455.3 382.8 456.7 381.8 458.1 380.8 459.6 380.0 461.2 379.2 462.8 378.6 464.4 378.1 466.1 377.7 467.8 377.4 469.5 377.2 471.3 377.2 473.0 377.2 476.4 377.5 479.7 377.9 483.0 378.4 486.3 378.9 489.5 379.6 492.6 380.3 495.6 381.1 498.6 382.0 501.4 383.0 504.1 384.1 506.7 385.2 509.2 386.4 511.5 387.7 513.6 389.1 515.5 390.5 517.3 392.0 518.9 393.6 520.2 395.3 521.4 397.0 522.4 398.8 523.2 400.8 523.7 402.8 524.0 405.1 524.1 408.2 524.1 410.1 523.9 412.0 523.5 413.8 523.0 415.6 522.4 417.3 521.7 419.1 520.8 420.7 519.9 422.3 518.7 423.8 517.5 425.3 516.2 426.6 514.8 427.9 513.3 429.1 511.6 430.2 509.9 431.1 508.2 432.0 506.3 432.8 504.4 433.4 502.5 433.9 500.5 434.3 498.4 434.6 496.4 434.8 494.3 434.8 492.2 434.7 489.2 434.5 486.2 434.1 483.2 433.6 480.3 432.9 477.4 432.2 474.6 431.3 471.8 430.4 469.2 429.3 466.6 428.1 464.2 426.9 461.9 425.5 459.7 424.1 457.6 422.5 455.7 421.0 453.9 419.3 452.3 417.6 450.9 415.8 449.7 414.0 448.6 412.2 447.7 410.3 447.1 408.5 446.6 406.6 446.3 404.7 446.2 402.8 M446.8 402.8 446.8 401.1 447.0 399.4 447.2 397.8 447.6 396.1 448.1 394.5 448.7 393.0 449.4 391.5 450.1 390.0 451.0 388.6 452.0 387.3 453.0 386.1 454.1 384.9 455.4 383.9 456.6 382.9 458.0 382.0 459.4 381.2 460.8 380.5 462.3 379.9 463.9 379.4 465.5 379.1 467.1 378.8 468.7 378.6 470.3 378.6 472.0 378.7 475.4 379.0 478.7 379.4 482.0 379.8 485.3 380.4 488.5 381.1 491.7 381.8 494.7 382.6 497.7 383.5 500.6 384.5 503.3 385.6 505.9 386.7 508.3 387.9 510.6 389.2 512.8 390.5 514.7 391.9 516.5 393.4 518.1 394.9 519.5 396.5 520.7 398.2 521.7 399.9 522.4 401.8 523.0 403.7 523.3 405.9 523.4 408.7 523.3 410.3 523.1 411.9 522.8 413.5 522.3 415.0 521.6 416.6 520.9 418.0 519.9 419.4 518.9 420.8 517.7 422.1 516.5 423.3 515.1 424.5 513.6 425.6 512.0 426.6 510.3 427.5 508.5 428.3 506.6 429.0 504.7 429.6 502.7 430.2 500.6 430.6 498.5 430.9 496.4 431.1 494.2 431.2 492.0 431.2 489.8 431.1 487.0 430.8 484.2 430.4 481.4 430.0 478.7 429.4 476.0 428.7 473.3 427.9 470.8 427.1 468.3 426.1 465.9 425.0 463.6 423.9 461.4 422.7 459.4 421.4 457.4 420.1 455.7 418.7 454.0 417.2 452.5 415.7 451.2 414.2 450.0 412.6 449.0 411.0 448.2 409.4 447.6 407.7 447.1 406.1 446.8 404.4 446.8 402.8 M448.2 402.8 448.2 401.4 448.4 400.0 448.6 398.6 449.0 397.3 449.4 396.0 450.0 394.7 450.6 393.5 451.3 392.3 452.1 391.2 453.0 390.1 454.0 389.1 455.1 388.2 456.2 387.3 457.4 386.5 458.6 385.8 459.9 385.2 461.3 384.6 462.7 384.2 464.1 383.8 465.6 383.5 467.1 383.3 468.6 383.2 470.1 383.2 471.7 383.3 475.0 383.6 478.3 384.0 481.5 384.5 484.8 385.0 487.9 385.6 491.0 386.3 494.0 387.1 497.0 387.9 499.8 388.8 502.5 389.7 505.0 390.7 507.4 391.8 509.7 392.9 511.8 394.0 513.7 395.3 515.5 396.5 517.0 397.8 518.4 399.2 519.6 400.6 520.5 402.0 521.3 403.6 521.8 405.2 522.1 406.9 522.3 409.1 522.2 410.7 522.0 412.2 521.6 413.7 521.2 415.2 520.6 416.7 519.8 418.1 519.0 419.5 518.0 420.8 516.9 422.0 515.6 423.2 514.3 424.3 512.9 425.3 511.3 426.3 509.7 427.1 508.0 427.9 506.2 428.6 504.4 429.2 502.5 429.6 500.5 430.0 498.5 430.3 496.5 430.5 494.4 430.6 492.3 430.6 490.2 430.4 487.5 430.1 484.7 429.8 482.0 429.3 479.3 428.7 476.7 428.0 474.1 427.2 471.6 426.4 469.2 425.4 466.9 424.4 464.6 423.3 462.5 422.1 460.5 420.9 458.6 419.5 456.9 418.2 455.3 416.8 453.8 415.3 452.5 413.8 451.4 412.3 450.4 410.7 449.6 409.1 449.0 407.6 448.5 406.0 448.3 404.4 448.2 402.8 M447.2 402.8 447.2 401.3 447.4 399.7 447.7 398.2 448.0 396.7 448.4 395.3 449.0 393.9 449.6 392.5 450.4 391.2 451.2 390.0 452.1 388.8 453.1 387.7 454.1 386.7 455.2 385.7 456.4 384.8 457.7 384.0 459.0 383.3 460.4 382.7 461.8 382.2 463.2 381.8 464.7 381.5 466.2 381.3 467.7 381.2 469.3 381.1 470.8 381.2 474.1 381.6 477.4 382.0 480.7 382.5 483.9 383.1 487.0 383.8 490.1 384.6 493.1 385.4 496.0 386.3 498.8 387.3 501.5 388.3 504.1 389.4 506.5 390.6 508.7 391.8 510.8 393.1 512.7 394.5 514.5 395.9 516.0 397.3 517.4 398.8 518.5 400.4 519.5 402.0 520.3 403.6 520.8 405.4 521.1 407.3 521.2 409.6 521.2 411.0 521.0 412.5 520.6 413.9 520.2 415.3 519.6 416.7 518.9 418.0 518.0 419.3 517.1 420.5 516.0 421.7 514.8 422.8 513.5 423.8 512.1 424.7 510.7 425.6 509.1 426.4 507.5 427.1 505.7 427.7 503.9 428.3 502.1 428.7 500.2 429.1 498.3 429.3 496.3 429.5 494.3 429.5 492.3 429.5 490.2 429.4 487.4 429.0 484.6 428.6 481.8 428.2 479.1 427.6 476.4 426.9 473.8 426.1 471.2 425.3 468.7 424.4 466.3 423.4 464.0 422.3 461.9 421.1 459.8 419.9 457.9 418.7 456.1 417.4 454.5 416.0 453.0 414.6 451.6 413.2 450.5 411.8 449.5 410.3 448.7 408.8 448.0 407.3 447.6 405.8 447.3 404.3 447.2 402.8 M447.5 402.8 447.5 401.3 447.7 399.9 447.9 398.5 448.2 397.1 448.6 395.7 449.1 394.4 449.7 393.1 450.4 391.9 451.1 390.7 452.0 389.6 452.9 388.6 453.8 387.6 454.9 386.7 456.0 385.9 457.1 385.2 458.3 384.5 459.6 384.0 460.9 383.5 462.2 383.1 463.6 382.8 465.0 382.6 466.4 382.5 467.8 382.5 469.2 382.6 472.5 383.0 475.7 383.5 478.9 384.0 482.1 384.6 485.2 385.3 488.2 386.1 491.2 386.9 494.0 387.8 496.8 388.8 499.4 389.8 501.9 390.9 504.3 392.1 506.5 393.3 508.6 394.5 510.5 395.9 512.2 397.2 513.7 398.6 515.1 400.0 516.2 401.5 517.2 403.1 517.9 404.6 518.4 406.3 518.8 408.0 518.9 410.1 518.8 411.5 518.6 412.8 518.3 414.2 517.9 415.5 517.3 416.8 516.6 418.1 515.8 419.3 514.9 420.4 513.9 421.5 512.8 422.6 511.6 423.6 510.2 424.4 508.8 425.3 507.3 426.0 505.8 426.7 504.1 427.3 502.4 427.8 500.7 428.2 498.9 428.5 497.0 428.7 495.2 428.8 493.3 428.9 491.3 428.8 489.4 428.7 486.7 428.3 483.9 427.9 481.2 427.4 478.6 426.8 475.9 426.1 473.4 425.4 470.9 424.5 468.4 423.6 466.1 422.7 463.9 421.6 461.8 420.5 459.8 419.3 457.9 418.1 456.1 416.8 454.5 415.5 453.1 414.2 451.8 412.8 450.7 411.4 449.7 410.0 448.9 408.5 448.3 407.1 447.8 405.7 447.6 404.2 447.5 402.8 M450.0 402.8 450.1 401.7 450.2 400.6 450.4 399.5 450.7 398.5 451.0 397.5 451.4 396.5 451.9 395.5 452.5 394.6 453.1 393.7 453.8 392.9 454.6 392.1 455.4 391.4 456.2 390.7 457.2 390.1 458.1 389.6 459.1 389.1 460.2 388.7 461.3 388.4 462.4 388.1 463.5 387.9 464.7 387.8 465.9 387.7 467.1 387.8 468.2 387.9 471.6 388.3 475.0 388.7 478.3 389.3 481.6 389.9 484.8 390.5 487.9 391.2 491.0 392.0 494.0 392.8 496.8 393.6 499.6 394.5 502.2 395.5 504.6 396.5 506.9 397.5 509.0 398.5 511.0 399.6 512.8 400.7 514.4 401.8 515.8 403.0 516.9 404.1 517.9 405.3 518.7 406.5 519.2 407.8 519.6 409.1 519.7 410.6 519.6 411.7 519.4 412.9 519.1 414.1 518.6 415.2 518.0 416.3 517.2 417.3 516.3 418.3 515.3 419.3 514.2 420.2 513.0 421.0 511.6 421.8 510.2 422.5 508.7 423.1 507.0 423.7 505.3 424.2 503.5 424.7 501.6 425.0 499.7 425.3 497.7 425.5 495.7 425.6 493.6 425.7 491.6 425.6 489.5 425.5 487.3 425.3 484.9 425.0 482.5 424.6 480.1 424.2 477.7 423.6 475.4 423.0 473.1 422.3 470.8 421.6 468.7 420.8 466.6 419.9 464.6 419.0 462.8 418.0 461.0 417.0 459.3 415.9 457.8 414.8 456.3 413.7 455.0 412.5 453.9 411.4 452.9 410.1 452.0 408.9 451.3 407.7 450.8 406.5 450.4 405.2 450.1 404.0 450.0 402.8 M450.1 402.8 450.1 401.7 450.2 400.5 450.4 399.4 450.7 398.3 451.1 397.3 451.5 396.2 452.0 395.2 452.6 394.3 453.3 393.4 454.0 392.5 454.8 391.7 455.6 391.0 456.5 390.3 457.5 389.7 458.5 389.2 459.6 388.7 460.7 388.3 461.8 387.9 463.0 387.7 464.2 387.5 465.4 387.4 466.6 387.3 467.8 387.4 469.1 387.5 472.3 387.9 475.5 388.4 478.7 388.9 481.8 389.6 484.9 390.2 487.9 391.0 490.8 391.8 493.6 392.6 496.4 393.5 499.0 394.5 501.5 395.5 503.8 396.5 506.0 397.6 508.0 398.7 509.9 399.8 511.6 400.9 513.1 402.1 514.4 403.3 515.6 404.5 516.5 405.8 517.2 407.0 517.8 408.3 518.1 409.6 518.2 411.1 518.1 412.4 517.9 413.6 517.6 414.8 517.1 416.0 516.5 417.2 515.7 418.3 514.8 419.4 513.8 420.4 512.7 421.4 511.4 422.3 510.1 423.1 508.6 423.8 507.1 424.5 505.4 425.2 503.7 425.7 501.9 426.2 500.0 426.5 498.0 426.8 496.0 427.0 494.0 427.2 491.9 427.2 489.8 427.2 487.7 427.0 485.5 426.8 483.2 426.5 480.9 426.1 478.6 425.6 476.4 425.0 474.1 424.4 472.0 423.7 469.8 422.9 467.8 422.0 465.8 421.1 463.9 420.1 462.2 419.1 460.5 418.0 458.9 416.9 457.4 415.7 456.0 414.5 454.8 413.2 453.7 412.0 452.8 410.7 452.0 409.4 451.3 408.0 450.8 406.7 450.4 405.4 450.2 404.1 450.1 402.8 M451.2 402.8 451.2 401.7 451.3 400.6 451.5 399.6 451.7 398.5 452.0 397.5 452.4 396.5 452.8 395.6 453.3 394.7 453.9 393.8 454.5 393.0 455.2 392.3 455.9 391.5 456.7 390.9 457.5 390.3 458.3 389.8 459.2 389.3 460.1 388.9 461.1 388.6 462.1 388.3 463.1 388.2 464.1 388.0 465.1 388.0 466.2 388.0 467.2 388.1 470.5 388.6 473.7 389.1 477.0 389.7 480.2 390.4 483.3 391.1 486.4 391.9 489.3 392.7 492.2 393.6 495.0 394.5 497.7 395.5 500.2 396.5 502.6 397.5 504.8 398.6 506.9 399.7 508.8 400.8 510.5 402.0 512.1 403.1 513.4 404.3 514.6 405.5 515.5 406.7 516.3 407.9 516.8 409.1 517.1 410.3 517.2 411.6 517.1 412.7 516.9 413.7 516.6 414.7 516.1 415.7 515.5 416.6 514.8 417.5 513.9 418.4 512.9 419.2 511.8 419.9 510.6 420.6 509.2 421.3 507.8 421.9 506.2 422.4 504.6 422.9 502.9 423.2 501.1 423.6 499.2 423.8 497.3 424.0 495.4 424.1 493.3 424.2 491.3 424.1 489.2 424.0 487.1 423.8 485.0 423.6 482.8 423.3 480.6 422.9 478.4 422.4 476.3 421.9 474.1 421.3 472.1 420.6 470.1 419.9 468.1 419.2 466.2 418.3 464.4 417.5 462.7 416.6 461.1 415.6 459.6 414.7 458.2 413.6 456.9 412.6 455.7 411.5 454.7 410.5 453.8 409.4 453.0 408.3 452.3 407.2 451.8 406.1 451.5 405.0 451.3 403.9 451.2 402.8 M452.4 402.8 452.4 401.9 452.5 401.0 452.7 400.1 452.9 399.2 453.2 398.4 453.6 397.6 454.0 396.8 454.5 396.1 455.1 395.4 455.7 394.7 456.3 394.1 457.0 393.5 457.8 393.0 458.6 392.6 459.4 392.1 460.3 391.8 461.2 391.5 462.1 391.2 463.1 391.1 464.1 390.9 465.1 390.9 466.1 390.9 467.1 390.9 468.2 391.1 471.3 391.6 474.4 392.1 477.4 392.7 480.5 393.4 483.4 394.1 486.4 394.8 489.2 395.6 491.9 396.4 494.6 397.3 497.1 398.2 499.5 399.1 501.8 400.0 503.9 401.0 505.9 402.0 507.7 403.0 509.3 404.0 510.8 405.0 512.1 406.0 513.2 407.1 514.1 408.1 514.8 409.1 515.3 410.1 515.6 411.1 515.7 412.2 515.7 413.2 515.5 414.1 515.1 415.0 514.7 415.9 514.1 416.8 513.4 417.6 512.5 418.4 511.6 419.1 510.5 419.8 509.3 420.4 508.0 421.0 506.7 421.5 505.2 422.0 503.6 422.4 502.0 422.7 500.2 423.0 498.5 423.2 496.6 423.3 494.7 423.4 492.8 423.4 490.8 423.3 488.8 423.2 486.8 423.0 484.8 422.7 482.7 422.3 480.6 421.9 478.5 421.5 476.4 420.9 474.4 420.3 472.4 419.7 470.5 419.0 468.6 418.3 466.8 417.5 465.1 416.7 463.4 415.8 461.9 414.9 460.4 413.9 459.1 413.0 457.9 412.0 456.7 411.0 455.7 410.0 454.9 408.9 454.1 407.9 453.5 406.9 453.0 405.8 452.7 404.8 452.5 403.8 452.4 402.8 M450.9 402.8 451.0 401.9 451.1 401.0 451.2 400.2 451.5 399.3 451.7 398.5 452.1 397.7 452.5 397.0 453.0 396.3 453.5 395.6 454.1 394.9 454.7 394.4 455.4 393.8 456.1 393.3 456.8 392.9 457.7 392.5 458.5 392.1 459.4 391.8 460.3 391.6 461.2 391.4 462.1 391.3 463.1 391.3 464.1 391.3 465.0 391.3 466.0 391.5 469.2 392.0 472.4 392.6 475.5 393.2 478.6 393.9 481.6 394.6 484.6 395.4 487.5 396.2 490.3 397.1 493.0 397.9 495.5 398.9 498.0 399.8 500.3 400.8 502.5 401.8 504.5 402.8 506.3 403.8 508.0 404.8 509.5 405.8 510.8 406.8 511.9 407.8 512.8 408.9 513.6 409.8 514.1 410.8 514.4 411.8 514.5 412.8 514.4 413.3 514.2 413.9 513.9 414.4 513.4 414.9 512.8 415.3 512.1 415.8 511.3 416.2 510.3 416.5 509.2 416.8 508.1 417.1 506.8 417.4 505.4 417.6 503.9 417.7 502.3 417.9 500.7 417.9 499.0 418.0 497.2 418.0 495.3 417.9 493.4 417.8 491.5 417.7 489.5 417.5 487.5 417.3 485.4 417.0 483.4 416.7 481.3 416.4 479.2 416.0 477.1 415.6 475.0 415.1 473.0 414.6 471.0 414.1 469.1 413.6 467.2 413.0 465.4 412.4 463.6 411.8 462.0 411.2 460.5 410.5 459.0 409.9 457.7 409.2 456.4 408.6 455.3 407.9 454.3 407.2 453.4 406.6 452.7 405.9 452.1 405.3 451.6 404.6 451.2 404.0 451.0 403.4 450.9 402.8 M452.0 402.8 452.0 401.8 452.1 400.9 452.3 400.0 452.5 399.1 452.8 398.2 453.1 397.4 453.5 396.6 453.9 395.8 454.4 395.1 455.0 394.4 455.6 393.7 456.2 393.1 456.9 392.6 457.6 392.1 458.4 391.7 459.2 391.3 460.0 391.0 460.9 390.8 461.7 390.6 462.6 390.5 463.6 390.4 464.5 390.4 465.4 390.5 466.4 390.6 469.4 391.2 472.4 391.8 475.4 392.5 478.3 393.2 481.2 394.0 484.0 394.8 486.8 395.7 489.5 396.6 492.0 397.6 494.5 398.6 496.8 399.6 499.0 400.6 501.1 401.7 503.0 402.8 504.8 403.8 506.4 404.9 507.8 406.0 509.1 407.1 510.1 408.2 511.0 409.3 511.7 410.3 512.2 411.4 512.5 412.4 512.6 413.4 512.5 414.1 512.3 414.8 512.0 415.4 511.5 416.1 510.9 416.7 510.2 417.2 509.4 417.7 508.4 418.2 507.3 418.7 506.1 419.0 504.9 419.4 503.5 419.7 502.0 419.9 500.4 420.1 498.8 420.2 497.0 420.3 495.2 420.4 493.4 420.3 491.5 420.3 489.5 420.1 487.5 420.0 485.5 419.7 483.5 419.4 481.5 419.1 479.6 418.8 477.6 418.3 475.7 417.9 473.9 417.4 472.0 416.9 470.2 416.3 468.4 415.7 466.7 415.0 465.1 414.4 463.5 413.7 462.0 413.0 460.6 412.2 459.3 411.4 458.1 410.7 457.0 409.9 455.9 409.1 455.0 408.3 454.2 407.5 453.6 406.7 453.0 405.9 452.6 405.1 452.2 404.3 452.1 403.5 452.0 402.8" stroke="#975aae" stroke-width="0.9" fill="none"/>
<path d="M76.00 689.0 76.11 688.9 76.21 687.9 76.32 688.0 76.43 687.6 76.53 687.5 76.64 687.7 76.75 688.5 76.85 687.7 76.96 687.4 77.07 686.3 77.17 684.8 77.28 683.4 77.39 681.6 77.49 679.2 77.60 677.1 77.71 674.7 77.81 672.2 77.92 669.6 78.03 667.0 78.13 664.2 78.24 661.3 78.35 658.1 78.45 654.5 78.56 650.1 78.67 644.1 78.77 636.1 78.88 637.7 78.99 645.5 79.09 651.0 79.20 655.2 79.31 658.6 79.41 661.5 79.52 663.5 79.63 663.4 79.73 657.9 79.84 658.9 79.95 666.5 80.05 670.6 80.16 672.7 80.27 671.2 80.37 669.7 80.48 674.8 80.59 677.1 80.69 678.0 80.80 678.4 80.91 678.1 81.01 677.4 81.12 676.8 81.23 675.4 81.33 673.2 81.44 669.1 81.55 661.2 81.65 664.8 81.76 670.4 81.87 672.4 81.97 672.4 82.08 671.7 82.19 670.6 82.29 669.0 82.40 666.7 82.51 663.6 82.61 658.4 82.72 651.0 82.83 656.3 82.93 657.9 83.04 656.5 83.15 654.1 83.25 651.4 83.36 648.2 83.47 644.3 83.57 638.8 83.68 633.5 83.79 630.7 83.89 624.5 84.00 631.1 84.11 637.9 84.21 642.7 84.32 646.4 84.43 649.5 84.53 651.9 84.64 653.7 84.75 654.7 84.85 654.2 84.96 651.7 85.07 645.4 85.17 642.8 85.28 648.2 85.39 648.1 85.49 646.1 85.60 643.4 85.71 640.6 85.81 637.9 85.92 635.2 86.03 632.4 86.13 629.7 86.24 627.0 86.35 624.2 86.45 621.3 86.56 618.3 86.67 614.9 86.77 611.0 86.88 606.1 86.99 599.2 87.09 592.6 87.20 599.2 87.31 606.1 87.41 611.0 87.52 614.9 87.63 618.3 87.73 621.3 87.84 624.2 87.95 627.0 88.05 629.7 88.16 632.4 88.27 635.1 88.37 637.5 88.48 640.0 88.59 642.8 88.69 644.3 88.80 641.6 88.91 638.6 89.01 646.7 89.12 651.6 89.23 654.8 89.33 656.2 89.44 655.3 89.55 659.5 89.65 661.6 89.76 662.8 89.87 663.5 89.97 664.0 90.08 664.1 90.19 663.8 90.29 663.0 90.40 661.5 90.51 659.4 90.61 656.2 90.72 651.8 90.83 645.2 90.93 638.6 91.04 645.2 91.15 651.9 91.25 656.5 91.36 660.0 91.47 662.7 91.57 665.0 91.68 666.9 91.79 668.2 91.89 669.3 92.00 669.4 92.11 668.8 92.21 667.1 92.32 663.9 92.43 657.6 92.53 649.1 92.64 656.2 92.75 663.2 92.85 667.5 92.96 670.3 93.07 672.0 93.17 673.3 93.28 673.5 93.39 673.1 93.49 672.1 93.60 670.7 93.71 668.8 93.81 666.8 93.92 664.5 94.03 662.1 94.13 659.5 94.24 656.9 94.35 654.2 94.45 651.5 94.56 648.7 94.67 645.7 94.77 642.3 94.88 638.4 94.99 633.5 95.09 626.6 95.20 620.0 95.31 626.6 95.41 633.5 95.52 638.4 95.63 642.1 95.73 645.0 95.84 646.5 95.95 644.0 96.05 639.2 96.16 647.5 96.27 653.1 96.37 657.0 96.48 660.1 96.59 662.7 96.69 664.7 96.80 665.7 96.91 665.4 97.01 663.6 97.12 660.1 97.23 653.9 97.33 650.6 97.44 654.7 97.55 653.9 97.65 651.6 97.76 649.0 97.87 646.3 97.97 643.5 98.08 640.5 98.19 637.1 98.29 633.2 98.40 628.3 98.51 621.4 98.61 614.8 98.72 621.4 98.83 628.3 98.93 633.2 99.04 637.1 99.15 640.5 99.25 643.5 99.36 646.4 99.47 649.1 99.57 651.8 99.68 654.6 99.79 657.3 99.89 660.0 100.00 662.7 100.11 665.4 100.21 667.8 100.32 670.0 100.43 672.0 100.53 674.0 100.64 675.4 100.75 676.5 100.85 677.4 100.96 678.4 101.07 678.8 101.17 679.6 101.28 679.5 101.39 679.2 101.49 678.5 101.60 678.2 101.71 677.0 101.81 676.0 101.92 673.9 102.03 670.7 102.13 665.2 102.24 656.7 102.35 662.1 102.45 667.1 102.56 667.7 102.67 666.3 102.77 663.8 102.88 660.7 102.99 657.0 103.09 652.1 103.20 645.3 103.31 638.6 103.41 645.3 103.52 652.1 103.63 656.9 103.73 660.5 103.84 663.4 103.95 665.5 104.05 666.5 104.16 665.8 104.27 662.5 104.37 656.4 104.48 649.8 104.59 658.5 104.69 664.7 104.80 668.4 104.91 670.5 105.01 671.5 105.12 671.1 105.23 670.0 105.33 668.1 105.44 665.7 105.55 663.2 105.65 660.5 105.76 657.8 105.87 655.0 105.97 652.3 106.08 649.5 106.19 646.8 106.29 644.0 106.40 641.2 106.51 638.4 106.61 635.4 106.72 632.1 106.83 628.2 106.93 623.2 107.04 616.3 107.15 609.7 107.25 616.3 107.36 623.2 107.47 628.2 107.57 632.1 107.68 635.4 107.79 638.5 107.89 641.3 108.00 644.1 108.11 646.8 108.21 649.5 108.32 652.2 108.43 654.9 108.53 657.5 108.64 659.8 108.75 661.4 108.85 661.8 108.96 660.5 109.07 659.4 109.17 657.7 109.28 655.3 109.39 652.7 109.49 649.9 109.60 646.9 109.71 643.6 109.81 639.7 109.92 634.7 110.03 627.9 110.13 621.2 110.24 627.9 110.35 634.7 110.45 639.7 110.56 643.6 110.67 646.9 110.77 649.9 110.88 652.7 110.99 655.2 111.09 656.3 111.20 658.1 111.31 656.4 111.41 655.6 111.52 663.0 111.63 667.4 111.73 670.6 111.84 672.7 111.95 673.6 112.05 675.1 112.16 674.6 112.27 672.2 112.37 667.7 112.48 659.9 112.59 655.5 112.69 664.6 112.80 670.4 112.91 673.3 113.01 672.7 113.12 666.5 113.23 670.8 113.33 674.6 113.44 674.6 113.55 673.0 113.65 670.5 113.76 667.3 113.87 663.4 113.97 658.0 114.08 649.7 114.19 646.1 114.29 653.8 114.40 653.7 114.51 659.7 114.61 665.3 114.72 669.3 114.83 672.5 114.93 675.4 115.04 677.8 115.15 679.9 115.25 681.4 115.36 682.4 115.47 682.7 115.57 682.5 115.68 681.9 115.79 680.0 115.89 677.6 116.00 674.0 116.11 668.5 116.21 664.3 116.32 665.7 116.43 661.3 116.53 653.0 116.64 650.0 116.75 659.1 116.85 664.4 116.96 666.3 117.07 664.3 117.17 663.4 117.28 663.5 117.39 661.4 117.49 658.9 117.60 656.1 117.71 653.0 117.81 649.6 117.92 645.8 118.03 640.9 118.13 634.0 118.24 627.4 118.35 634.0 118.45 640.9 118.56 645.9 118.67 649.8 118.77 653.1 118.88 656.1 118.99 658.7 119.09 660.6 119.20 663.9 119.31 666.9 119.41 669.7 119.52 672.4 119.63 675.1 119.73 677.7 119.84 680.3 119.95 682.4 120.05 684.6 120.16 686.4 120.27 686.9 120.37 686.6 120.48 685.5 120.59 683.6 120.69 681.5 120.80 679.4 120.91 676.8 121.01 674.2 121.12 671.3 121.23 668.0 121.33 664.1 121.44 659.2 121.55 652.3 121.65 645.7 121.76 652.3 121.87 728.6 121.97 664.1 122.08 667.9 122.19 671.3 122.29 674.2 122.40 677.0 122.51 679.6 122.61 682.1 122.72 684.6 122.83 687.0 122.93 689.1 123.04 690.8 123.15 692.6 123.25 692.7 123.36 692.7 123.47 694.4 123.57 694.9 123.68 695.5 123.79 696.0 123.89 696.0 124.00 696.2 124.11 696.2 124.21 696.3 124.32 696.7 124.43 697.0 124.53 695.8 124.64 694.3 124.75 693.3 124.85 691.9 124.96 691.0 125.07 689.5 125.17 688.0 125.28 685.9 125.39 683.3 125.49 680.2 125.60 676.5 125.71 671.7 125.81 664.9 125.92 658.3 126.03 664.9 126.13 671.7 126.24 676.5 126.35 680.1 126.45 682.3 126.56 682.4 126.67 685.4 126.77 686.4 126.88 684.7 126.99 679.5 127.09 673.7 127.20 713.1 127.31 686.2 127.41 689.8 127.52 692.2 127.63 694.2 127.73 694.2 127.84 694.7 127.95 694.6 128.05 694.5 128.16 694.0 128.27 694.0 128.37 692.3 128.48 690.2 128.59 688.0 128.69 685.3 128.80 682.5 128.91 679.8 129.01 677.1 129.12 674.3 129.23 671.6 129.33 668.9 129.44 666.1 129.55 663.2 129.65 660.2 129.76 656.8 129.87 652.9 129.97 648.0 130.08 641.1 130.19 634.4 130.29 641.1 130.40 648.0 130.51 652.9 130.61 656.8 130.72 660.2 130.83 663.2 130.93 666.1 131.04 668.9 131.15 671.6 131.25 674.3 131.36 677.1 131.47 679.8 131.57 682.6 131.68 685.5 131.79 688.0 131.89 690.5 132.00 692.9 132.11 695.1 132.21 695.6 132.32 696.4 132.43 696.8 132.53 697.2 132.64 695.7 132.75 695.6 132.85 694.3 132.96 692.7 133.07 690.7 133.17 688.8 133.28 686.4 133.39 683.9 133.49 681.0 133.60 677.8 133.71 673.9 133.81 669.0 133.92 662.1 134.03 655.5 134.13 662.1 134.24 669.0 134.35 673.9 134.45 677.7 134.56 680.8 134.67 683.2 134.77 684.5 134.88 683.0 134.99 677.1 135.09 678.9 135.20 685.6 135.31 689.5 135.41 692.1 135.52 693.6 135.63 694.4 135.73 694.2 135.84 693.4 135.95 690.7 136.05 685.4 136.16 678.5 136.27 683.8 136.37 689.2 136.48 691.2 136.59 689.6 136.69 688.9 136.80 731.4 136.91 684.4 137.01 679.1 137.12 677.5 137.23 678.6 137.33 676.8 137.44 674.4 137.55 671.7 137.65 668.8 137.76 665.8 137.87 662.4 137.97 658.5 138.08 653.6 138.19 646.7 138.29 640.1 138.40 646.7 138.51 653.6 138.61 658.5 138.72 662.4 138.83 665.8 138.93 668.8 139.04 671.7 139.15 674.5 139.25 677.2 139.36 679.8 139.47 682.4 139.57 685.0 139.68 687.5 139.79 689.9 139.89 691.5 140.00 690.8 140.11 690.3 140.21 692.9 140.32 692.4 140.43 691.0 140.53 688.9 140.64 686.5 140.75 683.9 140.85 681.3 140.96 678.6 141.07 675.8 141.17 672.8 141.28 669.4 141.39 665.5 141.49 660.6 141.60 653.7 141.71 730.0 141.81 653.7 141.92 660.6 142.03 665.5 142.13 669.4 142.24 672.8 142.35 675.8 142.45 678.6 142.56 681.4 142.67 684.0 142.77 686.7 142.88 689.3 142.99 691.6 143.09 693.8 143.20 695.9 143.31 697.2 143.41 698.2 143.52 699.7 143.63 699.6 143.73 699.1 143.84 697.7 143.95 694.2 144.05 694.9 144.16 698.5 144.27 700.0 144.37 700.9 144.48 700.0 144.59 699.1 144.69 698.5 144.80 697.0 144.91 695.6 145.01 693.6 145.12 690.9 145.23 687.5 145.33 682.9 145.44 676.1 145.55 669.5 145.65 676.1 145.76 682.8 145.87 687.3 145.97 690.6 146.08 693.1 146.19 694.4 146.29 693.6 146.40 689.3 146.51 692.4 146.61 696.5 146.72 698.0 146.83 697.7 146.93 696.5 147.04 693.8 147.15 689.2 147.25 681.8 147.36 680.6 147.47 688.1 147.57 693.0 147.68 696.3 147.79 698.2 147.89 700.2 148.00 701.3 148.11 701.7 148.21 700.2 148.32 699.8 148.43 697.9 148.53 695.8 148.64 693.7 148.75 691.6 148.85 688.8 148.96 685.9 149.07 682.2 149.17 677.4 149.28 670.5 149.39 663.9 149.49 670.5 149.60 677.4 149.71 682.2 149.81 686.0 149.92 689.1 150.03 691.9 150.13 694.3 150.24 696.6 150.35 698.4 150.45 699.5 150.56 700.7 150.67 701.6 150.77 702.0 150.88 703.2 150.99 703.8 151.09 703.9 151.20 703.4 151.31 703.5 151.41 703.1 151.52 702.8 151.63 702.8 151.73 703.1 151.84 702.4 151.95 702.3 152.05 702.2 152.16 701.8 152.27 701.1 152.37 700.2 152.48 698.4 152.59 696.6 152.69 694.2 152.80 737.0 152.91 687.6 153.01 682.9 153.12 676.1 153.23 669.5 153.33 676.1 153.44 682.9 153.55 687.6 153.65 691.3 153.76 694.1 153.87 696.3 153.97 697.9 154.08 699.8 154.19 701.3 154.29 702.8 154.40 703.7 154.51 704.7 154.61 705.2 154.72 705.3 154.83 704.6 154.93 704.9 155.04 704.5 155.15 703.7 155.25 703.3 155.36 704.1 155.47 704.2 155.57 704.9 155.68 706.3 155.79 706.5 155.89 706.4 156.00 706.7 156.11 705.7 156.21 704.5 156.32 704.2 156.43 703.5 156.53 703.0 156.64 701.4 156.75 699.0 156.85 695.0 156.96 688.6 157.07 682.1 157.17 688.5 157.28 694.7 157.39 698.7 157.49 701.3 157.60 702.8 157.71 704.0 157.81 705.3 157.92 706.0 158.03 706.2 158.13 706.7 158.24 707.9 158.35 707.6 158.45 707.5 158.56 707.4 158.67 707.1 158.77 706.0 158.88 705.6 158.99 704.6 159.09 702.8 159.20 700.7 159.31 698.5 159.41 695.9 159.52 693.4 159.63 690.9 159.73 688.3 159.84 685.5 159.95 682.5 160.05 679.2 160.16 675.3 160.27 670.4 160.37 663.5 160.48 656.9 160.59 663.5 160.69 670.4 160.80 675.4 160.91 679.2 161.01 682.5 161.12 685.5 161.23 688.3 161.33 723.0 161.44 693.5 161.55 695.8 161.65 697.9 161.76 699.9 161.87 701.7 161.97 703.5 162.08 705.4 162.19 706.2 162.29 706.8 162.40 707.7 162.51 708.4 162.61 708.1 162.72 707.9 162.83 707.5 162.93 706.6 163.04 705.6 163.15 704.4 163.25 703.7 163.36 703.1 163.47 702.0 163.57 700.4 163.68 698.7 163.79 695.9 163.89 691.9 164.00 689.9 164.11 685.7 164.21 678.9 164.32 672.4 164.43 679.0 164.53 685.7 164.64 690.5 164.75 694.1 164.85 696.9 164.96 699.3 165.07 701.0 165.17 702.8 165.28 704.0 165.39 704.8 165.49 705.4 165.60 705.8 165.71 705.1 165.81 706.1 165.92 706.9 166.03 707.4 166.13 707.6 166.24 708.0 166.35 707.2 166.45 704.9 166.56 700.0 166.67 696.5 166.77 702.4 166.88 705.0 166.99 706.3 167.09 706.6 167.20 706.9 167.31 706.1 167.41 705.6 167.52 704.3 167.63 702.4 167.73 700.0 167.84 697.0 167.95 692.5 168.05 685.9 168.16 679.3 168.27 685.9 168.37 692.4 168.48 697.0 168.59 700.3 168.69 702.8 168.80 704.4 168.91 705.4 169.01 706.5 169.12 706.9 169.23 707.9 169.33 708.3 169.44 708.8 169.55 708.9 169.65 709.1 169.76 708.7 169.87 708.8 169.97 708.3 170.08 706.9 170.19 706.1 170.29 705.2 170.40 703.9 170.51 701.8 170.61 698.5 170.72 692.2 170.83 690.0 170.93 695.8 171.04 697.6 171.15 696.7 171.25 694.7 171.36 692.2 171.47 689.4 171.57 686.2 171.68 682.3 171.79 677.4 171.89 670.6 172.00 663.9 172.11 670.6 172.21 677.4 172.32 681.9 172.43 685.2 172.53 688.7 172.64 691.3 172.75 694.2 172.85 695.7 172.96 698.1 173.07 700.9 173.17 703.0 173.28 705.3 173.39 706.8 173.49 707.6 173.60 708.7 173.71 709.0 173.81 708.3 173.92 707.9 174.03 708.7 174.13 708.5 174.24 708.0 174.35 708.4 174.45 708.7 174.56 707.8 174.67 707.2 174.77 707.1 174.88 706.4 174.99 728.6 175.09 704.9 175.20 703.5 175.31 701.4 175.41 698.5 175.52 694.6 175.63 689.4 175.73 684.2 175.84 677.9 175.95 684.5 176.05 691.1 176.16 695.6 176.27 698.9 176.37 701.6 176.48 703.4 176.59 705.1 176.69 706.6 176.80 707.5 176.91 708.0 177.01 708.5 177.12 708.9 177.23 708.4 177.33 709.0 177.44 709.5 177.55 710.1 177.65 710.8 177.76 711.6 177.87 711.7 177.97 711.6 178.08 710.4 178.19 709.8 178.29 709.5 178.40 709.1 178.51 708.3 178.61 707.7 178.72 706.5 178.83 705.1 178.93 703.3 179.04 701.0 179.15 698.6 179.25 695.6 179.36 691.9 179.47 687.1 179.57 680.4 179.68 673.8 179.79 680.4 179.89 687.2 180.00 691.9 180.11 695.6 180.21 698.5 180.32 700.9 180.43 703.2 180.53 705.0 180.64 706.3 180.75 707.4 180.85 709.1 180.96 709.0 181.07 709.9 181.17 710.2 181.28 710.0 181.39 710.0 181.49 710.6 181.60 710.8 181.71 711.4 181.81 712.0 181.92 711.5 182.03 710.3 182.13 708.8 182.24 704.8 182.35 701.5 182.45 706.7 182.56 708.9 182.67 709.0 182.77 708.0 182.88 707.4 182.99 706.4 183.09 705.1 183.20 702.9 183.31 699.0 183.41 692.8 183.52 686.3 183.63 692.8 183.73 699.1 183.84 703.3 183.95 705.8 184.05 707.4 184.16 708.7 184.27 709.7 184.37 710.0 184.48 710.9 184.59 711.3 184.69 711.3 184.80 720.1 184.91 711.6 185.01 711.8 185.12 711.7 185.23 711.7 185.33 711.5 185.44 711.0 185.55 710.8 185.65 710.7 185.76 708.7 185.87 704.8 185.97 708.6 186.08 710.7 186.19 710.8 186.29 711.1 186.40 710.8 186.51 711.2 186.61 711.0 186.72 711.0 186.83 710.4 186.93 709.9 187.04 708.4 187.15 705.7 187.25 700.4 187.36 694.5 187.47 700.6 187.57 705.8 187.68 708.7 187.79 710.5 187.89 711.2 188.00 711.1 188.11 710.6 188.21 710.4 188.32 710.1 188.43 710.3 188.53 711.5 188.64 712.1 188.75 712.2 188.85 712.3 188.96 712.5 189.07 711.5 189.17 711.1 189.28 711.0 189.39 710.6 189.49 710.2 189.60 708.5 189.71 705.5 189.81 708.5 189.92 710.2 190.03 710.6 190.13 711.1 190.24 711.4 190.35 711.2 190.45 711.0 190.56 710.5 190.67 709.4 190.77 707.9 190.88 705.9 190.99 702.7 191.09 696.7 191.20 690.5 191.31 696.8 191.41 702.8 191.52 706.1 191.63 708.5 191.73 709.8 191.84 710.8 191.95 711.6 192.05 737.0 192.16 713.5 192.27 714.1 192.37 714.0 192.48 713.4 192.59 713.2 192.69 712.9 192.80 712.8 192.91 713.0 193.01 713.1 193.12 713.0 193.23 713.1 193.33 712.8 193.44 712.4 193.55 712.8 193.65 712.4 193.76 713.0 193.87 712.4 193.97 712.2 194.08 711.6 194.19 710.5 194.29 708.5 194.40 706.8 194.51 704.6 194.61 701.9 194.72 698.6 194.83 694.0 194.93 687.3 195.04 680.8 195.15 687.3 195.25 694.0 195.36 698.6 195.47 702.0 195.57 704.5 195.68 706.5 195.79 708.0 195.89 709.2 196.00 709.7 196.11 710.2 196.21 710.2 196.32 707.2 196.43 705.1 196.53 710.0 196.64 712.0 196.75 712.1 196.85 712.8 196.96 713.0 197.07 713.4 197.17 713.3 197.28 713.4 197.39 713.3 197.49 713.3 197.60 712.7 197.71 712.7 197.81 712.6 197.92 712.5 198.03 712.9 198.13 712.9 198.24 712.9 198.35 712.6 198.45 712.4 198.56 711.2 198.67 710.2 198.77 707.1 198.88 702.2 198.99 707.1 199.09 710.8 199.20 712.4 199.31 713.4 199.41 713.5 199.52 713.8 199.63 713.7 199.73 713.6 199.84 713.1 199.95 713.4 200.05 713.5 200.16 714.0 200.27 714.2 200.37 714.1 200.48 714.9 200.59 715.0 200.69 714.4 200.80 714.0 200.91 714.3 201.01 713.8 201.12 714.0 201.23 713.8 201.33 714.0 201.44 713.7 201.55 712.9 201.65 711.9 201.76 711.5 201.87 710.3 201.97 708.1 202.08 703.5 202.19 702.5 202.29 704.9 202.40 703.2 202.51 699.3 202.61 692.8 202.72 686.3 202.83 692.7 202.93 699.1 203.04 703.6 203.15 706.7 203.25 708.8 203.36 710.5 203.47 711.6 203.57 712.7 203.68 713.6 203.79 714.6 203.89 714.9 204.00 723.0 204.11 714.7 204.21 714.7 204.32 714.3 204.43 714.3 204.53 714.5 204.64 714.9 204.75 714.9 204.85 715.2 204.96 715.0 205.07 715.0 205.17 714.6 205.28 714.8 205.39 713.9 205.49 713.9 205.60 713.5 205.71 713.0 205.81 712.0 205.92 711.2 206.03 709.3 206.13 706.9 206.24 703.8 206.35 699.5 206.45 692.9 206.56 686.4 206.67 692.9 206.77 699.5 206.88 703.9 206.99 707.1 207.09 709.4 207.20 710.9 207.31 712.3 207.41 713.5 207.52 713.7 207.63 714.1 207.73 714.6 207.84 714.5 207.95 714.2 208.05 714.8 208.16 714.0 208.27 712.4 208.37 708.6 208.48 711.4 208.59 712.8 208.69 713.9 208.80 714.2 208.91 714.7 209.01 714.9 209.12 715.3 209.23 715.0 209.33 715.2 209.44 715.2 209.55 715.4 209.65 715.5 209.76 715.3 209.87 715.5 209.97 714.9 210.08 713.7 210.19 711.7 210.29 707.9 210.40 702.5 210.51 707.9 210.61 712.1 210.72 714.5 210.83 715.3 210.93 715.8 211.04 716.0 211.15 716.1 211.25 715.9 211.36 716.1 211.47 716.1 211.57 715.6 211.68 715.6 211.79 715.4 211.89 715.3 212.00 715.0 212.11 715.3 212.21 714.9 212.32 714.8 212.43 714.8 212.53 714.9 212.64 715.0 212.75 715.3 212.85 715.4 212.96 715.9 213.07 715.8 213.17 715.9 213.28 715.8 213.39 715.2 213.49 714.9 213.60 714.4 213.71 713.6 213.81 712.9 213.92 711.2 214.03 707.9 214.13 702.2 214.24 696.0 214.35 702.2 214.45 707.8 214.56 710.7 214.67 712.5 214.77 713.9 214.88 714.7 214.99 715.3 215.09 716.1 215.20 716.2 215.31 716.2 215.41 716.7 215.52 716.5 215.63 716.3 215.73 716.8 215.84 716.3 215.95 715.9 216.05 715.9 216.16 715.5 216.27 715.2 216.37 714.9 216.48 715.1 216.59 715.0 216.69 715.1 216.80 715.4 216.91 715.8 217.01 716.0 217.12 715.8 217.23 715.9 217.33 715.5 217.44 715.5 217.55 714.8 217.65 714.3 217.76 713.1 217.87 710.7 217.97 706.0 218.08 700.0 218.19 705.9 218.29 710.9 218.40 713.2 218.51 714.1 218.61 714.9 218.72 715.6 218.83 715.7 218.93 715.8 219.04 715.9 219.15 716.2 219.25 715.9 219.36 716.3 219.47 717.0 219.57 717.2 219.68 716.7 219.79 717.3 219.89 717.5 220.00 716.8 220.11 716.5 220.21 716.3 220.32 715.6 220.43 715.5 220.53 715.4 220.64 715.3 220.75 715.6 220.85 715.6 220.96 715.6 221.07 715.7 221.17 715.5 221.28 715.6 221.39 715.7 221.49 715.7 221.60 715.4 221.71 714.6 221.81 711.8 221.92 707.3 222.03 711.5 222.13 714.2 222.24 715.0 222.35 715.4 222.45 715.8 222.56 716.0 222.67 716.0 222.77 716.0 222.88 716.3 222.99 716.8 223.09 716.8 223.20 730.0 223.31 716.9 223.41 716.8 223.52 716.2 223.63 715.4 223.73 712.3 223.84 713.9 223.95 715.6 224.05 715.7 224.16 715.5 224.27 714.8 224.37 714.3 224.48 712.1 224.59 707.8 224.69 701.7 224.80 707.0 224.91 711.5 225.01 713.5 225.12 714.2 225.23 714.3 225.33 713.7 225.44 712.2 225.55 709.1 225.65 703.5 225.76 697.4 225.87 703.5 225.97 708.9 226.08 712.1 226.19 714.1 226.29 715.5 226.40 716.1 226.51 717.0 226.61 717.0 226.72 717.7 226.83 717.3 226.93 717.2 227.04 717.2 227.15 717.1 227.25 716.6 227.36 716.6 227.47 716.6 227.57 716.3 227.68 716.5 227.79 716.3 227.89 717.0 228.00 717.0 228.11 717.0 228.21 717.2 228.32 717.5 228.43 717.4 228.53 717.7 228.64 717.4 228.75 717.2 228.85 716.9 228.96 716.9 229.07 716.3 229.17 716.3 229.28 715.3 229.39 714.1 229.49 710.3 229.60 705.2 229.71 710.4 229.81 714.3 229.92 715.6 230.03 716.3 230.13 716.7 230.24 717.2 230.35 717.4 230.45 717.7 230.56 717.6 230.67 717.5 230.77 717.4 230.88 717.3 230.99 717.3 231.09 717.5 231.20 717.8 231.31 717.5 231.41 717.7 231.52 717.5 231.63 717.5 231.73 717.7 231.84 717.7 231.95 717.7 232.05 717.7 232.16 717.8 232.27 718.0 232.37 718.2 232.48 718.1 232.59 718.6 232.69 717.9 232.80 717.3 232.91 717.0 233.01 717.0 233.12 716.1 233.23 715.2 233.33 712.2 233.44 707.5 233.55 712.2 233.65 715.4 233.76 716.8 233.87 717.6 233.97 718.2 234.08 718.0 234.19 718.2 234.29 718.4 234.40 718.3 234.51 718.4 234.61 718.5 234.72 718.3 234.83 717.8 234.93 718.1 235.04 718.0 235.15 717.9 235.25 717.9 235.36 718.3 235.47 718.1 235.57 718.3 235.68 718.8 235.79 718.7 235.89 718.4 236.00 718.2 236.11 717.9 236.21 717.7 236.32 717.6 236.43 717.5 236.53 717.7 236.64 717.5 236.75 717.2 236.85 716.7 236.96 715.9 237.07 713.9 237.17 709.5 237.28 704.0 237.39 709.7 237.49 714.1 237.60 716.3 237.71 737.0 237.81 718.5 237.92 718.3 238.03 718.5 238.13 718.4 238.24 718.1 238.35 718.1 238.45 718.6 238.56 719.0 238.67 719.1 238.77 719.0 238.88 718.9 238.99 718.8 239.09 718.6 239.20 718.8 239.31 718.9 239.41 719.2 239.52 719.1 239.63 719.0 239.73 719.0 239.84 718.9 239.95 719.0 240.05 718.8 240.16 719.0 240.27 718.6 240.37 718.5 240.48 718.2 240.59 718.3 240.69 718.1 240.80 717.5 240.91 716.4 241.01 713.5 241.12 708.9 241.23 713.4 241.33 716.4 241.44 717.7 241.55 718.1 241.65 718.4 241.76 718.6 241.87 718.8 241.97 718.9 242.08 719.2 242.19 719.2 242.29 719.5 242.40 719.5 242.51 719.5 242.61 719.2 242.72 719.1 242.83 719.1 242.93 718.9 243.04 718.8 243.15 718.8 243.25 718.8 243.36 718.8 243.47 718.9 243.57 718.7 243.68 719.0 243.79 718.9 243.89 718.6 244.00 718.5 244.11 718.7 244.21 718.7 244.32 718.5 244.43 718.2 244.53 718.3 244.64 717.9 244.75 716.7 244.85 713.7 244.96 709.1 245.07 713.8 245.17 717.0 245.28 718.2 245.39 718.8 245.49 719.1 245.60 719.5 245.71 719.5 245.81 719.3 245.92 719.5 246.03 719.4 246.13 719.4 246.24 719.5 246.35 719.7 246.45 719.6 246.56 719.7 246.67 719.5 246.77 719.5 246.88 719.8 246.99 719.8 247.09 719.9 247.20 719.9 247.31 719.8 247.41 719.6 247.52 719.6 247.63 719.4 247.73 719.5 247.84 719.3 247.95 719.1 248.05 719.2 248.16 719.2 248.27 719.2 248.37 719.1 248.48 718.5 248.59 717.1 248.69 713.8 248.80 709.0 248.91 713.6 249.01 716.9 249.12 718.1 249.23 718.7 249.33 719.1 249.44 719.4 249.55 719.4 249.65 719.6 249.76 719.8 249.87 719.8 249.97 719.7 250.08 719.7 250.19 719.9 250.29 720.1 250.40 719.8 250.51 719.9 250.61 719.9 250.72 719.8 250.83 719.7 250.93 720.1 251.04 720.0 251.15 720.1 251.25 719.8 251.36 720.0 251.47 720.1 251.57 719.8 251.68 719.8 251.79 720.1 251.89 719.7 252.00 719.5 252.11 719.9 252.21 719.6 252.32 719.1 252.43 718.3 252.53 715.4 252.64 711.0 252.75 715.4 252.85 718.1 252.96 719.0 253.07 719.5 253.17 719.7 253.28 719.9 253.39 719.9 253.49 719.9 253.60 719.9 253.71 720.0 253.81 720.0 253.92 720.2 254.03 720.3 254.13 720.3 254.24 720.4 254.35 720.2 254.45 720.3 254.56 720.2 254.67 720.3 254.77 720.0 254.88 720.2 254.99 720.1 255.09 720.2 255.20 720.2 255.31 720.3 255.41 720.1 255.52 720.2 255.63 720.1 255.73 720.1 255.84 720.2 255.95 720.0 256.05 719.8 256.16 719.4 256.27 718.2 256.37 715.2 256.48 710.7 256.59 715.2 256.69 718.0 256.80 719.0 256.91 719.4 257.01 719.6 257.12 720.0 257.23 720.1 257.33 720.4 257.44 720.5 257.55 720.4 257.65 720.1 257.76 720.1 257.87 719.7 257.97 719.8 258.08 720.0 258.19 720.3 258.29 720.6 258.40 720.7 258.51 720.6 258.61 720.6 258.72 720.4 258.83 720.2 258.93 720.5 259.04 720.5 259.15 720.6 259.25 720.6 259.36 720.6 259.47 720.4 259.57 720.3 259.68 720.0 259.79 719.8 259.89 719.4 260.00 718.8 260.11 717.3 260.21 713.6 260.32 708.4 260.43 713.6 260.53 717.3 260.64 718.9 260.75 719.7 260.85 720.1 260.96 720.2 261.07 720.5 261.17 720.7 261.28 720.7 261.39 720.6 261.49 720.9 261.60 720.8 261.71 720.6 261.81 720.6 261.92 720.6 262.03 720.6 262.13 720.5 262.24 720.7 262.35 720.7 262.45 720.8 262.56 720.7 262.67 720.7 262.77 720.7 262.88 720.9 262.99 720.9 263.09 720.9 263.20 720.9 263.31 720.8 263.41 720.6 263.52 720.6 263.63 720.4 263.73 720.3 263.84 719.9 263.95 719.1 264.05 716.7 264.16 712.7 264.27 716.8 264.37 719.2 264.48 720.1 264.59 720.4 264.69 720.4 264.80 720.7 264.91 720.9 265.01 721.0 265.12 721.0 265.23 721.0 265.33 721.0 265.44 721.1 265.55 721.1 265.65 721.2 265.76 721.2 265.87 721.1 265.97 721.0 266.08 721.0 266.19 720.9 266.29 721.0 266.40 721.0 266.51 721.1 266.61 721.0 266.72 721.2 266.83 721.1 266.93 721.0 267.04 721.0 267.15 721.0 267.25 720.9 267.36 720.8 267.47 720.9 267.57 720.8 267.68 720.4 267.79 719.6 267.89 717.2 268.00 713.0 268.11 717.2 268.21 719.6 268.32 720.5 268.43 720.7 268.53 720.8 268.64 720.9 268.75 721.1 268.85 721.0 268.96 721.2 269.07 721.3 269.17 721.3 269.28 721.1 269.39 721.2 269.49 721.1 269.60 721.0 269.71 721.2 269.81 721.3 269.92 721.3 270.03 721.4 270.13 721.5 270.24 721.4 270.35 721.4 270.45 721.3 270.56 721.3 270.67 721.3 270.77 721.3 270.88 721.3 270.99 721.4 271.09 721.4 271.20 721.3 271.31 721.2 271.41 720.9 271.52 720.6 271.63 719.6 271.73 717.1 271.84 713.0 271.95 717.2 272.05 719.8 272.16 720.7 272.27 721.1 272.37 721.3 272.48 721.4 272.59 721.4 272.69 721.5 272.80 721.5 272.91 721.5 273.01 721.6 273.12 721.6 273.23 721.6 273.33 721.7 273.44 721.7 273.55 721.7 273.65 721.8 273.76 721.7 273.87 721.8 273.97 721.8 274.08 721.8 274.19 721.8 274.29 721.7 274.40 721.7 274.51 721.7 274.61 721.8 274.72 721.8 274.83 721.9 274.93 721.8 275.04 721.9 275.15 721.8 275.25 721.7 275.36 721.4 275.47 721.0 275.57 719.3 275.68 716.2 275.79 719.3 275.89 720.9 276.00 721.4 276.11 721.7 276.21 721.8 276.32 721.8 276.43 721.9 276.53 722.0 276.64 722.0 276.75 721.9 276.85 722.0 276.96 722.0 277.07 721.9 277.17 721.9 277.28 721.9 277.39 721.9 277.49 721.8 277.60 721.9 277.71 721.9 277.81 722.0 277.92 722.1 278.03 722.1 278.13 722.1 278.24 722.1 278.35 722.0 278.45 721.9 278.56 722.0 278.67 721.9 278.77 721.9 278.88 721.9 278.99 721.8 279.09 721.7 279.20 721.4 279.31 720.7 279.41 718.5 279.52 714.7 279.63 718.6 279.73 720.7 279.84 721.5 279.95 721.9 280.05 722.0 280.16 722.0 280.27 722.2 280.37 722.2 280.48 722.2 280.59 722.3 280.69 722.2 280.80 722.2 280.91 722.2 281.01 722.2 281.12 722.2 281.23 722.2 281.33 722.2 281.44 722.3 281.55 722.3 281.65 722.3 281.76 722.3 281.87 722.4 281.97 722.4 282.08 722.4 282.19 722.3 282.29 722.3 282.40 722.3 282.51 722.3 282.61 722.3 282.72 722.4 282.83 722.3 282.93 722.1 283.04 721.7 283.15 720.9 283.25 718.5 283.36 714.4 283.47 718.5 283.57 720.9 283.68 721.7 283.79 722.1 283.89 722.3 284.00 722.4 284.11 722.6 284.21 722.6 284.32 722.6 284.43 722.7 284.53 722.7 284.64 722.6 284.75 722.6 284.85 722.5 284.96 722.5 285.07 722.5 285.17 722.5 285.28 722.5 285.39 722.5 285.49 722.4 285.60 722.4 285.71 722.5 285.81 722.4 285.92 722.4 286.03 722.5 286.13 722.5 286.24 722.5 286.35 722.6 286.45 722.7 286.56 722.7 286.67 722.6 286.77 722.4 286.88 722.0 286.99 720.9 287.09 718.2 287.20 713.8 287.31 718.2 287.41 720.8 287.52 721.8 287.63 722.2 287.73 722.4 287.84 722.6 287.95 722.6 288.05 722.7 288.16 722.7 288.27 722.9 288.37 722.9 288.48 722.9 288.59 723.0 288.69 723.0 288.80 722.9 288.91 722.9 289.01 723.0 289.12 722.9 289.23 722.9 289.33 722.9 289.44 722.9 289.55 722.9 289.65 723.0 289.76 723.0 289.87 723.1 289.97 723.1 290.08 723.1 290.19 723.2 290.29 723.2 290.40 723.1 290.51 723.1 290.61 722.9 290.72 722.8 290.83 722.3 290.93 721.2 291.04 718.8 291.15 721.2 291.25 722.3 291.36 722.7 291.47 722.9 291.57 723.0 291.68 723.1 291.79 723.2 291.89 723.3 292.00 723.3 292.11 723.2 292.21 723.1 292.32 723.1 292.43 723.1 292.53 723.1 292.64 723.2 292.75 723.2 292.85 723.3 292.96 723.3 293.07 723.3 293.17 723.3 293.28 723.3 293.39 723.4 293.49 723.4 293.60 723.4 293.71 723.3 293.81 723.3 293.92 723.3 294.03 723.3 294.13 723.3 294.24 723.3 294.35 723.3 294.45 723.2 294.56 723.0 294.67 722.6 294.77 721.2 294.88 718.3 294.99 721.2 295.09 722.6 295.20 723.1 295.31 723.3 295.41 723.3 295.52 723.4 295.63 723.4 295.73 723.4 295.84 723.5 295.95 723.6 296.05 723.5 296.16 723.6 296.27 723.6 296.37 723.6 296.48 723.5 296.59 723.5 296.69 723.5 296.80 723.5 296.91 723.5 297.01 723.5 297.12 723.5 297.23 723.5 297.33 723.4 297.44 723.5 297.55 723.6 297.65 723.6 297.76 723.6 297.87 723.7 297.97 723.7 298.08 723.6 298.19 723.6 298.29 723.6 298.40 723.4 298.51 723.2 298.61 722.2 298.72 719.8 298.83 722.1 298.93 723.1 299.04 723.4 299.15 723.4 299.25 723.6 299.36 723.7 299.47 723.7 299.57 723.7 299.68 723.8 299.79 723.8 299.89 723.9 300.00 723.9 300.11 723.9 300.21 723.9 300.32 724.0 300.43 723.9 300.53 724.0 300.64 724.1 300.75 724.1 300.85 724.0 300.96 724.0 301.07 723.9 301.17 723.9 301.28 723.9 301.39 723.9 301.49 723.9 301.60 723.9 301.71 723.8 301.81 723.8 301.92 723.8 302.03 723.8 302.13 723.7 302.24 723.4 302.35 722.6 302.45 720.2 302.56 716.2 302.67 720.2 302.77 722.5 302.88 723.3 302.99 723.6 303.09 723.9 303.20 724.0 303.31 724.1 303.41 724.2 303.52 724.2 303.63 724.1 303.73 724.1 303.84 724.0 303.95 724.0 304.05 724.1 304.16 724.2 304.27 724.3 304.37 724.3 304.48 724.2 304.59 724.2 304.69 724.1 304.80 724.1 304.91 724.1 305.01 724.2 305.12 724.2 305.23 724.2 305.33 724.2 305.44 724.2 305.55 724.2 305.65 724.2 305.76 724.2 305.87 724.2 305.97 724.0 306.08 723.8 306.19 723.2 306.29 721.2 306.40 717.5 306.51 721.1 306.61 723.1 306.72 723.7 306.83 724.1 306.93 724.2 307.04 724.3 307.15 724.3 307.25 724.5 307.36 724.4 307.47 724.5 307.57 724.5 307.68 724.5 307.79 724.5 307.89 724.6 308.00 724.5 308.11 724.5 308.21 724.4 308.32 724.4 308.43 724.4 308.53 724.4 308.64 724.4 308.75 724.5 308.85 724.5 308.96 724.5 309.07 724.4 309.17 724.5 309.28 724.5 309.39 724.4 309.49 724.4 309.60 724.4 309.71 724.4 309.81 724.4 309.92 724.4 310.03 724.3 310.13 723.5 310.24 721.5 310.35 723.5 310.45 724.3 310.56 724.5 310.67 724.6 310.77 724.7 310.88 724.8 310.99 724.8 311.09 724.8 311.20 724.8 311.31 724.9 311.41 724.8 311.52 724.9 311.63 724.9 311.73 725.0 311.84 724.9 311.95 724.9 312.05 724.8 312.16 724.7 312.27 724.6 312.37 724.7 312.48 724.8 312.59 724.8 312.69 724.8 312.80 724.9 312.91 724.9 313.01 724.8 313.12 724.9 313.23 724.9 313.33 724.8 313.44 724.8 313.55 724.7 313.65 724.6 313.76 724.2 313.87 723.3 313.97 720.8 314.08 716.6 314.19 720.8 314.29 723.3 314.40 724.2 314.51 724.6 314.61 724.9 314.72 724.9 314.83 725.0 314.93 725.0 315.04 725.0 315.15 725.0 315.25 725.0 315.36 725.0 315.47 725.0 315.57 725.1 315.68 725.1 315.79 725.1 315.89 725.2 316.00 725.1 316.11 725.2 316.21 725.2 316.32 725.2 316.43 725.2 316.53 725.3 316.64 725.2 316.75 725.2 316.85 725.2 316.96 725.1 317.07 725.1 317.17 725.2 317.28 725.1 317.39 725.0 317.49 724.9 317.60 724.5 317.71 723.6 317.81 721.3 317.92 717.3 318.03 721.4 318.13 723.7 318.24 724.6 318.35 724.9 318.45 725.1 318.56 725.2 318.67 725.3 318.77 725.3 318.88 725.4 318.99 725.4 319.09 725.3 319.20 725.3 319.31 725.3 319.41 725.3 319.52 725.4 319.63 725.5 319.73 725.5 319.84 725.5 319.95 725.5 320.05 725.5 320.16 725.5 320.27 725.5 320.37 725.5 320.48 725.5 320.59 725.5 320.69 725.5 320.80 725.4 320.91 725.5 321.01 725.6 321.12 725.5 321.23 725.5 321.33 725.5 321.44 725.2 321.55 724.7 321.65 723.1 321.76 720.0 321.87 723.1 321.97 724.8 322.08 725.3 322.19 725.5 322.29 725.6 322.40 725.6 322.51 725.6 322.61 725.7 322.72 725.7 322.83 725.7 322.93 725.7 323.04 725.8 323.15 725.8 323.25 725.8 323.36 725.9 323.47 725.9 323.57 725.8 323.68 725.9 323.79 725.9 323.89 725.8 324.00 725.8 324.11 725.9 324.21 725.8 324.32 725.9 324.43 725.9 324.53 725.9 324.64 725.9 324.75 725.9 324.85 725.8 324.96 725.7 325.07 725.7 325.17 725.6 325.28 725.4 325.39 725.0 325.49 723.6 325.60 720.7 325.71 723.6 325.81 725.1 325.92 725.7 326.03 725.9 326.13 725.9 326.24 726.0 326.35 726.1 326.45 726.1 326.56 726.0 326.67 726.1 326.77 726.0 326.88 725.9 326.99 725.9 327.09 725.9 327.20 726.0 327.31 726.0 327.41 726.0 327.52 726.0 327.63 726.1 327.73 726.1 327.84 726.1 327.95 726.2 328.05 726.2 328.16 726.2 328.27 726.2 328.37 726.3 328.48 726.3 328.59 726.3 328.69 726.2 328.80 726.2 328.91 726.1 329.01 726.1 329.12 726.0 329.23 725.8 329.33 725.1 329.44 723.3 329.55 725.0 329.65 725.8 329.76 726.0 329.87 726.1 329.97 726.2 330.08 726.3 330.19 726.3 330.29 726.3 330.40 726.3 330.51 726.3 330.61 726.3 330.72 726.4 330.83 726.4 330.93 726.4 331.04 726.4 331.15 726.4 331.25 726.4 331.36 726.5 331.47 726.5 331.57 726.5 331.68 726.5 331.79 726.5 331.89 726.5 332.00 726.5" stroke="#5f53aa" stroke-width="0.85" fill="none" stroke-linejoin="round"/>
<path d="M412.80 677.5 412.93 677.1 413.06 676.4 413.18 676.6 413.31 677.9 413.44 678.3 413.57 678.5 413.70 679.1 413.82 678.3 413.95 677.4 414.08 677.7 414.21 677.3 414.34 675.6 414.47 675.6 414.59 674.3 414.72 672.3 414.85 670.1 414.98 667.5 415.11 663.9 415.23 659.4 415.36 653.1 415.49 643.5 415.62 632.7 415.75 643.5 415.87 653.0 416.00 659.2 416.13 663.6 416.26 667.0 416.39 669.7 416.51 671.2 416.64 672.4 416.77 673.1 416.90 672.8 417.03 672.4 417.16 671.6 417.28 670.1 417.41 667.6 417.54 663.0 417.67 653.0 417.80 656.7 417.92 664.1 418.05 666.5 418.18 666.9 418.31 667.0 418.44 666.5 418.56 665.8 418.69 665.4 418.82 664.8 418.95 664.0 419.08 663.3 419.20 662.6 419.33 661.7 419.46 660.8 419.59 659.8 419.72 658.8 419.85 657.6 419.97 656.2 420.10 654.6 420.23 652.5 420.36 649.3 420.49 644.2 420.61 634.6 420.74 630.5 420.87 641.1 421.00 646.0 421.13 647.7 421.25 647.9 421.38 647.2 421.51 646.0 421.64 644.4 421.77 642.5 421.90 640.1 422.02 637.4 422.15 634.4 422.28 631.1 422.41 627.6 422.54 623.8 422.66 619.7 422.79 615.2 422.92 609.9 423.05 603.1 423.18 593.3 423.30 582.4 423.43 593.3 423.56 603.1 423.69 609.9 423.82 615.2 423.94 619.7 424.07 623.8 424.20 627.6 424.33 631.1 424.46 634.4 424.59 637.4 424.71 640.1 424.84 642.3 424.97 644.1 425.10 645.5 425.23 646.1 425.35 645.9 425.48 644.0 425.61 639.5 425.74 629.8 425.87 625.7 425.99 637.3 426.12 644.4 426.25 648.7 426.38 651.8 426.51 654.0 426.63 655.7 426.76 657.2 426.89 658.4 427.02 659.3 427.15 660.3 427.28 661.1 427.40 661.8 427.53 662.4 427.66 662.9 427.79 663.0 427.92 662.5 428.04 660.9 428.17 657.2 428.30 648.4 428.43 644.5 428.56 655.4 428.68 661.2 428.81 664.3 428.94 665.9 429.07 666.7 429.20 667.0 429.32 667.2 429.45 666.6 429.58 665.9 429.71 664.6 429.84 663.0 429.97 660.7 430.09 658.1 430.22 655.0 430.35 651.4 430.48 647.1 430.61 642.0 430.73 635.4 430.86 625.6 430.99 614.8 431.12 625.6 431.25 635.3 431.37 641.9 431.50 646.8 431.63 650.8 431.76 653.8 431.89 655.9 432.01 656.9 432.14 656.7 432.27 655.4 432.40 653.2 432.53 650.3 432.66 646.9 432.78 643.2 432.91 639.1 433.04 634.4 433.17 628.7 433.30 621.2 433.42 609.9 433.55 605.6 433.68 618.0 433.81 626.5 433.94 632.6 434.06 637.6 434.19 641.9 434.32 645.9 434.45 649.5 434.58 652.8 434.71 655.8 434.83 658.4 434.96 660.6 435.09 662.4 435.22 663.6 435.35 664.2 435.47 664.1 435.60 663.6 435.73 662.0 435.86 659.1 435.99 654.5 436.11 646.9 436.24 634.8 436.37 639.1 436.50 649.9 436.63 656.6 436.75 660.9 436.88 663.8 437.01 665.8 437.14 667.1 437.27 668.0 437.40 668.2 437.52 668.2 437.65 667.8 437.78 667.1 437.91 666.0 438.04 664.4 438.16 662.1 438.29 658.5 438.42 652.1 438.55 640.9 438.68 644.9 438.80 654.0 438.93 658.0 439.06 659.4 439.19 659.6 439.32 659.2 439.44 658.4 439.57 657.3 439.70 655.8 439.83 654.0 439.96 651.9 440.09 649.3 440.21 646.5 440.34 643.3 440.47 639.9 440.60 636.2 440.73 632.3 440.85 627.9 440.98 622.9 441.11 616.8 441.24 608.3 441.37 595.8 441.49 600.2 441.62 611.5 441.75 619.0 441.88 624.7 442.01 629.3 442.13 633.4 442.26 637.1 442.39 640.2 442.52 642.7 442.65 644.1 442.78 644.1 442.90 642.8 443.03 640.3 443.16 636.9 443.29 632.8 443.42 627.7 443.54 621.0 443.67 611.3 443.80 600.4 443.93 611.3 444.06 621.0 444.18 627.7 444.31 633.0 444.44 637.4 444.57 641.4 444.70 645.1 444.82 648.5 444.95 651.6 445.08 654.3 445.21 656.8 445.34 658.9 445.47 660.7 445.59 662.1 445.72 663.3 445.85 664.2 445.98 664.9 446.11 665.2 446.23 665.1 446.36 664.2 446.49 662.2 446.62 658.6 446.75 652.4 446.87 641.7 447.00 637.4 447.13 649.6 447.26 657.4 447.39 662.7 447.52 666.5 447.64 669.5 447.77 671.9 447.90 673.8 448.03 675.3 448.16 676.6 448.28 677.7 448.41 678.4 448.54 679.1 448.67 679.2 448.80 678.6 448.92 675.5 449.05 666.8 449.18 670.5 449.31 678.1 449.44 681.3 449.56 682.8 449.69 683.5 449.82 684.2 449.95 684.3 450.08 684.7 450.21 684.5 450.33 684.2 450.46 684.2 450.59 723.8 450.72 682.1 450.85 680.3 450.97 677.7 451.10 674.2 451.23 669.9 451.36 664.2 451.49 656.0 451.61 643.7 451.74 648.0 451.87 659.2 452.00 666.4 452.13 671.6 452.25 675.7 452.38 678.8 452.51 681.5 452.64 683.6 452.77 684.6 452.90 685.6 453.02 685.9 453.15 685.5 453.28 685.0 453.41 684.2 453.54 683.3 453.66 682.0 453.79 679.6 453.92 676.8 454.05 673.7 454.18 669.4 454.30 664.1 454.43 656.8 454.56 645.6 454.69 641.3 454.82 653.6 454.94 661.9 455.07 667.7 455.20 672.2 455.33 675.9 455.46 714.5 455.59 681.5 455.71 683.2 455.84 685.0 455.97 685.5 456.10 685.7 456.23 685.5 456.35 685.2 456.48 684.6 456.61 683.9 456.74 682.1 456.87 678.9 456.99 673.4 457.12 663.2 457.25 659.0 457.38 670.8 457.51 678.2 457.63 682.8 457.76 685.6 457.89 687.5 458.02 688.1 458.15 688.4 458.28 688.6 458.40 689.1 458.53 689.2 458.66 689.5 458.79 689.5 458.92 689.3 459.04 688.3 459.17 688.0 459.30 686.9 459.43 684.9 459.56 680.7 459.68 671.6 459.81 667.5 459.94 678.5 460.07 684.3 460.20 687.2 460.33 688.6 460.45 689.9 460.58 690.0 460.71 690.2 460.84 689.0 460.97 687.5 461.09 686.0 461.22 683.8 461.35 681.0 461.48 678.0 461.61 674.3 461.73 670.1 461.86 665.3 461.99 659.6 462.12 652.0 462.25 640.6 462.37 636.2 462.50 648.8 462.63 657.4 462.76 663.6 462.89 668.7 463.02 673.1 463.14 677.2 463.27 680.8 463.40 684.2 463.53 686.8 463.66 688.2 463.78 689.1 463.91 689.0 464.04 687.6 464.17 685.6 464.30 682.6 464.42 678.5 464.55 673.2 464.68 665.8 464.81 654.6 464.94 650.2 465.06 662.6 465.19 671.0 465.32 676.8 465.45 681.4 465.58 684.8 465.71 687.4 465.83 689.9 465.96 691.4 466.09 692.6 466.22 723.8 466.35 693.4 466.47 693.4 466.60 693.6 466.73 693.1 466.86 692.0 466.99 690.6 467.11 688.5 467.24 683.7 467.37 674.4 467.50 670.3 467.63 681.7 467.75 688.0 467.88 691.2 468.01 693.0 468.14 693.4 468.27 694.3 468.40 695.0 468.52 695.6 468.65 694.6 468.78 695.2 468.91 695.4 469.04 695.0 469.16 694.3 469.29 693.0 469.42 690.7 469.55 687.6 469.68 683.3 469.80 676.7 469.93 665.9 470.06 661.6 470.19 673.8 470.32 681.7 470.44 718.2 470.57 690.3 470.70 692.6 470.83 693.9 470.96 694.2 471.09 694.8 471.21 695.5 471.34 695.3 471.47 694.8 471.60 694.8 471.73 693.6 471.85 691.1 471.98 688.1 472.11 684.9 472.24 681.0 472.37 676.8 472.49 672.2 472.62 666.8 472.75 659.9 472.88 650.0 473.01 639.1 473.14 650.0 473.26 659.9 473.39 666.8 473.52 672.2 473.65 676.9 473.78 681.2 473.90 685.2 474.03 688.7 474.16 691.8 474.29 694.4 474.42 696.1 474.54 696.8 474.67 721.9 474.80 696.6 474.93 695.7 475.06 694.2 475.18 691.3 475.31 686.2 475.44 677.5 475.57 667.0 475.70 677.5 475.83 686.0 475.95 691.2 476.08 694.2 476.21 696.2 476.34 698.0 476.47 699.5 476.59 699.9 476.72 700.6 476.85 701.2 476.98 701.8 477.11 701.6 477.23 701.5 477.36 701.3 477.49 701.6 477.62 700.9 477.75 700.7 477.87 700.4 478.00 700.1 478.13 725.7 478.26 696.5 478.39 692.1 478.52 682.1 478.64 686.0 478.77 694.3 478.90 698.5 479.03 700.2 479.16 701.1 479.28 701.4 479.41 701.3 479.54 700.7 479.67 700.5 479.80 700.7 479.92 700.8 480.05 700.1 480.18 699.7 480.31 699.3 480.44 698.1 480.56 695.9 480.69 693.3 480.82 688.6 480.95 681.1 481.08 669.2 481.21 673.4 481.33 684.1 481.46 690.2 481.59 694.0 481.72 697.0 481.85 698.7 481.97 699.5 482.10 700.5 482.23 700.4 482.36 700.1 482.49 700.6 482.61 700.6 482.74 700.3 482.87 700.0 483.00 698.7 483.13 696.8 483.25 716.3 483.38 689.8 483.51 682.4 483.64 670.5 483.77 674.8 483.90 685.3 484.02 691.5 484.15 695.7 484.28 697.8 484.41 699.3 484.54 700.2 484.66 701.3 484.79 701.1 484.92 701.6 485.05 701.9 485.18 701.8 485.30 701.4 485.43 701.3 485.56 701.4 485.69 700.8 485.82 701.1 485.95 700.0 486.07 698.9 486.20 693.8 486.33 696.6 486.46 700.2 486.59 701.7 486.71 701.4 486.84 700.9 486.97 700.9 487.10 701.2 487.23 701.6 487.35 702.5 487.48 702.9 487.61 702.9 487.74 702.4 487.87 702.2 487.99 701.8 488.12 701.6 488.25 701.5 488.38 701.0 488.51 699.8 488.64 696.1 488.76 687.2 488.89 690.7 489.02 697.7 489.15 700.3 489.28 701.9 489.40 702.4 489.53 702.5 489.66 702.3 489.79 702.3 489.92 702.3 490.04 702.3 490.17 702.2 490.30 701.8 490.43 701.5 490.56 701.1 490.68 700.8 490.81 699.7 490.94 698.1 491.07 695.1 491.20 689.1 491.33 677.9 491.45 682.0 491.58 691.8 491.71 696.6 491.84 699.0 491.97 700.7 492.09 701.7 492.22 702.3 492.35 702.7 492.48 702.9 492.61 702.5 492.73 702.7 492.86 702.7 492.99 702.4 493.12 701.7 493.25 701.0 493.37 699.2 493.50 696.4 493.63 692.2 493.76 685.0 493.89 714.5 494.02 677.3 494.14 687.8 494.27 693.7 494.40 697.3 494.53 699.8 494.66 700.7 494.78 701.9 494.91 702.4 495.04 702.8 495.17 702.2 495.30 702.9 495.42 702.7 495.55 702.5 495.68 702.2 495.81 702.5 495.94 702.1 496.06 702.2 496.19 702.1 496.32 700.3 496.45 692.8 496.58 696.2 496.71 701.7 496.83 702.5 496.96 702.9 497.09 703.4 497.22 702.9 497.35 703.5 497.47 704.8 497.60 704.4 497.73 704.2 497.86 704.3 497.99 704.2 498.11 703.7 498.24 703.6 498.37 703.8 498.50 703.1 498.63 702.9 498.76 702.4 498.88 699.7 499.01 692.2 499.14 695.5 499.27 701.6 499.40 703.2 499.52 704.2 499.65 704.4 499.78 704.6 499.91 704.7 500.04 704.6 500.16 704.6 500.29 705.1 500.42 705.1 500.55 704.6 500.68 704.6 500.80 704.6 500.93 703.8 501.06 703.5 501.19 703.0 501.32 701.2 501.45 697.1 501.57 687.6 501.70 691.3 501.83 698.9 501.96 701.8 502.09 702.9 502.21 703.4 502.34 703.8 502.47 704.2 502.60 704.5 502.73 704.9 502.85 704.8 502.98 704.6 503.11 704.3 503.24 704.4 503.37 704.2 503.49 704.0 503.62 703.7 503.75 703.8 503.88 704.0 504.01 703.3 504.14 702.6 504.26 700.5 504.39 695.9 504.52 686.5 504.65 682.5 504.78 693.3 504.90 698.9 505.03 701.6 505.16 703.5 505.29 704.2 505.42 704.6 505.54 704.5 505.67 704.8 505.80 704.6 505.93 704.7 506.06 704.8 506.18 705.3 506.31 705.3 506.44 705.4 506.57 705.2 506.70 704.8 506.83 704.4 506.95 703.1 507.08 699.0 507.21 696.4 507.34 702.3 507.47 703.9 507.59 704.6 507.72 704.9 507.85 705.3 507.98 705.7 508.11 706.0 508.23 706.4 508.36 706.3 508.49 706.1 508.62 705.9 508.75 705.7 508.88 705.2 509.00 705.3 509.13 705.0 509.26 704.7 509.39 704.0 509.52 702.4 509.64 696.8 509.77 693.9 509.90 701.3 510.03 704.1 510.16 705.1 510.28 706.0 510.41 705.8 510.54 706.2 510.67 706.2 510.80 706.2 510.92 706.2 511.05 706.4 511.18 705.8 511.31 705.6 511.44 705.2 511.57 703.8 511.69 700.9 511.82 693.1 511.95 696.4 512.08 702.3 512.21 704.4 512.33 716.3 512.46 705.7 512.59 705.4 512.72 705.4 512.85 705.4 512.97 705.3 513.10 705.6 513.23 705.8 513.36 705.7 513.49 706.0 513.61 706.1 513.74 705.9 513.87 705.7 514.00 706.1 514.13 705.5 514.26 705.7 514.38 705.6 514.51 704.8 514.64 703.2 514.77 698.1 514.90 695.0 515.02 701.8 515.15 704.2 515.28 704.7 515.41 705.5 515.54 705.8 515.66 706.4 515.79 707.0 515.92 707.0 516.05 707.1 516.18 707.0 516.30 706.8 516.43 706.6 516.56 706.9 516.69 706.8 516.82 706.6 516.95 706.6 517.07 706.3 517.20 705.0 517.33 700.8 517.46 698.1 517.59 703.6 517.71 705.0 517.84 705.4 517.97 705.6 518.10 706.0 518.23 706.4 518.35 706.9 518.48 706.9 518.61 707.1 518.74 707.1 518.87 706.7 518.99 706.3 519.12 706.3 519.25 706.0 519.38 706.1 519.51 706.5 519.64 706.5 519.76 706.0 519.89 702.9 520.02 700.7 520.15 705.3 520.28 706.4 520.40 706.8 520.53 707.0 520.66 707.2 520.79 707.6 520.92 707.6 521.04 707.7 521.17 707.8 521.30 707.9 521.43 707.8 521.56 707.9 521.69 707.7 521.81 707.8 521.94 707.7 522.07 707.4 522.20 707.1 522.33 706.8 522.45 704.7 522.58 703.2 522.71 706.6 522.84 707.4 522.97 707.6 523.09 707.7 523.22 707.6 523.35 707.7 523.48 707.7 523.61 707.7 523.73 707.9 523.86 708.1 523.99 708.0 524.12 708.2 524.25 708.0 524.38 707.9 524.50 708.0 524.63 708.1 524.76 707.9 524.89 707.9 525.02 706.7 525.14 702.8 525.27 704.5 525.40 707.0 525.53 707.7 525.66 708.3 525.78 708.5 525.91 708.7 526.04 708.7 526.17 708.7 526.30 708.8 526.42 708.9 526.55 708.8 526.68 708.9 526.81 708.8 526.94 708.5 527.07 708.5 527.19 708.5 527.32 708.2 527.45 708.5 527.58 708.2 527.71 706.5 527.83 702.4 527.96 706.6 528.09 718.2 528.22 708.5 528.35 708.7 528.47 708.9 528.60 709.1 528.73 709.1 528.86 709.2 528.99 709.2 529.11 709.0 529.24 708.9 529.37 708.9 529.50 708.9 529.63 709.1 529.76 709.5 529.88 709.5 530.01 709.3 530.14 709.2 530.27 708.7 530.40 706.8 530.52 705.7 530.65 708.6 530.78 709.3 530.91 709.6 531.04 709.8 531.16 709.9 531.29 710.0 531.42 710.0 531.55 710.0 531.68 710.0 531.80 710.0 531.93 709.9 532.06 709.9 532.19 709.9 532.32 709.9 532.45 709.7 532.57 709.6 532.70 709.6 532.83 709.6 532.96 709.0 533.09 706.7 533.21 708.0 533.34 709.5 533.47 709.8 533.60 709.9 533.73 709.9 533.85 709.8 533.98 709.9 534.11 710.0 534.24 710.1 534.37 710.3 534.50 710.5 534.62 710.5 534.75 710.6 534.88 710.7 535.01 710.8 535.14 710.8 535.26 710.6 535.39 710.4 535.52 710.0 535.65 708.7 535.78 705.0 535.90 708.9 536.03 710.2 536.16 710.7 536.29 710.9 536.42 710.8 536.54 710.8 536.67 710.9 536.80 710.9 536.93 710.9 537.06 711.1 537.19 711.2 537.31 711.2 537.44 711.2 537.57 711.1 537.70 711.1 537.83 711.1 537.95 711.1 538.08 711.0 538.21 710.6 538.34 708.6 538.47 707.0 538.59 710.3 538.72 711.0 538.85 711.2 538.98 711.2 539.11 711.2 539.23 711.3 539.36 711.3 539.49 711.3 539.62 711.4 539.75 711.5 539.88 711.4 540.00 711.5 540.13 711.6 540.26 711.4 540.39 711.4 540.52 711.5 540.64 711.4 540.77 711.0 540.90 709.9 541.03 705.2 541.16 707.3 541.28 710.4 541.41 711.2 541.54 711.6 541.67 711.7 541.80 711.7 541.92 711.8 542.05 711.8 542.18 711.9 542.31 712.0 542.44 712.1 542.57 712.0 542.69 712.1 542.82 712.1 542.95 712.1 543.08 712.1 543.21 712.0 543.33 711.8 543.46 711.4 543.59 709.6 543.72 704.9 543.85 709.6 543.97 711.4 544.10 711.8 544.23 712.0 544.36 712.1 544.49 712.2 544.61 712.2 544.74 712.2 544.87 712.2 545.00 712.2 545.13 727.5 545.26 712.4 545.38 712.3 545.51 712.5 545.64 712.5 545.77 712.4 545.90 712.3 546.02 712.1 546.15 711.5 546.28 708.8 546.41 706.8 546.54 710.9 546.66 712.0 546.79 712.2 546.92 712.4 547.05 712.4 547.18 712.5 547.30 712.6 547.43 712.7 547.56 712.7 547.69 712.8 547.82 712.8 547.95 712.8 548.07 712.7 548.20 712.7 548.33 712.7 548.46 712.7 548.59 712.6 548.71 712.3 548.84 711.3 548.97 707.3 549.10 709.2 549.23 711.8 549.35 712.5 549.48 712.8 549.61 712.9 549.74 712.9 549.87 713.0 550.00 713.0 550.12 713.1 550.25 713.0 550.38 713.0 550.51 713.0 550.64 713.1 550.76 713.1 550.89 713.2 551.02 713.1 551.15 713.1 551.28 712.8 551.40 712.4 551.53 710.7 551.66 706.0 551.79 710.7 551.92 712.6 552.04 713.0 552.17 713.1 552.30 713.2 552.43 713.2 552.56 713.2 552.69 713.3 552.81 713.3 552.94 713.3 553.07 713.4 553.20 713.4 553.33 713.4 553.45 713.4 553.58 713.5 553.71 713.4 553.84 713.4 553.97 713.3 554.09 712.9 554.22 711.0 554.35 709.5 554.48 712.5 554.61 713.2 554.73 713.4 554.86 713.5 554.99 713.6 555.12 713.6 555.25 713.7 555.38 713.7 555.50 713.8 555.63 713.7 555.76 713.8 555.89 721.9 556.02 713.8 556.14 713.8 556.27 713.8 556.40 713.8 556.53 713.7 556.66 713.5 556.78 712.6 556.91 708.9 557.04 710.6 557.17 713.0 557.30 713.6 557.42 713.8 557.55 713.9 557.68 714.0 557.81 714.1 557.94 714.1 558.07 714.1 558.19 714.2 558.32 714.1 558.45 714.1 558.58 714.2 558.71 714.1 558.83 714.2 558.96 714.2 559.09 714.2 559.22 714.2 559.35 714.3 559.47 714.2 559.60 714.3 559.73 714.3 559.86 714.3 559.99 714.3 560.12 714.3 560.24 714.3 560.37 714.3 560.50 714.3 560.63 714.4 560.76 714.4 560.88 714.4 561.01 714.4 561.14 714.5 561.27 714.4 561.40 714.4 561.52 714.4 561.65 714.5 561.78 714.3 561.91 714.2 562.04 713.6 562.16 711.3 562.29 709.5 562.42 713.1 562.55 714.0 562.68 714.3 562.81 714.3 562.93 714.4 563.06 714.5 563.19 714.6 563.32 714.7 563.45 714.8 563.57 714.8 563.70 714.8 563.83 714.7 563.96 714.8 564.09 714.8 564.21 714.8 564.34 714.8 564.47 714.8 564.60 714.8 564.73 714.8 564.85 714.9 564.98 714.9 565.11 715.0 565.24 715.0 565.37 715.0 565.50 715.0 565.62 715.0 565.75 715.0 565.88 715.0 566.01 715.0 566.14 715.0 566.26 715.0 566.39 715.1 566.52 715.1 566.65 715.2 566.78 715.2 566.90 715.2 567.03 715.2 567.16 715.2 567.29 715.2 567.42 715.2 567.54 715.2 567.67 715.3 567.80 715.2 567.93 715.2 568.06 715.2 568.19 715.0 568.31 714.8 568.44 714.3 568.57 711.9 568.70 710.1 568.83 714.0 568.95 714.9 569.08 715.2 569.21 715.2 569.34 715.3 569.47 715.3 569.59 715.3 569.72 715.4 569.85 715.5 569.98 715.4 570.11 715.5 570.23 715.6 570.36 715.5 570.49 715.6 570.62 715.6 570.75 715.6 570.88 715.6 571.00 715.7 571.13 715.7 571.26 715.7 571.39 715.8 571.52 715.7 571.64 715.8 571.77 715.8 571.90 715.8 572.03 715.8 572.16 715.8 572.28 715.7 572.41 715.8 572.54 715.8 572.67 715.8 572.80 715.9 572.92 715.9 573.05 715.9 573.18 716.0 573.31 716.0 573.44 716.1 573.57 716.1 573.69 716.1 573.82 716.1 573.95 716.1 574.08 716.1 574.21 716.1 574.33 716.1 574.46 716.1 574.59 716.0 574.72 715.8 574.85 715.2 574.97 712.7 575.10 710.8 575.23 714.7 575.36 715.7 575.49 715.9 575.62 716.1 575.74 716.2 575.87 716.2 576.00 716.2 576.13 716.2 576.26 716.3 576.38 716.3 576.51 716.3 576.64 716.3 576.77 716.4 576.90 716.4 577.02 716.4 577.15 716.4 577.28 716.4 577.41 716.4 577.54 716.4 577.66 716.4 577.79 716.4 577.92 716.5 578.05 716.6 578.18 716.6 578.31 716.7 578.43 716.7 578.56 716.7 578.69 716.7 578.82 716.7 578.95 716.7 579.07 716.7 579.20 716.7 579.33 716.7 579.46 716.7 579.59 716.7 579.71 716.8 579.84 716.9 579.97 716.8 580.10 716.8 580.23 716.8 580.35 716.8 580.48 716.8 580.61 716.9 580.74 716.9 580.87 716.9 581.00 716.9 581.12 716.8 581.25 716.9 581.38 716.9 581.51 716.9 581.64 717.0 581.76 717.1 581.89 717.1 582.02 717.1 582.15 717.1 582.28 717.2 582.40 717.2 582.53 717.1 582.66 717.1 582.79 717.1 582.92 717.2 583.04 717.1 583.17 717.2 583.30 717.2 583.43 717.2 583.56 717.2 583.69 717.3 583.81 717.3 583.94 717.3 584.07 717.3 584.20 717.3 584.33 717.3 584.45 717.3 584.58 717.2 584.71 717.2 584.84 717.2 584.97 717.3 585.09 717.3 585.22 717.4 585.35 717.4 585.48 717.4 585.61 717.5 585.74 717.5 585.86 717.5 585.99 717.4 586.12 717.5 586.25 717.4 586.38 717.5 586.50 717.5 586.63 717.6 586.76 717.6 586.89 717.6 587.02 717.6 587.14 717.5 587.27 717.5 587.40 717.3 587.53 717.1 587.66 716.5 587.78 713.9 587.91 712.0 588.04 716.2 588.17 717.2 588.30 717.5 588.43 717.6 588.55 717.6 588.68 717.6 588.81 717.7 588.94 717.7 589.07 717.7 589.19 717.7 589.32 717.8 589.45 717.8 589.58 717.8 589.71 717.8 589.83 717.8 589.96 717.8 590.09 717.9 590.22 717.9 590.35 717.9 590.47 717.9 590.60 717.9 590.73 717.9 590.86 717.9 590.99 717.9 591.12 717.9 591.24 717.9 591.37 717.9 591.50 717.9 591.63 717.9 591.76 717.9 591.88 717.9 592.01 718.0 592.14 718.0 592.27 718.0 592.40 718.1 592.52 718.0 592.65 718.0 592.78 718.0 592.91 718.0 593.04 718.0 593.16 718.0 593.29 718.1 593.42 718.1 593.55 718.1 593.68 718.2 593.81 718.2 593.93 718.2 594.06 718.2 594.19 718.2 594.32 718.1 594.45 718.2 594.57 718.2 594.70 718.2 594.83 718.2 594.96 718.3 595.09 718.2 595.21 718.2 595.34 718.2 595.47 718.2 595.60 718.2 595.73 718.2 595.85 718.3 595.98 718.3 596.11 718.3 596.24 718.4 596.37 718.4 596.50 718.4 596.62 718.4 596.75 718.4 596.88 718.5 597.01 718.5 597.14 718.5 597.26 718.5 597.39 718.5 597.52 718.4 597.65 718.5 597.78 718.5 597.90 718.5 598.03 718.5 598.16 718.6 598.29 718.5 598.42 718.5 598.54 718.5 598.67 718.4 598.80 718.3 598.93 718.4 599.06 718.5 599.19 718.5 599.31 718.6 599.44 718.7 599.57 718.7 599.70 718.7 599.83 718.6 599.95 718.6 600.08 718.7 600.21 718.7 600.34 718.7 600.47 718.7 600.59 718.8 600.72 718.8 600.85 718.8 600.98 718.8 601.11 718.8 601.24 718.8 601.36 718.7 601.49 718.8 601.62 718.8 601.75 718.8 601.88 718.9 602.00 718.9 602.13 718.9 602.26 719.0 602.39 719.0 602.52 719.0 602.64 719.0 602.77 719.0 602.90 719.0 603.03 719.0 603.16 719.1 603.28 719.1 603.41 719.1 603.54 719.1 603.67 719.1 603.80 719.1 603.93 719.0 604.05 719.1 604.18 719.1 604.31 719.1 604.44 719.1 604.57 719.1 604.69 719.1 604.82 719.1 604.95 719.2 605.08 719.2 605.21 719.2 605.33 719.2 605.46 719.2 605.59 719.1 605.72 719.1 605.85 719.1 605.97 719.2 606.10 719.2 606.23 719.2 606.36 719.2 606.49 719.3 606.62 719.3 606.74 719.3 606.87 719.3 607.00 719.3 607.13 719.3 607.26 719.3 607.38 719.3 607.51 719.3 607.64 719.3 607.77 719.3 607.90 719.3 608.02 719.4 608.15 719.4 608.28 719.3 608.41 719.4 608.54 719.4 608.66 719.4 608.79 719.4 608.92 719.5 609.05 719.4 609.18 719.5 609.31 719.5 609.43 719.5 609.56 719.5 609.69 719.6 609.82 719.6 609.95 719.6 610.07 719.6 610.20 719.6 610.33 719.6 610.46 719.5 610.59 719.5 610.71 719.6 610.84 719.6 610.97 719.6 611.10 719.7 611.23 719.8 611.36 719.8 611.48 719.8 611.61 719.8 611.74 719.8 611.87 719.8 612.00 719.8 612.12 719.7 612.25 719.6 612.38 719.7 612.51 719.7 612.64 719.8 612.76 719.9 612.89 719.8 613.02 719.9 613.15 719.9 613.28 719.9 613.40 720.0 613.53 720.0 613.66 720.0 613.79 719.9 613.92 719.9 614.05 719.9 614.17 719.9 614.30 719.9 614.43 719.9 614.56 719.9 614.69 720.0 614.81 719.9 614.94 719.9 615.07 720.0 615.20 720.0 615.33 720.0 615.45 720.0 615.58 720.0 615.71 720.1 615.84 720.1 615.97 720.2 616.09 720.2 616.22 720.3 616.35 720.3 616.48 720.3 616.61 720.3 616.74 720.3 616.86 720.3 616.99 720.3 617.12 720.2 617.25 720.2 617.38 720.2 617.50 720.2 617.63 720.2 617.76 720.2 617.89 720.3 618.02 720.3 618.14 720.3 618.27 720.3 618.40 720.4 618.53 720.3 618.66 720.3 618.78 720.3 618.91 720.3 619.04 720.2 619.17 720.3 619.30 720.3 619.43 720.3 619.55 720.3 619.68 720.4 619.81 720.4 619.94 720.4 620.07 720.4 620.19 720.4 620.32 720.4 620.45 720.4 620.58 720.5 620.71 720.5 620.83 720.6 620.96 720.5 621.09 720.6 621.22 720.6 621.35 720.5 621.47 720.5 621.60 720.6 621.73 720.5 621.86 720.5 621.99 720.6 622.12 720.6 622.24 720.7 622.37 720.7 622.50 720.7 622.63 720.7 622.76 720.7 622.88 720.7 623.01 720.7 623.14 720.7 623.27 720.7 623.40 720.7 623.52 720.7 623.65 720.8 623.78 720.8 623.91 720.9 624.04 720.9 624.16 720.9 624.29 720.9 624.42 720.9 624.55 720.8 624.68 720.9 624.81 720.9 624.93 720.9 625.06 720.9 625.19 720.9 625.32 720.9 625.45 720.9 625.57 720.9 625.70 720.9 625.83 720.9 625.96 720.9 626.09 720.8 626.21 721.0 626.34 721.0 626.47 721.0 626.60 721.1 626.73 721.1 626.86 721.0 626.98 721.1 627.11 721.1 627.24 721.0 627.37 721.1 627.50 721.1 627.62 721.0 627.75 721.0 627.88 721.1 628.01 721.1 628.14 721.2 628.26 721.2 628.39 721.3 628.52 721.2 628.65 721.2 628.78 721.2 628.90 721.2 629.03 721.2 629.16 721.2 629.29 721.2 629.42 721.3 629.55 721.4 629.67 721.5 629.80 721.5 629.93 721.5 630.06 721.4 630.19 721.4 630.31 721.4 630.44 721.4 630.57 721.3 630.70 721.3 630.83 721.3 630.95 721.4 631.08 721.4 631.21 721.5 631.34 721.5 631.47 721.5 631.59 721.4 631.72 721.5 631.85 721.5 631.98 721.5 632.11 721.5 632.24 721.5 632.36 721.5 632.49 721.5 632.62 721.5 632.75 721.6 632.88 721.6 633.00 721.6 633.13 721.7 633.26 721.7 633.39 721.6 633.52 721.6 633.64 721.6 633.77 721.6 633.90 721.6 634.03 721.7 634.16 721.8 634.28 721.9 634.41 721.9 634.54 721.8 634.67 721.8 634.80 721.8 634.93 721.7 635.05 721.8 635.18 721.8 635.31 721.8 635.44 721.8 635.57 721.8 635.69 721.8 635.82 721.8 635.95 721.8 636.08 721.8 636.21 721.8 636.33 721.8 636.46 721.8 636.59 721.9 636.72 721.9 636.85 721.9 636.97 721.9 637.10 722.0 637.23 722.0 637.36 722.0 637.49 722.0 637.62 722.0 637.74 722.1 637.87 722.2 638.00 722.2 638.13 722.2 638.26 722.2 638.38 722.1 638.51 722.0 638.64 722.0 638.77 722.0 638.90 722.1 639.02 722.0 639.15 722.1 639.28 722.2 639.41 722.2 639.54 722.2 639.67 722.2 639.79 722.2 639.92 722.1 640.05 722.2 640.18 722.1 640.31 722.1 640.43 722.2 640.56 722.2 640.69 722.2 640.82 722.3 640.95 722.3 641.07 722.3 641.20 722.4 641.33 722.4 641.46 722.4 641.59 722.3 641.71 722.3 641.84 722.3 641.97 722.3 642.10 722.4 642.23 722.3 642.36 722.4 642.48 722.4 642.61 722.4 642.74 722.5 642.87 722.5 643.00 722.5 643.12 722.5 643.25 722.4 643.38 722.4 643.51 722.5 643.64 722.5 643.76 722.5 643.89 722.6 644.02 722.6 644.15 722.5 644.28 722.5 644.40 722.5 644.53 722.5 644.66 722.5 644.79 722.5 644.92 722.6 645.05 722.7 645.17 722.6 645.30 722.6 645.43 722.6 645.56 722.6 645.69 722.6 645.81 722.6 645.94 722.6 646.07 722.7 646.20 722.6 646.33 722.7 646.45 722.7 646.58 722.7 646.71 722.7 646.84 722.8 646.97 722.8 647.09 722.7 647.22 722.8 647.35 722.8 647.48 722.8 647.61 722.8 647.74 722.9 647.86 722.9 647.99 723.0 648.12 723.0 648.25 722.9 648.38 722.8 648.50 722.9 648.63 722.8 648.76 722.9 648.89 723.0 649.02 723.1 649.14 723.0 649.27 723.0 649.40 723.0 649.53 723.0 649.66 723.0 649.78 723.0 649.91 722.9 650.04 722.9 650.17 723.0 650.30 723.0 650.43 723.0 650.55 723.0 650.68 723.1 650.81 723.1 650.94 723.2 651.07 723.2 651.19 723.3 651.32 723.3 651.45 723.3 651.58 723.3 651.71 723.3 651.83 723.2 651.96 723.2 652.09 723.2 652.22 723.2 652.35 723.3 652.48 723.3 652.60 723.4 652.73 723.4 652.86 723.3 652.99 723.3 653.12 723.3 653.24 723.4 653.37 723.3 653.50 723.4 653.63 723.4 653.76 723.5 653.88 723.4 654.01 723.5 654.14 723.5 654.27 723.4 654.40 723.4 654.52 723.4 654.65 723.4 654.78 723.4 654.91 723.5 655.04 723.5 655.17 723.6 655.29 723.6 655.42 723.6 655.55 723.5 655.68 723.6 655.81 723.6 655.93 723.5 656.06 723.5 656.19 723.6 656.32 723.5 656.45 723.6 656.57 723.7 656.70 723.8 656.83 723.8 656.96 723.8 657.09 723.8 657.21 723.8 657.34 723.7 657.47 723.8 657.60 723.7 657.73 723.7 657.86 723.7 657.98 723.7 658.11 723.7 658.24 723.8 658.37 723.8 658.50 723.8 658.62 723.8 658.75 723.7 658.88 723.8 659.01 723.8 659.14 723.8 659.26 723.8 659.39 723.9 659.52 723.9 659.65 724.0 659.78 724.0 659.90 724.1 660.03 724.0 660.16 724.0 660.29 724.0 660.42 724.0 660.55 723.9 660.67 724.0 660.80 724.0 660.93 724.1 661.06 724.1 661.19 724.2 661.31 724.2 661.44 724.3 661.57 724.3 661.70 724.2 661.83 724.2 661.95 724.1 662.08 724.0 662.21 724.1 662.34 724.1 662.47 724.1 662.60 724.1 662.72 724.1 662.85 724.2 662.98 724.2 663.11 724.3 663.24 724.3 663.36 724.3 663.49 724.3 663.62 724.3 663.75 724.2 663.88 724.2 664.00 724.3 664.13 724.3 664.26 724.3 664.39 724.3 664.52 724.3 664.64 724.3 664.77 724.3 664.90 724.4 665.03 724.5 665.16 724.5 665.29 724.5 665.41 724.5 665.54 724.4 665.67 724.4 665.80 724.4 665.93 724.5 666.05 724.5 666.18 724.5 666.31 724.5 666.44 724.6 666.57 724.6 666.69 724.6 666.82 724.6 666.95 724.6 667.08 724.6 667.21 724.6 667.33 724.5 667.46 724.6 667.59 724.6 667.72 724.7 667.85 724.7 667.98 724.8 668.10 724.7 668.23 724.7 668.36 724.6 668.49 724.7 668.62 724.7 668.74 724.8 668.87 724.8 669.00 724.8" stroke="#5f53aa" stroke-width="0.85" fill="none" stroke-linejoin="round"/>
<rect x="69.5" y="39" width="256.0" height="168" fill="none" stroke="#161616" stroke-width="1.55"/>
<path d="M69.5 207v-5M69.5 39v5" stroke="#161616" stroke-width="1.6"/>
<text x="71.5" y="231.3" font-family="Liberation Serif, serif" font-size="18" text-anchor="middle">4</text>
<path d="M120.7 207v-5M120.7 39v5" stroke="#161616" stroke-width="1.6"/>
<text x="122.7" y="231.3" font-family="Liberation Serif, serif" font-size="18" text-anchor="middle">4.2</text>
<path d="M171.9 207v-5M171.9 39v5" stroke="#161616" stroke-width="1.6"/>
<text x="173.9" y="231.3" font-family="Liberation Serif, serif" font-size="18" text-anchor="middle">4.4</text>
<path d="M223.1 207v-5M223.1 39v5" stroke="#161616" stroke-width="1.6"/>
<text x="225.1" y="231.3" font-family="Liberation Serif, serif" font-size="18" text-anchor="middle">4.6</text>
<path d="M274.3 207v-5M274.3 39v5" stroke="#161616" stroke-width="1.6"/>
<text x="276.3" y="231.3" font-family="Liberation Serif, serif" font-size="18" text-anchor="middle">4.8</text>
<path d="M325.5 207v-5M325.5 39v5" stroke="#161616" stroke-width="1.6"/>
<text x="327.5" y="231.3" font-family="Liberation Serif, serif" font-size="18" text-anchor="middle">5</text>
<path d="M69.5 207.0h5M325.5 207.0h-5" stroke="#161616" stroke-width="1.6"/>
<text x="58.5" y="213.0" font-family="Liberation Serif, serif" font-size="18" text-anchor="end">20</text>
<path d="M69.5 173.4h5M325.5 173.4h-5" stroke="#161616" stroke-width="1.6"/>
<text x="58.5" y="179.4" font-family="Liberation Serif, serif" font-size="18" text-anchor="end">40</text>
<path d="M69.5 139.8h5M325.5 139.8h-5" stroke="#161616" stroke-width="1.6"/>
<text x="58.5" y="145.8" font-family="Liberation Serif, serif" font-size="18" text-anchor="end">60</text>
<path d="M69.5 106.2h5M325.5 106.2h-5" stroke="#161616" stroke-width="1.6"/>
<text x="58.5" y="112.2" font-family="Liberation Serif, serif" font-size="18" text-anchor="end">80</text>
<path d="M69.5 72.6h5M325.5 72.6h-5" stroke="#161616" stroke-width="1.6"/>
<text x="58.5" y="78.6" font-family="Liberation Serif, serif" font-size="18" text-anchor="end">100</text>
<path d="M69.5 39.0h5M325.5 39.0h-5" stroke="#161616" stroke-width="1.6"/>
<text x="58.5" y="45.0" font-family="Liberation Serif, serif" font-size="18" text-anchor="end">120</text>
<rect x="415.6" y="36.5" width="255.89999999999998" height="168.3" fill="none" stroke="#161616" stroke-width="1.55"/>
<path d="M415.6 204.8v-5M415.6 36.5v5" stroke="#161616" stroke-width="1.6"/>
<text x="417.6" y="229.1" font-family="Liberation Serif, serif" font-size="18" text-anchor="middle">7</text>
<path d="M458.2 204.8v-5M458.2 36.5v5" stroke="#161616" stroke-width="1.6"/>
<text x="460.2" y="229.1" font-family="Liberation Serif, serif" font-size="18" text-anchor="middle">7.5</text>
<path d="M500.9 204.8v-5M500.9 36.5v5" stroke="#161616" stroke-width="1.6"/>
<text x="502.9" y="229.1" font-family="Liberation Serif, serif" font-size="18" text-anchor="middle">8</text>
<path d="M543.5 204.8v-5M543.5 36.5v5" stroke="#161616" stroke-width="1.6"/>
<text x="545.5" y="229.1" font-family="Liberation Serif, serif" font-size="18" text-anchor="middle">8.5</text>
<path d="M586.2 204.8v-5M586.2 36.5v5" stroke="#161616" stroke-width="1.6"/>
<text x="588.2" y="229.1" font-family="Liberation Serif, serif" font-size="18" text-anchor="middle">9</text>
<path d="M628.9 204.8v-5M628.9 36.5v5" stroke="#161616" stroke-width="1.6"/>
<text x="630.9" y="229.1" font-family="Liberation Serif, serif" font-size="18" text-anchor="middle">9.5</text>
<path d="M671.5 204.8v-5M671.5 36.5v5" stroke="#161616" stroke-width="1.6"/>
<text x="673.5" y="229.1" font-family="Liberation Serif, serif" font-size="18" text-anchor="middle">10</text>
<path d="M415.6 204.8h5M671.5 204.8h-5" stroke="#161616" stroke-width="1.6"/>
<text x="404.6" y="210.8" font-family="Liberation Serif, serif" font-size="18" text-anchor="end">40</text>
<path d="M415.6 162.7h5M671.5 162.7h-5" stroke="#161616" stroke-width="1.6"/>
<text x="404.6" y="168.7" font-family="Liberation Serif, serif" font-size="18" text-anchor="end">80</text>
<path d="M415.6 120.7h5M671.5 120.7h-5" stroke="#161616" stroke-width="1.6"/>
<text x="404.6" y="126.7" font-family="Liberation Serif, serif" font-size="18" text-anchor="end">120</text>
<path d="M415.6 78.6h5M671.5 78.6h-5" stroke="#161616" stroke-width="1.6"/>
<text x="404.6" y="84.6" font-family="Liberation Serif, serif" font-size="18" text-anchor="end">160</text>
<path d="M415.6 36.5h5M671.5 36.5h-5" stroke="#161616" stroke-width="1.6"/>
<text x="404.6" y="42.5" font-family="Liberation Serif, serif" font-size="18" text-anchor="end">200</text>
<rect x="71.2" y="307.2" width="255.8" height="168.5" fill="none" stroke="#161616" stroke-width="1.55"/>
<path d="M71.2 475.7v-5M71.2 307.2v5" stroke="#161616" stroke-width="1.6"/>
<text x="71.2" y="500.0" font-family="Liberation Serif, serif" font-size="18" text-anchor="middle">0</text>
<path d="M122.4 475.7v-5M122.4 307.2v5" stroke="#161616" stroke-width="1.6"/>
<text x="122.4" y="500.0" font-family="Liberation Serif, serif" font-size="18" text-anchor="middle">20</text>
<path d="M173.5 475.7v-5M173.5 307.2v5" stroke="#161616" stroke-width="1.6"/>
<text x="173.5" y="500.0" font-family="Liberation Serif, serif" font-size="18" text-anchor="middle">40</text>
<path d="M224.7 475.7v-5M224.7 307.2v5" stroke="#161616" stroke-width="1.6"/>
<text x="224.7" y="500.0" font-family="Liberation Serif, serif" font-size="18" text-anchor="middle">60</text>
<path d="M275.8 475.7v-5M275.8 307.2v5" stroke="#161616" stroke-width="1.6"/>
<text x="275.8" y="500.0" font-family="Liberation Serif, serif" font-size="18" text-anchor="middle">80</text>
<path d="M327.0 475.7v-5M327.0 307.2v5" stroke="#161616" stroke-width="1.6"/>
<text x="327.0" y="500.0" font-family="Liberation Serif, serif" font-size="18" text-anchor="middle">100</text>
<path d="M71.2 475.7h5M327 475.7h-5" stroke="#161616" stroke-width="1.6"/>
<text x="60.2" y="481.7" font-family="Liberation Serif, serif" font-size="18" text-anchor="end">-10</text>
<path d="M71.2 447.6h5M327 447.6h-5" stroke="#161616" stroke-width="1.6"/>
<text x="60.2" y="453.6" font-family="Liberation Serif, serif" font-size="18" text-anchor="end">-5</text>
<path d="M71.2 419.5h5M327 419.5h-5" stroke="#161616" stroke-width="1.6"/>
<text x="60.2" y="425.5" font-family="Liberation Serif, serif" font-size="18" text-anchor="end">0</text>
<path d="M71.2 391.4h5M327 391.4h-5" stroke="#161616" stroke-width="1.6"/>
<text x="60.2" y="397.4" font-family="Liberation Serif, serif" font-size="18" text-anchor="end">5</text>
<path d="M71.2 363.4h5M327 363.4h-5" stroke="#161616" stroke-width="1.6"/>
<text x="60.2" y="369.4" font-family="Liberation Serif, serif" font-size="18" text-anchor="end">10</text>
<path d="M71.2 335.3h5M327 335.3h-5" stroke="#161616" stroke-width="1.6"/>
<text x="60.2" y="341.3" font-family="Liberation Serif, serif" font-size="18" text-anchor="end">15</text>
<path d="M71.2 307.2h5M327 307.2h-5" stroke="#161616" stroke-width="1.6"/>
<text x="60.2" y="313.2" font-family="Liberation Serif, serif" font-size="18" text-anchor="end">20</text>
<rect x="414.4" y="306.8" width="255.60000000000002" height="168.0" fill="none" stroke="#161616" stroke-width="1.55"/>
<path d="M414.4 474.8v-5M414.4 306.8v5" stroke="#161616" stroke-width="1.6"/>
<text x="414.4" y="499.1" font-family="Liberation Serif, serif" font-size="18" text-anchor="middle">30</text>
<path d="M478.3 474.8v-5M478.3 306.8v5" stroke="#161616" stroke-width="1.6"/>
<text x="478.3" y="499.1" font-family="Liberation Serif, serif" font-size="18" text-anchor="middle">60</text>
<path d="M542.2 474.8v-5M542.2 306.8v5" stroke="#161616" stroke-width="1.6"/>
<text x="542.2" y="499.1" font-family="Liberation Serif, serif" font-size="18" text-anchor="middle">90</text>
<path d="M606.1 474.8v-5M606.1 306.8v5" stroke="#161616" stroke-width="1.6"/>
<text x="606.1" y="499.1" font-family="Liberation Serif, serif" font-size="18" text-anchor="middle">120</text>
<path d="M670.0 474.8v-5M670.0 306.8v5" stroke="#161616" stroke-width="1.6"/>
<text x="670.0" y="499.1" font-family="Liberation Serif, serif" font-size="18" text-anchor="middle">150</text>
<path d="M414.4 474.8h5M670 474.8h-5" stroke="#161616" stroke-width="1.6"/>
<text x="403.4" y="480.8" font-family="Liberation Serif, serif" font-size="18" text-anchor="end">-15</text>
<path d="M414.4 450.8h5M670 450.8h-5" stroke="#161616" stroke-width="1.6"/>
<text x="403.4" y="456.8" font-family="Liberation Serif, serif" font-size="18" text-anchor="end">-10</text>
<path d="M414.4 426.8h5M670 426.8h-5" stroke="#161616" stroke-width="1.6"/>
<text x="403.4" y="432.8" font-family="Liberation Serif, serif" font-size="18" text-anchor="end">-5</text>
<path d="M414.4 402.8h5M670 402.8h-5" stroke="#161616" stroke-width="1.6"/>
<text x="403.4" y="408.8" font-family="Liberation Serif, serif" font-size="18" text-anchor="end">0</text>
<path d="M414.4 378.8h5M670 378.8h-5" stroke="#161616" stroke-width="1.6"/>
<text x="403.4" y="384.8" font-family="Liberation Serif, serif" font-size="18" text-anchor="end">5</text>
<path d="M414.4 354.8h5M670 354.8h-5" stroke="#161616" stroke-width="1.6"/>
<text x="403.4" y="360.8" font-family="Liberation Serif, serif" font-size="18" text-anchor="end">10</text>
<path d="M414.4 330.8h5M670 330.8h-5" stroke="#161616" stroke-width="1.6"/>
<text x="403.4" y="336.8" font-family="Liberation Serif, serif" font-size="18" text-anchor="end">15</text>
<path d="M414.4 306.8h5M670 306.8h-5" stroke="#161616" stroke-width="1.6"/>
<text x="403.4" y="312.8" font-family="Liberation Serif, serif" font-size="18" text-anchor="end">20</text>
<rect x="76" y="568.4" width="256" height="168.60000000000002" fill="none" stroke="#161616" stroke-width="1.55"/>
<path d="M76.0 737v-5M76.0 568.4v5" stroke="#161616" stroke-width="1.6"/>
<text x="76.0" y="761.3" font-family="Liberation Serif, serif" font-size="18" text-anchor="middle">0</text>
<path d="M118.7 737v-5M118.7 568.4v5" stroke="#161616" stroke-width="1.6"/>
<text x="118.7" y="761.3" font-family="Liberation Serif, serif" font-size="18" text-anchor="middle">0.1</text>
<path d="M161.3 737v-5M161.3 568.4v5" stroke="#161616" stroke-width="1.6"/>
<text x="161.3" y="761.3" font-family="Liberation Serif, serif" font-size="18" text-anchor="middle">0.2</text>
<path d="M204.0 737v-5M204.0 568.4v5" stroke="#161616" stroke-width="1.6"/>
<text x="204.0" y="761.3" font-family="Liberation Serif, serif" font-size="18" text-anchor="middle">0.3</text>
<path d="M246.7 737v-5M246.7 568.4v5" stroke="#161616" stroke-width="1.6"/>
<text x="246.7" y="761.3" font-family="Liberation Serif, serif" font-size="18" text-anchor="middle">0.4</text>
<path d="M289.3 737v-5M289.3 568.4v5" stroke="#161616" stroke-width="1.6"/>
<text x="289.3" y="761.3" font-family="Liberation Serif, serif" font-size="18" text-anchor="middle">0.5</text>
<path d="M332.0 737v-5M332.0 568.4v5" stroke="#161616" stroke-width="1.6"/>
<text x="332.0" y="761.3" font-family="Liberation Serif, serif" font-size="18" text-anchor="middle">0.6</text>
<path d="M76 708.9h5M332 708.9h-5" stroke="#161616" stroke-width="1.6"/>
<path d="M76 666.8h5M332 666.8h-5" stroke="#161616" stroke-width="1.6"/>
<path d="M76 624.6h5M332 624.6h-5" stroke="#161616" stroke-width="1.6"/>
<path d="M76 582.5h5M332 582.5h-5" stroke="#161616" stroke-width="1.6"/>
<path d="M76 737.0h2.5M332 737.0h-2.5" stroke="#161616" stroke-width="1.6"/>
<path d="M76 723.0h2.5M332 723.0h-2.5" stroke="#161616" stroke-width="1.6"/>
<path d="M76 694.9h2.5M332 694.9h-2.5" stroke="#161616" stroke-width="1.6"/>
<path d="M76 680.8h2.5M332 680.8h-2.5" stroke="#161616" stroke-width="1.6"/>
<path d="M76 652.7h2.5M332 652.7h-2.5" stroke="#161616" stroke-width="1.6"/>
<path d="M76 638.6h2.5M332 638.6h-2.5" stroke="#161616" stroke-width="1.6"/>
<path d="M76 610.5h2.5M332 610.5h-2.5" stroke="#161616" stroke-width="1.6"/>
<path d="M76 596.5h2.5M332 596.5h-2.5" stroke="#161616" stroke-width="1.6"/>
<path d="M76 568.4h2.5M332 568.4h-2.5" stroke="#161616" stroke-width="1.6"/>
<rect x="412.8" y="568.6" width="256.2" height="168.29999999999995" fill="none" stroke="#161616" stroke-width="1.55"/>
<path d="M412.8 736.9v-5M412.8 568.6v5" stroke="#161616" stroke-width="1.6"/>
<text x="412.8" y="761.2" font-family="Liberation Serif, serif" font-size="18" text-anchor="middle">0</text>
<path d="M455.5 736.9v-5M455.5 568.6v5" stroke="#161616" stroke-width="1.6"/>
<text x="455.5" y="761.2" font-family="Liberation Serif, serif" font-size="18" text-anchor="middle">0.1</text>
<path d="M498.2 736.9v-5M498.2 568.6v5" stroke="#161616" stroke-width="1.6"/>
<text x="498.2" y="761.2" font-family="Liberation Serif, serif" font-size="18" text-anchor="middle">0.2</text>
<path d="M540.9 736.9v-5M540.9 568.6v5" stroke="#161616" stroke-width="1.6"/>
<text x="540.9" y="761.2" font-family="Liberation Serif, serif" font-size="18" text-anchor="middle">0.3</text>
<path d="M583.6 736.9v-5M583.6 568.6v5" stroke="#161616" stroke-width="1.6"/>
<text x="583.6" y="761.2" font-family="Liberation Serif, serif" font-size="18" text-anchor="middle">0.4</text>
<path d="M626.3 736.9v-5M626.3 568.6v5" stroke="#161616" stroke-width="1.6"/>
<text x="626.3" y="761.2" font-family="Liberation Serif, serif" font-size="18" text-anchor="middle">0.5</text>
<path d="M669.0 736.9v-5M669.0 568.6v5" stroke="#161616" stroke-width="1.6"/>
<text x="669.0" y="761.2" font-family="Liberation Serif, serif" font-size="18" text-anchor="middle">0.6</text>
<path d="M412.8 736.9h5M669 736.9h-5" stroke="#161616" stroke-width="1.6"/>
<path d="M412.8 699.5h5M669 699.5h-5" stroke="#161616" stroke-width="1.6"/>
<path d="M412.8 662.1h5M669 662.1h-5" stroke="#161616" stroke-width="1.6"/>
<path d="M412.8 624.7h5M669 624.7h-5" stroke="#161616" stroke-width="1.6"/>
<path d="M412.8 587.3h5M669 587.3h-5" stroke="#161616" stroke-width="1.6"/>
<path d="M412.8 718.2h2.5M669 718.2h-2.5" stroke="#161616" stroke-width="1.6"/>
<path d="M412.8 680.8h2.5M669 680.8h-2.5" stroke="#161616" stroke-width="1.6"/>
<path d="M412.8 643.4h2.5M669 643.4h-2.5" stroke="#161616" stroke-width="1.6"/>
<path d="M412.8 606.0h2.5M669 606.0h-2.5" stroke="#161616" stroke-width="1.6"/>
<path d="M412.8 568.6h2.5M669 568.6h-2.5" stroke="#161616" stroke-width="1.6"/>
<text x="64.4" y="591.0" font-family="Liberation Serif, serif" font-size="18" text-anchor="end">10<tspan dy="-9.5" font-size="13">3</tspan></text>
<text x="64.4" y="633.1" font-family="Liberation Serif, serif" font-size="18" text-anchor="end">10<tspan dy="-9.5" font-size="13">0</tspan></text>
<text x="64.4" y="675.2" font-family="Liberation Serif, serif" font-size="18" text-anchor="end">10<tspan dy="-9.5" font-size="13">-3</tspan></text>
<text x="64.4" y="717.4" font-family="Liberation Serif, serif" font-size="18" text-anchor="end">10<tspan dy="-9.5" font-size="13">-6</tspan></text>
<text x="401.0" y="595.7" font-family="Liberation Serif, serif" font-size="18" text-anchor="end">10<tspan dy="-9.5" font-size="13">2</tspan></text>
<text x="401.0" y="633.1" font-family="Liberation Serif, serif" font-size="18" text-anchor="end">10<tspan dy="-9.5" font-size="13">0</tspan></text>
<text x="401.0" y="670.5" font-family="Liberation Serif, serif" font-size="18" text-anchor="end">10<tspan dy="-9.5" font-size="13">-2</tspan></text>
<text x="401.0" y="707.9" font-family="Liberation Serif, serif" font-size="18" text-anchor="end">10<tspan dy="-9.5" font-size="13">-4</tspan></text>
<text x="401.0" y="745.3" font-family="Liberation Serif, serif" font-size="18" text-anchor="end">10<tspan dy="-9.5" font-size="13">-6</tspan></text>
<text transform="translate(84.3,20) scale(0.88,1)" font-family="Liberation Sans, sans-serif" font-weight="bold" font-size="33">a</text>
<text x="430" y="25" font-family="Liberation Sans, sans-serif" font-weight="bold" font-size="33">d</text>
<text x="90" y="295.7" font-family="Liberation Sans, sans-serif" font-weight="bold" font-size="33">b</text>
<text x="434" y="295.5" font-family="Liberation Sans, sans-serif" font-weight="bold" font-size="33">e</text>
<text x="89.5" y="557.5" font-family="Liberation Sans, sans-serif" font-weight="bold" font-size="33">c</text>
<text x="433" y="557.6" font-family="Liberation Sans, sans-serif" font-weight="bold" font-size="33">f</text>
<text x="219.5" y="33" font-family="Liberation Serif, serif" font-size="23">WC</text>
<text x="494.8" y="28.6" font-family="Liberation Serif, serif" font-size="23">WC</text>
<text transform="translate(19.3,122.9) rotate(-90)" font-family="Liberation Serif, serif" font-size="21" text-anchor="middle">Max. of A</text>
<text transform="translate(365.3,121.1) rotate(-90)" font-family="Liberation Serif, serif" font-size="21" text-anchor="middle">Max. of A</text>
<text transform="translate(21.1,391.5) rotate(-90)" font-family="Liberation Serif, serif" font-size="20" text-anchor="middle"><tspan font-style="italic">d</tspan>A(<tspan font-style="italic">t</tspan>)/<tspan font-style="italic">dt</tspan></text>
<text transform="translate(375.2,391) rotate(-90)" font-family="Liberation Serif, serif" font-size="20" text-anchor="middle"><tspan font-style="italic">d</tspan>A(<tspan font-style="italic">t</tspan>)/<tspan font-style="italic">dt</tspan></text>
<text x="197" y="256" font-family="Liberation Serif, serif" font-size="20" text-anchor="middle">τ<tspan dy="6" font-size="16">2</tspan><tspan dy="-6"> (minutes)</tspan></text>
<text x="543.5" y="252" font-family="Liberation Serif, serif" font-size="20" text-anchor="middle">τ<tspan dy="6" font-size="16">2</tspan><tspan dy="-6"> (minutes)</tspan></text>
<text x="198.5" y="527" font-family="Liberation Serif, serif" font-size="20" text-anchor="middle"><tspan font-style="italic">A</tspan>(<tspan font-style="italic">t</tspan>)</text>
<text x="542.1" y="527" font-family="Liberation Serif, serif" font-size="20" text-anchor="middle"><tspan font-style="italic">A</tspan>(<tspan font-style="italic">t</tspan>)</text>
<text x="202.6" y="788.6" font-family="Liberation Serif, serif" font-size="21.3" text-anchor="middle"><tspan font-style="italic">f</tspan> (1/minute)</text>
<text x="539" y="788.6" font-family="Liberation Serif, serif" font-size="21.3" text-anchor="middle"><tspan font-style="italic">f</tspan> (1/minute)</text>
<text transform="translate(18.5,655.5) rotate(-90)" font-family="Liberation Serif, serif" font-size="22" font-style="italic" text-anchor="middle">I<tspan dy="6" font-size="17">A</tspan></text>
<text transform="translate(360.4,653) rotate(-90)" font-family="Liberation Serif, serif" font-size="22" font-style="italic" text-anchor="middle">I<tspan dy="6" font-size="17">A</tspan></text>
</svg>
</body></html>
